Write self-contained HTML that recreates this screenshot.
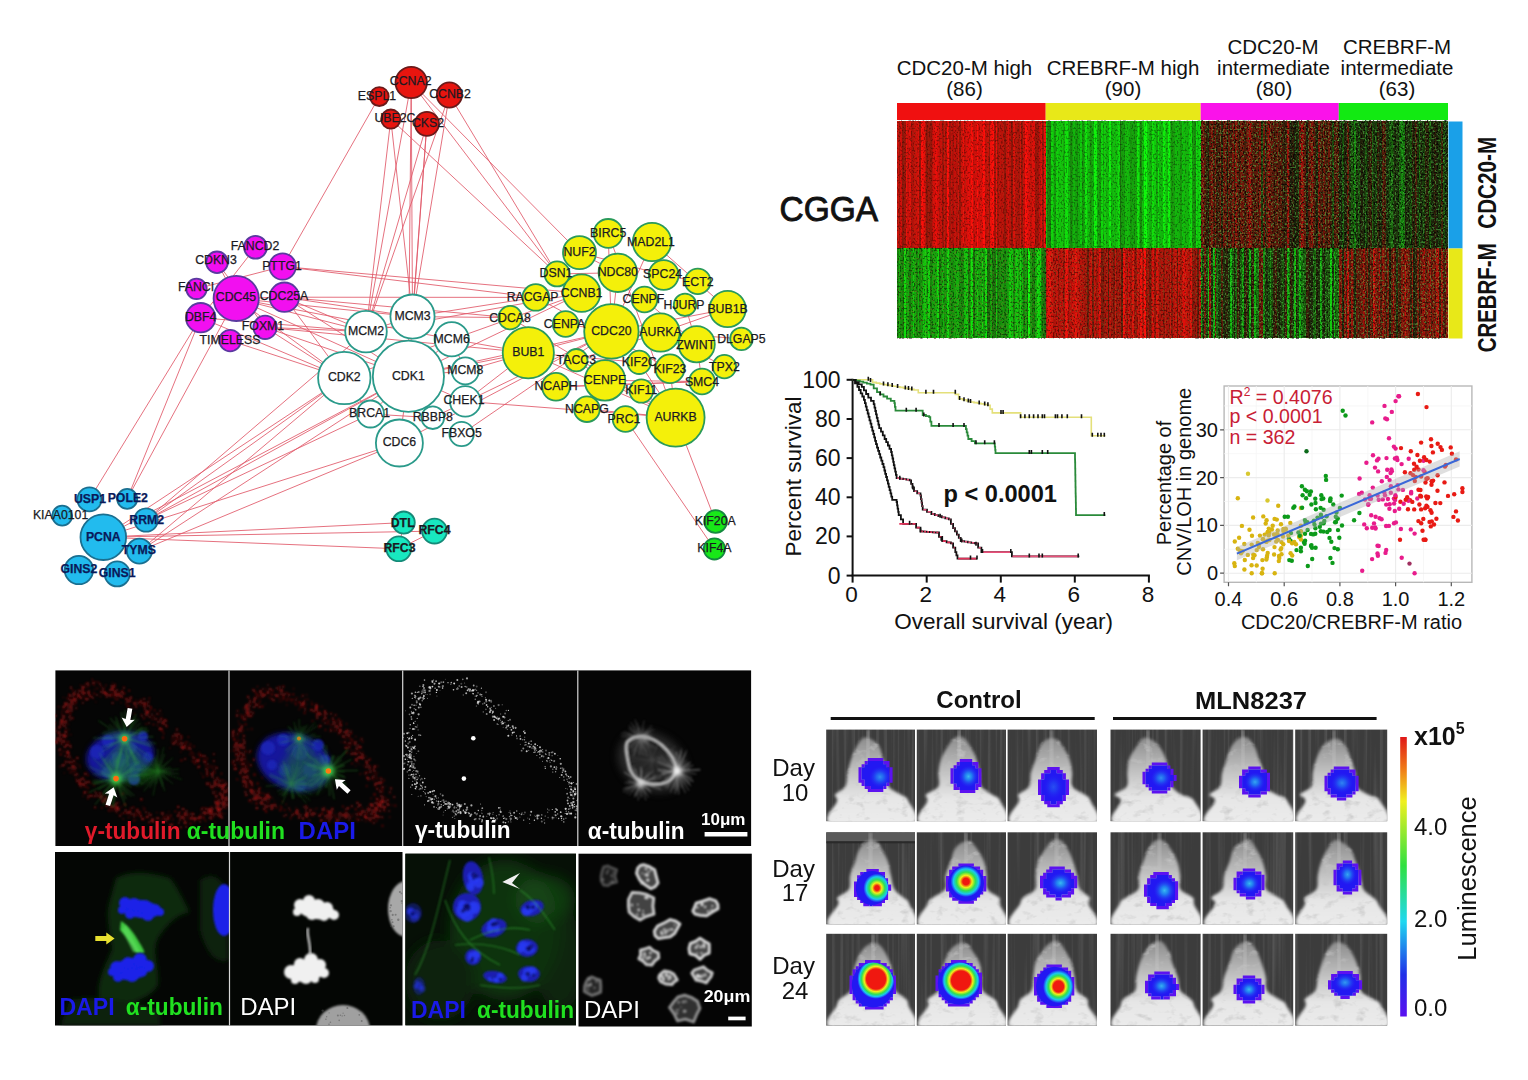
<!DOCTYPE html>
<html><head><meta charset="utf-8"><style>
html,body{margin:0;padding:0;background:#fff;width:1528px;height:1080px;overflow:hidden}
svg{display:block;font-family:"Liberation Sans",sans-serif}
</style></head><body>
<svg width="1528" height="1080" viewBox="0 0 1528 1080">
<g stroke="#e05868" stroke-width="1" stroke-opacity="0.85" fill="none">
<line x1="379.3" y1="96.6" x2="282.6" y2="266.5"/>
<line x1="390.8" y1="119.1" x2="557.1" y2="273.9"/>
<line x1="411.2" y1="82.5" x2="557.1" y2="273.9"/>
<line x1="449.4" y1="95" x2="557.1" y2="273.9"/>
<line x1="411.2" y1="82.5" x2="579.5" y2="252.6"/>
<line x1="390.8" y1="119.1" x2="366" y2="331.6"/>
<line x1="411.2" y1="82.5" x2="366" y2="331.6"/>
<line x1="426.9" y1="123.8" x2="366" y2="331.6"/>
<line x1="449.4" y1="95" x2="366" y2="331.6"/>
<line x1="411.2" y1="82.5" x2="412.5" y2="316.6"/>
<line x1="426.9" y1="123.8" x2="412.5" y2="316.6"/>
<line x1="449.4" y1="95" x2="412.5" y2="316.6"/>
<line x1="390.8" y1="119.1" x2="412.5" y2="316.6"/>
<line x1="411.2" y1="82.5" x2="408.4" y2="376.2"/>
<line x1="426.9" y1="123.8" x2="408.4" y2="376.2"/>
<line x1="282.6" y1="266.5" x2="535.8" y2="297.4"/>
<line x1="284.4" y1="297.2" x2="535.8" y2="297.4"/>
<line x1="282.6" y1="266.5" x2="581.6" y2="293.1"/>
<line x1="284.4" y1="297.2" x2="510.2" y2="317.6"/>
<line x1="284.4" y1="297.2" x2="366" y2="331.6"/>
<line x1="284.4" y1="297.2" x2="344.3" y2="378"/>
<line x1="284.4" y1="297.2" x2="408.4" y2="376.2"/>
<line x1="284.4" y1="297.2" x2="412.5" y2="316.6"/>
<line x1="265.1" y1="327.3" x2="366" y2="331.6"/>
<line x1="265.1" y1="327.3" x2="344.3" y2="378"/>
<line x1="265.1" y1="327.3" x2="408.4" y2="376.2"/>
<line x1="265.1" y1="327.3" x2="528.3" y2="352.7"/>
<line x1="236.2" y1="298.4" x2="366" y2="331.6"/>
<line x1="236.2" y1="298.4" x2="344.3" y2="378"/>
<line x1="236.2" y1="298.4" x2="412.5" y2="316.6"/>
<line x1="236.2" y1="298.4" x2="408.4" y2="376.2"/>
<line x1="236.2" y1="298.4" x2="451.7" y2="339.2"/>
<line x1="230.2" y1="340.6" x2="344.3" y2="378"/>
<line x1="200.7" y1="317.7" x2="344.3" y2="378"/>
<line x1="200.7" y1="317.7" x2="366" y2="331.6"/>
<line x1="89.4" y1="499.4" x2="200.7" y2="317.7"/>
<line x1="127.2" y1="498.9" x2="236.2" y2="298.4"/>
<line x1="127.2" y1="498.9" x2="200.7" y2="317.7"/>
<line x1="146.1" y1="520" x2="344.3" y2="378"/>
<line x1="146.1" y1="520" x2="408.4" y2="376.2"/>
<line x1="103.3" y1="537.2" x2="344.3" y2="378"/>
<line x1="103.3" y1="537.2" x2="408.4" y2="376.2"/>
<line x1="139.4" y1="551.1" x2="408.4" y2="376.2"/>
<line x1="139.4" y1="551.1" x2="399.4" y2="443"/>
<line x1="103.3" y1="537.2" x2="399.4" y2="443"/>
<line x1="146.1" y1="520" x2="366" y2="331.6"/>
<line x1="139.4" y1="551.1" x2="344.3" y2="378"/>
<line x1="146.1" y1="520" x2="370.5" y2="414"/>
<line x1="103.3" y1="537.2" x2="403.7" y2="522.6"/>
<line x1="103.3" y1="537.2" x2="434.5" y2="531.1"/>
<line x1="103.3" y1="537.2" x2="398.8" y2="548.8"/>
<line x1="398.8" y1="548.8" x2="434.5" y2="531.1"/>
<line x1="403.7" y1="522.6" x2="398.8" y2="548.8"/>
<line x1="625.5" y1="419" x2="714.4" y2="548.9"/>
<line x1="675.6" y1="417.6" x2="715.6" y2="521.5"/>
<line x1="366" y1="331.6" x2="412.5" y2="316.6"/>
<line x1="412.5" y1="316.6" x2="535.8" y2="297.4"/>
<line x1="366" y1="331.6" x2="581.6" y2="293.1"/>
<line x1="408.4" y1="376.2" x2="528.3" y2="352.7"/>
<line x1="408.4" y1="376.2" x2="611.4" y2="331.4"/>
<line x1="451.7" y1="339.2" x2="528.3" y2="352.7"/>
<line x1="465.3" y1="370.8" x2="528.3" y2="352.7"/>
<line x1="465.3" y1="401.4" x2="528.3" y2="352.7"/>
<line x1="408.4" y1="376.2" x2="581.6" y2="293.1"/>
<line x1="412.5" y1="316.6" x2="510.2" y2="317.6"/>
<line x1="344.3" y1="378" x2="581.6" y2="293.1"/>
<line x1="465.3" y1="401.4" x2="675.6" y2="417.6"/>
<line x1="432.8" y1="417.7" x2="611.4" y2="331.4"/>
<line x1="399.4" y1="443" x2="611.4" y2="331.4"/>
<line x1="461.6" y1="434" x2="611.4" y2="331.4"/>
<line x1="408.4" y1="376.2" x2="451.7" y2="339.2"/>
<line x1="408.4" y1="376.2" x2="465.3" y2="370.8"/>
<line x1="408.4" y1="376.2" x2="465.3" y2="401.4"/>
<line x1="408.4" y1="376.2" x2="370.5" y2="414"/>
<line x1="408.4" y1="376.2" x2="432.8" y2="417.7"/>
<line x1="408.4" y1="376.2" x2="399.4" y2="443"/>
<line x1="344.3" y1="378" x2="370.5" y2="414"/>
<line x1="370.5" y1="414" x2="432.8" y2="417.7"/>
<line x1="451.7" y1="339.2" x2="465.3" y2="370.8"/>
<line x1="236.2" y1="298.4" x2="284.4" y2="297.2"/>
<line x1="217" y1="262.3" x2="265.1" y2="327.3"/>
<line x1="196.5" y1="288.8" x2="282.6" y2="266.5"/>
<line x1="255.5" y1="247.3" x2="200.7" y2="317.7"/>
<line x1="217" y1="262.3" x2="236.2" y2="298.4"/>
<line x1="528.3" y1="352.7" x2="611.4" y2="331.4"/>
<line x1="528.3" y1="352.7" x2="675.6" y2="417.6"/>
<line x1="611.4" y1="331.4" x2="727.6" y2="309"/>
<line x1="660.5" y1="332.5" x2="727.6" y2="309"/>
<line x1="611.4" y1="331.4" x2="660.5" y2="332.5"/>
<line x1="581.6" y1="293.1" x2="611.4" y2="331.4"/>
<line x1="617.8" y1="272.8" x2="611.4" y2="331.4"/>
<line x1="579.5" y1="252.6" x2="617.8" y2="272.8"/>
<line x1="611.4" y1="331.4" x2="605" y2="380.4"/>
<line x1="605" y1="380.4" x2="675.6" y2="417.6"/>
<line x1="641.3" y1="391" x2="675.6" y2="417.6"/>
<line x1="670" y1="368.7" x2="675.6" y2="417.6"/>
<line x1="702" y1="381.5" x2="556" y2="386.8"/>
<line x1="586.9" y1="409.2" x2="675.6" y2="417.6"/>
<line x1="644.5" y1="299.5" x2="696.7" y2="344.2"/>
<line x1="652" y1="242" x2="727.6" y2="309"/>
<line x1="663.7" y1="275" x2="697.8" y2="281.4"/>
<line x1="685" y1="304.8" x2="696.7" y2="344.2"/>
<line x1="724.4" y1="366.6" x2="660.5" y2="332.5"/>
<line x1="741.4" y1="338.9" x2="660.5" y2="332.5"/>
<line x1="608.2" y1="233.4" x2="675.6" y2="417.6"/>
<line x1="579.5" y1="252.6" x2="663.7" y2="275"/>
<line x1="565.6" y1="324" x2="611.4" y2="331.4"/>
<line x1="535.8" y1="297.4" x2="670" y2="368.7"/>
<line x1="576.3" y1="360.2" x2="660.5" y2="332.5"/>
<line x1="528.3" y1="352.7" x2="639.2" y2="362.3"/>
<line x1="556" y1="386.8" x2="702" y2="381.5"/>
<line x1="557.1" y1="273.9" x2="617.8" y2="272.8"/>
<line x1="510.2" y1="317.6" x2="675.6" y2="417.6"/>
<line x1="605" y1="380.4" x2="702" y2="381.5"/>
<line x1="652" y1="242" x2="611.4" y2="331.4"/>
<line x1="608.2" y1="233.4" x2="611.4" y2="331.4"/>
<line x1="696.7" y1="344.2" x2="702" y2="381.5"/>
<line x1="639.2" y1="362.3" x2="675.6" y2="417.6"/>
<line x1="576.3" y1="360.2" x2="605" y2="380.4"/>
</g>
<g stroke-width="1.8">
<circle cx="411.2" cy="82.5" r="15.7" fill="#e8150f" stroke="#6a1a1a"/>
<circle cx="379.3" cy="96.6" r="9.4" fill="#e8150f" stroke="#6a1a1a"/>
<circle cx="449.4" cy="95" r="12.6" fill="#e8150f" stroke="#6a1a1a"/>
<circle cx="390.8" cy="119.1" r="9.6" fill="#e8150f" stroke="#6a1a1a"/>
<circle cx="426.9" cy="123.8" r="12" fill="#e8150f" stroke="#6a1a1a"/>
<circle cx="255.5" cy="247.3" r="11.4" fill="#f20ff0" stroke="#5a3aa0"/>
<circle cx="217" cy="262.3" r="10.8" fill="#f20ff0" stroke="#5a3aa0"/>
<circle cx="282.6" cy="266.5" r="13.2" fill="#f20ff0" stroke="#5a3aa0"/>
<circle cx="196.5" cy="288.8" r="10.2" fill="#f20ff0" stroke="#5a3aa0"/>
<circle cx="236.2" cy="298.4" r="22.6" fill="#f20ff0" stroke="#5a3aa0"/>
<circle cx="284.4" cy="297.2" r="14.7" fill="#f20ff0" stroke="#5a3aa0"/>
<circle cx="200.7" cy="317.7" r="14.7" fill="#f20ff0" stroke="#5a3aa0"/>
<circle cx="265.1" cy="327.3" r="11.7" fill="#f20ff0" stroke="#5a3aa0"/>
<circle cx="230.2" cy="340.6" r="10.8" fill="#f20ff0" stroke="#5a3aa0"/>
<circle cx="412.5" cy="316.6" r="22.1" fill="#ffffff" stroke="#2a9a8a"/>
<circle cx="366" cy="331.6" r="20.8" fill="#ffffff" stroke="#2a9a8a"/>
<circle cx="451.7" cy="339.2" r="17.1" fill="#ffffff" stroke="#2a9a8a"/>
<circle cx="344.3" cy="378" r="26.2" fill="#ffffff" stroke="#2a9a8a"/>
<circle cx="408.4" cy="376.2" r="35.6" fill="#ffffff" stroke="#2a9a8a"/>
<circle cx="465.3" cy="370.8" r="13.5" fill="#ffffff" stroke="#2a9a8a"/>
<circle cx="465.3" cy="401.4" r="15.3" fill="#ffffff" stroke="#2a9a8a"/>
<circle cx="370.5" cy="414" r="13.5" fill="#ffffff" stroke="#2a9a8a"/>
<circle cx="432.8" cy="417.7" r="11.3" fill="#ffffff" stroke="#2a9a8a"/>
<circle cx="461.6" cy="434" r="12.2" fill="#ffffff" stroke="#2a9a8a"/>
<circle cx="399.4" cy="443" r="23.5" fill="#ffffff" stroke="#2a9a8a"/>
<circle cx="608.2" cy="233.4" r="14.4" fill="#f4f00a" stroke="#2a9a5a"/>
<circle cx="579.5" cy="252.6" r="16.5" fill="#f4f00a" stroke="#2a9a5a"/>
<circle cx="557.1" cy="273.9" r="12.5" fill="#f4f00a" stroke="#2a9a5a"/>
<circle cx="617.8" cy="272.8" r="19.2" fill="#f4f00a" stroke="#2a9a5a"/>
<circle cx="581.6" cy="293.1" r="18.7" fill="#f4f00a" stroke="#2a9a5a"/>
<circle cx="535.8" cy="297.4" r="13.3" fill="#f4f00a" stroke="#2a9a5a"/>
<circle cx="510.2" cy="317.6" r="11.7" fill="#f4f00a" stroke="#2a9a5a"/>
<circle cx="565.6" cy="324" r="12.8" fill="#f4f00a" stroke="#2a9a5a"/>
<circle cx="611.4" cy="331.4" r="27.2" fill="#f4f00a" stroke="#2a9a5a"/>
<circle cx="528.3" cy="352.7" r="25.6" fill="#f4f00a" stroke="#2a9a5a"/>
<circle cx="576.3" cy="360.2" r="11.2" fill="#f4f00a" stroke="#2a9a5a"/>
<circle cx="605" cy="380.4" r="20.3" fill="#f4f00a" stroke="#2a9a5a"/>
<circle cx="556" cy="386.8" r="13.9" fill="#f4f00a" stroke="#2a9a5a"/>
<circle cx="586.9" cy="409.2" r="12.8" fill="#f4f00a" stroke="#2a9a5a"/>
<circle cx="625.5" cy="419" r="12.8" fill="#f4f00a" stroke="#2a9a5a"/>
<circle cx="652" cy="242" r="19.2" fill="#f4f00a" stroke="#2a9a5a"/>
<circle cx="663.7" cy="275" r="14.9" fill="#f4f00a" stroke="#2a9a5a"/>
<circle cx="697.8" cy="281.4" r="12.8" fill="#f4f00a" stroke="#2a9a5a"/>
<circle cx="644.5" cy="299.5" r="12.8" fill="#f4f00a" stroke="#2a9a5a"/>
<circle cx="685" cy="304.8" r="11.2" fill="#f4f00a" stroke="#2a9a5a"/>
<circle cx="727.6" cy="309" r="18.1" fill="#f4f00a" stroke="#2a9a5a"/>
<circle cx="660.5" cy="332.5" r="19.2" fill="#f4f00a" stroke="#2a9a5a"/>
<circle cx="696.7" cy="344.2" r="18.1" fill="#f4f00a" stroke="#2a9a5a"/>
<circle cx="741.4" cy="338.9" r="11.2" fill="#f4f00a" stroke="#2a9a5a"/>
<circle cx="639.2" cy="362.3" r="11.7" fill="#f4f00a" stroke="#2a9a5a"/>
<circle cx="670" cy="368.7" r="14.4" fill="#f4f00a" stroke="#2a9a5a"/>
<circle cx="724.4" cy="366.6" r="11.7" fill="#f4f00a" stroke="#2a9a5a"/>
<circle cx="702" cy="381.5" r="12.8" fill="#f4f00a" stroke="#2a9a5a"/>
<circle cx="641.3" cy="391" r="11.7" fill="#f4f00a" stroke="#2a9a5a"/>
<circle cx="675.6" cy="417.6" r="29" fill="#f4f00a" stroke="#2a9a5a"/>
<circle cx="89.4" cy="499.4" r="12" fill="#22bbee" stroke="#1a6f90"/>
<circle cx="127.2" cy="498.9" r="10" fill="#22bbee" stroke="#1a6f90"/>
<circle cx="62.2" cy="515.6" r="10" fill="#22bbee" stroke="#1a6f90"/>
<circle cx="146.1" cy="520" r="11.7" fill="#22bbee" stroke="#1a6f90"/>
<circle cx="103.3" cy="537.2" r="22.8" fill="#22bbee" stroke="#1a6f90"/>
<circle cx="139.4" cy="551.1" r="12.5" fill="#22bbee" stroke="#1a6f90"/>
<circle cx="78.9" cy="570" r="14.2" fill="#22bbee" stroke="#1a6f90"/>
<circle cx="117.2" cy="573.9" r="12.5" fill="#22bbee" stroke="#1a6f90"/>
<circle cx="403.7" cy="522.6" r="11.1" fill="#18e8c0" stroke="#158a78"/>
<circle cx="434.5" cy="531.1" r="12.4" fill="#18e8c0" stroke="#158a78"/>
<circle cx="398.8" cy="548.8" r="12.4" fill="#18e8c0" stroke="#158a78"/>
<circle cx="715.6" cy="521.5" r="11.3" fill="#18e818" stroke="#158a40"/>
<circle cx="714.4" cy="548.9" r="10.6" fill="#18e818" stroke="#158a40"/>
</g>
<g font-size="12.3" text-anchor="middle" fill="#1a1a22" stroke="#1a1a22" stroke-width="0.25" dominant-baseline="central">
<text x="410.7" y="81.4">CCNA2</text>
<text x="377" y="95.9">ESPL1</text>
<text x="450" y="94.4">CCNB2</text>
<text x="395" y="118.4">UBE2C</text>
<text x="428" y="123.4">CKS2</text>
<text x="255" y="246.4">FANCD2</text>
<text x="216" y="260.4">CDKN3</text>
<text x="282" y="265.9">PTTG1</text>
<text x="196" y="287.4">FANCI</text>
<text x="236" y="297.4">CDC45</text>
<text x="284" y="296.4">CDC25A</text>
<text x="200.7" y="317.1">DBF4</text>
<text x="263" y="326.4">FOXM1</text>
<text x="230" y="340">TIMELESS</text>
<text x="412.5" y="316">MCM3</text>
<text x="366" y="331">MCM2</text>
<text x="451.7" y="338.6">MCM6</text>
<text x="344.3" y="377.4">CDK2</text>
<text x="408.4" y="375.6">CDK1</text>
<text x="465.3" y="370.2">MCM8</text>
<text x="464" y="400.4">CHEK1</text>
<text x="369.6" y="413.4">BRCA1</text>
<text x="432.8" y="417.1">RBBP8</text>
<text x="461.6" y="433.4">FBXO5</text>
<text x="399.4" y="442.4">CDC6</text>
<text x="608.2" y="232.8">BIRC5</text>
<text x="579.5" y="252">NUF2</text>
<text x="556" y="273.4">DSN1</text>
<text x="617.8" y="272.2">NDC80</text>
<text x="581.6" y="292.5">CCNB1</text>
<text x="532.6" y="296.8">RACGAP</text>
<text x="510" y="318">CDCA8</text>
<text x="564.6" y="324.4">CENPA</text>
<text x="611.4" y="330.8">CDC20</text>
<text x="528.3" y="352.1">BUB1</text>
<text x="576.3" y="359.6">TACC3</text>
<text x="605" y="379.8">CENPE</text>
<text x="556" y="386.2">NCAPH</text>
<text x="586.9" y="408.6">NCAPG</text>
<text x="624" y="419.4">PRC1</text>
<text x="651" y="242.4">MAD2L1</text>
<text x="662.6" y="274.4">SPC24</text>
<text x="697.8" y="281.8">ECT2</text>
<text x="643.4" y="298.9">CENPF</text>
<text x="684" y="305.4">HJURP</text>
<text x="727.6" y="309.4">BUB1B</text>
<text x="660.5" y="331.9">AURKA</text>
<text x="695.6" y="344.7">ZWINT</text>
<text x="741.4" y="339.4">DLGAP5</text>
<text x="639.2" y="361.7">KIF2C</text>
<text x="670" y="369.2">KIF23</text>
<text x="724.4" y="367">TPX2</text>
<text x="702" y="382">SMC4</text>
<text x="641.3" y="390.4">KIF11</text>
<text x="675.6" y="417">AURKB</text>
<text x="90" y="498.8" fill="#0a1a5a" stroke="#0a1a5a" font-weight="bold">USP1</text>
<text x="127.8" y="498.4" fill="#0a1a5a" stroke="#0a1a5a" font-weight="bold">POLE2</text>
<text x="60.6" y="515.4">KIAA0101</text>
<text x="146.7" y="520" fill="#0a1a5a" stroke="#0a1a5a" font-weight="bold">RRM2</text>
<text x="103.3" y="536.6" fill="#0a1a5a" stroke="#0a1a5a" font-weight="bold">PCNA</text>
<text x="138.9" y="550.4" fill="#0a1a5a" stroke="#0a1a5a" font-weight="bold">TYMS</text>
<text x="78.9" y="569.4" fill="#0a1a5a" stroke="#0a1a5a" font-weight="bold">GINS2</text>
<text x="117.2" y="573.4" fill="#0a1a5a" stroke="#0a1a5a" font-weight="bold">GINS1</text>
<text x="402.7" y="523" font-weight="bold">DTL</text>
<text x="434.5" y="530.2" font-weight="bold">RFC4</text>
<text x="399.5" y="547.8" font-weight="bold">RFC3</text>
<text x="715.2" y="521.3">KIF20A</text>
<text x="714.4" y="547.9">KIF4A</text>
</g>
<g font-size="20.5" text-anchor="middle" fill="#111">
<text x="964.5" y="75">CDC20-M high</text><text x="964.5" y="95.5">(86)</text>
<text x="1123" y="75">CREBRF-M high</text><text x="1123" y="95.5">(90)</text>
<text x="1273" y="53.5">CDC20-M</text><text x="1273.5" y="74.5">intermediate</text><text x="1274" y="95.5">(80)</text>
<text x="1397" y="53.5">CREBRF-M</text><text x="1397" y="74.5">intermediate</text><text x="1397" y="95.5">(63)</text>
</g>
<text x="779.5" y="220.8" font-size="35.5" fill="#111" stroke="#111" stroke-width="0.9" textLength="98.5" lengthAdjust="spacingAndGlyphs">CGGA</text>
<rect x="897" y="103" width="148.70000000000005" height="17" fill="#f01010"/>
<rect x="1045.7" y="103" width="155.0" height="17" fill="#e8e818"/>
<rect x="1200.7" y="103" width="138.0999999999999" height="17" fill="#fa12ea"/>
<rect x="1338.8" y="103" width="109.20000000000005" height="17" fill="#12ea12"/>
<rect x="1448.5" y="121.5" width="14" height="127" fill="#1aa0e8"/>
<rect x="1448.5" y="248.5" width="14" height="90" fill="#e8e818"/>
<text transform="translate(1495.5,182.8) rotate(-90)" font-size="25" font-weight="bold" text-anchor="middle" fill="#111" textLength="92" lengthAdjust="spacingAndGlyphs">CDC20-M</text>
<text transform="translate(1495.5,297.8) rotate(-90)" font-size="25" font-weight="bold" text-anchor="middle" fill="#111" textLength="109" lengthAdjust="spacingAndGlyphs">CREBRF-M</text>
<g shape-rendering="crispEdges"><rect x="897.00" y="120.5" width="2.03" height="127.8" fill="#cb110a"/><rect x="897.00" y="248.3" width="2.03" height="89.9" fill="#15870c"/><rect x="898.73" y="120.5" width="2.03" height="127.8" fill="#9e130a"/><rect x="898.73" y="248.3" width="2.03" height="89.9" fill="#13b10c"/><rect x="900.46" y="120.5" width="2.03" height="127.8" fill="#d00e0a"/><rect x="900.46" y="248.3" width="2.03" height="89.9" fill="#14900c"/><rect x="902.19" y="120.5" width="2.03" height="127.8" fill="#8e150a"/><rect x="902.19" y="248.3" width="2.03" height="89.9" fill="#17820c"/><rect x="903.92" y="120.5" width="2.03" height="127.8" fill="#9f150a"/><rect x="903.92" y="248.3" width="2.03" height="89.9" fill="#0edd0c"/><rect x="905.65" y="120.5" width="2.03" height="127.8" fill="#e7100a"/><rect x="905.65" y="248.3" width="2.03" height="89.9" fill="#13a20c"/><rect x="907.37" y="120.5" width="2.03" height="127.8" fill="#ca100a"/><rect x="907.37" y="248.3" width="2.03" height="89.9" fill="#15a80c"/><rect x="909.10" y="120.5" width="2.03" height="127.8" fill="#e20f0a"/><rect x="909.10" y="248.3" width="2.03" height="89.9" fill="#187c0c"/><rect x="910.83" y="120.5" width="2.03" height="127.8" fill="#ad120a"/><rect x="910.83" y="248.3" width="2.03" height="89.9" fill="#13a00c"/><rect x="912.56" y="120.5" width="2.03" height="127.8" fill="#b6120a"/><rect x="912.56" y="248.3" width="2.03" height="89.9" fill="#10ce0c"/><rect x="914.29" y="120.5" width="2.03" height="127.8" fill="#c2130a"/><rect x="914.29" y="248.3" width="2.03" height="89.9" fill="#14a90c"/><rect x="916.02" y="120.5" width="2.03" height="127.8" fill="#ce110a"/><rect x="916.02" y="248.3" width="2.03" height="89.9" fill="#18880c"/><rect x="917.75" y="120.5" width="2.03" height="127.8" fill="#e0110a"/><rect x="917.75" y="248.3" width="2.03" height="89.9" fill="#11b30c"/><rect x="919.48" y="120.5" width="2.03" height="127.8" fill="#94150a"/><rect x="919.48" y="248.3" width="2.03" height="89.9" fill="#168c0c"/><rect x="921.21" y="120.5" width="2.03" height="127.8" fill="#fb0e0a"/><rect x="921.21" y="248.3" width="2.03" height="89.9" fill="#159f0c"/><rect x="922.94" y="120.5" width="2.03" height="127.8" fill="#e70f0a"/><rect x="922.94" y="248.3" width="2.03" height="89.9" fill="#11c30c"/><rect x="924.67" y="120.5" width="2.03" height="127.8" fill="#bf130a"/><rect x="924.67" y="248.3" width="2.03" height="89.9" fill="#12d00c"/><rect x="926.39" y="120.5" width="2.03" height="127.8" fill="#91150a"/><rect x="926.39" y="248.3" width="2.03" height="89.9" fill="#14a90c"/><rect x="928.12" y="120.5" width="2.03" height="127.8" fill="#a2160a"/><rect x="928.12" y="248.3" width="2.03" height="89.9" fill="#0ed60c"/><rect x="929.85" y="120.5" width="2.03" height="127.8" fill="#98140a"/><rect x="929.85" y="248.3" width="2.03" height="89.9" fill="#17860c"/><rect x="931.58" y="120.5" width="2.03" height="127.8" fill="#bb100a"/><rect x="931.58" y="248.3" width="2.03" height="89.9" fill="#15a40c"/><rect x="933.31" y="120.5" width="2.03" height="127.8" fill="#d40f0a"/><rect x="933.31" y="248.3" width="2.03" height="89.9" fill="#15a40c"/><rect x="935.04" y="120.5" width="2.03" height="127.8" fill="#e90e0a"/><rect x="935.04" y="248.3" width="2.03" height="89.9" fill="#15a50c"/><rect x="936.77" y="120.5" width="2.03" height="127.8" fill="#d60e0a"/><rect x="936.77" y="248.3" width="2.03" height="89.9" fill="#0ede0c"/><rect x="938.50" y="120.5" width="2.03" height="127.8" fill="#b9140a"/><rect x="938.50" y="248.3" width="2.03" height="89.9" fill="#19680c"/><rect x="940.23" y="120.5" width="2.03" height="127.8" fill="#c6100a"/><rect x="940.23" y="248.3" width="2.03" height="89.9" fill="#16920c"/><rect x="941.96" y="120.5" width="2.03" height="127.8" fill="#a2130a"/><rect x="941.96" y="248.3" width="2.03" height="89.9" fill="#12b40c"/><rect x="943.68" y="120.5" width="2.03" height="127.8" fill="#c7130a"/><rect x="943.68" y="248.3" width="2.03" height="89.9" fill="#178f0c"/><rect x="945.41" y="120.5" width="2.03" height="127.8" fill="#ac150a"/><rect x="945.41" y="248.3" width="2.03" height="89.9" fill="#139a0c"/><rect x="947.14" y="120.5" width="2.03" height="127.8" fill="#ff0e0a"/><rect x="947.14" y="248.3" width="2.03" height="89.9" fill="#10dc0c"/><rect x="948.87" y="120.5" width="2.03" height="127.8" fill="#a3130a"/><rect x="948.87" y="248.3" width="2.03" height="89.9" fill="#16980c"/><rect x="950.60" y="120.5" width="2.03" height="127.8" fill="#c6100a"/><rect x="950.60" y="248.3" width="2.03" height="89.9" fill="#14960c"/><rect x="952.33" y="120.5" width="2.03" height="127.8" fill="#ae110a"/><rect x="952.33" y="248.3" width="2.03" height="89.9" fill="#14920c"/><rect x="954.06" y="120.5" width="2.03" height="127.8" fill="#c60f0a"/><rect x="954.06" y="248.3" width="2.03" height="89.9" fill="#16a30c"/><rect x="955.79" y="120.5" width="2.03" height="127.8" fill="#b4120a"/><rect x="955.79" y="248.3" width="2.03" height="89.9" fill="#12af0c"/><rect x="957.52" y="120.5" width="2.03" height="127.8" fill="#d3120a"/><rect x="957.52" y="248.3" width="2.03" height="89.9" fill="#15af0c"/><rect x="959.25" y="120.5" width="2.03" height="127.8" fill="#9a140a"/><rect x="959.25" y="248.3" width="2.03" height="89.9" fill="#14910c"/><rect x="960.98" y="120.5" width="2.03" height="127.8" fill="#cf120a"/><rect x="960.98" y="248.3" width="2.03" height="89.9" fill="#16860c"/><rect x="962.70" y="120.5" width="2.03" height="127.8" fill="#ed0e0a"/><rect x="962.70" y="248.3" width="2.03" height="89.9" fill="#158f0c"/><rect x="964.43" y="120.5" width="2.03" height="127.8" fill="#c6110a"/><rect x="964.43" y="248.3" width="2.03" height="89.9" fill="#13c00c"/><rect x="966.16" y="120.5" width="2.03" height="127.8" fill="#da0e0a"/><rect x="966.16" y="248.3" width="2.03" height="89.9" fill="#0fca0c"/><rect x="967.89" y="120.5" width="2.03" height="127.8" fill="#e50e0a"/><rect x="967.89" y="248.3" width="2.03" height="89.9" fill="#197e0c"/><rect x="969.62" y="120.5" width="2.03" height="127.8" fill="#d1120a"/><rect x="969.62" y="248.3" width="2.03" height="89.9" fill="#16a50c"/><rect x="971.35" y="120.5" width="2.03" height="127.8" fill="#fc0e0a"/><rect x="971.35" y="248.3" width="2.03" height="89.9" fill="#0ee80c"/><rect x="973.08" y="120.5" width="2.03" height="127.8" fill="#c9100a"/><rect x="973.08" y="248.3" width="2.03" height="89.9" fill="#18710c"/><rect x="974.81" y="120.5" width="2.03" height="127.8" fill="#d40e0a"/><rect x="974.81" y="248.3" width="2.03" height="89.9" fill="#14ac0c"/><rect x="976.54" y="120.5" width="2.03" height="127.8" fill="#ff0e0a"/><rect x="976.54" y="248.3" width="2.03" height="89.9" fill="#12c90c"/><rect x="978.27" y="120.5" width="2.03" height="127.8" fill="#d50e0a"/><rect x="978.27" y="248.3" width="2.03" height="89.9" fill="#13a60c"/><rect x="980.00" y="120.5" width="2.03" height="127.8" fill="#d8100a"/><rect x="980.00" y="248.3" width="2.03" height="89.9" fill="#16a20c"/><rect x="981.72" y="120.5" width="2.03" height="127.8" fill="#e50f0a"/><rect x="981.72" y="248.3" width="2.03" height="89.9" fill="#10d90c"/><rect x="983.45" y="120.5" width="2.03" height="127.8" fill="#ff0e0a"/><rect x="983.45" y="248.3" width="2.03" height="89.9" fill="#16990c"/><rect x="985.18" y="120.5" width="2.03" height="127.8" fill="#bb110a"/><rect x="985.18" y="248.3" width="2.03" height="89.9" fill="#0fdf0c"/><rect x="986.91" y="120.5" width="2.03" height="127.8" fill="#c7130a"/><rect x="986.91" y="248.3" width="2.03" height="89.9" fill="#19700c"/><rect x="988.64" y="120.5" width="2.03" height="127.8" fill="#9c160a"/><rect x="988.64" y="248.3" width="2.03" height="89.9" fill="#196f0c"/><rect x="990.37" y="120.5" width="2.03" height="127.8" fill="#ec100a"/><rect x="990.37" y="248.3" width="2.03" height="89.9" fill="#15a70c"/><rect x="992.10" y="120.5" width="2.03" height="127.8" fill="#ff0e0a"/><rect x="992.10" y="248.3" width="2.03" height="89.9" fill="#197a0c"/><rect x="993.83" y="120.5" width="2.03" height="127.8" fill="#a6130a"/><rect x="993.83" y="248.3" width="2.03" height="89.9" fill="#17760c"/><rect x="995.56" y="120.5" width="2.03" height="127.8" fill="#ed0e0a"/><rect x="995.56" y="248.3" width="2.03" height="89.9" fill="#13c50c"/><rect x="997.29" y="120.5" width="2.03" height="127.8" fill="#a4160a"/><rect x="997.29" y="248.3" width="2.03" height="89.9" fill="#16830c"/><rect x="999.02" y="120.5" width="2.03" height="127.8" fill="#be110a"/><rect x="999.02" y="248.3" width="2.03" height="89.9" fill="#168f0c"/><rect x="1000.74" y="120.5" width="2.03" height="127.8" fill="#b7110a"/><rect x="1000.74" y="248.3" width="2.03" height="89.9" fill="#17930c"/><rect x="1002.47" y="120.5" width="2.03" height="127.8" fill="#bc130a"/><rect x="1002.47" y="248.3" width="2.03" height="89.9" fill="#17990c"/><rect x="1004.20" y="120.5" width="2.03" height="127.8" fill="#94160a"/><rect x="1004.20" y="248.3" width="2.03" height="89.9" fill="#17850c"/><rect x="1005.93" y="120.5" width="2.03" height="127.8" fill="#c3110a"/><rect x="1005.93" y="248.3" width="2.03" height="89.9" fill="#139d0c"/><rect x="1007.66" y="120.5" width="2.03" height="127.8" fill="#d80e0a"/><rect x="1007.66" y="248.3" width="2.03" height="89.9" fill="#14a60c"/><rect x="1009.39" y="120.5" width="2.03" height="127.8" fill="#bd110a"/><rect x="1009.39" y="248.3" width="2.03" height="89.9" fill="#0fd50c"/><rect x="1011.12" y="120.5" width="2.03" height="127.8" fill="#8e150a"/><rect x="1011.12" y="248.3" width="2.03" height="89.9" fill="#11c00c"/><rect x="1012.85" y="120.5" width="2.03" height="127.8" fill="#d9110a"/><rect x="1012.85" y="248.3" width="2.03" height="89.9" fill="#168e0c"/><rect x="1014.58" y="120.5" width="2.03" height="127.8" fill="#b0150a"/><rect x="1014.58" y="248.3" width="2.03" height="89.9" fill="#11bc0c"/><rect x="1016.31" y="120.5" width="2.03" height="127.8" fill="#b3130a"/><rect x="1016.31" y="248.3" width="2.03" height="89.9" fill="#11cd0c"/><rect x="1018.03" y="120.5" width="2.03" height="127.8" fill="#a9140a"/><rect x="1018.03" y="248.3" width="2.03" height="89.9" fill="#15ae0c"/><rect x="1019.76" y="120.5" width="2.03" height="127.8" fill="#ce120a"/><rect x="1019.76" y="248.3" width="2.03" height="89.9" fill="#0ed50c"/><rect x="1021.49" y="120.5" width="2.03" height="127.8" fill="#99170a"/><rect x="1021.49" y="248.3" width="2.03" height="89.9" fill="#10b50c"/><rect x="1023.22" y="120.5" width="2.03" height="127.8" fill="#c90f0a"/><rect x="1023.22" y="248.3" width="2.03" height="89.9" fill="#16860c"/><rect x="1024.95" y="120.5" width="2.03" height="127.8" fill="#fc0e0a"/><rect x="1024.95" y="248.3" width="2.03" height="89.9" fill="#16a10c"/><rect x="1026.68" y="120.5" width="2.03" height="127.8" fill="#ee0e0a"/><rect x="1026.68" y="248.3" width="2.03" height="89.9" fill="#18710c"/><rect x="1028.41" y="120.5" width="2.03" height="127.8" fill="#db0e0a"/><rect x="1028.41" y="248.3" width="2.03" height="89.9" fill="#0efc0c"/><rect x="1030.14" y="120.5" width="2.03" height="127.8" fill="#c7130a"/><rect x="1030.14" y="248.3" width="2.03" height="89.9" fill="#169d0c"/><rect x="1031.87" y="120.5" width="2.03" height="127.8" fill="#dc0f0a"/><rect x="1031.87" y="248.3" width="2.03" height="89.9" fill="#17840c"/><rect x="1033.60" y="120.5" width="2.03" height="127.8" fill="#df100a"/><rect x="1033.60" y="248.3" width="2.03" height="89.9" fill="#167c0c"/><rect x="1035.33" y="120.5" width="2.03" height="127.8" fill="#9a140a"/><rect x="1035.33" y="248.3" width="2.03" height="89.9" fill="#12ae0c"/><rect x="1037.05" y="120.5" width="2.03" height="127.8" fill="#a0130a"/><rect x="1037.05" y="248.3" width="2.03" height="89.9" fill="#10de0c"/><rect x="1038.78" y="120.5" width="2.03" height="127.8" fill="#c80f0a"/><rect x="1038.78" y="248.3" width="2.03" height="89.9" fill="#0ed50c"/><rect x="1040.51" y="120.5" width="2.03" height="127.8" fill="#de0e0a"/><rect x="1040.51" y="248.3" width="2.03" height="89.9" fill="#158c0c"/><rect x="1042.24" y="120.5" width="2.03" height="127.8" fill="#a1160a"/><rect x="1042.24" y="248.3" width="2.03" height="89.9" fill="#177d0c"/><rect x="1043.97" y="120.5" width="2.03" height="127.8" fill="#ef0e0a"/><rect x="1043.97" y="248.3" width="2.03" height="89.9" fill="#1a700c"/><rect x="1045.70" y="120.5" width="2.02" height="127.8" fill="#12bd0c"/><rect x="1045.70" y="248.3" width="2.02" height="89.9" fill="#b6130a"/><rect x="1047.42" y="120.5" width="2.02" height="127.8" fill="#17880c"/><rect x="1047.42" y="248.3" width="2.02" height="89.9" fill="#e4100a"/><rect x="1049.14" y="120.5" width="2.02" height="127.8" fill="#167f0c"/><rect x="1049.14" y="248.3" width="2.02" height="89.9" fill="#e6100a"/><rect x="1050.87" y="120.5" width="2.02" height="127.8" fill="#0fd60c"/><rect x="1050.87" y="248.3" width="2.02" height="89.9" fill="#cf120a"/><rect x="1052.59" y="120.5" width="2.02" height="127.8" fill="#11bf0c"/><rect x="1052.59" y="248.3" width="2.02" height="89.9" fill="#b7110a"/><rect x="1054.31" y="120.5" width="2.02" height="127.8" fill="#139c0c"/><rect x="1054.31" y="248.3" width="2.02" height="89.9" fill="#b1120a"/><rect x="1056.03" y="120.5" width="2.02" height="127.8" fill="#11d20c"/><rect x="1056.03" y="248.3" width="2.02" height="89.9" fill="#c2110a"/><rect x="1057.76" y="120.5" width="2.02" height="127.8" fill="#10c50c"/><rect x="1057.76" y="248.3" width="2.02" height="89.9" fill="#9e130a"/><rect x="1059.48" y="120.5" width="2.02" height="127.8" fill="#11c70c"/><rect x="1059.48" y="248.3" width="2.02" height="89.9" fill="#bb130a"/><rect x="1061.20" y="120.5" width="2.02" height="127.8" fill="#13c40c"/><rect x="1061.20" y="248.3" width="2.02" height="89.9" fill="#c0100a"/><rect x="1062.92" y="120.5" width="2.02" height="127.8" fill="#13b00c"/><rect x="1062.92" y="248.3" width="2.02" height="89.9" fill="#a1160a"/><rect x="1064.64" y="120.5" width="2.02" height="127.8" fill="#0fdf0c"/><rect x="1064.64" y="248.3" width="2.02" height="89.9" fill="#e3110a"/><rect x="1066.37" y="120.5" width="2.02" height="127.8" fill="#0fe30c"/><rect x="1066.37" y="248.3" width="2.02" height="89.9" fill="#ee0e0a"/><rect x="1068.09" y="120.5" width="2.02" height="127.8" fill="#0fba0c"/><rect x="1068.09" y="248.3" width="2.02" height="89.9" fill="#b2110a"/><rect x="1069.81" y="120.5" width="2.02" height="127.8" fill="#168b0c"/><rect x="1069.81" y="248.3" width="2.02" height="89.9" fill="#b9110a"/><rect x="1071.53" y="120.5" width="2.02" height="127.8" fill="#169d0c"/><rect x="1071.53" y="248.3" width="2.02" height="89.9" fill="#db100a"/><rect x="1073.26" y="120.5" width="2.02" height="127.8" fill="#11b60c"/><rect x="1073.26" y="248.3" width="2.02" height="89.9" fill="#c9110a"/><rect x="1074.98" y="120.5" width="2.02" height="127.8" fill="#13a20c"/><rect x="1074.98" y="248.3" width="2.02" height="89.9" fill="#e8100a"/><rect x="1076.70" y="120.5" width="2.02" height="127.8" fill="#15910c"/><rect x="1076.70" y="248.3" width="2.02" height="89.9" fill="#c0140a"/><rect x="1078.42" y="120.5" width="2.02" height="127.8" fill="#11ad0c"/><rect x="1078.42" y="248.3" width="2.02" height="89.9" fill="#c9100a"/><rect x="1080.14" y="120.5" width="2.02" height="127.8" fill="#0ecb0c"/><rect x="1080.14" y="248.3" width="2.02" height="89.9" fill="#ba120a"/><rect x="1081.87" y="120.5" width="2.02" height="127.8" fill="#14960c"/><rect x="1081.87" y="248.3" width="2.02" height="89.9" fill="#b0130a"/><rect x="1083.59" y="120.5" width="2.02" height="127.8" fill="#12ae0c"/><rect x="1083.59" y="248.3" width="2.02" height="89.9" fill="#a9130a"/><rect x="1085.31" y="120.5" width="2.02" height="127.8" fill="#0fe60c"/><rect x="1085.31" y="248.3" width="2.02" height="89.9" fill="#a5150a"/><rect x="1087.03" y="120.5" width="2.02" height="127.8" fill="#10c20c"/><rect x="1087.03" y="248.3" width="2.02" height="89.9" fill="#6e1a0a"/><rect x="1088.76" y="120.5" width="2.02" height="127.8" fill="#13b70c"/><rect x="1088.76" y="248.3" width="2.02" height="89.9" fill="#b8130a"/><rect x="1090.48" y="120.5" width="2.02" height="127.8" fill="#17990c"/><rect x="1090.48" y="248.3" width="2.02" height="89.9" fill="#ca110a"/><rect x="1092.20" y="120.5" width="2.02" height="127.8" fill="#11b00c"/><rect x="1092.20" y="248.3" width="2.02" height="89.9" fill="#7a190a"/><rect x="1093.92" y="120.5" width="2.02" height="127.8" fill="#0ef40c"/><rect x="1093.92" y="248.3" width="2.02" height="89.9" fill="#c0130a"/><rect x="1095.64" y="120.5" width="2.02" height="127.8" fill="#0eed0c"/><rect x="1095.64" y="248.3" width="2.02" height="89.9" fill="#98170a"/><rect x="1097.37" y="120.5" width="2.02" height="127.8" fill="#12aa0c"/><rect x="1097.37" y="248.3" width="2.02" height="89.9" fill="#b5120a"/><rect x="1099.09" y="120.5" width="2.02" height="127.8" fill="#16960c"/><rect x="1099.09" y="248.3" width="2.02" height="89.9" fill="#df0f0a"/><rect x="1100.81" y="120.5" width="2.02" height="127.8" fill="#0fd80c"/><rect x="1100.81" y="248.3" width="2.02" height="89.9" fill="#7f170a"/><rect x="1102.53" y="120.5" width="2.02" height="127.8" fill="#13af0c"/><rect x="1102.53" y="248.3" width="2.02" height="89.9" fill="#82180a"/><rect x="1104.26" y="120.5" width="2.02" height="127.8" fill="#11cd0c"/><rect x="1104.26" y="248.3" width="2.02" height="89.9" fill="#9f140a"/><rect x="1105.98" y="120.5" width="2.02" height="127.8" fill="#13b30c"/><rect x="1105.98" y="248.3" width="2.02" height="89.9" fill="#b1120a"/><rect x="1107.70" y="120.5" width="2.02" height="127.8" fill="#11c10c"/><rect x="1107.70" y="248.3" width="2.02" height="89.9" fill="#591c0a"/><rect x="1109.42" y="120.5" width="2.02" height="127.8" fill="#0ef10c"/><rect x="1109.42" y="248.3" width="2.02" height="89.9" fill="#bf120a"/><rect x="1111.14" y="120.5" width="2.02" height="127.8" fill="#11b20c"/><rect x="1111.14" y="248.3" width="2.02" height="89.9" fill="#9f140a"/><rect x="1112.87" y="120.5" width="2.02" height="127.8" fill="#11c00c"/><rect x="1112.87" y="248.3" width="2.02" height="89.9" fill="#86160a"/><rect x="1114.59" y="120.5" width="2.02" height="127.8" fill="#14b00c"/><rect x="1114.59" y="248.3" width="2.02" height="89.9" fill="#c6120a"/><rect x="1116.31" y="120.5" width="2.02" height="127.8" fill="#10c70c"/><rect x="1116.31" y="248.3" width="2.02" height="89.9" fill="#9a150a"/><rect x="1118.03" y="120.5" width="2.02" height="127.8" fill="#10dd0c"/><rect x="1118.03" y="248.3" width="2.02" height="89.9" fill="#a9130a"/><rect x="1119.76" y="120.5" width="2.02" height="127.8" fill="#186f0c"/><rect x="1119.76" y="248.3" width="2.02" height="89.9" fill="#a7140a"/><rect x="1121.48" y="120.5" width="2.02" height="127.8" fill="#159c0c"/><rect x="1121.48" y="248.3" width="2.02" height="89.9" fill="#611b0a"/><rect x="1123.20" y="120.5" width="2.02" height="127.8" fill="#13a00c"/><rect x="1123.20" y="248.3" width="2.02" height="89.9" fill="#f00e0a"/><rect x="1124.92" y="120.5" width="2.02" height="127.8" fill="#14ba0c"/><rect x="1124.92" y="248.3" width="2.02" height="89.9" fill="#bf100a"/><rect x="1126.64" y="120.5" width="2.02" height="127.8" fill="#13bf0c"/><rect x="1126.64" y="248.3" width="2.02" height="89.9" fill="#98170a"/><rect x="1128.37" y="120.5" width="2.02" height="127.8" fill="#12b50c"/><rect x="1128.37" y="248.3" width="2.02" height="89.9" fill="#d00e0a"/><rect x="1130.09" y="120.5" width="2.02" height="127.8" fill="#159b0c"/><rect x="1130.09" y="248.3" width="2.02" height="89.9" fill="#ab130a"/><rect x="1131.81" y="120.5" width="2.02" height="127.8" fill="#13a50c"/><rect x="1131.81" y="248.3" width="2.02" height="89.9" fill="#db110a"/><rect x="1133.53" y="120.5" width="2.02" height="127.8" fill="#169c0c"/><rect x="1133.53" y="248.3" width="2.02" height="89.9" fill="#a3130a"/><rect x="1135.26" y="120.5" width="2.02" height="127.8" fill="#15a50c"/><rect x="1135.26" y="248.3" width="2.02" height="89.9" fill="#95150a"/><rect x="1136.98" y="120.5" width="2.02" height="127.8" fill="#10e80c"/><rect x="1136.98" y="248.3" width="2.02" height="89.9" fill="#cf110a"/><rect x="1138.70" y="120.5" width="2.02" height="127.8" fill="#10c30c"/><rect x="1138.70" y="248.3" width="2.02" height="89.9" fill="#b6110a"/><rect x="1140.42" y="120.5" width="2.02" height="127.8" fill="#168c0c"/><rect x="1140.42" y="248.3" width="2.02" height="89.9" fill="#ef0f0a"/><rect x="1142.14" y="120.5" width="2.02" height="127.8" fill="#12bd0c"/><rect x="1142.14" y="248.3" width="2.02" height="89.9" fill="#bd110a"/><rect x="1143.87" y="120.5" width="2.02" height="127.8" fill="#0ef80c"/><rect x="1143.87" y="248.3" width="2.02" height="89.9" fill="#fe0e0a"/><rect x="1145.59" y="120.5" width="2.02" height="127.8" fill="#0efb0c"/><rect x="1145.59" y="248.3" width="2.02" height="89.9" fill="#81180a"/><rect x="1147.31" y="120.5" width="2.02" height="127.8" fill="#11c90c"/><rect x="1147.31" y="248.3" width="2.02" height="89.9" fill="#a7140a"/><rect x="1149.03" y="120.5" width="2.02" height="127.8" fill="#12b20c"/><rect x="1149.03" y="248.3" width="2.02" height="89.9" fill="#76180a"/><rect x="1150.76" y="120.5" width="2.02" height="127.8" fill="#13ae0c"/><rect x="1150.76" y="248.3" width="2.02" height="89.9" fill="#a5140a"/><rect x="1152.48" y="120.5" width="2.02" height="127.8" fill="#10e10c"/><rect x="1152.48" y="248.3" width="2.02" height="89.9" fill="#d80e0a"/><rect x="1154.20" y="120.5" width="2.02" height="127.8" fill="#10cc0c"/><rect x="1154.20" y="248.3" width="2.02" height="89.9" fill="#99150a"/><rect x="1155.92" y="120.5" width="2.02" height="127.8" fill="#12a70c"/><rect x="1155.92" y="248.3" width="2.02" height="89.9" fill="#d7110a"/><rect x="1157.64" y="120.5" width="2.02" height="127.8" fill="#10e40c"/><rect x="1157.64" y="248.3" width="2.02" height="89.9" fill="#ca130a"/><rect x="1159.37" y="120.5" width="2.02" height="127.8" fill="#10bb0c"/><rect x="1159.37" y="248.3" width="2.02" height="89.9" fill="#a6130a"/><rect x="1161.09" y="120.5" width="2.02" height="127.8" fill="#11b60c"/><rect x="1161.09" y="248.3" width="2.02" height="89.9" fill="#b4120a"/><rect x="1162.81" y="120.5" width="2.02" height="127.8" fill="#0ef00c"/><rect x="1162.81" y="248.3" width="2.02" height="89.9" fill="#94160a"/><rect x="1164.53" y="120.5" width="2.02" height="127.8" fill="#0fd20c"/><rect x="1164.53" y="248.3" width="2.02" height="89.9" fill="#bf110a"/><rect x="1166.26" y="120.5" width="2.02" height="127.8" fill="#14bc0c"/><rect x="1166.26" y="248.3" width="2.02" height="89.9" fill="#ac120a"/><rect x="1167.98" y="120.5" width="2.02" height="127.8" fill="#0ef60c"/><rect x="1167.98" y="248.3" width="2.02" height="89.9" fill="#a6130a"/><rect x="1169.70" y="120.5" width="2.02" height="127.8" fill="#11ba0c"/><rect x="1169.70" y="248.3" width="2.02" height="89.9" fill="#c9110a"/><rect x="1171.42" y="120.5" width="2.02" height="127.8" fill="#17970c"/><rect x="1171.42" y="248.3" width="2.02" height="89.9" fill="#8e150a"/><rect x="1173.14" y="120.5" width="2.02" height="127.8" fill="#16a10c"/><rect x="1173.14" y="248.3" width="2.02" height="89.9" fill="#bc120a"/><rect x="1174.87" y="120.5" width="2.02" height="127.8" fill="#11b80c"/><rect x="1174.87" y="248.3" width="2.02" height="89.9" fill="#c6130a"/><rect x="1176.59" y="120.5" width="2.02" height="127.8" fill="#14b70c"/><rect x="1176.59" y="248.3" width="2.02" height="89.9" fill="#74190a"/><rect x="1178.31" y="120.5" width="2.02" height="127.8" fill="#13b10c"/><rect x="1178.31" y="248.3" width="2.02" height="89.9" fill="#c8120a"/><rect x="1180.03" y="120.5" width="2.02" height="127.8" fill="#169a0c"/><rect x="1180.03" y="248.3" width="2.02" height="89.9" fill="#ab150a"/><rect x="1181.76" y="120.5" width="2.02" height="127.8" fill="#0ec40c"/><rect x="1181.76" y="248.3" width="2.02" height="89.9" fill="#cb120a"/><rect x="1183.48" y="120.5" width="2.02" height="127.8" fill="#12bc0c"/><rect x="1183.48" y="248.3" width="2.02" height="89.9" fill="#e00e0a"/><rect x="1185.20" y="120.5" width="2.02" height="127.8" fill="#13b40c"/><rect x="1185.20" y="248.3" width="2.02" height="89.9" fill="#cf110a"/><rect x="1186.92" y="120.5" width="2.02" height="127.8" fill="#12b50c"/><rect x="1186.92" y="248.3" width="2.02" height="89.9" fill="#bf120a"/><rect x="1188.64" y="120.5" width="2.02" height="127.8" fill="#10d00c"/><rect x="1188.64" y="248.3" width="2.02" height="89.9" fill="#aa120a"/><rect x="1190.37" y="120.5" width="2.02" height="127.8" fill="#11dc0c"/><rect x="1190.37" y="248.3" width="2.02" height="89.9" fill="#dd100a"/><rect x="1192.09" y="120.5" width="2.02" height="127.8" fill="#149b0c"/><rect x="1192.09" y="248.3" width="2.02" height="89.9" fill="#91160a"/><rect x="1193.81" y="120.5" width="2.02" height="127.8" fill="#168d0c"/><rect x="1193.81" y="248.3" width="2.02" height="89.9" fill="#93140a"/><rect x="1195.53" y="120.5" width="2.02" height="127.8" fill="#0ede0c"/><rect x="1195.53" y="248.3" width="2.02" height="89.9" fill="#a9130a"/><rect x="1197.26" y="120.5" width="2.02" height="127.8" fill="#0ecc0c"/><rect x="1197.26" y="248.3" width="2.02" height="89.9" fill="#67190a"/><rect x="1198.98" y="120.5" width="2.02" height="127.8" fill="#10d40c"/><rect x="1198.98" y="248.3" width="2.02" height="89.9" fill="#c0100a"/><rect x="1200.70" y="120.5" width="2.03" height="127.8" fill="#65170a"/><rect x="1200.70" y="248.3" width="2.03" height="89.9" fill="#119b0c"/><rect x="1202.43" y="120.5" width="2.03" height="127.8" fill="#7c150a"/><rect x="1202.43" y="248.3" width="2.03" height="89.9" fill="#1c470c"/><rect x="1204.15" y="120.5" width="2.03" height="127.8" fill="#59180a"/><rect x="1204.15" y="248.3" width="2.03" height="89.9" fill="#75190a"/><rect x="1205.88" y="120.5" width="2.03" height="127.8" fill="#371d0a"/><rect x="1205.88" y="248.3" width="2.03" height="89.9" fill="#1d3f0c"/><rect x="1207.61" y="120.5" width="2.03" height="127.8" fill="#21200a"/><rect x="1207.61" y="248.3" width="2.03" height="89.9" fill="#0ebb0c"/><rect x="1209.33" y="120.5" width="2.03" height="127.8" fill="#61160a"/><rect x="1209.33" y="248.3" width="2.03" height="89.9" fill="#98110a"/><rect x="1211.06" y="120.5" width="2.03" height="127.8" fill="#81150a"/><rect x="1211.06" y="248.3" width="2.03" height="89.9" fill="#202e0c"/><rect x="1212.78" y="120.5" width="2.03" height="127.8" fill="#4c1b0a"/><rect x="1212.78" y="248.3" width="2.03" height="89.9" fill="#0eb80c"/><rect x="1214.51" y="120.5" width="2.03" height="127.8" fill="#7d150a"/><rect x="1214.51" y="248.3" width="2.03" height="89.9" fill="#7b150a"/><rect x="1216.24" y="120.5" width="2.03" height="127.8" fill="#3e1c0a"/><rect x="1216.24" y="248.3" width="2.03" height="89.9" fill="#16730c"/><rect x="1217.96" y="120.5" width="2.03" height="127.8" fill="#50190a"/><rect x="1217.96" y="248.3" width="2.03" height="89.9" fill="#1e3b0c"/><rect x="1219.69" y="120.5" width="2.03" height="127.8" fill="#71170a"/><rect x="1219.69" y="248.3" width="2.03" height="89.9" fill="#1c450c"/><rect x="1221.41" y="120.5" width="2.03" height="127.8" fill="#2b1f0a"/><rect x="1221.41" y="248.3" width="2.03" height="89.9" fill="#5a1a0a"/><rect x="1223.14" y="120.5" width="2.03" height="127.8" fill="#77140a"/><rect x="1223.14" y="248.3" width="2.03" height="89.9" fill="#20300c"/><rect x="1224.87" y="120.5" width="2.03" height="127.8" fill="#69180a"/><rect x="1224.87" y="248.3" width="2.03" height="89.9" fill="#2f1f0a"/><rect x="1226.59" y="120.5" width="2.03" height="127.8" fill="#211b0c"/><rect x="1226.59" y="248.3" width="2.03" height="89.9" fill="#341e0a"/><rect x="1228.32" y="120.5" width="2.03" height="127.8" fill="#6a180a"/><rect x="1228.32" y="248.3" width="2.03" height="89.9" fill="#1e390c"/><rect x="1230.05" y="120.5" width="2.03" height="127.8" fill="#4e1a0a"/><rect x="1230.05" y="248.3" width="2.03" height="89.9" fill="#0eb60c"/><rect x="1231.77" y="120.5" width="2.03" height="127.8" fill="#7d130a"/><rect x="1231.77" y="248.3" width="2.03" height="89.9" fill="#1a5e0c"/><rect x="1233.50" y="120.5" width="2.03" height="127.8" fill="#3e1b0a"/><rect x="1233.50" y="248.3" width="2.03" height="89.9" fill="#2d200a"/><rect x="1235.22" y="120.5" width="2.03" height="127.8" fill="#8f130a"/><rect x="1235.22" y="248.3" width="2.03" height="89.9" fill="#17630c"/><rect x="1236.95" y="120.5" width="2.03" height="127.8" fill="#61190a"/><rect x="1236.95" y="248.3" width="2.03" height="89.9" fill="#4d1d0a"/><rect x="1238.68" y="120.5" width="2.03" height="127.8" fill="#3c1c0a"/><rect x="1238.68" y="248.3" width="2.03" height="89.9" fill="#21210c"/><rect x="1240.40" y="120.5" width="2.03" height="127.8" fill="#70170a"/><rect x="1240.40" y="248.3" width="2.03" height="89.9" fill="#1b590c"/><rect x="1242.13" y="120.5" width="2.03" height="127.8" fill="#72160a"/><rect x="1242.13" y="248.3" width="2.03" height="89.9" fill="#119f0c"/><rect x="1243.86" y="120.5" width="2.03" height="127.8" fill="#491c0a"/><rect x="1243.86" y="248.3" width="2.03" height="89.9" fill="#2d1f0a"/><rect x="1245.58" y="120.5" width="2.03" height="127.8" fill="#61170a"/><rect x="1245.58" y="248.3" width="2.03" height="89.9" fill="#59190a"/><rect x="1247.31" y="120.5" width="2.03" height="127.8" fill="#7c130a"/><rect x="1247.31" y="248.3" width="2.03" height="89.9" fill="#1f360c"/><rect x="1249.04" y="120.5" width="2.03" height="127.8" fill="#9c0e0a"/><rect x="1249.04" y="248.3" width="2.03" height="89.9" fill="#0ead0c"/><rect x="1250.76" y="120.5" width="2.03" height="127.8" fill="#7d140a"/><rect x="1250.76" y="248.3" width="2.03" height="89.9" fill="#25210a"/><rect x="1252.49" y="120.5" width="2.03" height="127.8" fill="#59190a"/><rect x="1252.49" y="248.3" width="2.03" height="89.9" fill="#411e0a"/><rect x="1254.21" y="120.5" width="2.03" height="127.8" fill="#551a0a"/><rect x="1254.21" y="248.3" width="2.03" height="89.9" fill="#0eae0c"/><rect x="1255.94" y="120.5" width="2.03" height="127.8" fill="#65170a"/><rect x="1255.94" y="248.3" width="2.03" height="89.9" fill="#176c0c"/><rect x="1257.67" y="120.5" width="2.03" height="127.8" fill="#4c1a0a"/><rect x="1257.67" y="248.3" width="2.03" height="89.9" fill="#18660c"/><rect x="1259.39" y="120.5" width="2.03" height="127.8" fill="#82130a"/><rect x="1259.39" y="248.3" width="2.03" height="89.9" fill="#68180a"/><rect x="1261.12" y="120.5" width="2.03" height="127.8" fill="#1d3b0c"/><rect x="1261.12" y="248.3" width="2.03" height="89.9" fill="#72170a"/><rect x="1262.85" y="120.5" width="2.03" height="127.8" fill="#73170a"/><rect x="1262.85" y="248.3" width="2.03" height="89.9" fill="#128b0c"/><rect x="1264.57" y="120.5" width="2.03" height="127.8" fill="#20260c"/><rect x="1264.57" y="248.3" width="2.03" height="89.9" fill="#1f330c"/><rect x="1266.30" y="120.5" width="2.03" height="127.8" fill="#66150a"/><rect x="1266.30" y="248.3" width="2.03" height="89.9" fill="#1f300c"/><rect x="1268.02" y="120.5" width="2.03" height="127.8" fill="#92130a"/><rect x="1268.02" y="248.3" width="2.03" height="89.9" fill="#1b4e0c"/><rect x="1269.75" y="120.5" width="2.03" height="127.8" fill="#68160a"/><rect x="1269.75" y="248.3" width="2.03" height="89.9" fill="#177f0c"/><rect x="1271.48" y="120.5" width="2.03" height="127.8" fill="#66170a"/><rect x="1271.48" y="248.3" width="2.03" height="89.9" fill="#1c4e0c"/><rect x="1273.20" y="120.5" width="2.03" height="127.8" fill="#52180a"/><rect x="1273.20" y="248.3" width="2.03" height="89.9" fill="#341e0a"/><rect x="1274.93" y="120.5" width="2.03" height="127.8" fill="#541a0a"/><rect x="1274.93" y="248.3" width="2.03" height="89.9" fill="#4e1b0a"/><rect x="1276.65" y="120.5" width="2.03" height="127.8" fill="#79150a"/><rect x="1276.65" y="248.3" width="2.03" height="89.9" fill="#1e390c"/><rect x="1278.38" y="120.5" width="2.03" height="127.8" fill="#4f1b0a"/><rect x="1278.38" y="248.3" width="2.03" height="89.9" fill="#23210a"/><rect x="1280.11" y="120.5" width="2.03" height="127.8" fill="#60170a"/><rect x="1280.11" y="248.3" width="2.03" height="89.9" fill="#1f370c"/><rect x="1281.83" y="120.5" width="2.03" height="127.8" fill="#421b0a"/><rect x="1281.83" y="248.3" width="2.03" height="89.9" fill="#1a5c0c"/><rect x="1283.56" y="120.5" width="2.03" height="127.8" fill="#361d0a"/><rect x="1283.56" y="248.3" width="2.03" height="89.9" fill="#21290c"/><rect x="1285.29" y="120.5" width="2.03" height="127.8" fill="#3e1c0a"/><rect x="1285.29" y="248.3" width="2.03" height="89.9" fill="#481c0a"/><rect x="1287.01" y="120.5" width="2.03" height="127.8" fill="#a00e0a"/><rect x="1287.01" y="248.3" width="2.03" height="89.9" fill="#0eb20c"/><rect x="1288.74" y="120.5" width="2.03" height="127.8" fill="#461a0a"/><rect x="1288.74" y="248.3" width="2.03" height="89.9" fill="#18780c"/><rect x="1290.46" y="120.5" width="2.03" height="127.8" fill="#211c0c"/><rect x="1290.46" y="248.3" width="2.03" height="89.9" fill="#371f0a"/><rect x="1292.19" y="120.5" width="2.03" height="127.8" fill="#361d0a"/><rect x="1292.19" y="248.3" width="2.03" height="89.9" fill="#1e390c"/><rect x="1293.92" y="120.5" width="2.03" height="127.8" fill="#1b210a"/><rect x="1293.92" y="248.3" width="2.03" height="89.9" fill="#10b50c"/><rect x="1295.64" y="120.5" width="2.03" height="127.8" fill="#301e0a"/><rect x="1295.64" y="248.3" width="2.03" height="89.9" fill="#301f0a"/><rect x="1297.37" y="120.5" width="2.03" height="127.8" fill="#1e2e0c"/><rect x="1297.37" y="248.3" width="2.03" height="89.9" fill="#1b550c"/><rect x="1299.10" y="120.5" width="2.03" height="127.8" fill="#6b150a"/><rect x="1299.10" y="248.3" width="2.03" height="89.9" fill="#0eaf0c"/><rect x="1300.82" y="120.5" width="2.03" height="127.8" fill="#a90e0a"/><rect x="1300.82" y="248.3" width="2.03" height="89.9" fill="#15710c"/><rect x="1302.55" y="120.5" width="2.03" height="127.8" fill="#80150a"/><rect x="1302.55" y="248.3" width="2.03" height="89.9" fill="#1a610c"/><rect x="1304.28" y="120.5" width="2.03" height="127.8" fill="#63180a"/><rect x="1304.28" y="248.3" width="2.03" height="89.9" fill="#195d0c"/><rect x="1306.00" y="120.5" width="2.03" height="127.8" fill="#211d0c"/><rect x="1306.00" y="248.3" width="2.03" height="89.9" fill="#3d1d0a"/><rect x="1307.73" y="120.5" width="2.03" height="127.8" fill="#5b180a"/><rect x="1307.73" y="248.3" width="2.03" height="89.9" fill="#3a1e0a"/><rect x="1309.45" y="120.5" width="2.03" height="127.8" fill="#6d170a"/><rect x="1309.45" y="248.3" width="2.03" height="89.9" fill="#21220c"/><rect x="1311.18" y="120.5" width="2.03" height="127.8" fill="#8a130a"/><rect x="1311.18" y="248.3" width="2.03" height="89.9" fill="#20270c"/><rect x="1312.91" y="120.5" width="2.03" height="127.8" fill="#5f180a"/><rect x="1312.91" y="248.3" width="2.03" height="89.9" fill="#1a5e0c"/><rect x="1314.63" y="120.5" width="2.03" height="127.8" fill="#3b1d0a"/><rect x="1314.63" y="248.3" width="2.03" height="89.9" fill="#186c0c"/><rect x="1316.36" y="120.5" width="2.03" height="127.8" fill="#21200a"/><rect x="1316.36" y="248.3" width="2.03" height="89.9" fill="#25210a"/><rect x="1318.09" y="120.5" width="2.03" height="127.8" fill="#86120a"/><rect x="1318.09" y="248.3" width="2.03" height="89.9" fill="#1f310c"/><rect x="1319.81" y="120.5" width="2.03" height="127.8" fill="#57190a"/><rect x="1319.81" y="248.3" width="2.03" height="89.9" fill="#0fa40c"/><rect x="1321.54" y="120.5" width="2.03" height="127.8" fill="#3b1c0a"/><rect x="1321.54" y="248.3" width="2.03" height="89.9" fill="#1e3b0c"/><rect x="1323.26" y="120.5" width="2.03" height="127.8" fill="#75150a"/><rect x="1323.26" y="248.3" width="2.03" height="89.9" fill="#1d210a"/><rect x="1324.99" y="120.5" width="2.03" height="127.8" fill="#4d1b0a"/><rect x="1324.99" y="248.3" width="2.03" height="89.9" fill="#1b5c0c"/><rect x="1326.72" y="120.5" width="2.03" height="127.8" fill="#461b0a"/><rect x="1326.72" y="248.3" width="2.03" height="89.9" fill="#1d410c"/><rect x="1328.44" y="120.5" width="2.03" height="127.8" fill="#6f170a"/><rect x="1328.44" y="248.3" width="2.03" height="89.9" fill="#1c560c"/><rect x="1330.17" y="120.5" width="2.03" height="127.8" fill="#451b0a"/><rect x="1330.17" y="248.3" width="2.03" height="89.9" fill="#0ece0c"/><rect x="1331.89" y="120.5" width="2.03" height="127.8" fill="#1c420c"/><rect x="1331.89" y="248.3" width="2.03" height="89.9" fill="#1e340c"/><rect x="1333.62" y="120.5" width="2.03" height="127.8" fill="#5c170a"/><rect x="1333.62" y="248.3" width="2.03" height="89.9" fill="#0eb90c"/><rect x="1335.35" y="120.5" width="2.03" height="127.8" fill="#5c190a"/><rect x="1335.35" y="248.3" width="2.03" height="89.9" fill="#18620c"/><rect x="1337.07" y="120.5" width="2.03" height="127.8" fill="#5b180a"/><rect x="1337.07" y="248.3" width="2.03" height="89.9" fill="#196d0c"/><rect x="1338.80" y="120.5" width="2.03" height="127.8" fill="#1f2c0c"/><rect x="1338.80" y="248.3" width="2.03" height="89.9" fill="#8e140a"/><rect x="1340.53" y="120.5" width="2.03" height="127.8" fill="#21190c"/><rect x="1340.53" y="248.3" width="2.03" height="89.9" fill="#86170a"/><rect x="1342.27" y="120.5" width="2.03" height="127.8" fill="#19510c"/><rect x="1342.27" y="248.3" width="2.03" height="89.9" fill="#20210a"/><rect x="1344.00" y="120.5" width="2.03" height="127.8" fill="#27200a"/><rect x="1344.00" y="248.3" width="2.03" height="89.9" fill="#92130a"/><rect x="1345.73" y="120.5" width="2.03" height="127.8" fill="#25200a"/><rect x="1345.73" y="248.3" width="2.03" height="89.9" fill="#521c0a"/><rect x="1347.47" y="120.5" width="2.03" height="127.8" fill="#6b170a"/><rect x="1347.47" y="248.3" width="2.03" height="89.9" fill="#c30e0a"/><rect x="1349.20" y="120.5" width="2.03" height="127.8" fill="#1f300c"/><rect x="1349.20" y="248.3" width="2.03" height="89.9" fill="#531b0a"/><rect x="1350.93" y="120.5" width="2.03" height="127.8" fill="#185e0c"/><rect x="1350.93" y="248.3" width="2.03" height="89.9" fill="#9f110a"/><rect x="1352.67" y="120.5" width="2.03" height="127.8" fill="#1e390c"/><rect x="1352.67" y="248.3" width="2.03" height="89.9" fill="#5f190a"/><rect x="1354.40" y="120.5" width="2.03" height="127.8" fill="#14810c"/><rect x="1354.40" y="248.3" width="2.03" height="89.9" fill="#202c0c"/><rect x="1356.13" y="120.5" width="2.03" height="127.8" fill="#1e2f0c"/><rect x="1356.13" y="248.3" width="2.03" height="89.9" fill="#6b170a"/><rect x="1357.87" y="120.5" width="2.03" height="127.8" fill="#19540c"/><rect x="1357.87" y="248.3" width="2.03" height="89.9" fill="#5c1b0a"/><rect x="1359.60" y="120.5" width="2.03" height="127.8" fill="#21220c"/><rect x="1359.60" y="248.3" width="2.03" height="89.9" fill="#7a150a"/><rect x="1361.33" y="120.5" width="2.03" height="127.8" fill="#23200a"/><rect x="1361.33" y="248.3" width="2.03" height="89.9" fill="#6f170a"/><rect x="1363.07" y="120.5" width="2.03" height="127.8" fill="#1f2c0c"/><rect x="1363.07" y="248.3" width="2.03" height="89.9" fill="#a0110a"/><rect x="1364.80" y="120.5" width="2.03" height="127.8" fill="#194d0c"/><rect x="1364.80" y="248.3" width="2.03" height="89.9" fill="#581c0a"/><rect x="1366.53" y="120.5" width="2.03" height="127.8" fill="#1e2e0c"/><rect x="1366.53" y="248.3" width="2.03" height="89.9" fill="#91150a"/><rect x="1368.27" y="120.5" width="2.03" height="127.8" fill="#311e0a"/><rect x="1368.27" y="248.3" width="2.03" height="89.9" fill="#381e0a"/><rect x="1370.00" y="120.5" width="2.03" height="127.8" fill="#3c1d0a"/><rect x="1370.00" y="248.3" width="2.03" height="89.9" fill="#73170a"/><rect x="1371.73" y="120.5" width="2.03" height="127.8" fill="#1a570c"/><rect x="1371.73" y="248.3" width="2.03" height="89.9" fill="#511c0a"/><rect x="1373.47" y="120.5" width="2.03" height="127.8" fill="#1e2d0c"/><rect x="1373.47" y="248.3" width="2.03" height="89.9" fill="#ca0e0a"/><rect x="1375.20" y="120.5" width="2.03" height="127.8" fill="#1a440c"/><rect x="1375.20" y="248.3" width="2.03" height="89.9" fill="#8e150a"/><rect x="1376.93" y="120.5" width="2.03" height="127.8" fill="#3a1e0a"/><rect x="1376.93" y="248.3" width="2.03" height="89.9" fill="#6d170a"/><rect x="1378.67" y="120.5" width="2.03" height="127.8" fill="#20230c"/><rect x="1378.67" y="248.3" width="2.03" height="89.9" fill="#b2110a"/><rect x="1380.40" y="120.5" width="2.03" height="127.8" fill="#1f280c"/><rect x="1380.40" y="248.3" width="2.03" height="89.9" fill="#551a0a"/><rect x="1382.13" y="120.5" width="2.03" height="127.8" fill="#591a0a"/><rect x="1382.13" y="248.3" width="2.03" height="89.9" fill="#96140a"/><rect x="1383.87" y="120.5" width="2.03" height="127.8" fill="#551a0a"/><rect x="1383.87" y="248.3" width="2.03" height="89.9" fill="#75170a"/><rect x="1385.60" y="120.5" width="2.03" height="127.8" fill="#1e330c"/><rect x="1385.60" y="248.3" width="2.03" height="89.9" fill="#3c1d0a"/><rect x="1387.33" y="120.5" width="2.03" height="127.8" fill="#1e310c"/><rect x="1387.33" y="248.3" width="2.03" height="89.9" fill="#87160a"/><rect x="1389.07" y="120.5" width="2.03" height="127.8" fill="#1a520c"/><rect x="1389.07" y="248.3" width="2.03" height="89.9" fill="#20210a"/><rect x="1390.80" y="120.5" width="2.03" height="127.8" fill="#18630c"/><rect x="1390.80" y="248.3" width="2.03" height="89.9" fill="#64190a"/><rect x="1392.53" y="120.5" width="2.03" height="127.8" fill="#1d400c"/><rect x="1392.53" y="248.3" width="2.03" height="89.9" fill="#a6100a"/><rect x="1394.27" y="120.5" width="2.03" height="127.8" fill="#1f2c0c"/><rect x="1394.27" y="248.3" width="2.03" height="89.9" fill="#66180a"/><rect x="1396.00" y="120.5" width="2.03" height="127.8" fill="#1d3b0c"/><rect x="1396.00" y="248.3" width="2.03" height="89.9" fill="#1f300c"/><rect x="1397.73" y="120.5" width="2.03" height="127.8" fill="#19210a"/><rect x="1397.73" y="248.3" width="2.03" height="89.9" fill="#611b0a"/><rect x="1399.47" y="120.5" width="2.03" height="127.8" fill="#18620c"/><rect x="1399.47" y="248.3" width="2.03" height="89.9" fill="#491d0a"/><rect x="1401.20" y="120.5" width="2.03" height="127.8" fill="#13860c"/><rect x="1401.20" y="248.3" width="2.03" height="89.9" fill="#8f160a"/><rect x="1402.93" y="120.5" width="2.03" height="127.8" fill="#16720c"/><rect x="1402.93" y="248.3" width="2.03" height="89.9" fill="#87140a"/><rect x="1404.67" y="120.5" width="2.03" height="127.8" fill="#20230c"/><rect x="1404.67" y="248.3" width="2.03" height="89.9" fill="#c1100a"/><rect x="1406.40" y="120.5" width="2.03" height="127.8" fill="#1f2a0c"/><rect x="1406.40" y="248.3" width="2.03" height="89.9" fill="#88170a"/><rect x="1408.13" y="120.5" width="2.03" height="127.8" fill="#1c390c"/><rect x="1408.13" y="248.3" width="2.03" height="89.9" fill="#78150a"/><rect x="1409.87" y="120.5" width="2.03" height="127.8" fill="#1b4c0c"/><rect x="1409.87" y="248.3" width="2.03" height="89.9" fill="#3b1e0a"/><rect x="1411.60" y="120.5" width="2.03" height="127.8" fill="#311e0a"/><rect x="1411.60" y="248.3" width="2.03" height="89.9" fill="#96150a"/><rect x="1413.33" y="120.5" width="2.03" height="127.8" fill="#21200a"/><rect x="1413.33" y="248.3" width="2.03" height="89.9" fill="#21210a"/><rect x="1415.07" y="120.5" width="2.03" height="127.8" fill="#4e1a0a"/><rect x="1415.07" y="248.3" width="2.03" height="89.9" fill="#381e0a"/><rect x="1416.80" y="120.5" width="2.03" height="127.8" fill="#1f300c"/><rect x="1416.80" y="248.3" width="2.03" height="89.9" fill="#84170a"/><rect x="1418.53" y="120.5" width="2.03" height="127.8" fill="#17690c"/><rect x="1418.53" y="248.3" width="2.03" height="89.9" fill="#321f0a"/><rect x="1420.27" y="120.5" width="2.03" height="127.8" fill="#20280c"/><rect x="1420.27" y="248.3" width="2.03" height="89.9" fill="#75160a"/><rect x="1422.00" y="120.5" width="2.03" height="127.8" fill="#1b3d0c"/><rect x="1422.00" y="248.3" width="2.03" height="89.9" fill="#94130a"/><rect x="1423.73" y="120.5" width="2.03" height="127.8" fill="#1c3f0c"/><rect x="1423.73" y="248.3" width="2.03" height="89.9" fill="#af0f0a"/><rect x="1425.47" y="120.5" width="2.03" height="127.8" fill="#341f0a"/><rect x="1425.47" y="248.3" width="2.03" height="89.9" fill="#6a190a"/><rect x="1427.20" y="120.5" width="2.03" height="127.8" fill="#291f0a"/><rect x="1427.20" y="248.3" width="2.03" height="89.9" fill="#84160a"/><rect x="1428.93" y="120.5" width="2.03" height="127.8" fill="#19590c"/><rect x="1428.93" y="248.3" width="2.03" height="89.9" fill="#a0110a"/><rect x="1430.67" y="120.5" width="2.03" height="127.8" fill="#1f2c0c"/><rect x="1430.67" y="248.3" width="2.03" height="89.9" fill="#5c190a"/><rect x="1432.40" y="120.5" width="2.03" height="127.8" fill="#1d210a"/><rect x="1432.40" y="248.3" width="2.03" height="89.9" fill="#81170a"/><rect x="1434.13" y="120.5" width="2.03" height="127.8" fill="#301f0a"/><rect x="1434.13" y="248.3" width="2.03" height="89.9" fill="#7d170a"/><rect x="1435.87" y="120.5" width="2.03" height="127.8" fill="#21200c"/><rect x="1435.87" y="248.3" width="2.03" height="89.9" fill="#b0120a"/><rect x="1437.60" y="120.5" width="2.03" height="127.8" fill="#1d370c"/><rect x="1437.60" y="248.3" width="2.03" height="89.9" fill="#ba0e0a"/><rect x="1439.33" y="120.5" width="2.03" height="127.8" fill="#1c3c0c"/><rect x="1439.33" y="248.3" width="2.03" height="89.9" fill="#441d0a"/><rect x="1441.07" y="120.5" width="2.03" height="127.8" fill="#431c0a"/><rect x="1441.07" y="248.3" width="2.03" height="89.9" fill="#a4130a"/><rect x="1442.80" y="120.5" width="2.03" height="127.8" fill="#1a4c0c"/><rect x="1442.80" y="248.3" width="2.03" height="89.9" fill="#531b0a"/><rect x="1444.53" y="120.5" width="2.03" height="127.8" fill="#202b0c"/><rect x="1444.53" y="248.3" width="2.03" height="89.9" fill="#5b190a"/><rect x="1446.27" y="120.5" width="2.03" height="127.8" fill="#1f300c"/><rect x="1446.27" y="248.3" width="2.03" height="89.9" fill="#94140a"/></g>
<filter id="spK" x="0" y="0" width="100%" height="100%"><feTurbulence type="fractalNoise" baseFrequency="0.62 0.5" numOctaves="1" seed="3"/><feColorMatrix type="matrix" values="0 0 0 0 0  0 0 0 0 0  0 0 0 0 0  7 0 0 0 -3.6"/></filter>
<filter id="spG" x="0" y="0" width="100%" height="100%"><feTurbulence type="fractalNoise" baseFrequency="0.6 0.55" numOctaves="1" seed="8"/><feColorMatrix type="matrix" values="0 0 0 0 0.12  0 0 0 0 0.8  0 0 0 0 0.1  0 7 0 0 -3.7"/></filter>
<filter id="spR" x="0" y="0" width="100%" height="100%"><feTurbulence type="fractalNoise" baseFrequency="0.6 0.55" numOctaves="1" seed="15"/><feColorMatrix type="matrix" values="0 0 0 0 0.85  0 0 0 0 0.08  0 0 0 0 0.06  0 0 7 0 -3.7"/></filter>
<rect x="897.0" y="120.5" width="148.7" height="127.8" filter="url(#spK)" opacity="0.30"/>
<rect x="897.0" y="120.5" width="148.7" height="127.8" filter="url(#spG)" opacity="0.06"/>
<rect x="1045.7" y="120.5" width="155.0" height="127.8" filter="url(#spK)" opacity="0.30"/>
<rect x="1045.7" y="120.5" width="155.0" height="127.8" filter="url(#spR)" opacity="0.05"/>
<rect x="1200.7" y="120.5" width="138.1" height="127.8" filter="url(#spK)" opacity="0.70"/>
<rect x="1200.7" y="120.5" width="138.1" height="127.8" filter="url(#spG)" opacity="0.42"/>
<rect x="1338.8" y="120.5" width="109.2" height="127.8" filter="url(#spK)" opacity="0.75"/>
<rect x="1338.8" y="120.5" width="109.2" height="127.8" filter="url(#spG)" opacity="0.42"/>
<rect x="897.0" y="248.3" width="148.7" height="89.9" filter="url(#spK)" opacity="0.45"/>
<rect x="897.0" y="248.3" width="148.7" height="89.9" filter="url(#spR)" opacity="0.20"/>
<rect x="1045.7" y="248.3" width="155.0" height="89.9" filter="url(#spK)" opacity="0.40"/>
<rect x="1045.7" y="248.3" width="155.0" height="89.9" filter="url(#spG)" opacity="0.16"/>
<rect x="1200.7" y="248.3" width="138.1" height="89.9" filter="url(#spK)" opacity="0.60"/>
<rect x="1200.7" y="248.3" width="138.1" height="89.9" filter="url(#spG)" opacity="0.45"/>
<rect x="1338.8" y="248.3" width="109.2" height="89.9" filter="url(#spK)" opacity="0.55"/>
<rect x="1338.8" y="248.3" width="109.2" height="89.9" filter="url(#spG)" opacity="0.40"/>
<g stroke="#111" stroke-width="2" fill="none">
<path d="M852.6 575.6 V378.8"/>
<path d="M851.6 575.6 H1149.9"/>
<path d="M846.6 575.6 H852.6"/>
<path d="M846.6 536.4 H852.6"/>
<path d="M846.6 497.3 H852.6"/>
<path d="M846.6 458.1 H852.6"/>
<path d="M846.6 419.0 H852.6"/>
<path d="M846.6 379.8 H852.6"/>
<path d="M852.6 575.6 V582.6"/>
<path d="M926.7 575.6 V582.6"/>
<path d="M1000.8 575.6 V582.6"/>
<path d="M1074.8 575.6 V582.6"/>
<path d="M1148.9 575.6 V582.6"/>
</g>
<g font-size="23" fill="#111" text-anchor="end">
<text x="840.6" y="583.6">0</text>
<text x="840.6" y="544.4">20</text>
<text x="840.6" y="505.3">40</text>
<text x="840.6" y="466.1">60</text>
<text x="840.6" y="427.0">80</text>
<text x="840.6" y="387.8">100</text>
</g>
<g font-size="22.5" fill="#111" text-anchor="middle">
<text x="851.6" y="601.5">0</text>
<text x="925.7" y="601.5">2</text>
<text x="999.8" y="601.5">4</text>
<text x="1073.8" y="601.5">6</text>
<text x="1147.9" y="601.5">8</text>
</g>
<text x="1003.7" y="628.5" font-size="22.5" text-anchor="middle" fill="#111">Overall survival (year)</text>
<text transform="translate(800.5,476.5) rotate(-90)" font-size="22.5" text-anchor="middle" fill="#111">Percent survival</text>
<text x="943.5" y="502" font-size="23" font-weight="bold" fill="#111" textLength="113.5" lengthAdjust="spacingAndGlyphs">p &lt; 0.0001</text>
<path d="M852.6 379.8 L868.3 379.8 L872.6 379.8 L872.6 382.4 L876.3 382.4 L876.3 383.1 L879.9 383.1 L879.9 383.9 L883.5 383.9 L883.5 384.6 L886.8 384.6 L886.8 385.1 L890.0 385.1 L890.0 385.7 L893.3 385.7 L893.3 386.2 L896.6 386.2 L896.6 386.8 L900.0 386.8 L900.0 387.4 L903.5 387.4 L903.5 388.1 L907.0 388.1 L907.0 388.7 L910.5 388.7 L910.5 389.4 L914.0 389.4 L914.0 390.0 L918.3 390.0 L918.3 392.8 L955.3 392.8 L955.3 394.4 L958.6 394.4 L958.6 398.7 L962.5 398.7 L962.5 399.8 L966.5 399.8 L966.5 400.9 L970.5 400.9 L970.5 402.0 L974.0 402.0 L974.0 402.6 L977.5 402.6 L977.5 403.3 L981.0 403.3 L981.0 403.9 L984.4 403.9 L984.4 404.6 L987.9 404.6 L987.9 405.2 L990.1 405.2 L990.1 409.1 L992.3 409.1 L992.3 412.9 L1018.4 412.9 L1020.6 412.9 L1020.6 417.2 L1091.3 417.2 L1091.3 435.7 L1105.4 435.7" stroke="#e4e07a" stroke-width="1.6" fill="none"/>
<path d="M852.6 379.8 L856.2 379.8 L856.2 380.7 L859.8 380.7 L859.8 381.7 L863.3 381.7 L863.3 382.7 L866.9 382.7 L866.9 383.6 L870.5 383.6 L870.5 384.6 L873.7 384.6 L873.7 388.4 L877.0 388.4 L877.0 392.2 L880.2 392.2 L880.2 394.4 L883.5 394.4 L883.5 396.5 L887.1 396.5 L887.1 398.7 L890.8 398.7 L890.8 400.9 L894.4 400.9 L894.4 403.1 L894.9 403.1 L894.9 406.9 L895.5 406.9 L895.5 410.7 L918.3 410.7 L922.7 410.7 L922.7 415.0 L925.9 415.0 L925.9 416.1 L929.2 416.1 L929.2 417.2 L930.3 417.2 L930.3 421.6 L931.4 421.6 L931.4 425.9 L965.1 425.9 L965.9 425.9 L965.9 429.2 L966.7 429.2 L966.7 432.4 L967.5 432.4 L967.5 435.7 L968.3 435.7 L968.3 439.0 L971.6 439.0 L971.6 441.1 L974.9 441.1 L974.9 443.3 L994.4 443.3 L994.8 443.3 L994.8 446.6 L995.2 446.6 L995.2 449.8 L995.5 449.8 L995.5 453.1 L1074.9 453.1 L1075.0 453.1 L1075.0 456.2 L1075.0 456.2 L1075.0 459.3 L1075.1 459.3 L1075.1 462.4 L1075.2 462.4 L1075.2 465.5 L1075.2 465.5 L1075.2 468.6 L1075.3 468.6 L1075.3 471.7 L1075.3 471.7 L1075.3 474.8 L1075.4 474.8 L1075.4 477.9 L1075.4 477.9 L1075.4 481.0 L1075.5 481.0 L1075.5 484.1 L1075.5 484.1 L1075.5 487.2 L1075.6 487.2 L1075.6 490.3 L1075.6 490.3 L1075.6 493.4 L1075.7 493.4 L1075.7 496.5 L1075.8 496.5 L1075.8 499.6 L1075.8 499.6 L1075.8 502.7 L1075.9 502.7 L1075.9 505.8 L1075.9 505.8 L1075.9 508.9 L1076.0 508.9 L1076.0 512.0 L1076.0 512.0 L1076.0 515.1 L1105.4 515.1" stroke="#2a8a3a" stroke-width="1.8" fill="none"/>
<path d="M852.6 379.8 L855.7 379.8 L855.7 382.1 L858.7 382.1 L858.7 384.4 L861.8 384.4 L861.8 386.8 L863.9 386.8 L863.9 390.4 L866.1 390.4 L866.1 394.0 L868.3 394.0 L868.3 397.6 L871.0 397.6 L871.0 400.9 L873.7 400.9 L873.7 404.2 L874.5 404.2 L874.5 407.6 L875.3 407.6 L875.3 411.0 L876.0 411.0 L876.0 414.4 L876.8 414.4 L876.8 417.8 L877.6 417.8 L877.6 421.2 L878.4 421.2 L878.4 424.7 L879.2 424.7 L879.2 428.1 L881.0 428.1 L881.0 431.7 L882.8 431.7 L882.8 435.3 L884.6 435.3 L884.6 439.0 L886.2 439.0 L886.2 442.2 L887.9 442.2 L887.9 445.5 L889.5 445.5 L889.5 448.8 L891.1 448.8 L891.1 452.0 L891.8 452.0 L891.8 455.3 L892.5 455.3 L892.5 458.5 L893.2 458.5 L893.2 461.8 L893.8 461.8 L893.8 465.1 L894.5 465.1 L894.5 468.3 L895.2 468.3 L895.2 471.6 L895.9 471.6 L895.9 474.9 L896.6 474.9 L896.6 478.1 L899.8 478.1 L899.8 478.7 L903.1 478.7 L903.1 479.2 L906.3 479.2 L906.3 479.7 L909.6 479.7 L909.6 480.3 L911.1 480.3 L911.1 483.9 L912.5 483.9 L912.5 487.5 L914.0 487.5 L914.0 491.2 L917.2 491.2 L917.2 493.3 L920.5 493.3 L920.5 495.5 L921.0 495.5 L921.0 499.1 L921.6 499.1 L921.6 502.6 L922.1 502.6 L922.1 506.1 L922.7 506.1 L922.7 509.7 L927.0 509.7 L927.0 511.8 L931.4 511.8 L931.4 514.0 L934.8 514.0 L934.8 515.1 L938.3 515.1 L938.3 516.2 L941.8 516.2 L941.8 517.3 L945.3 517.3 L945.3 518.4 L948.8 518.4 L948.8 519.4 L950.9 519.4 L950.9 523.8 L953.1 523.8 L953.1 528.1 L955.0 528.1 L955.0 531.4 L956.9 531.4 L956.9 534.7 L958.8 534.7 L958.8 537.9 L960.7 537.9 L960.7 541.2 L964.3 541.2 L964.3 541.7 L967.8 541.7 L967.8 542.3 L971.3 542.3 L971.3 542.8 L974.9 542.8 L974.9 543.4 L978.1 543.4 L978.1 547.7 L981.4 547.7 L981.4 552.1 L1010.8 552.1 L1011.9 552.1 L1011.9 556.4 L1079.3 556.4" stroke="#111" stroke-width="1.8" fill="none"/>
<path d="M852.6 379.8 L855.0 379.8 L855.0 383.3 L857.4 383.3 L857.4 386.8 L859.0 386.8 L859.0 390.0 L860.7 390.0 L860.7 393.3 L862.3 393.3 L862.3 396.5 L863.9 396.5 L863.9 399.8 L864.9 399.8 L864.9 403.2 L865.8 403.2 L865.8 406.6 L866.7 406.6 L866.7 410.1 L867.7 410.1 L867.7 413.5 L868.6 413.5 L868.6 416.9 L869.5 416.9 L869.5 420.3 L870.5 420.3 L870.5 423.7 L871.4 423.7 L871.4 427.2 L872.3 427.2 L872.3 430.6 L873.3 430.6 L873.3 434.0 L874.2 434.0 L874.2 437.4 L875.1 437.4 L875.1 440.8 L876.0 440.8 L876.0 444.2 L877.0 444.2 L877.0 447.7 L878.1 447.7 L878.1 450.9 L879.2 450.9 L879.2 454.2 L880.2 454.2 L880.2 457.5 L881.3 457.5 L881.3 460.7 L882.4 460.7 L882.4 464.0 L883.5 464.0 L883.5 467.2 L884.4 467.2 L884.4 470.5 L885.2 470.5 L885.2 473.8 L886.1 473.8 L886.1 477.0 L887.0 477.0 L887.0 480.3 L887.9 480.3 L887.9 483.6 L888.7 483.6 L888.7 486.8 L889.6 486.8 L889.6 490.1 L890.5 490.1 L890.5 493.3 L891.3 493.3 L891.3 496.6 L892.2 496.6 L892.2 499.9 L896.6 499.9 L896.6 502.0 L897.1 502.0 L897.1 505.3 L897.6 505.3 L897.6 508.6 L898.2 508.6 L898.2 511.8 L898.7 511.8 L898.7 515.1 L900.9 515.1 L900.9 519.4 L903.1 519.4 L903.1 523.8 L911.8 523.8 L916.1 523.8 L916.1 527.6 L920.5 527.6 L920.5 531.4 L923.5 531.4 L923.5 531.6 L926.6 531.6 L926.6 531.8 L929.6 531.8 L929.6 532.1 L932.7 532.1 L932.7 532.3 L935.7 532.3 L935.7 532.5 L939.0 532.5 L939.0 536.9 L942.2 536.9 L942.2 541.2 L946.6 541.2 L946.6 542.3 L950.9 542.3 L950.9 543.4 L953.1 543.4 L953.1 547.7 L955.3 547.7 L955.3 552.1 L956.4 552.1 L956.4 555.3 L957.5 555.3 L957.5 558.6 L977.0 558.6" stroke="#111" stroke-width="1.8" fill="none"/>
<path d="M897.2 478.1H899.2M900.4 478.7H902.5M903.7 479.2H905.7M906.9 479.7H909.0M910.2 480.3H910.5M911.7 483.9H911.9M913.1 487.5H913.4M914.6 491.2H916.6M917.8 493.3H919.9M921.1 495.5H920.4M921.6 499.1H921.0M922.2 502.6H921.5M922.7 506.1H922.1M923.3 509.7H926.4M927.6 511.8H930.8M932.0 514.0H934.2M935.4 515.1H937.7M938.9 516.2H941.2M942.4 517.3H944.7M945.9 518.4H948.2M949.4 519.4H950.3M951.5 523.8H952.5M953.7 528.1H954.4M955.6 531.4H956.3M957.5 534.7H958.2M959.4 537.9H960.1M961.3 541.2H963.7M964.9 541.7H967.2M968.4 542.3H970.7M971.9 542.8H974.3M975.5 543.4H977.5M978.7 547.7H980.8M982.0 552.1H1010.2M1011.4 552.1H1011.3M1012.5 556.4H1078.7" stroke="#e8507a" stroke-width="1.6" fill="none"/>
<path d="M899.3 523.8H911.2M912.4 523.8H915.5M916.7 527.6H919.9M921.1 531.4H922.9M924.1 531.6H926.0M927.2 531.8H929.0M930.2 532.1H932.1M933.3 532.3H935.1M936.3 532.5H938.4M939.6 536.9H941.6M942.8 541.2H946.0M947.2 542.3H950.3M951.5 543.4H952.5M953.7 547.7H954.7M955.9 552.1H955.8M957.0 555.3H956.9M958.1 558.6H976.4" stroke="#e03058" stroke-width="1.7" fill="none"/>
<path d="M868.3 380.8 v-4 M870.5 382.1 v-4 M883.5 385.6 v-4 M887.9 386.3 v-4 M892.2 387.0 v-4 M897.6 388.0 v-4 M905.3 389.4 v-4 M908.5 390.0 v-4 M911.8 390.6 v-4 M925.9 393.8 v-4 M933.5 393.8 v-4 M955.3 393.8 v-4 M959.6 400.0 v-4 M964.0 401.2 v-4 M968.3 402.4 v-4 M970.5 403.0 v-4 M979.2 404.6 v-4 M984.7 405.6 v-4 M987.9 406.2 v-4 M1001.0 413.9 v-4 M1003.1 413.9 v-4 M1020.6 418.2 v-4 M1024.9 418.2 v-4 M1029.3 418.2 v-4 M1033.6 418.2 v-4 M1038.0 418.2 v-4 M1042.3 418.2 v-4 M1044.5 418.2 v-4 M1055.4 418.2 v-4 M1057.5 418.2 v-4 M1061.9 418.2 v-4 M1067.3 418.2 v-4 M1081.5 418.2 v-4 M1092.3 436.7 v-4 M1097.8 436.7 v-4 M1101.0 436.7 v-4 M1104.3 436.7 v-4 M880.2 395.4 v-4 M906.3 411.7 v-4 M916.1 411.7 v-4 M923.8 416.4 v-4 M939.0 426.9 v-4 M953.1 426.9 v-4 M964.0 426.9 v-4 M976.0 444.3 v-4 M984.7 444.3 v-4 M994.4 444.3 v-4 M1029.3 454.1 v-4 M1031.4 454.1 v-4 M1042.3 454.1 v-4 M1047.7 454.1 v-4 M1104.3 516.1 v-4 M899.8 479.7 v-4 M912.9 489.5 v-4 M940.1 517.7 v-4 M961.8 542.4 v-4 M976.0 545.8 v-4 M982.5 553.1 v-4 M1010.8 553.1 v-4 M1029.3 557.4 v-4 M1039.0 557.4 v-4 M1042.3 557.4 v-4 M1078.2 557.4 v-4 M909.6 524.8 v-4 M920.5 532.4 v-4 M941.2 540.8 v-4 M970.5 559.6 v-4 M977.0 559.6 v-4" stroke="#111" stroke-width="1.6" fill="none"/>
<rect x="1224.1" y="386.0" width="247.8" height="196.3" fill="#fff" stroke="#b8b8b8" stroke-width="1.4"/>
<path d="M1256.3 386.0 V582.3 M1312.0 386.0 V582.3 M1367.8 386.0 V582.3 M1423.5 386.0 V582.3 M1224.1 549.3 H1471.9 M1224.1 501.5 H1471.9 M1224.1 453.7 H1471.9 M1224.1 405.9 H1471.9" stroke="#f5f5f5" stroke-width="0.8"/>
<path d="M1228.5 386.0 V582.3 M1284.2 386.0 V582.3 M1339.9 386.0 V582.3 M1395.6 386.0 V582.3 M1451.3 386.0 V582.3 M1224.1 573.2 H1471.9 M1224.1 525.4 H1471.9 M1224.1 477.6 H1471.9 M1224.1 429.8 H1471.9" stroke="#ececec" stroke-width="1.1"/>
<path d="M1228.5 582.3 v4 M1284.2 582.3 v4 M1339.9 582.3 v4 M1395.6 582.3 v4 M1451.3 582.3 v4 M1224.1 573.2 h-4 M1224.1 525.4 h-4 M1224.1 477.6 h-4 M1224.1 429.8 h-4" stroke="#555" stroke-width="1.2"/>
<g font-size="20" fill="#111" text-anchor="middle">
<text x="1228.5" y="605.5">0.4</text>
<text x="1284.2" y="605.5">0.6</text>
<text x="1339.9" y="605.5">0.8</text>
<text x="1395.6" y="605.5">1.0</text>
<text x="1451.3" y="605.5">1.2</text>
</g><g font-size="20" fill="#111" text-anchor="end">
<text x="1218" y="580.2">0</text>
<text x="1218" y="532.4">10</text>
<text x="1218" y="484.6">20</text>
<text x="1218" y="436.8">30</text>
</g>
<text x="1351.5" y="628.9" font-size="20" text-anchor="middle" fill="#111">CDC20/CREBRF-M ratio</text>
<text transform="translate(1171,483) rotate(-90)" font-size="20" text-anchor="middle" fill="#111">Percentage of</text>
<text transform="translate(1190.5,481.7) rotate(-90)" font-size="20" text-anchor="middle" fill="#111">CNV/LOH in genome</text>
<g><circle cx="1448.0" cy="495.9" r="2.2" fill="#e81a14"/><circle cx="1377.5" cy="545.7" r="2.2" fill="#e81c8c"/><circle cx="1253.1" cy="517.5" r="2.2" fill="#d8b410"/><circle cx="1329.5" cy="537.9" r="2.2" fill="#0c9a1a"/><circle cx="1312.2" cy="559.0" r="2.2" fill="#0c9a1a"/><circle cx="1398.4" cy="396.3" r="2.2" fill="#e81c8c"/><circle cx="1423.3" cy="518.9" r="2.2" fill="#e81a14"/><circle cx="1395.1" cy="499.9" r="2.2" fill="#e81c8c"/><circle cx="1283.4" cy="530.9" r="2.2" fill="#d8b410"/><circle cx="1444.5" cy="482.4" r="2.2" fill="#e81a14"/><circle cx="1320.9" cy="514.7" r="2.2" fill="#0c9a1a"/><circle cx="1400.4" cy="501.8" r="2.2" fill="#e81a14"/><circle cx="1395.6" cy="448.6" r="2.2" fill="#e81c8c"/><circle cx="1329.6" cy="530.0" r="2.2" fill="#0c9a1a"/><circle cx="1410.0" cy="500.1" r="2.2" fill="#e81a14"/><circle cx="1234.8" cy="541.5" r="2.2" fill="#d8b410"/><circle cx="1324.3" cy="521.0" r="2.2" fill="#0c9a1a"/><circle cx="1290.3" cy="522.9" r="2.2" fill="#d8b410"/><circle cx="1375.2" cy="527.4" r="2.2" fill="#e81c8c"/><circle cx="1300.9" cy="508.0" r="2.2" fill="#d8b410"/><circle cx="1306.1" cy="498.2" r="2.2" fill="#0c9a1a"/><circle cx="1437.5" cy="490.8" r="2.2" fill="#e81a14"/><circle cx="1436.4" cy="518.8" r="2.2" fill="#e81a14"/><circle cx="1394.9" cy="458.5" r="2.2" fill="#e81c8c"/><circle cx="1389.7" cy="504.3" r="2.2" fill="#e81c8c"/><circle cx="1323.3" cy="498.5" r="2.2" fill="#0c9a1a"/><circle cx="1377.6" cy="495.6" r="2.2" fill="#e81c8c"/><circle cx="1339.3" cy="537.8" r="2.2" fill="#0c9a1a"/><circle cx="1304.9" cy="520.1" r="2.2" fill="#0c9a1a"/><circle cx="1414.0" cy="463.8" r="2.2" fill="#e81a14"/><circle cx="1372.2" cy="422.4" r="2.2" fill="#e81c8c"/><circle cx="1290.5" cy="540.6" r="2.2" fill="#0c9a1a"/><circle cx="1385.0" cy="495.2" r="2.2" fill="#e81c8c"/><circle cx="1385.5" cy="552.9" r="2.2" fill="#e81c8c"/><circle cx="1425.1" cy="508.2" r="2.2" fill="#e81a14"/><circle cx="1311.0" cy="533.9" r="2.2" fill="#0c9a1a"/><circle cx="1430.5" cy="510.3" r="2.2" fill="#e81a14"/><circle cx="1418.5" cy="469.5" r="2.2" fill="#e81a14"/><circle cx="1252.0" cy="535.7" r="2.2" fill="#d8b410"/><circle cx="1391.8" cy="411.9" r="2.2" fill="#e81c8c"/><circle cx="1337.8" cy="549.3" r="2.2" fill="#0c9a1a"/><circle cx="1315.4" cy="528.3" r="2.2" fill="#0c9a1a"/><circle cx="1414.6" cy="533.6" r="2.2" fill="#e81c8c"/><circle cx="1378.7" cy="499.8" r="2.2" fill="#e81c8c"/><circle cx="1366.8" cy="528.3" r="2.2" fill="#e81c8c"/><circle cx="1263.0" cy="549.2" r="2.2" fill="#d8b410"/><circle cx="1335.1" cy="522.3" r="2.2" fill="#0c9a1a"/><circle cx="1379.6" cy="518.2" r="2.2" fill="#e81c8c"/><circle cx="1378.1" cy="471.4" r="2.2" fill="#e81c8c"/><circle cx="1454.2" cy="494.2" r="2.2" fill="#e81a14"/><circle cx="1372.8" cy="487.6" r="2.2" fill="#e81c8c"/><circle cx="1240.1" cy="550.8" r="2.2" fill="#d8b410"/><circle cx="1290.6" cy="553.2" r="2.2" fill="#d8b410"/><circle cx="1415.7" cy="477.0" r="2.2" fill="#e81a14"/><circle cx="1408.4" cy="500.8" r="2.2" fill="#e81c8c"/><circle cx="1311.0" cy="545.9" r="2.2" fill="#0c9a1a"/><circle cx="1396.8" cy="457.7" r="2.2" fill="#e81c8c"/><circle cx="1301.9" cy="486.2" r="2.2" fill="#0c9a1a"/><circle cx="1253.3" cy="554.7" r="2.2" fill="#d8b410"/><circle cx="1421.1" cy="476.5" r="2.2" fill="#e81a14"/><circle cx="1342.0" cy="525.5" r="2.2" fill="#0c9a1a"/><circle cx="1423.5" cy="460.7" r="2.2" fill="#e81c8c"/><circle cx="1263.3" cy="516.4" r="2.2" fill="#d8b410"/><circle cx="1278.2" cy="505.7" r="2.2" fill="#d8b410"/><circle cx="1241.0" cy="553.2" r="2.2" fill="#d8b410"/><circle cx="1257.8" cy="542.9" r="2.2" fill="#d8b410"/><circle cx="1267.7" cy="552.9" r="2.2" fill="#d8b410"/><circle cx="1427.2" cy="498.4" r="2.2" fill="#e81a14"/><circle cx="1258.9" cy="547.0" r="2.2" fill="#d8b410"/><circle cx="1386.8" cy="476.9" r="2.2" fill="#e81c8c"/><circle cx="1377.9" cy="555.7" r="2.2" fill="#e81c8c"/><circle cx="1393.9" cy="498.6" r="2.2" fill="#e81c8c"/><circle cx="1266.6" cy="520.2" r="2.2" fill="#d8b410"/><circle cx="1315.9" cy="509.2" r="2.2" fill="#0c9a1a"/><circle cx="1427.7" cy="478.2" r="2.2" fill="#e81a14"/><circle cx="1266.3" cy="541.9" r="2.2" fill="#d8b410"/><circle cx="1306.9" cy="491.2" r="2.2" fill="#0c9a1a"/><circle cx="1421.2" cy="523.2" r="2.2" fill="#e81a14"/><circle cx="1256.7" cy="550.1" r="2.2" fill="#d8b410"/><circle cx="1237.8" cy="498.2" r="2.2" fill="#d8b410"/><circle cx="1234.3" cy="563.3" r="2.2" fill="#d8b410"/><circle cx="1441.9" cy="449.9" r="2.2" fill="#e81a14"/><circle cx="1241.9" cy="525.9" r="2.2" fill="#d8b410"/><circle cx="1387.0" cy="419.2" r="2.2" fill="#e81c8c"/><circle cx="1305.6" cy="523.0" r="2.2" fill="#0c9a1a"/><circle cx="1276.8" cy="519.6" r="2.2" fill="#d8b410"/><circle cx="1315.6" cy="547.7" r="2.2" fill="#0c9a1a"/><circle cx="1417.3" cy="498.5" r="2.2" fill="#e81c8c"/><circle cx="1330.1" cy="501.0" r="2.2" fill="#0c9a1a"/><circle cx="1323.6" cy="509.8" r="2.2" fill="#0c9a1a"/><circle cx="1395.6" cy="401.1" r="2.2" fill="#e81c8c"/><circle cx="1412.3" cy="501.9" r="2.2" fill="#e81a14"/><circle cx="1371.0" cy="498.8" r="2.2" fill="#e81c8c"/><circle cx="1259.9" cy="535.6" r="2.2" fill="#d8b410"/><circle cx="1386.5" cy="458.1" r="2.2" fill="#e81c8c"/><circle cx="1462.4" cy="488.2" r="2.2" fill="#e81a14"/><circle cx="1398.4" cy="489.4" r="2.2" fill="#e81c8c"/><circle cx="1404.9" cy="472.2" r="2.2" fill="#e81a14"/><circle cx="1368.2" cy="504.8" r="2.2" fill="#e81c8c"/><circle cx="1304.6" cy="543.8" r="2.2" fill="#0c9a1a"/><circle cx="1327.2" cy="532.0" r="2.2" fill="#0c9a1a"/><circle cx="1401.6" cy="464.1" r="2.2" fill="#e81c8c"/><circle cx="1271.9" cy="529.5" r="2.2" fill="#d8b410"/><circle cx="1283.0" cy="536.6" r="2.2" fill="#d8b410"/><circle cx="1416.6" cy="466.8" r="2.2" fill="#e81a14"/><circle cx="1440.3" cy="503.1" r="2.2" fill="#e81a14"/><circle cx="1267.8" cy="531.9" r="2.2" fill="#d8b410"/><circle cx="1279.3" cy="558.1" r="2.2" fill="#d8b410"/><circle cx="1288.9" cy="538.7" r="2.2" fill="#0c9a1a"/><circle cx="1268.8" cy="528.6" r="2.2" fill="#d8b410"/><circle cx="1359.4" cy="513.0" r="2.2" fill="#0c9a1a"/><circle cx="1365.0" cy="499.5" r="2.2" fill="#e81c8c"/><circle cx="1368.3" cy="504.3" r="2.2" fill="#e81c8c"/><circle cx="1417.9" cy="394.0" r="2.2" fill="#e81a14"/><circle cx="1323.5" cy="531.6" r="2.2" fill="#0c9a1a"/><circle cx="1391.8" cy="471.2" r="2.2" fill="#e81c8c"/><circle cx="1405.7" cy="499.8" r="2.2" fill="#e81a14"/><circle cx="1384.5" cy="405.9" r="2.2" fill="#e81c8c"/><circle cx="1435.4" cy="503.0" r="2.2" fill="#e81a14"/><circle cx="1279.0" cy="555.9" r="2.2" fill="#d8b410"/><circle cx="1411.2" cy="492.0" r="2.2" fill="#e81c8c"/><circle cx="1321.3" cy="495.2" r="2.2" fill="#0c9a1a"/><circle cx="1299.1" cy="537.0" r="2.2" fill="#d8b410"/><circle cx="1428.1" cy="497.0" r="2.2" fill="#e81a14"/><circle cx="1291.0" cy="533.1" r="2.2" fill="#0c9a1a"/><circle cx="1332.5" cy="562.9" r="2.2" fill="#0c9a1a"/><circle cx="1394.1" cy="503.6" r="2.2" fill="#e81c8c"/><circle cx="1319.8" cy="526.7" r="2.2" fill="#0c9a1a"/><circle cx="1312.0" cy="547.8" r="2.2" fill="#0c9a1a"/><circle cx="1339.9" cy="507.9" r="2.2" fill="#0c9a1a"/><circle cx="1419.4" cy="504.5" r="2.2" fill="#e81a14"/><circle cx="1387.9" cy="499.0" r="2.2" fill="#e81c8c"/><circle cx="1390.6" cy="473.0" r="2.2" fill="#e81c8c"/><circle cx="1300.9" cy="547.7" r="2.2" fill="#0c9a1a"/><circle cx="1330.4" cy="558.0" r="2.2" fill="#0c9a1a"/><circle cx="1292.2" cy="555.5" r="2.2" fill="#d8b410"/><circle cx="1425.3" cy="539.7" r="2.2" fill="#e81a14"/><circle cx="1390.8" cy="492.8" r="2.2" fill="#e81c8c"/><circle cx="1456.0" cy="459.4" r="2.2" fill="#e81a14"/><circle cx="1387.2" cy="469.7" r="2.2" fill="#e81c8c"/><circle cx="1389.6" cy="480.1" r="2.2" fill="#e81c8c"/><circle cx="1427.5" cy="506.9" r="2.2" fill="#e81a14"/><circle cx="1413.0" cy="475.1" r="2.2" fill="#e81a14"/><circle cx="1410.5" cy="473.2" r="2.2" fill="#e81a14"/><circle cx="1425.4" cy="539.7" r="2.2" fill="#e81a14"/><circle cx="1420.2" cy="495.8" r="2.2" fill="#e81a14"/><circle cx="1414.6" cy="573.2" r="2.2" fill="#e81c8c"/><circle cx="1317.5" cy="517.6" r="2.2" fill="#0c9a1a"/><circle cx="1403.7" cy="503.7" r="2.2" fill="#e81c8c"/><circle cx="1266.8" cy="557.5" r="2.2" fill="#d8b410"/><circle cx="1407.2" cy="497.3" r="2.2" fill="#e81a14"/><circle cx="1269.4" cy="540.1" r="2.2" fill="#d8b410"/><circle cx="1433.1" cy="480.6" r="2.2" fill="#e81a14"/><circle cx="1274.6" cy="518.9" r="2.2" fill="#d8b410"/><circle cx="1280.6" cy="549.6" r="2.2" fill="#d8b410"/><circle cx="1369.6" cy="495.3" r="2.2" fill="#e81c8c"/><circle cx="1341.7" cy="495.6" r="2.2" fill="#0c9a1a"/><circle cx="1408.0" cy="509.3" r="2.2" fill="#e81a14"/><circle cx="1331.3" cy="541.8" r="2.2" fill="#0c9a1a"/><circle cx="1431.5" cy="484.7" r="2.2" fill="#e81a14"/><circle cx="1342.7" cy="410.7" r="2.2" fill="#0c9a1a"/><circle cx="1259.1" cy="544.1" r="2.2" fill="#d8b410"/><circle cx="1372.1" cy="559.1" r="2.2" fill="#e81c8c"/><circle cx="1262.6" cy="568.8" r="2.2" fill="#d8b410"/><circle cx="1285.8" cy="529.5" r="2.2" fill="#d8b410"/><circle cx="1314.5" cy="524.6" r="2.2" fill="#0c9a1a"/><circle cx="1283.3" cy="544.2" r="2.2" fill="#d8b410"/><circle cx="1386.1" cy="526.0" r="2.2" fill="#e81c8c"/><circle cx="1275.6" cy="537.1" r="2.2" fill="#d8b410"/><circle cx="1266.4" cy="559.5" r="2.2" fill="#d8b410"/><circle cx="1414.8" cy="481.0" r="2.2" fill="#e81a14"/><circle cx="1424.1" cy="457.2" r="2.2" fill="#e81a14"/><circle cx="1422.5" cy="530.8" r="2.2" fill="#e81a14"/><circle cx="1249.5" cy="529.8" r="2.2" fill="#d8b410"/><circle cx="1378.7" cy="546.0" r="2.2" fill="#e81c8c"/><circle cx="1296.5" cy="550.1" r="2.2" fill="#0c9a1a"/><circle cx="1369.7" cy="498.7" r="2.2" fill="#e81c8c"/><circle cx="1429.7" cy="461.6" r="2.2" fill="#e81a14"/><circle cx="1440.5" cy="447.1" r="2.2" fill="#e81a14"/><circle cx="1277.7" cy="530.5" r="2.2" fill="#d8b410"/><circle cx="1248.0" cy="473.8" r="2.2" fill="#d8c830"/><circle cx="1234.8" cy="566.1" r="2.2" fill="#d8b410"/><circle cx="1242.5" cy="551.2" r="2.2" fill="#d8b410"/><circle cx="1321.5" cy="499.1" r="2.2" fill="#0c9a1a"/><circle cx="1425.5" cy="482.5" r="2.2" fill="#e81a14"/><circle cx="1302.1" cy="507.7" r="2.2" fill="#0c9a1a"/><circle cx="1256.7" cy="565.5" r="2.2" fill="#d8b410"/><circle cx="1300.9" cy="525.8" r="2.2" fill="#d8b410"/><circle cx="1431.0" cy="439.2" r="2.2" fill="#e81a14"/><circle cx="1300.9" cy="531.4" r="2.2" fill="#0c9a1a"/><circle cx="1354.1" cy="520.3" r="2.2" fill="#0c9a1a"/><circle cx="1287.9" cy="516.8" r="2.2" fill="#0c9a1a"/><circle cx="1272.7" cy="525.7" r="2.2" fill="#d8b410"/><circle cx="1395.6" cy="497.0" r="2.2" fill="#e81a14"/><circle cx="1310.9" cy="491.5" r="2.2" fill="#0c9a1a"/><circle cx="1431.6" cy="512.8" r="2.2" fill="#e81a14"/><circle cx="1385.3" cy="418.4" r="2.2" fill="#e81c8c"/><circle cx="1303.9" cy="542.0" r="2.2" fill="#0c9a1a"/><circle cx="1409.5" cy="563.6" r="2.2" fill="#a03060"/><circle cx="1311.4" cy="545.1" r="2.2" fill="#0c9a1a"/><circle cx="1389.0" cy="438.2" r="2.2" fill="#e81c8c"/><circle cx="1426.4" cy="505.8" r="2.2" fill="#e81a14"/><circle cx="1247.8" cy="554.9" r="2.2" fill="#d8b410"/><circle cx="1414.2" cy="509.4" r="2.2" fill="#e81a14"/><circle cx="1437.6" cy="475.2" r="2.2" fill="#e81a14"/><circle cx="1285.6" cy="528.6" r="2.2" fill="#d8b410"/><circle cx="1251.7" cy="544.6" r="2.2" fill="#d8b410"/><circle cx="1418.5" cy="489.8" r="2.2" fill="#e81a14"/><circle cx="1345.5" cy="415.5" r="2.2" fill="#0c9a1a"/><circle cx="1394.0" cy="523.3" r="2.2" fill="#e81c8c"/><circle cx="1251.7" cy="573.2" r="2.2" fill="#d8b410"/><circle cx="1330.2" cy="500.2" r="2.2" fill="#0c9a1a"/><circle cx="1278.8" cy="561.1" r="2.2" fill="#d8b410"/><circle cx="1309.7" cy="494.7" r="2.2" fill="#0c9a1a"/><circle cx="1359.1" cy="494.0" r="2.2" fill="#e81c8c"/><circle cx="1364.2" cy="524.4" r="2.2" fill="#e81c8c"/><circle cx="1417.4" cy="455.0" r="2.2" fill="#e81a14"/><circle cx="1362.2" cy="570.8" r="2.2" fill="#e81c8c"/><circle cx="1294.3" cy="541.9" r="2.2" fill="#d8b410"/><circle cx="1401.0" cy="448.1" r="2.2" fill="#e81a14"/><circle cx="1336.5" cy="512.6" r="2.2" fill="#0c9a1a"/><circle cx="1338.0" cy="530.1" r="2.2" fill="#0c9a1a"/><circle cx="1371.2" cy="515.2" r="2.2" fill="#e81c8c"/><circle cx="1251.6" cy="565.3" r="2.2" fill="#d8b410"/><circle cx="1268.7" cy="535.4" r="2.2" fill="#d8b410"/><circle cx="1330.5" cy="498.5" r="2.2" fill="#0c9a1a"/><circle cx="1389.4" cy="508.8" r="2.2" fill="#e81c8c"/><circle cx="1374.0" cy="523.4" r="2.2" fill="#e81c8c"/><circle cx="1445.0" cy="466.5" r="2.2" fill="#e81a14"/><circle cx="1307.6" cy="530.0" r="2.2" fill="#0c9a1a"/><circle cx="1265.7" cy="523.5" r="2.2" fill="#d8b410"/><circle cx="1284.7" cy="516.8" r="2.2" fill="#0c9a1a"/><circle cx="1283.4" cy="528.9" r="2.2" fill="#d8b410"/><circle cx="1394.8" cy="511.0" r="2.2" fill="#e81c8c"/><circle cx="1244.4" cy="569.5" r="2.2" fill="#d8b410"/><circle cx="1397.7" cy="485.1" r="2.2" fill="#e81c8c"/><circle cx="1305.1" cy="540.8" r="2.2" fill="#0c9a1a"/><circle cx="1390.9" cy="486.2" r="2.2" fill="#e81c8c"/><circle cx="1294.4" cy="506.5" r="2.2" fill="#0c9a1a"/><circle cx="1325.8" cy="475.9" r="2.2" fill="#0c9a1a"/><circle cx="1381.6" cy="519.2" r="2.2" fill="#e81c8c"/><circle cx="1267.5" cy="500.5" r="2.2" fill="#d8c830"/><circle cx="1304.9" cy="489.8" r="2.2" fill="#0c9a1a"/><circle cx="1337.4" cy="518.5" r="2.2" fill="#0c9a1a"/><circle cx="1321.0" cy="523.6" r="2.2" fill="#0c9a1a"/><circle cx="1378.5" cy="458.7" r="2.2" fill="#e81c8c"/><circle cx="1296.0" cy="544.2" r="2.2" fill="#d8b410"/><circle cx="1315.3" cy="533.7" r="2.2" fill="#0c9a1a"/><circle cx="1420.5" cy="490.0" r="2.2" fill="#e81a14"/><circle cx="1451.9" cy="453.7" r="2.2" fill="#e81a14"/><circle cx="1306.5" cy="451.3" r="2.2" fill="#0c6a1a"/><circle cx="1253.1" cy="558.1" r="2.2" fill="#d8b410"/><circle cx="1263.2" cy="539.3" r="2.2" fill="#d8b410"/><circle cx="1274.0" cy="534.4" r="2.2" fill="#d8b410"/><circle cx="1423.6" cy="539.7" r="2.2" fill="#e81a14"/><circle cx="1267.5" cy="540.6" r="2.2" fill="#d8b410"/><circle cx="1424.5" cy="471.6" r="2.2" fill="#e81a14"/><circle cx="1244.3" cy="544.0" r="2.2" fill="#d8b410"/><circle cx="1400.0" cy="539.7" r="2.2" fill="#e81a14"/><circle cx="1300.9" cy="531.4" r="2.2" fill="#d8b410"/><circle cx="1281.4" cy="542.1" r="2.2" fill="#d8b410"/><circle cx="1315.5" cy="503.0" r="2.2" fill="#0c9a1a"/><circle cx="1254.5" cy="555.3" r="2.2" fill="#d8b410"/><circle cx="1313.2" cy="534.4" r="2.2" fill="#0c9a1a"/><circle cx="1419.9" cy="460.8" r="2.2" fill="#e81a14"/><circle cx="1410.8" cy="451.2" r="2.2" fill="#e81a14"/><circle cx="1431.8" cy="521.4" r="2.2" fill="#e81a14"/><circle cx="1366.4" cy="462.8" r="2.2" fill="#e81c8c"/><circle cx="1237.8" cy="548.7" r="2.2" fill="#d8b410"/><circle cx="1456.0" cy="511.4" r="2.2" fill="#e81a14"/><circle cx="1314.0" cy="520.6" r="2.2" fill="#0c9a1a"/><circle cx="1377.5" cy="553.4" r="2.2" fill="#e81c8c"/><circle cx="1391.4" cy="469.4" r="2.2" fill="#e81c8c"/><circle cx="1453.4" cy="516.9" r="2.2" fill="#e81a14"/><circle cx="1414.2" cy="469.8" r="2.2" fill="#e81a14"/><circle cx="1321.4" cy="517.0" r="2.2" fill="#0c9a1a"/><circle cx="1267.1" cy="555.8" r="2.2" fill="#d8b410"/><circle cx="1437.7" cy="443.8" r="2.2" fill="#e81a14"/><circle cx="1411.1" cy="493.4" r="2.2" fill="#e81c8c"/><circle cx="1431.4" cy="446.0" r="2.2" fill="#e81a14"/><circle cx="1375.0" cy="467.6" r="2.2" fill="#e81c8c"/><circle cx="1274.5" cy="547.1" r="2.2" fill="#d8b410"/><circle cx="1421.1" cy="496.5" r="2.2" fill="#e81a14"/><circle cx="1276.2" cy="541.5" r="2.2" fill="#d8b410"/><circle cx="1399.2" cy="508.7" r="2.2" fill="#e81c8c"/><circle cx="1334.5" cy="548.1" r="2.2" fill="#0c9a1a"/><circle cx="1377.0" cy="460.4" r="2.2" fill="#e81c8c"/><circle cx="1262.8" cy="539.3" r="2.2" fill="#d8b410"/><circle cx="1429.5" cy="521.9" r="2.2" fill="#e81a14"/><circle cx="1298.4" cy="532.5" r="2.2" fill="#0c9a1a"/><circle cx="1450.7" cy="447.4" r="2.2" fill="#e81a14"/><circle cx="1402.9" cy="489.9" r="2.2" fill="#e81c8c"/><circle cx="1307.3" cy="522.2" r="2.2" fill="#0c9a1a"/><circle cx="1388.9" cy="525.9" r="2.2" fill="#e81c8c"/><circle cx="1462.4" cy="492.0" r="2.2" fill="#e81a14"/><circle cx="1426.2" cy="496.4" r="2.2" fill="#e81a14"/><circle cx="1320.8" cy="531.3" r="2.2" fill="#0c9a1a"/><circle cx="1239.1" cy="537.7" r="2.2" fill="#d8b410"/><circle cx="1399.1" cy="396.3" r="2.2" fill="#e81c8c"/><circle cx="1291.8" cy="560.7" r="2.2" fill="#0c9a1a"/><circle cx="1445.9" cy="464.9" r="2.2" fill="#e81a14"/><circle cx="1359.6" cy="478.5" r="2.2" fill="#e81c8c"/><circle cx="1307.8" cy="566.0" r="2.2" fill="#0c9a1a"/><circle cx="1381.8" cy="481.2" r="2.2" fill="#e81c8c"/><circle cx="1426.5" cy="407.1" r="2.2" fill="#e81a14"/><circle cx="1457.9" cy="520.5" r="2.2" fill="#e81a14"/><circle cx="1335.8" cy="516.8" r="2.2" fill="#0c9a1a"/><circle cx="1418.4" cy="521.1" r="2.2" fill="#e81a14"/><circle cx="1305.0" cy="533.7" r="2.2" fill="#0c9a1a"/><circle cx="1315.3" cy="498.8" r="2.2" fill="#0c9a1a"/><circle cx="1262.4" cy="560.1" r="2.2" fill="#d8b410"/><circle cx="1289.3" cy="560.1" r="2.2" fill="#0c9a1a"/><circle cx="1264.7" cy="534.6" r="2.2" fill="#d8b410"/><circle cx="1302.6" cy="495.3" r="2.2" fill="#0c9a1a"/><circle cx="1300.9" cy="535.9" r="2.2" fill="#d8b410"/><circle cx="1386.2" cy="504.6" r="2.2" fill="#e81c8c"/><circle cx="1430.8" cy="526.4" r="2.2" fill="#e81a14"/><circle cx="1300.9" cy="539.6" r="2.2" fill="#d8b410"/><circle cx="1384.3" cy="492.4" r="2.2" fill="#e81c8c"/><circle cx="1292.1" cy="543.2" r="2.2" fill="#d8b410"/><circle cx="1244.8" cy="560.0" r="2.2" fill="#d8b410"/><circle cx="1288.3" cy="535.6" r="2.2" fill="#d8b410"/><circle cx="1333.3" cy="504.5" r="2.2" fill="#0c9a1a"/><circle cx="1281.5" cy="554.2" r="2.2" fill="#d8b410"/><circle cx="1313.6" cy="521.6" r="2.2" fill="#0c9a1a"/><circle cx="1386.2" cy="550.0" r="2.2" fill="#e81c8c"/><circle cx="1277.5" cy="534.1" r="2.2" fill="#d8b410"/><circle cx="1323.6" cy="523.3" r="2.2" fill="#0c9a1a"/><circle cx="1300.9" cy="551.2" r="2.2" fill="#0c9a1a"/><circle cx="1382.8" cy="499.4" r="2.2" fill="#e81c8c"/><circle cx="1361.8" cy="492.8" r="2.2" fill="#e81c8c"/><circle cx="1393.9" cy="446.6" r="2.2" fill="#e81c8c"/><circle cx="1320.6" cy="507.9" r="2.2" fill="#0c9a1a"/><circle cx="1336.0" cy="522.1" r="2.2" fill="#0c9a1a"/><circle cx="1274.7" cy="573.2" r="2.2" fill="#d8b410"/><circle cx="1373.0" cy="455.2" r="2.2" fill="#e81c8c"/><circle cx="1431.9" cy="481.5" r="2.2" fill="#e81a14"/><circle cx="1261.8" cy="573.2" r="2.2" fill="#d8b410"/><circle cx="1326.6" cy="516.2" r="2.2" fill="#0c9a1a"/><circle cx="1289.0" cy="541.0" r="2.2" fill="#d8b410"/><circle cx="1431.7" cy="481.2" r="2.2" fill="#e81a14"/><circle cx="1395.4" cy="495.2" r="2.2" fill="#e81c8c"/><circle cx="1262.1" cy="573.2" r="2.2" fill="#d8b410"/><circle cx="1276.5" cy="534.2" r="2.2" fill="#d8b410"/><circle cx="1401.7" cy="557.8" r="2.2" fill="#e81c8c"/><circle cx="1397.4" cy="460.0" r="2.2" fill="#e81c8c"/><circle cx="1269.3" cy="532.8" r="2.2" fill="#d8b410"/><circle cx="1421.1" cy="509.4" r="2.2" fill="#e81a14"/><circle cx="1426.4" cy="478.7" r="2.2" fill="#e81a14"/><circle cx="1375.6" cy="516.7" r="2.2" fill="#e81c8c"/><circle cx="1267.7" cy="532.2" r="2.2" fill="#d8b410"/><circle cx="1408.7" cy="458.7" r="2.2" fill="#e81c8c"/><circle cx="1281.3" cy="548.1" r="2.2" fill="#d8b410"/><circle cx="1293.3" cy="507.9" r="2.2" fill="#0c9a1a"/><circle cx="1426.4" cy="460.0" r="2.2" fill="#e81a14"/><circle cx="1395.9" cy="522.4" r="2.2" fill="#e81c8c"/><circle cx="1274.1" cy="554.5" r="2.2" fill="#d8b410"/><circle cx="1434.0" cy="524.5" r="2.2" fill="#e81a14"/><circle cx="1281.0" cy="524.2" r="2.2" fill="#d8b410"/><circle cx="1421.1" cy="442.6" r="2.2" fill="#e81a14"/><circle cx="1372.2" cy="527.8" r="2.2" fill="#e81c8c"/><circle cx="1375.6" cy="528.6" r="2.2" fill="#e81c8c"/><circle cx="1277.9" cy="539.9" r="2.2" fill="#d8b410"/><circle cx="1432.9" cy="452.4" r="2.2" fill="#e81a14"/><circle cx="1311.4" cy="504.5" r="2.2" fill="#0c9a1a"/><circle cx="1326.1" cy="479.9" r="2.2" fill="#0c9a1a"/><circle cx="1299.7" cy="535.8" r="2.2" fill="#0c9a1a"/><circle cx="1400.9" cy="529.0" r="2.2" fill="#e81c8c"/><circle cx="1410.8" cy="529.4" r="2.2" fill="#e81c8c"/><circle cx="1337.6" cy="518.6" r="2.2" fill="#0c9a1a"/><circle cx="1423.5" cy="470.3" r="2.2" fill="#e81c8c"/></g>
<path d="M1236.9 546.9 L1459.7 451.3 L1459.7 466.6 L1236.9 560.3 Z" fill="#b0b0b0" opacity="0.4"/>
<line x1="1236.9" y1="553.6" x2="1459.7" y2="459.0" stroke="#3a68d8" stroke-width="2"/>
<g font-size="19.6" fill="#c82035">
<text x="1229.5" y="404.4">R<tspan font-size="12" dy="-8">2</tspan><tspan dy="8"> = 0.4076</tspan></text>
<text x="1229.5" y="423">p &lt; 0.0001</text>
<text x="1229.5" y="443.7">n = 362</text>
</g>
<defs>
<filter id="bl1" x="-50%" y="-50%" width="200%" height="200%"><feGaussianBlur stdDeviation="1"/></filter>
<filter id="bl2" x="-50%" y="-50%" width="200%" height="200%"><feGaussianBlur stdDeviation="2.5"/></filter>
<filter id="bl4" x="-50%" y="-50%" width="200%" height="200%"><feGaussianBlur stdDeviation="4"/></filter>
<filter id="bl6" x="-50%" y="-50%" width="200%" height="200%"><feGaussianBlur stdDeviation="7"/></filter>
<clipPath id="cp1"><rect x="55.4" y="670.4" width="173.6" height="175.6"/></clipPath>
<clipPath id="cp2"><rect x="229" y="670.4" width="173.5" height="175.6"/></clipPath>
<clipPath id="cp3"><rect x="402.5" y="670.4" width="175.3" height="175.6"/></clipPath>
<clipPath id="cp4"><rect x="577.8" y="670.4" width="173.3" height="175.6"/></clipPath>
<clipPath id="cq1"><rect x="55" y="852" width="174.5" height="173.5"/></clipPath>
<clipPath id="cq2"><rect x="229.5" y="852" width="173" height="173.5"/></clipPath>
<clipPath id="cq3"><rect x="405.4" y="853.7" width="170.6" height="171.6"/></clipPath>
<clipPath id="cq4"><rect x="578.5" y="853.7" width="173.3" height="172.8"/></clipPath>
</defs>
<rect x="55.4" y="670.4" width="695.7" height="175.6" fill="#050505"/>
<rect x="55" y="852" width="347.5" height="173.5" fill="#040604"/>
<rect x="405.4" y="853.7" width="170.6" height="171.6" fill="#050a05"/>
<rect x="578.5" y="853.7" width="173.3" height="172.8" fill="#050505"/>
<g clip-path="url(#cp1)"><g filter="url(#bl1)"><circle cx="194.5" cy="818.2" r="1.1" fill="#b01a1a" opacity="0.86"/><circle cx="114.9" cy="684.5" r="1.1" fill="#b01a1a" opacity="0.49"/><circle cx="131.3" cy="701.6" r="0.7" fill="#b01a1a" opacity="0.65"/><circle cx="201.8" cy="818.5" r="0.7" fill="#b01a1a" opacity="0.50"/><circle cx="74.4" cy="766.2" r="1.0" fill="#b01a1a" opacity="0.42"/><circle cx="90.0" cy="696.3" r="0.6" fill="#b01a1a" opacity="0.78"/><circle cx="214.4" cy="782.9" r="0.9" fill="#b01a1a" opacity="0.72"/><circle cx="226.0" cy="804.8" r="1.2" fill="#b01a1a" opacity="0.46"/><circle cx="72.8" cy="773.8" r="0.7" fill="#b01a1a" opacity="0.39"/><circle cx="145.8" cy="812.2" r="1.0" fill="#b01a1a" opacity="0.68"/><circle cx="110.4" cy="800.8" r="1.0" fill="#b01a1a" opacity="0.45"/><circle cx="70.5" cy="704.0" r="0.6" fill="#b01a1a" opacity="0.89"/><circle cx="106.0" cy="694.6" r="0.9" fill="#b01a1a" opacity="0.58"/><circle cx="77.2" cy="779.7" r="0.6" fill="#b01a1a" opacity="0.38"/><circle cx="228.9" cy="787.9" r="0.7" fill="#b01a1a" opacity="0.80"/><circle cx="58.7" cy="706.8" r="0.8" fill="#b01a1a" opacity="0.64"/><circle cx="71.4" cy="711.0" r="1.2" fill="#b01a1a" opacity="0.37"/><circle cx="159.7" cy="728.3" r="0.9" fill="#b01a1a" opacity="0.55"/><circle cx="211.1" cy="765.6" r="0.8" fill="#b01a1a" opacity="0.52"/><circle cx="213.3" cy="793.0" r="1.0" fill="#b01a1a" opacity="0.75"/><circle cx="139.0" cy="812.4" r="1.2" fill="#b01a1a" opacity="0.64"/><circle cx="65.2" cy="755.8" r="1.1" fill="#b01a1a" opacity="0.54"/><circle cx="200.2" cy="821.8" r="1.2" fill="#b01a1a" opacity="0.37"/><circle cx="79.1" cy="694.7" r="0.7" fill="#b01a1a" opacity="0.89"/><circle cx="199.5" cy="754.4" r="0.9" fill="#b01a1a" opacity="0.43"/><circle cx="56.9" cy="743.0" r="0.9" fill="#b01a1a" opacity="0.90"/><circle cx="213.7" cy="786.1" r="1.1" fill="#b01a1a" opacity="0.61"/><circle cx="156.9" cy="818.1" r="1.2" fill="#b01a1a" opacity="0.41"/><circle cx="224.5" cy="788.5" r="0.6" fill="#b01a1a" opacity="0.50"/><circle cx="83.1" cy="687.3" r="1.1" fill="#b01a1a" opacity="0.78"/><circle cx="118.0" cy="693.9" r="0.7" fill="#b01a1a" opacity="0.62"/><circle cx="153.4" cy="821.2" r="0.8" fill="#b01a1a" opacity="0.45"/><circle cx="96.1" cy="682.0" r="0.7" fill="#b01a1a" opacity="0.51"/><circle cx="83.7" cy="692.3" r="1.1" fill="#b01a1a" opacity="0.54"/><circle cx="102.8" cy="801.6" r="1.1" fill="#b01a1a" opacity="0.83"/><circle cx="55.5" cy="715.8" r="1.2" fill="#b01a1a" opacity="0.63"/><circle cx="216.2" cy="783.5" r="0.7" fill="#b01a1a" opacity="0.39"/><circle cx="66.9" cy="745.3" r="1.1" fill="#b01a1a" opacity="0.67"/><circle cx="60.6" cy="741.7" r="0.7" fill="#b01a1a" opacity="0.90"/><circle cx="218.7" cy="800.0" r="0.9" fill="#b01a1a" opacity="0.71"/><circle cx="219.0" cy="810.7" r="1.2" fill="#b01a1a" opacity="0.89"/><circle cx="218.1" cy="778.8" r="0.6" fill="#b01a1a" opacity="0.52"/><circle cx="226.9" cy="789.2" r="0.8" fill="#b01a1a" opacity="0.71"/><circle cx="147.1" cy="711.7" r="0.7" fill="#b01a1a" opacity="0.85"/><circle cx="87.8" cy="683.5" r="1.2" fill="#b01a1a" opacity="0.73"/><circle cx="85.7" cy="774.2" r="0.9" fill="#b01a1a" opacity="0.52"/><circle cx="152.0" cy="820.8" r="1.2" fill="#b01a1a" opacity="0.80"/><circle cx="61.6" cy="744.0" r="0.9" fill="#b01a1a" opacity="0.65"/><circle cx="71.0" cy="707.3" r="1.2" fill="#b01a1a" opacity="0.88"/><circle cx="160.0" cy="728.5" r="1.2" fill="#b01a1a" opacity="0.35"/><circle cx="181.8" cy="738.0" r="0.8" fill="#b01a1a" opacity="0.83"/><circle cx="85.1" cy="773.6" r="1.2" fill="#b01a1a" opacity="0.62"/><circle cx="75.6" cy="701.6" r="1.2" fill="#b01a1a" opacity="0.68"/><circle cx="189.1" cy="818.7" r="0.8" fill="#b01a1a" opacity="0.49"/><circle cx="105.9" cy="685.2" r="0.8" fill="#b01a1a" opacity="0.61"/><circle cx="181.4" cy="760.4" r="1.2" fill="#b01a1a" opacity="0.49"/><circle cx="121.4" cy="696.5" r="0.9" fill="#b01a1a" opacity="0.50"/><circle cx="63.2" cy="697.4" r="0.7" fill="#b01a1a" opacity="0.50"/><circle cx="212.0" cy="774.0" r="1.2" fill="#b01a1a" opacity="0.64"/><circle cx="187.9" cy="745.7" r="0.6" fill="#b01a1a" opacity="0.51"/><circle cx="108.5" cy="810.2" r="0.8" fill="#b01a1a" opacity="0.72"/><circle cx="199.0" cy="754.7" r="0.7" fill="#b01a1a" opacity="0.60"/><circle cx="174.6" cy="743.1" r="1.1" fill="#b01a1a" opacity="0.59"/><circle cx="70.5" cy="695.5" r="1.1" fill="#b01a1a" opacity="0.61"/><circle cx="220.0" cy="800.6" r="0.8" fill="#b01a1a" opacity="0.35"/><circle cx="59.0" cy="732.5" r="1.0" fill="#b01a1a" opacity="0.61"/><circle cx="136.2" cy="811.2" r="0.9" fill="#b01a1a" opacity="0.53"/><circle cx="207.4" cy="775.4" r="0.9" fill="#b01a1a" opacity="0.38"/><circle cx="215.3" cy="813.7" r="1.2" fill="#b01a1a" opacity="0.53"/><circle cx="63.8" cy="735.0" r="1.2" fill="#b01a1a" opacity="0.74"/><circle cx="130.1" cy="700.7" r="1.1" fill="#b01a1a" opacity="0.41"/><circle cx="197.5" cy="761.9" r="1.0" fill="#b01a1a" opacity="0.59"/><circle cx="225.5" cy="791.0" r="1.0" fill="#b01a1a" opacity="0.37"/><circle cx="180.8" cy="739.3" r="1.1" fill="#b01a1a" opacity="0.50"/><circle cx="185.9" cy="748.1" r="0.9" fill="#b01a1a" opacity="0.52"/><circle cx="71.0" cy="687.8" r="1.2" fill="#b01a1a" opacity="0.56"/><circle cx="134.0" cy="704.1" r="1.0" fill="#b01a1a" opacity="0.51"/><circle cx="217.5" cy="808.5" r="0.9" fill="#b01a1a" opacity="0.49"/><circle cx="166.0" cy="820.1" r="0.8" fill="#b01a1a" opacity="0.76"/><circle cx="221.4" cy="789.6" r="0.6" fill="#b01a1a" opacity="0.54"/><circle cx="119.0" cy="695.9" r="0.7" fill="#b01a1a" opacity="0.83"/><circle cx="73.3" cy="699.6" r="0.6" fill="#b01a1a" opacity="0.64"/><circle cx="74.9" cy="770.5" r="1.0" fill="#b01a1a" opacity="0.47"/><circle cx="183.4" cy="747.4" r="1.2" fill="#b01a1a" opacity="0.62"/><circle cx="218.5" cy="805.5" r="0.7" fill="#b01a1a" opacity="0.53"/><circle cx="101.6" cy="794.5" r="0.8" fill="#b01a1a" opacity="0.75"/><circle cx="88.4" cy="796.2" r="1.1" fill="#b01a1a" opacity="0.63"/><circle cx="225.3" cy="813.5" r="0.8" fill="#b01a1a" opacity="0.40"/><circle cx="115.7" cy="694.0" r="1.2" fill="#b01a1a" opacity="0.71"/><circle cx="101.8" cy="797.1" r="0.9" fill="#b01a1a" opacity="0.84"/><circle cx="59.9" cy="736.3" r="1.0" fill="#b01a1a" opacity="0.39"/><circle cx="75.7" cy="768.0" r="0.9" fill="#b01a1a" opacity="0.65"/><circle cx="180.0" cy="742.0" r="0.7" fill="#b01a1a" opacity="0.62"/><circle cx="115.0" cy="695.3" r="1.1" fill="#b01a1a" opacity="0.52"/><circle cx="139.7" cy="702.0" r="1.2" fill="#b01a1a" opacity="0.41"/><circle cx="119.9" cy="815.8" r="1.0" fill="#b01a1a" opacity="0.75"/><circle cx="209.7" cy="783.5" r="1.0" fill="#b01a1a" opacity="0.69"/><circle cx="87.5" cy="787.0" r="0.7" fill="#b01a1a" opacity="0.55"/><circle cx="144.3" cy="707.6" r="0.7" fill="#b01a1a" opacity="0.72"/><circle cx="129.2" cy="690.6" r="0.9" fill="#b01a1a" opacity="0.89"/><circle cx="92.9" cy="684.8" r="0.7" fill="#b01a1a" opacity="0.37"/><circle cx="97.8" cy="796.1" r="1.1" fill="#b01a1a" opacity="0.48"/><circle cx="80.1" cy="697.5" r="1.0" fill="#b01a1a" opacity="0.62"/><circle cx="136.0" cy="705.8" r="1.1" fill="#b01a1a" opacity="0.60"/><circle cx="127.8" cy="706.4" r="1.0" fill="#b01a1a" opacity="0.70"/><circle cx="230.9" cy="794.5" r="0.6" fill="#b01a1a" opacity="0.52"/><circle cx="170.0" cy="748.0" r="0.6" fill="#b01a1a" opacity="0.75"/><circle cx="100.5" cy="696.5" r="0.8" fill="#b01a1a" opacity="0.58"/><circle cx="77.1" cy="781.2" r="1.1" fill="#b01a1a" opacity="0.73"/><circle cx="217.8" cy="812.3" r="0.6" fill="#b01a1a" opacity="0.62"/><circle cx="188.3" cy="816.4" r="0.6" fill="#b01a1a" opacity="0.48"/><circle cx="161.3" cy="718.6" r="1.2" fill="#b01a1a" opacity="0.72"/><circle cx="174.8" cy="811.6" r="0.7" fill="#b01a1a" opacity="0.51"/><circle cx="81.0" cy="778.3" r="0.6" fill="#b01a1a" opacity="0.77"/><circle cx="75.4" cy="775.1" r="1.0" fill="#b01a1a" opacity="0.77"/><circle cx="113.7" cy="686.5" r="1.1" fill="#b01a1a" opacity="0.71"/><circle cx="102.9" cy="689.2" r="1.1" fill="#b01a1a" opacity="0.56"/><circle cx="199.4" cy="752.2" r="0.8" fill="#b01a1a" opacity="0.43"/><circle cx="79.6" cy="691.1" r="1.1" fill="#b01a1a" opacity="0.66"/><circle cx="112.5" cy="688.7" r="1.2" fill="#b01a1a" opacity="0.80"/><circle cx="68.9" cy="729.6" r="0.7" fill="#b01a1a" opacity="0.59"/><circle cx="83.1" cy="796.2" r="0.8" fill="#b01a1a" opacity="0.44"/><circle cx="215.5" cy="779.5" r="0.7" fill="#b01a1a" opacity="0.74"/><circle cx="61.0" cy="720.6" r="0.9" fill="#b01a1a" opacity="0.59"/><circle cx="112.3" cy="810.4" r="0.9" fill="#b01a1a" opacity="0.59"/><circle cx="207.1" cy="783.4" r="1.2" fill="#b01a1a" opacity="0.68"/><circle cx="171.1" cy="742.1" r="0.7" fill="#b01a1a" opacity="0.35"/><circle cx="209.4" cy="809.4" r="1.2" fill="#b01a1a" opacity="0.57"/><circle cx="218.9" cy="807.5" r="0.9" fill="#b01a1a" opacity="0.77"/><circle cx="205.9" cy="808.7" r="1.1" fill="#b01a1a" opacity="0.80"/><circle cx="141.2" cy="702.2" r="1.1" fill="#b01a1a" opacity="0.62"/><circle cx="121.6" cy="691.6" r="0.8" fill="#b01a1a" opacity="0.76"/><circle cx="167.1" cy="815.4" r="0.8" fill="#b01a1a" opacity="0.73"/><circle cx="165.2" cy="724.8" r="0.8" fill="#b01a1a" opacity="0.36"/><circle cx="222.6" cy="794.2" r="1.0" fill="#b01a1a" opacity="0.63"/><circle cx="82.8" cy="690.5" r="1.0" fill="#b01a1a" opacity="0.57"/><circle cx="144.1" cy="698.9" r="1.0" fill="#b01a1a" opacity="0.72"/><circle cx="224.8" cy="805.6" r="0.6" fill="#b01a1a" opacity="0.40"/><circle cx="88.0" cy="798.5" r="0.8" fill="#b01a1a" opacity="0.88"/><circle cx="99.7" cy="684.1" r="1.1" fill="#b01a1a" opacity="0.39"/><circle cx="166.2" cy="720.7" r="1.0" fill="#b01a1a" opacity="0.81"/><circle cx="231.5" cy="810.1" r="0.6" fill="#b01a1a" opacity="0.42"/><circle cx="107.6" cy="797.4" r="0.6" fill="#b01a1a" opacity="0.56"/><circle cx="222.3" cy="790.1" r="0.9" fill="#b01a1a" opacity="0.46"/><circle cx="124.6" cy="812.7" r="0.9" fill="#b01a1a" opacity="0.74"/><circle cx="81.0" cy="780.1" r="0.6" fill="#b01a1a" opacity="0.51"/><circle cx="180.8" cy="817.5" r="0.6" fill="#b01a1a" opacity="0.58"/><circle cx="224.3" cy="793.0" r="0.6" fill="#b01a1a" opacity="0.66"/><circle cx="60.7" cy="754.4" r="1.2" fill="#b01a1a" opacity="0.52"/><circle cx="170.7" cy="815.6" r="1.2" fill="#b01a1a" opacity="0.53"/><circle cx="64.6" cy="741.8" r="1.0" fill="#b01a1a" opacity="0.45"/><circle cx="223.3" cy="797.2" r="0.6" fill="#b01a1a" opacity="0.78"/><circle cx="115.7" cy="807.7" r="1.1" fill="#b01a1a" opacity="0.88"/><circle cx="127.7" cy="813.6" r="0.9" fill="#b01a1a" opacity="0.56"/><circle cx="212.3" cy="809.7" r="1.1" fill="#b01a1a" opacity="0.35"/><circle cx="215.1" cy="772.9" r="0.8" fill="#b01a1a" opacity="0.55"/><circle cx="178.0" cy="734.4" r="1.1" fill="#b01a1a" opacity="0.45"/><circle cx="174.9" cy="734.2" r="1.1" fill="#b01a1a" opacity="0.46"/><circle cx="122.0" cy="813.7" r="1.1" fill="#b01a1a" opacity="0.40"/><circle cx="68.6" cy="754.9" r="0.9" fill="#b01a1a" opacity="0.35"/><circle cx="79.9" cy="780.6" r="0.8" fill="#b01a1a" opacity="0.76"/><circle cx="77.9" cy="694.2" r="1.1" fill="#b01a1a" opacity="0.51"/><circle cx="180.8" cy="752.0" r="0.7" fill="#b01a1a" opacity="0.54"/><circle cx="213.8" cy="754.2" r="0.9" fill="#b01a1a" opacity="0.73"/><circle cx="163.8" cy="721.3" r="1.1" fill="#b01a1a" opacity="0.64"/><circle cx="131.1" cy="697.5" r="1.2" fill="#b01a1a" opacity="0.50"/><circle cx="144.5" cy="717.8" r="0.9" fill="#b01a1a" opacity="0.45"/><circle cx="79.7" cy="765.4" r="0.7" fill="#b01a1a" opacity="0.60"/><circle cx="195.3" cy="757.9" r="0.8" fill="#b01a1a" opacity="0.36"/><circle cx="199.0" cy="817.9" r="1.2" fill="#b01a1a" opacity="0.83"/><circle cx="152.5" cy="719.1" r="0.9" fill="#b01a1a" opacity="0.61"/><circle cx="158.5" cy="722.1" r="1.0" fill="#b01a1a" opacity="0.81"/><circle cx="67.0" cy="703.8" r="1.1" fill="#b01a1a" opacity="0.59"/><circle cx="119.0" cy="693.8" r="0.8" fill="#b01a1a" opacity="0.75"/><circle cx="65.7" cy="731.9" r="1.1" fill="#b01a1a" opacity="0.84"/><circle cx="208.5" cy="767.5" r="0.7" fill="#b01a1a" opacity="0.81"/><circle cx="149.9" cy="717.2" r="0.7" fill="#b01a1a" opacity="0.61"/><circle cx="164.5" cy="817.8" r="1.0" fill="#b01a1a" opacity="0.77"/><circle cx="70.4" cy="714.6" r="0.8" fill="#b01a1a" opacity="0.43"/><circle cx="103.2" cy="693.3" r="0.9" fill="#b01a1a" opacity="0.52"/><circle cx="67.2" cy="712.2" r="1.2" fill="#b01a1a" opacity="0.37"/><circle cx="220.6" cy="795.0" r="0.6" fill="#b01a1a" opacity="0.42"/><circle cx="80.1" cy="783.5" r="1.2" fill="#b01a1a" opacity="0.84"/><circle cx="161.2" cy="727.0" r="0.6" fill="#b01a1a" opacity="0.57"/><circle cx="143.1" cy="819.2" r="1.2" fill="#b01a1a" opacity="0.48"/><circle cx="199.1" cy="766.4" r="0.9" fill="#b01a1a" opacity="0.75"/><circle cx="196.9" cy="759.9" r="0.6" fill="#b01a1a" opacity="0.47"/><circle cx="210.1" cy="808.8" r="1.0" fill="#b01a1a" opacity="0.79"/><circle cx="134.9" cy="703.1" r="1.2" fill="#b01a1a" opacity="0.78"/><circle cx="150.1" cy="819.8" r="0.6" fill="#b01a1a" opacity="0.42"/><circle cx="79.9" cy="785.7" r="1.0" fill="#b01a1a" opacity="0.56"/><circle cx="76.1" cy="778.6" r="0.7" fill="#b01a1a" opacity="0.86"/><circle cx="152.1" cy="713.9" r="1.0" fill="#b01a1a" opacity="0.40"/><circle cx="147.3" cy="817.6" r="0.8" fill="#b01a1a" opacity="0.57"/><circle cx="61.6" cy="712.6" r="0.7" fill="#b01a1a" opacity="0.60"/><circle cx="136.2" cy="707.7" r="0.6" fill="#b01a1a" opacity="0.84"/><circle cx="82.5" cy="778.7" r="1.1" fill="#b01a1a" opacity="0.76"/><circle cx="188.1" cy="818.7" r="0.6" fill="#b01a1a" opacity="0.49"/><circle cx="218.7" cy="780.7" r="1.2" fill="#b01a1a" opacity="0.59"/><circle cx="222.9" cy="788.0" r="0.9" fill="#b01a1a" opacity="0.85"/><circle cx="95.0" cy="796.2" r="1.1" fill="#b01a1a" opacity="0.62"/><circle cx="122.1" cy="694.8" r="0.8" fill="#b01a1a" opacity="0.58"/><circle cx="60.2" cy="723.6" r="0.6" fill="#b01a1a" opacity="0.39"/><circle cx="165.8" cy="725.0" r="1.1" fill="#b01a1a" opacity="0.52"/><circle cx="141.5" cy="714.6" r="0.8" fill="#b01a1a" opacity="0.52"/><circle cx="62.3" cy="714.9" r="0.6" fill="#b01a1a" opacity="0.77"/><circle cx="79.3" cy="690.2" r="0.7" fill="#b01a1a" opacity="0.87"/><circle cx="222.6" cy="804.9" r="0.7" fill="#b01a1a" opacity="0.90"/><circle cx="57.3" cy="739.4" r="0.7" fill="#b01a1a" opacity="0.85"/><circle cx="216.2" cy="784.9" r="0.9" fill="#b01a1a" opacity="0.67"/><circle cx="101.1" cy="692.0" r="0.9" fill="#b01a1a" opacity="0.85"/><circle cx="207.9" cy="813.4" r="0.8" fill="#b01a1a" opacity="0.78"/><circle cx="133.8" cy="814.4" r="0.8" fill="#b01a1a" opacity="0.84"/><circle cx="185.7" cy="816.0" r="1.0" fill="#b01a1a" opacity="0.40"/><circle cx="184.6" cy="746.3" r="1.2" fill="#b01a1a" opacity="0.51"/><circle cx="222.9" cy="788.8" r="1.2" fill="#b01a1a" opacity="0.56"/><circle cx="111.9" cy="806.4" r="0.8" fill="#b01a1a" opacity="0.40"/><circle cx="143.0" cy="703.4" r="0.8" fill="#b01a1a" opacity="0.90"/><circle cx="67.6" cy="751.5" r="1.2" fill="#b01a1a" opacity="0.78"/><circle cx="87.1" cy="691.6" r="0.9" fill="#b01a1a" opacity="0.39"/><circle cx="68.1" cy="741.9" r="0.6" fill="#b01a1a" opacity="0.63"/><circle cx="88.3" cy="788.4" r="0.9" fill="#b01a1a" opacity="0.41"/><circle cx="204.3" cy="812.7" r="1.2" fill="#b01a1a" opacity="0.65"/><circle cx="65.6" cy="730.2" r="0.8" fill="#b01a1a" opacity="0.60"/><circle cx="70.8" cy="734.7" r="0.6" fill="#b01a1a" opacity="0.71"/><circle cx="220.1" cy="792.8" r="0.8" fill="#b01a1a" opacity="0.80"/><circle cx="147.4" cy="712.4" r="0.9" fill="#b01a1a" opacity="0.59"/><circle cx="83.2" cy="692.4" r="0.7" fill="#b01a1a" opacity="0.70"/><circle cx="57.6" cy="711.4" r="0.6" fill="#b01a1a" opacity="0.46"/><circle cx="172.5" cy="736.7" r="0.7" fill="#b01a1a" opacity="0.49"/><circle cx="162.2" cy="723.3" r="1.0" fill="#b01a1a" opacity="0.79"/><circle cx="70.1" cy="696.4" r="1.0" fill="#b01a1a" opacity="0.49"/><circle cx="91.8" cy="795.2" r="0.7" fill="#b01a1a" opacity="0.36"/><circle cx="69.1" cy="694.6" r="0.9" fill="#b01a1a" opacity="0.83"/><circle cx="168.1" cy="819.0" r="0.9" fill="#b01a1a" opacity="0.51"/><circle cx="81.0" cy="783.6" r="0.6" fill="#b01a1a" opacity="0.71"/><circle cx="112.6" cy="703.0" r="1.1" fill="#b01a1a" opacity="0.71"/><circle cx="62.5" cy="741.6" r="1.0" fill="#b01a1a" opacity="0.60"/><circle cx="85.2" cy="687.3" r="0.6" fill="#b01a1a" opacity="0.67"/><circle cx="89.3" cy="695.7" r="0.9" fill="#b01a1a" opacity="0.61"/><circle cx="83.6" cy="777.2" r="0.6" fill="#b01a1a" opacity="0.46"/><circle cx="217.6" cy="786.1" r="0.7" fill="#b01a1a" opacity="0.81"/><circle cx="176.5" cy="732.1" r="0.7" fill="#b01a1a" opacity="0.36"/><circle cx="209.9" cy="811.3" r="1.1" fill="#b01a1a" opacity="0.63"/><circle cx="59.3" cy="731.6" r="0.9" fill="#b01a1a" opacity="0.65"/><circle cx="61.2" cy="722.3" r="1.1" fill="#b01a1a" opacity="0.84"/><circle cx="89.1" cy="690.7" r="1.1" fill="#b01a1a" opacity="0.41"/><circle cx="66.3" cy="711.9" r="1.2" fill="#b01a1a" opacity="0.61"/><circle cx="158.4" cy="818.4" r="1.1" fill="#b01a1a" opacity="0.69"/><circle cx="223.6" cy="803.9" r="1.2" fill="#b01a1a" opacity="0.89"/><circle cx="217.2" cy="801.6" r="0.9" fill="#b01a1a" opacity="0.84"/><circle cx="220.3" cy="785.3" r="0.6" fill="#b01a1a" opacity="0.59"/><circle cx="148.8" cy="813.2" r="1.1" fill="#b01a1a" opacity="0.41"/><circle cx="80.1" cy="767.6" r="0.7" fill="#b01a1a" opacity="0.57"/><circle cx="70.0" cy="719.9" r="0.9" fill="#b01a1a" opacity="0.46"/><circle cx="183.1" cy="809.1" r="1.2" fill="#b01a1a" opacity="0.85"/><circle cx="67.1" cy="744.6" r="1.1" fill="#b01a1a" opacity="0.75"/><circle cx="232.0" cy="795.5" r="1.0" fill="#b01a1a" opacity="0.74"/><circle cx="127.2" cy="699.5" r="0.8" fill="#b01a1a" opacity="0.40"/><circle cx="67.0" cy="732.9" r="0.7" fill="#b01a1a" opacity="0.51"/><circle cx="93.3" cy="682.9" r="1.1" fill="#b01a1a" opacity="0.74"/><circle cx="65.7" cy="705.4" r="1.1" fill="#b01a1a" opacity="0.53"/><circle cx="157.1" cy="713.8" r="1.1" fill="#b01a1a" opacity="0.55"/><circle cx="71.3" cy="700.7" r="1.0" fill="#b01a1a" opacity="0.84"/><circle cx="116.7" cy="812.6" r="0.8" fill="#b01a1a" opacity="0.59"/><circle cx="101.3" cy="686.5" r="0.8" fill="#b01a1a" opacity="0.80"/><circle cx="146.2" cy="711.2" r="1.0" fill="#b01a1a" opacity="0.52"/><circle cx="158.9" cy="714.3" r="0.8" fill="#b01a1a" opacity="0.53"/><circle cx="124.8" cy="693.5" r="0.9" fill="#b01a1a" opacity="0.40"/><circle cx="153.5" cy="724.5" r="0.9" fill="#b01a1a" opacity="0.61"/><circle cx="60.9" cy="724.2" r="1.0" fill="#b01a1a" opacity="0.88"/><circle cx="204.4" cy="812.4" r="1.1" fill="#b01a1a" opacity="0.67"/><circle cx="146.2" cy="714.4" r="0.8" fill="#b01a1a" opacity="0.87"/><circle cx="163.7" cy="723.6" r="1.2" fill="#b01a1a" opacity="0.55"/><circle cx="177.2" cy="736.9" r="0.8" fill="#b01a1a" opacity="0.73"/><circle cx="64.3" cy="716.4" r="1.2" fill="#b01a1a" opacity="0.68"/><circle cx="162.5" cy="819.4" r="0.9" fill="#b01a1a" opacity="0.63"/><circle cx="162.5" cy="731.0" r="0.9" fill="#b01a1a" opacity="0.60"/><circle cx="227.3" cy="800.5" r="0.6" fill="#b01a1a" opacity="0.59"/><circle cx="121.9" cy="691.8" r="0.8" fill="#b01a1a" opacity="0.68"/><circle cx="177.2" cy="742.9" r="0.6" fill="#b01a1a" opacity="0.41"/><circle cx="126.4" cy="701.7" r="0.6" fill="#b01a1a" opacity="0.69"/><circle cx="165.6" cy="820.7" r="0.8" fill="#b01a1a" opacity="0.73"/><circle cx="69.0" cy="762.0" r="1.0" fill="#b01a1a" opacity="0.82"/><circle cx="229.8" cy="785.0" r="0.6" fill="#b01a1a" opacity="0.59"/><circle cx="178.2" cy="806.9" r="1.1" fill="#b01a1a" opacity="0.87"/><circle cx="190.2" cy="743.5" r="0.6" fill="#b01a1a" opacity="0.76"/><circle cx="70.2" cy="714.0" r="0.7" fill="#b01a1a" opacity="0.89"/><circle cx="94.0" cy="693.5" r="1.0" fill="#b01a1a" opacity="0.59"/><circle cx="62.2" cy="715.2" r="0.8" fill="#b01a1a" opacity="0.46"/><circle cx="225.8" cy="799.4" r="1.0" fill="#b01a1a" opacity="0.63"/><circle cx="185.5" cy="744.4" r="0.8" fill="#b01a1a" opacity="0.54"/><circle cx="104.8" cy="795.8" r="0.9" fill="#b01a1a" opacity="0.50"/><circle cx="215.1" cy="801.3" r="0.7" fill="#b01a1a" opacity="0.89"/><circle cx="134.7" cy="813.1" r="0.6" fill="#b01a1a" opacity="0.46"/><circle cx="137.4" cy="809.8" r="1.2" fill="#b01a1a" opacity="0.70"/><circle cx="98.8" cy="797.4" r="0.7" fill="#b01a1a" opacity="0.39"/><circle cx="222.8" cy="785.7" r="1.2" fill="#b01a1a" opacity="0.81"/><circle cx="142.1" cy="818.8" r="1.1" fill="#b01a1a" opacity="0.77"/><circle cx="219.6" cy="809.5" r="1.0" fill="#b01a1a" opacity="0.51"/><circle cx="118.9" cy="693.7" r="1.1" fill="#b01a1a" opacity="0.86"/><circle cx="127.7" cy="812.4" r="1.2" fill="#b01a1a" opacity="0.62"/><circle cx="87.6" cy="686.7" r="0.8" fill="#b01a1a" opacity="0.70"/><circle cx="152.4" cy="819.1" r="1.0" fill="#b01a1a" opacity="0.68"/><circle cx="223.9" cy="801.3" r="0.7" fill="#b01a1a" opacity="0.46"/><circle cx="219.8" cy="809.5" r="1.1" fill="#b01a1a" opacity="0.46"/><circle cx="214.3" cy="786.1" r="1.1" fill="#b01a1a" opacity="0.62"/><circle cx="66.1" cy="727.9" r="1.0" fill="#b01a1a" opacity="0.39"/><circle cx="229.7" cy="793.4" r="1.0" fill="#b01a1a" opacity="0.70"/><circle cx="67.4" cy="698.3" r="1.2" fill="#b01a1a" opacity="0.36"/><circle cx="100.4" cy="684.2" r="0.8" fill="#b01a1a" opacity="0.50"/><circle cx="66.7" cy="702.9" r="1.0" fill="#b01a1a" opacity="0.54"/><circle cx="229.3" cy="799.0" r="0.6" fill="#b01a1a" opacity="0.86"/><circle cx="105.5" cy="692.4" r="0.7" fill="#b01a1a" opacity="0.65"/><circle cx="224.3" cy="801.4" r="1.2" fill="#b01a1a" opacity="0.39"/><circle cx="98.1" cy="794.6" r="0.6" fill="#b01a1a" opacity="0.48"/><circle cx="211.5" cy="807.1" r="1.1" fill="#b01a1a" opacity="0.39"/><circle cx="65.5" cy="764.3" r="0.7" fill="#b01a1a" opacity="0.72"/><circle cx="72.7" cy="700.6" r="0.8" fill="#b01a1a" opacity="0.68"/><circle cx="224.2" cy="803.5" r="1.0" fill="#b01a1a" opacity="0.53"/><circle cx="223.8" cy="785.8" r="1.0" fill="#b01a1a" opacity="0.86"/><circle cx="211.8" cy="810.2" r="1.1" fill="#b01a1a" opacity="0.71"/><circle cx="167.7" cy="817.7" r="0.9" fill="#b01a1a" opacity="0.75"/><circle cx="64.9" cy="704.1" r="0.9" fill="#b01a1a" opacity="0.70"/><circle cx="207.5" cy="812.3" r="1.2" fill="#b01a1a" opacity="0.40"/><circle cx="62.7" cy="721.1" r="0.9" fill="#b01a1a" opacity="0.78"/><circle cx="202.4" cy="774.1" r="0.6" fill="#b01a1a" opacity="0.41"/><circle cx="127.8" cy="698.3" r="0.6" fill="#b01a1a" opacity="0.58"/><circle cx="216.2" cy="795.9" r="1.1" fill="#b01a1a" opacity="0.64"/><circle cx="106.7" cy="805.9" r="1.2" fill="#b01a1a" opacity="0.62"/><circle cx="81.2" cy="698.2" r="1.1" fill="#b01a1a" opacity="0.67"/><circle cx="94.5" cy="681.9" r="0.6" fill="#b01a1a" opacity="0.45"/><circle cx="196.7" cy="818.3" r="0.7" fill="#b01a1a" opacity="0.72"/><circle cx="82.8" cy="695.3" r="0.9" fill="#b01a1a" opacity="0.53"/><circle cx="191.9" cy="816.9" r="1.1" fill="#b01a1a" opacity="0.48"/><circle cx="163.0" cy="813.1" r="1.2" fill="#b01a1a" opacity="0.54"/><circle cx="200.5" cy="815.3" r="0.7" fill="#b01a1a" opacity="0.64"/><circle cx="182.6" cy="818.1" r="1.0" fill="#b01a1a" opacity="0.83"/><circle cx="177.0" cy="729.4" r="1.2" fill="#b01a1a" opacity="0.52"/><circle cx="220.0" cy="794.2" r="1.2" fill="#b01a1a" opacity="0.58"/><circle cx="90.4" cy="695.9" r="0.8" fill="#b01a1a" opacity="0.40"/><circle cx="163.7" cy="733.6" r="0.8" fill="#b01a1a" opacity="0.61"/><circle cx="214.2" cy="766.0" r="0.7" fill="#b01a1a" opacity="0.59"/><circle cx="93.0" cy="698.1" r="0.8" fill="#b01a1a" opacity="0.87"/><circle cx="73.6" cy="704.2" r="1.2" fill="#b01a1a" opacity="0.41"/><circle cx="209.0" cy="812.7" r="0.9" fill="#b01a1a" opacity="0.56"/><circle cx="226.9" cy="798.1" r="0.8" fill="#b01a1a" opacity="0.43"/><circle cx="114.9" cy="686.6" r="1.0" fill="#b01a1a" opacity="0.58"/><circle cx="66.1" cy="705.0" r="0.9" fill="#b01a1a" opacity="0.47"/><circle cx="77.3" cy="697.8" r="0.6" fill="#b01a1a" opacity="0.40"/><circle cx="156.8" cy="812.6" r="0.9" fill="#b01a1a" opacity="0.38"/><circle cx="219.4" cy="785.5" r="0.8" fill="#b01a1a" opacity="0.81"/><circle cx="207.2" cy="770.5" r="0.9" fill="#b01a1a" opacity="0.45"/><circle cx="66.0" cy="721.1" r="1.2" fill="#b01a1a" opacity="0.71"/><circle cx="199.4" cy="758.1" r="0.6" fill="#b01a1a" opacity="0.61"/><circle cx="147.5" cy="712.4" r="0.8" fill="#b01a1a" opacity="0.86"/><circle cx="205.0" cy="813.5" r="1.2" fill="#b01a1a" opacity="0.72"/><circle cx="121.0" cy="696.3" r="0.8" fill="#b01a1a" opacity="0.78"/><circle cx="218.4" cy="815.5" r="0.8" fill="#b01a1a" opacity="0.81"/><circle cx="217.1" cy="808.5" r="1.1" fill="#b01a1a" opacity="0.86"/><circle cx="114.9" cy="691.9" r="1.2" fill="#b01a1a" opacity="0.59"/><circle cx="71.5" cy="701.7" r="0.6" fill="#b01a1a" opacity="0.90"/><circle cx="83.3" cy="784.2" r="1.2" fill="#b01a1a" opacity="0.87"/><circle cx="101.2" cy="797.4" r="0.8" fill="#b01a1a" opacity="0.81"/><circle cx="134.1" cy="816.7" r="1.2" fill="#b01a1a" opacity="0.38"/><circle cx="65.5" cy="711.0" r="0.6" fill="#b01a1a" opacity="0.62"/><circle cx="150.9" cy="814.7" r="1.0" fill="#b01a1a" opacity="0.77"/><circle cx="215.0" cy="781.6" r="1.2" fill="#b01a1a" opacity="0.59"/><circle cx="179.6" cy="812.5" r="1.1" fill="#b01a1a" opacity="0.74"/><circle cx="226.6" cy="799.0" r="1.1" fill="#b01a1a" opacity="0.63"/><circle cx="116.1" cy="810.3" r="1.2" fill="#b01a1a" opacity="0.66"/><circle cx="54.9" cy="728.8" r="1.2" fill="#b01a1a" opacity="0.41"/><circle cx="221.6" cy="813.6" r="1.2" fill="#b01a1a" opacity="0.53"/><circle cx="229.4" cy="806.2" r="1.0" fill="#b01a1a" opacity="0.43"/><circle cx="72.9" cy="696.2" r="0.8" fill="#b01a1a" opacity="0.50"/><circle cx="119.0" cy="802.5" r="0.7" fill="#b01a1a" opacity="0.57"/><circle cx="210.7" cy="815.6" r="1.0" fill="#b01a1a" opacity="0.68"/><circle cx="176.1" cy="741.1" r="1.2" fill="#b01a1a" opacity="0.62"/><circle cx="68.3" cy="741.8" r="1.0" fill="#b01a1a" opacity="0.49"/><circle cx="222.6" cy="799.6" r="1.0" fill="#b01a1a" opacity="0.41"/><circle cx="193.8" cy="758.1" r="1.0" fill="#b01a1a" opacity="0.68"/><circle cx="212.6" cy="815.7" r="0.8" fill="#b01a1a" opacity="0.42"/><circle cx="151.4" cy="716.3" r="0.7" fill="#b01a1a" opacity="0.35"/><circle cx="216.6" cy="803.9" r="1.2" fill="#b01a1a" opacity="0.48"/><circle cx="56.8" cy="731.5" r="0.6" fill="#b01a1a" opacity="0.62"/><circle cx="83.1" cy="784.7" r="1.0" fill="#b01a1a" opacity="0.62"/><circle cx="203.9" cy="761.5" r="1.0" fill="#b01a1a" opacity="0.56"/><circle cx="122.2" cy="691.6" r="1.2" fill="#b01a1a" opacity="0.67"/><circle cx="62.4" cy="710.8" r="0.8" fill="#b01a1a" opacity="0.54"/><circle cx="57.9" cy="738.2" r="1.1" fill="#b01a1a" opacity="0.87"/><circle cx="106.4" cy="693.5" r="1.2" fill="#b01a1a" opacity="0.53"/><circle cx="70.9" cy="747.8" r="0.8" fill="#b01a1a" opacity="0.56"/><circle cx="189.8" cy="754.6" r="0.9" fill="#b01a1a" opacity="0.39"/><circle cx="82.2" cy="692.5" r="1.1" fill="#b01a1a" opacity="0.56"/><circle cx="88.9" cy="781.7" r="1.0" fill="#b01a1a" opacity="0.89"/><circle cx="141.4" cy="799.4" r="1.1" fill="#b01a1a" opacity="0.85"/><circle cx="71.9" cy="768.0" r="1.0" fill="#b01a1a" opacity="0.43"/><circle cx="217.9" cy="802.0" r="0.7" fill="#b01a1a" opacity="0.81"/><circle cx="80.5" cy="779.9" r="0.9" fill="#b01a1a" opacity="0.39"/><circle cx="128.7" cy="817.6" r="1.1" fill="#b01a1a" opacity="0.37"/><circle cx="144.0" cy="703.8" r="0.6" fill="#b01a1a" opacity="0.41"/><circle cx="94.5" cy="685.2" r="0.7" fill="#b01a1a" opacity="0.60"/><circle cx="110.1" cy="690.1" r="1.1" fill="#b01a1a" opacity="0.74"/><circle cx="64.7" cy="702.6" r="0.7" fill="#b01a1a" opacity="0.88"/><circle cx="63.8" cy="707.3" r="1.2" fill="#b01a1a" opacity="0.84"/><circle cx="192.1" cy="752.3" r="0.8" fill="#b01a1a" opacity="0.61"/><circle cx="178.8" cy="813.4" r="0.6" fill="#b01a1a" opacity="0.76"/><circle cx="212.8" cy="772.6" r="1.2" fill="#b01a1a" opacity="0.49"/><circle cx="101.8" cy="807.9" r="0.7" fill="#b01a1a" opacity="0.71"/><circle cx="80.2" cy="783.7" r="0.9" fill="#b01a1a" opacity="0.44"/><circle cx="199.9" cy="816.9" r="1.2" fill="#b01a1a" opacity="0.65"/><circle cx="194.9" cy="819.2" r="1.2" fill="#b01a1a" opacity="0.85"/><circle cx="149.8" cy="715.2" r="0.8" fill="#b01a1a" opacity="0.38"/><circle cx="63.9" cy="725.6" r="1.2" fill="#b01a1a" opacity="0.48"/><circle cx="69.3" cy="704.0" r="0.7" fill="#b01a1a" opacity="0.81"/><circle cx="81.3" cy="787.2" r="0.7" fill="#b01a1a" opacity="0.71"/><circle cx="112.7" cy="696.0" r="0.6" fill="#b01a1a" opacity="0.84"/><circle cx="68.8" cy="705.8" r="1.0" fill="#b01a1a" opacity="0.53"/><circle cx="185.2" cy="758.8" r="0.9" fill="#b01a1a" opacity="0.87"/><circle cx="153.8" cy="716.4" r="0.8" fill="#b01a1a" opacity="0.72"/><circle cx="77.3" cy="696.1" r="0.7" fill="#b01a1a" opacity="0.81"/><circle cx="150.4" cy="710.1" r="0.8" fill="#b01a1a" opacity="0.55"/><circle cx="192.8" cy="814.1" r="0.7" fill="#b01a1a" opacity="0.88"/><circle cx="146.1" cy="724.0" r="0.7" fill="#b01a1a" opacity="0.69"/><circle cx="191.8" cy="761.1" r="0.7" fill="#b01a1a" opacity="0.67"/><circle cx="183.4" cy="820.8" r="0.6" fill="#b01a1a" opacity="0.51"/><circle cx="55.2" cy="723.6" r="0.6" fill="#b01a1a" opacity="0.47"/><circle cx="85.6" cy="782.7" r="0.7" fill="#b01a1a" opacity="0.49"/><circle cx="78.3" cy="775.5" r="0.8" fill="#b01a1a" opacity="0.42"/><circle cx="105.4" cy="798.4" r="0.8" fill="#b01a1a" opacity="0.72"/><circle cx="144.4" cy="705.7" r="1.2" fill="#b01a1a" opacity="0.68"/><circle cx="187.3" cy="742.0" r="0.9" fill="#b01a1a" opacity="0.45"/><circle cx="80.4" cy="691.5" r="0.6" fill="#b01a1a" opacity="0.53"/><circle cx="212.3" cy="775.3" r="1.0" fill="#b01a1a" opacity="0.65"/><circle cx="149.8" cy="815.6" r="0.8" fill="#b01a1a" opacity="0.69"/><circle cx="207.1" cy="771.7" r="1.0" fill="#b01a1a" opacity="0.48"/><circle cx="201.7" cy="813.2" r="0.7" fill="#b01a1a" opacity="0.58"/><circle cx="72.4" cy="718.2" r="1.2" fill="#b01a1a" opacity="0.58"/><circle cx="121.0" cy="696.6" r="1.0" fill="#b01a1a" opacity="0.35"/><circle cx="153.5" cy="819.1" r="0.7" fill="#b01a1a" opacity="0.74"/><circle cx="60.0" cy="766.5" r="1.1" fill="#b01a1a" opacity="0.36"/><circle cx="53.9" cy="724.0" r="1.1" fill="#b01a1a" opacity="0.85"/><circle cx="69.5" cy="717.1" r="1.0" fill="#b01a1a" opacity="0.89"/><circle cx="59.3" cy="726.4" r="1.0" fill="#b01a1a" opacity="0.55"/><circle cx="67.8" cy="710.8" r="1.0" fill="#b01a1a" opacity="0.86"/><circle cx="205.8" cy="769.4" r="0.6" fill="#b01a1a" opacity="0.49"/><circle cx="68.1" cy="708.2" r="1.0" fill="#b01a1a" opacity="0.61"/><circle cx="82.8" cy="702.8" r="1.1" fill="#b01a1a" opacity="0.52"/><circle cx="205.3" cy="827.9" r="0.6" fill="#b01a1a" opacity="0.72"/><circle cx="178.1" cy="815.8" r="1.2" fill="#b01a1a" opacity="0.87"/><circle cx="150.3" cy="706.6" r="0.6" fill="#b01a1a" opacity="0.66"/><circle cx="78.3" cy="695.8" r="1.1" fill="#b01a1a" opacity="0.57"/><circle cx="224.7" cy="792.3" r="1.2" fill="#b01a1a" opacity="0.46"/><circle cx="149.2" cy="716.7" r="0.8" fill="#b01a1a" opacity="0.65"/><circle cx="163.0" cy="815.5" r="0.8" fill="#b01a1a" opacity="0.55"/><circle cx="86.2" cy="783.9" r="0.6" fill="#b01a1a" opacity="0.42"/><circle cx="64.3" cy="772.9" r="0.6" fill="#b01a1a" opacity="0.52"/><circle cx="205.5" cy="761.5" r="1.2" fill="#b01a1a" opacity="0.58"/><circle cx="209.7" cy="818.1" r="0.9" fill="#b01a1a" opacity="0.87"/><circle cx="193.9" cy="761.5" r="1.0" fill="#b01a1a" opacity="0.72"/><circle cx="205.5" cy="765.7" r="1.0" fill="#b01a1a" opacity="0.37"/><circle cx="165.0" cy="719.9" r="1.1" fill="#b01a1a" opacity="0.54"/><circle cx="64.5" cy="741.1" r="0.9" fill="#b01a1a" opacity="0.87"/><circle cx="203.3" cy="777.0" r="0.8" fill="#b01a1a" opacity="0.83"/><circle cx="219.2" cy="784.5" r="1.2" fill="#b01a1a" opacity="0.44"/><circle cx="171.8" cy="739.4" r="0.6" fill="#b01a1a" opacity="0.68"/><circle cx="55.9" cy="730.9" r="0.8" fill="#b01a1a" opacity="0.57"/><circle cx="122.6" cy="697.3" r="0.7" fill="#b01a1a" opacity="0.83"/><circle cx="215.1" cy="783.5" r="1.1" fill="#b01a1a" opacity="0.76"/><circle cx="200.7" cy="773.1" r="0.6" fill="#b01a1a" opacity="0.49"/><circle cx="143.8" cy="809.7" r="0.6" fill="#b01a1a" opacity="0.82"/><circle cx="229.4" cy="787.7" r="1.2" fill="#b01a1a" opacity="0.84"/><circle cx="101.3" cy="799.8" r="0.7" fill="#b01a1a" opacity="0.86"/><circle cx="79.5" cy="696.4" r="0.9" fill="#b01a1a" opacity="0.73"/><circle cx="218.3" cy="809.8" r="1.1" fill="#b01a1a" opacity="0.90"/><circle cx="143.1" cy="807.1" r="0.7" fill="#b01a1a" opacity="0.53"/><circle cx="61.1" cy="738.8" r="1.2" fill="#b01a1a" opacity="0.69"/><circle cx="77.7" cy="693.8" r="0.6" fill="#b01a1a" opacity="0.50"/><circle cx="180.9" cy="827.5" r="1.1" fill="#b01a1a" opacity="0.75"/><circle cx="212.7" cy="814.0" r="0.9" fill="#b01a1a" opacity="0.50"/><circle cx="219.6" cy="802.8" r="0.8" fill="#b01a1a" opacity="0.45"/><circle cx="71.9" cy="711.1" r="0.7" fill="#b01a1a" opacity="0.70"/><circle cx="93.9" cy="796.4" r="0.7" fill="#b01a1a" opacity="0.70"/><circle cx="89.2" cy="685.5" r="0.7" fill="#b01a1a" opacity="0.74"/><circle cx="146.8" cy="715.5" r="0.7" fill="#b01a1a" opacity="0.85"/><circle cx="194.9" cy="763.7" r="0.8" fill="#b01a1a" opacity="0.57"/><circle cx="70.9" cy="709.7" r="0.8" fill="#b01a1a" opacity="0.73"/><circle cx="175.5" cy="811.4" r="0.8" fill="#b01a1a" opacity="0.59"/><circle cx="162.9" cy="737.6" r="1.1" fill="#b01a1a" opacity="0.51"/><circle cx="162.2" cy="728.9" r="0.9" fill="#b01a1a" opacity="0.54"/><circle cx="71.0" cy="705.3" r="0.7" fill="#b01a1a" opacity="0.63"/><circle cx="114.7" cy="808.7" r="0.6" fill="#b01a1a" opacity="0.39"/><circle cx="136.1" cy="700.1" r="0.6" fill="#b01a1a" opacity="0.69"/><circle cx="106.8" cy="800.1" r="0.9" fill="#b01a1a" opacity="0.35"/><circle cx="149.2" cy="822.4" r="1.2" fill="#b01a1a" opacity="0.54"/><circle cx="133.4" cy="807.5" r="0.9" fill="#b01a1a" opacity="0.80"/><circle cx="104.8" cy="799.0" r="1.2" fill="#b01a1a" opacity="0.63"/><circle cx="193.6" cy="814.0" r="0.9" fill="#b01a1a" opacity="0.69"/><circle cx="198.6" cy="819.5" r="0.9" fill="#b01a1a" opacity="0.46"/><circle cx="178.8" cy="822.9" r="1.1" fill="#b01a1a" opacity="0.46"/><circle cx="117.0" cy="690.1" r="0.9" fill="#b01a1a" opacity="0.70"/><circle cx="87.7" cy="699.2" r="1.1" fill="#b01a1a" opacity="0.73"/><circle cx="85.5" cy="684.2" r="1.0" fill="#b01a1a" opacity="0.46"/><circle cx="76.9" cy="698.7" r="0.8" fill="#b01a1a" opacity="0.37"/><circle cx="171.0" cy="825.2" r="1.1" fill="#b01a1a" opacity="0.79"/><circle cx="136.6" cy="812.6" r="0.7" fill="#b01a1a" opacity="0.43"/><circle cx="226.8" cy="796.8" r="0.8" fill="#b01a1a" opacity="0.73"/><circle cx="91.1" cy="783.6" r="1.0" fill="#b01a1a" opacity="0.37"/><circle cx="111.8" cy="686.2" r="1.1" fill="#b01a1a" opacity="0.80"/><circle cx="61.7" cy="744.1" r="0.6" fill="#b01a1a" opacity="0.61"/><circle cx="109.0" cy="694.7" r="1.0" fill="#b01a1a" opacity="0.74"/><circle cx="88.0" cy="775.4" r="0.8" fill="#b01a1a" opacity="0.75"/><circle cx="216.4" cy="807.1" r="1.2" fill="#b01a1a" opacity="0.64"/><circle cx="72.4" cy="703.9" r="0.6" fill="#b01a1a" opacity="0.87"/><circle cx="62.9" cy="706.0" r="0.6" fill="#b01a1a" opacity="0.46"/><circle cx="216.3" cy="780.8" r="0.6" fill="#b01a1a" opacity="0.59"/><circle cx="102.2" cy="807.4" r="0.7" fill="#b01a1a" opacity="0.45"/><circle cx="211.1" cy="818.5" r="1.0" fill="#b01a1a" opacity="0.78"/><circle cx="66.8" cy="735.2" r="0.7" fill="#b01a1a" opacity="0.87"/><circle cx="145.4" cy="708.3" r="0.9" fill="#b01a1a" opacity="0.63"/><circle cx="138.2" cy="703.2" r="1.1" fill="#b01a1a" opacity="0.51"/><circle cx="185.7" cy="822.4" r="0.8" fill="#b01a1a" opacity="0.76"/><circle cx="73.5" cy="697.9" r="0.9" fill="#b01a1a" opacity="0.68"/><circle cx="185.3" cy="745.8" r="0.6" fill="#b01a1a" opacity="0.37"/><circle cx="162.1" cy="714.5" r="0.6" fill="#b01a1a" opacity="0.52"/><circle cx="185.5" cy="813.8" r="1.2" fill="#b01a1a" opacity="0.83"/><circle cx="107.6" cy="804.3" r="0.9" fill="#b01a1a" opacity="0.89"/><circle cx="165.9" cy="821.1" r="0.9" fill="#b01a1a" opacity="0.52"/><circle cx="110.4" cy="696.8" r="0.8" fill="#b01a1a" opacity="0.74"/><circle cx="194.0" cy="820.1" r="0.8" fill="#b01a1a" opacity="0.38"/><circle cx="67.9" cy="756.7" r="1.0" fill="#b01a1a" opacity="0.89"/><circle cx="123.3" cy="693.8" r="0.8" fill="#b01a1a" opacity="0.78"/><circle cx="153.1" cy="821.4" r="1.2" fill="#b01a1a" opacity="0.54"/><circle cx="94.1" cy="785.3" r="0.9" fill="#b01a1a" opacity="0.57"/><circle cx="193.6" cy="758.1" r="0.6" fill="#b01a1a" opacity="0.67"/><circle cx="68.5" cy="752.9" r="1.1" fill="#b01a1a" opacity="0.87"/><circle cx="119.6" cy="695.9" r="1.2" fill="#b01a1a" opacity="0.42"/><circle cx="155.8" cy="719.1" r="1.1" fill="#b01a1a" opacity="0.75"/><circle cx="63.2" cy="722.2" r="0.9" fill="#b01a1a" opacity="0.78"/><circle cx="145.8" cy="713.7" r="0.9" fill="#b01a1a" opacity="0.67"/><circle cx="124.1" cy="693.3" r="0.6" fill="#b01a1a" opacity="0.78"/><circle cx="147.2" cy="816.9" r="1.1" fill="#b01a1a" opacity="0.83"/><circle cx="225.6" cy="807.4" r="0.9" fill="#b01a1a" opacity="0.44"/><circle cx="72.4" cy="770.8" r="1.0" fill="#b01a1a" opacity="0.54"/><circle cx="223.3" cy="801.8" r="1.0" fill="#b01a1a" opacity="0.65"/><circle cx="144.4" cy="710.1" r="0.7" fill="#b01a1a" opacity="0.68"/><circle cx="187.7" cy="749.2" r="0.6" fill="#b01a1a" opacity="0.88"/><circle cx="147.5" cy="712.2" r="0.9" fill="#b01a1a" opacity="0.53"/><circle cx="86.0" cy="699.3" r="1.1" fill="#b01a1a" opacity="0.76"/><circle cx="129.3" cy="706.0" r="0.8" fill="#b01a1a" opacity="0.66"/><circle cx="218.1" cy="778.1" r="0.7" fill="#b01a1a" opacity="0.82"/><circle cx="172.3" cy="824.5" r="1.1" fill="#b01a1a" opacity="0.69"/><circle cx="95.1" cy="792.0" r="0.9" fill="#b01a1a" opacity="0.46"/><circle cx="204.6" cy="819.5" r="0.7" fill="#b01a1a" opacity="0.42"/><circle cx="214.0" cy="779.6" r="0.6" fill="#b01a1a" opacity="0.73"/><circle cx="85.6" cy="791.7" r="0.8" fill="#b01a1a" opacity="0.55"/><circle cx="191.1" cy="819.1" r="0.8" fill="#b01a1a" opacity="0.84"/><circle cx="183.0" cy="748.9" r="1.2" fill="#b01a1a" opacity="0.37"/><circle cx="60.1" cy="749.3" r="1.0" fill="#b01a1a" opacity="0.80"/><circle cx="222.2" cy="817.7" r="1.2" fill="#b01a1a" opacity="0.48"/><circle cx="213.0" cy="808.4" r="1.1" fill="#b01a1a" opacity="0.38"/><circle cx="179.4" cy="734.5" r="0.8" fill="#b01a1a" opacity="0.43"/><circle cx="206.4" cy="769.0" r="1.0" fill="#b01a1a" opacity="0.66"/><circle cx="162.0" cy="813.8" r="1.1" fill="#b01a1a" opacity="0.47"/><circle cx="97.3" cy="688.4" r="0.9" fill="#b01a1a" opacity="0.55"/><circle cx="122.7" cy="793.8" r="1.0" fill="#b01a1a" opacity="0.52"/><circle cx="214.9" cy="794.6" r="0.6" fill="#b01a1a" opacity="0.62"/><circle cx="225.0" cy="781.3" r="0.6" fill="#b01a1a" opacity="0.86"/><circle cx="223.4" cy="784.5" r="1.0" fill="#b01a1a" opacity="0.74"/><circle cx="63.1" cy="724.8" r="0.8" fill="#b01a1a" opacity="0.81"/><circle cx="104.5" cy="801.1" r="0.9" fill="#b01a1a" opacity="0.36"/><circle cx="126.9" cy="702.7" r="0.6" fill="#b01a1a" opacity="0.73"/><circle cx="173.4" cy="743.8" r="1.2" fill="#b01a1a" opacity="0.61"/><circle cx="154.7" cy="710.3" r="0.8" fill="#b01a1a" opacity="0.85"/><circle cx="161.2" cy="812.9" r="0.6" fill="#b01a1a" opacity="0.81"/><circle cx="218.2" cy="810.5" r="1.1" fill="#b01a1a" opacity="0.86"/><circle cx="95.1" cy="807.4" r="1.1" fill="#b01a1a" opacity="0.63"/><circle cx="145.0" cy="808.4" r="0.6" fill="#b01a1a" opacity="0.69"/><circle cx="198.5" cy="760.2" r="1.1" fill="#b01a1a" opacity="0.90"/><circle cx="136.5" cy="815.0" r="1.0" fill="#b01a1a" opacity="0.66"/><circle cx="117.8" cy="807.9" r="1.1" fill="#b01a1a" opacity="0.80"/><circle cx="127.7" cy="824.6" r="0.9" fill="#b01a1a" opacity="0.74"/><circle cx="73.7" cy="760.3" r="0.8" fill="#b01a1a" opacity="0.79"/><circle cx="68.8" cy="724.5" r="0.6" fill="#b01a1a" opacity="0.57"/><circle cx="221.6" cy="789.2" r="0.6" fill="#b01a1a" opacity="0.50"/><circle cx="180.7" cy="743.4" r="1.0" fill="#b01a1a" opacity="0.56"/><circle cx="69.1" cy="762.5" r="0.7" fill="#b01a1a" opacity="0.78"/><circle cx="181.3" cy="736.1" r="1.2" fill="#b01a1a" opacity="0.60"/><circle cx="72.2" cy="766.8" r="0.7" fill="#b01a1a" opacity="0.62"/><circle cx="112.3" cy="689.8" r="0.9" fill="#b01a1a" opacity="0.89"/><circle cx="212.1" cy="767.8" r="0.9" fill="#b01a1a" opacity="0.51"/><circle cx="148.0" cy="705.7" r="1.1" fill="#b01a1a" opacity="0.67"/><circle cx="215.7" cy="802.8" r="1.2" fill="#b01a1a" opacity="0.59"/><circle cx="208.8" cy="809.6" r="1.2" fill="#b01a1a" opacity="0.63"/><circle cx="85.3" cy="697.8" r="0.8" fill="#b01a1a" opacity="0.67"/><circle cx="117.5" cy="806.8" r="1.0" fill="#b01a1a" opacity="0.75"/><circle cx="84.6" cy="692.4" r="0.6" fill="#b01a1a" opacity="0.79"/><circle cx="69.0" cy="768.2" r="1.0" fill="#b01a1a" opacity="0.47"/><circle cx="98.9" cy="796.2" r="0.6" fill="#b01a1a" opacity="0.79"/><circle cx="73.8" cy="693.4" r="1.2" fill="#b01a1a" opacity="0.61"/><circle cx="67.0" cy="723.5" r="0.6" fill="#b01a1a" opacity="0.87"/><circle cx="163.1" cy="722.1" r="0.9" fill="#b01a1a" opacity="0.52"/><circle cx="100.1" cy="792.9" r="0.9" fill="#b01a1a" opacity="0.78"/><circle cx="194.6" cy="822.7" r="0.7" fill="#b01a1a" opacity="0.64"/><circle cx="199.4" cy="766.3" r="0.9" fill="#b01a1a" opacity="0.76"/><circle cx="141.9" cy="716.1" r="1.1" fill="#b01a1a" opacity="0.44"/><circle cx="82.1" cy="686.8" r="0.6" fill="#b01a1a" opacity="0.39"/><circle cx="186.5" cy="811.0" r="1.1" fill="#b01a1a" opacity="0.71"/><circle cx="71.8" cy="702.9" r="1.0" fill="#b01a1a" opacity="0.79"/><circle cx="110.1" cy="808.5" r="0.7" fill="#b01a1a" opacity="0.69"/><circle cx="87.9" cy="772.5" r="0.6" fill="#b01a1a" opacity="0.58"/><circle cx="214.3" cy="770.4" r="0.8" fill="#b01a1a" opacity="0.80"/><circle cx="184.8" cy="822.7" r="1.2" fill="#b01a1a" opacity="0.75"/><circle cx="114.2" cy="688.1" r="0.6" fill="#b01a1a" opacity="0.39"/><circle cx="216.7" cy="767.8" r="1.1" fill="#b01a1a" opacity="0.79"/><circle cx="210.0" cy="813.0" r="0.9" fill="#b01a1a" opacity="0.78"/><circle cx="116.6" cy="695.7" r="1.1" fill="#b01a1a" opacity="0.78"/><circle cx="74.6" cy="771.6" r="0.7" fill="#b01a1a" opacity="0.37"/><circle cx="183.5" cy="816.5" r="1.1" fill="#b01a1a" opacity="0.49"/><circle cx="56.3" cy="722.2" r="0.7" fill="#b01a1a" opacity="0.38"/><circle cx="72.7" cy="761.4" r="0.6" fill="#b01a1a" opacity="0.51"/><circle cx="216.4" cy="797.5" r="1.1" fill="#b01a1a" opacity="0.50"/><circle cx="60.3" cy="734.9" r="1.1" fill="#b01a1a" opacity="0.79"/><circle cx="150.9" cy="707.6" r="1.0" fill="#b01a1a" opacity="0.75"/><circle cx="204.7" cy="762.9" r="0.7" fill="#b01a1a" opacity="0.69"/><circle cx="117.3" cy="690.6" r="0.7" fill="#b01a1a" opacity="0.69"/><circle cx="142.9" cy="819.0" r="0.6" fill="#b01a1a" opacity="0.61"/><circle cx="88.2" cy="792.2" r="1.0" fill="#b01a1a" opacity="0.38"/><circle cx="220.9" cy="809.1" r="1.2" fill="#b01a1a" opacity="0.78"/><circle cx="77.3" cy="758.0" r="1.2" fill="#b01a1a" opacity="0.71"/><circle cx="64.7" cy="722.4" r="0.8" fill="#b01a1a" opacity="0.50"/><circle cx="227.7" cy="790.7" r="1.2" fill="#b01a1a" opacity="0.35"/><circle cx="60.3" cy="727.1" r="1.2" fill="#b01a1a" opacity="0.50"/><circle cx="125.5" cy="804.6" r="0.8" fill="#b01a1a" opacity="0.48"/><circle cx="177.6" cy="738.9" r="1.1" fill="#b01a1a" opacity="0.51"/><circle cx="114.8" cy="806.4" r="0.7" fill="#b01a1a" opacity="0.49"/><circle cx="63.1" cy="765.3" r="1.2" fill="#b01a1a" opacity="0.80"/><circle cx="115.5" cy="804.4" r="0.9" fill="#b01a1a" opacity="0.57"/><circle cx="181.5" cy="816.4" r="1.1" fill="#b01a1a" opacity="0.69"/><circle cx="213.5" cy="816.1" r="0.6" fill="#b01a1a" opacity="0.83"/><circle cx="229.0" cy="809.2" r="0.6" fill="#b01a1a" opacity="0.59"/><circle cx="74.3" cy="761.8" r="1.0" fill="#b01a1a" opacity="0.63"/><circle cx="90.9" cy="796.1" r="0.9" fill="#b01a1a" opacity="0.76"/><circle cx="219.4" cy="784.7" r="1.2" fill="#b01a1a" opacity="0.49"/><circle cx="104.5" cy="688.1" r="0.6" fill="#b01a1a" opacity="0.84"/><circle cx="65.8" cy="761.6" r="1.2" fill="#b01a1a" opacity="0.69"/><circle cx="145.1" cy="703.6" r="1.2" fill="#b01a1a" opacity="0.44"/><circle cx="70.8" cy="758.2" r="0.7" fill="#b01a1a" opacity="0.89"/><circle cx="223.8" cy="801.7" r="0.6" fill="#b01a1a" opacity="0.46"/><circle cx="182.1" cy="744.3" r="1.0" fill="#b01a1a" opacity="0.44"/><circle cx="118.6" cy="809.4" r="1.2" fill="#b01a1a" opacity="0.87"/><circle cx="112.4" cy="682.7" r="0.8" fill="#b01a1a" opacity="0.36"/><circle cx="182.3" cy="743.2" r="1.0" fill="#b01a1a" opacity="0.76"/><circle cx="64.9" cy="746.8" r="1.2" fill="#b01a1a" opacity="0.75"/><circle cx="235.4" cy="797.0" r="0.9" fill="#b01a1a" opacity="0.37"/><circle cx="196.7" cy="760.6" r="1.0" fill="#b01a1a" opacity="0.80"/><circle cx="201.4" cy="809.5" r="0.9" fill="#b01a1a" opacity="0.66"/><circle cx="168.9" cy="811.6" r="0.6" fill="#b01a1a" opacity="0.71"/><circle cx="147.0" cy="816.3" r="1.1" fill="#b01a1a" opacity="0.37"/><circle cx="63.3" cy="718.7" r="1.0" fill="#b01a1a" opacity="0.60"/><circle cx="70.1" cy="745.7" r="1.2" fill="#b01a1a" opacity="0.74"/><circle cx="214.5" cy="816.2" r="0.7" fill="#b01a1a" opacity="0.43"/><circle cx="68.4" cy="768.9" r="1.1" fill="#b01a1a" opacity="0.41"/><circle cx="84.6" cy="792.5" r="1.2" fill="#b01a1a" opacity="0.80"/><circle cx="188.6" cy="814.4" r="1.1" fill="#b01a1a" opacity="0.61"/><circle cx="148.2" cy="713.3" r="0.7" fill="#b01a1a" opacity="0.79"/><circle cx="212.8" cy="818.2" r="0.6" fill="#b01a1a" opacity="0.66"/><circle cx="104.6" cy="801.5" r="0.7" fill="#b01a1a" opacity="0.63"/><circle cx="116.7" cy="803.2" r="1.0" fill="#b01a1a" opacity="0.81"/><circle cx="204.4" cy="756.1" r="1.2" fill="#b01a1a" opacity="0.75"/><circle cx="82.6" cy="688.7" r="1.0" fill="#b01a1a" opacity="0.45"/><circle cx="217.8" cy="783.7" r="0.8" fill="#b01a1a" opacity="0.45"/><circle cx="223.1" cy="806.6" r="1.2" fill="#b01a1a" opacity="0.61"/><circle cx="189.3" cy="747.6" r="1.0" fill="#b01a1a" opacity="0.85"/><circle cx="104.3" cy="692.2" r="1.2" fill="#b01a1a" opacity="0.88"/><circle cx="76.8" cy="763.9" r="0.7" fill="#b01a1a" opacity="0.56"/><circle cx="226.4" cy="801.5" r="0.8" fill="#b01a1a" opacity="0.72"/><circle cx="134.5" cy="713.6" r="0.6" fill="#b01a1a" opacity="0.72"/><circle cx="211.6" cy="811.7" r="1.0" fill="#b01a1a" opacity="0.88"/><circle cx="75.3" cy="699.1" r="1.2" fill="#b01a1a" opacity="0.86"/><circle cx="65.2" cy="725.9" r="0.8" fill="#b01a1a" opacity="0.73"/><circle cx="114.5" cy="691.3" r="1.0" fill="#b01a1a" opacity="0.85"/><circle cx="58.9" cy="740.4" r="0.9" fill="#b01a1a" opacity="0.88"/><circle cx="160.2" cy="710.8" r="1.2" fill="#b01a1a" opacity="0.36"/><circle cx="63.0" cy="739.2" r="0.7" fill="#b01a1a" opacity="0.42"/><circle cx="185.4" cy="742.5" r="1.1" fill="#b01a1a" opacity="0.48"/><circle cx="143.6" cy="718.6" r="0.7" fill="#b01a1a" opacity="0.84"/><circle cx="188.4" cy="736.9" r="0.7" fill="#b01a1a" opacity="0.86"/><circle cx="182.1" cy="817.4" r="0.7" fill="#b01a1a" opacity="0.36"/><circle cx="215.2" cy="822.3" r="0.6" fill="#b01a1a" opacity="0.82"/><circle cx="109.4" cy="811.3" r="0.6" fill="#b01a1a" opacity="0.73"/><circle cx="117.7" cy="699.2" r="0.7" fill="#b01a1a" opacity="0.90"/><circle cx="190.5" cy="744.9" r="0.8" fill="#b01a1a" opacity="0.48"/><circle cx="71.3" cy="762.4" r="1.0" fill="#b01a1a" opacity="0.75"/><circle cx="211.7" cy="813.2" r="1.1" fill="#b01a1a" opacity="0.70"/><circle cx="223.5" cy="797.6" r="0.8" fill="#b01a1a" opacity="0.88"/><circle cx="208.8" cy="810.6" r="0.8" fill="#b01a1a" opacity="0.66"/><circle cx="84.3" cy="780.1" r="1.0" fill="#b01a1a" opacity="0.61"/><circle cx="72.6" cy="767.4" r="1.0" fill="#b01a1a" opacity="0.72"/><circle cx="230.4" cy="800.3" r="0.9" fill="#b01a1a" opacity="0.70"/><circle cx="158.0" cy="718.6" r="0.6" fill="#b01a1a" opacity="0.48"/><circle cx="65.5" cy="736.5" r="1.2" fill="#b01a1a" opacity="0.63"/><circle cx="111.6" cy="694.2" r="1.0" fill="#b01a1a" opacity="0.62"/><circle cx="63.7" cy="735.3" r="1.1" fill="#b01a1a" opacity="0.84"/><circle cx="130.7" cy="808.4" r="0.8" fill="#b01a1a" opacity="0.74"/><circle cx="112.3" cy="807.4" r="0.9" fill="#b01a1a" opacity="0.88"/><circle cx="108.5" cy="695.0" r="0.7" fill="#b01a1a" opacity="0.75"/><circle cx="215.9" cy="804.0" r="1.0" fill="#b01a1a" opacity="0.43"/><circle cx="106.3" cy="693.5" r="0.8" fill="#b01a1a" opacity="0.46"/><circle cx="207.4" cy="773.0" r="1.2" fill="#b01a1a" opacity="0.47"/><circle cx="52.8" cy="732.6" r="1.0" fill="#b01a1a" opacity="0.87"/><circle cx="59.1" cy="727.8" r="1.1" fill="#b01a1a" opacity="0.62"/><circle cx="116.4" cy="699.4" r="0.7" fill="#b01a1a" opacity="0.48"/><circle cx="132.5" cy="707.7" r="0.8" fill="#b01a1a" opacity="0.52"/><circle cx="115.2" cy="699.1" r="0.6" fill="#b01a1a" opacity="0.82"/><circle cx="198.1" cy="767.5" r="0.9" fill="#b01a1a" opacity="0.65"/><circle cx="56.1" cy="741.8" r="1.2" fill="#b01a1a" opacity="0.83"/><circle cx="126.2" cy="699.0" r="1.1" fill="#b01a1a" opacity="0.85"/><circle cx="190.5" cy="752.3" r="0.6" fill="#b01a1a" opacity="0.61"/><circle cx="160.5" cy="729.2" r="1.1" fill="#b01a1a" opacity="0.85"/><circle cx="215.5" cy="813.3" r="0.6" fill="#b01a1a" opacity="0.36"/><circle cx="213.0" cy="790.4" r="0.9" fill="#b01a1a" opacity="0.40"/><circle cx="69.6" cy="699.6" r="1.1" fill="#b01a1a" opacity="0.69"/><circle cx="191.4" cy="818.2" r="1.2" fill="#b01a1a" opacity="0.68"/><circle cx="140.4" cy="705.4" r="0.8" fill="#b01a1a" opacity="0.44"/><circle cx="114.7" cy="805.5" r="0.9" fill="#b01a1a" opacity="0.60"/><circle cx="184.6" cy="813.6" r="1.1" fill="#b01a1a" opacity="0.74"/><circle cx="70.2" cy="772.5" r="0.8" fill="#b01a1a" opacity="0.70"/><circle cx="121.6" cy="806.9" r="0.6" fill="#b01a1a" opacity="0.73"/><circle cx="86.4" cy="782.4" r="1.2" fill="#b01a1a" opacity="0.72"/><circle cx="149.3" cy="698.2" r="1.0" fill="#b01a1a" opacity="0.46"/><circle cx="91.2" cy="795.5" r="1.0" fill="#b01a1a" opacity="0.77"/><circle cx="218.4" cy="814.8" r="1.2" fill="#b01a1a" opacity="0.69"/><circle cx="80.6" cy="685.4" r="0.8" fill="#b01a1a" opacity="0.44"/><circle cx="96.4" cy="793.3" r="1.0" fill="#b01a1a" opacity="0.62"/><circle cx="166.7" cy="726.6" r="1.0" fill="#b01a1a" opacity="0.71"/><circle cx="176.0" cy="735.4" r="1.2" fill="#b01a1a" opacity="0.59"/><circle cx="67.7" cy="706.0" r="0.6" fill="#b01a1a" opacity="0.52"/><circle cx="207.4" cy="784.7" r="0.9" fill="#b01a1a" opacity="0.47"/><circle cx="203.5" cy="759.3" r="0.9" fill="#b01a1a" opacity="0.44"/><circle cx="75.9" cy="690.9" r="0.6" fill="#b01a1a" opacity="0.77"/><circle cx="130.3" cy="811.3" r="1.0" fill="#b01a1a" opacity="0.74"/><circle cx="113.1" cy="807.6" r="0.6" fill="#b01a1a" opacity="0.67"/><circle cx="140.2" cy="812.5" r="0.9" fill="#b01a1a" opacity="0.59"/><circle cx="184.5" cy="819.1" r="1.2" fill="#b01a1a" opacity="0.53"/><circle cx="207.6" cy="764.2" r="1.2" fill="#b01a1a" opacity="0.37"/><circle cx="72.8" cy="765.7" r="1.2" fill="#b01a1a" opacity="0.58"/><circle cx="150.9" cy="709.7" r="0.8" fill="#b01a1a" opacity="0.36"/><circle cx="88.8" cy="693.3" r="1.2" fill="#b01a1a" opacity="0.88"/><circle cx="225.0" cy="791.3" r="1.1" fill="#b01a1a" opacity="0.75"/><circle cx="222.1" cy="798.2" r="0.8" fill="#b01a1a" opacity="0.68"/><circle cx="64.7" cy="737.2" r="0.8" fill="#b01a1a" opacity="0.75"/><circle cx="124.7" cy="812.5" r="0.7" fill="#b01a1a" opacity="0.77"/><circle cx="83.3" cy="687.1" r="1.1" fill="#b01a1a" opacity="0.73"/><circle cx="217.4" cy="802.9" r="1.0" fill="#b01a1a" opacity="0.40"/><circle cx="228.0" cy="803.2" r="0.6" fill="#b01a1a" opacity="0.64"/><circle cx="72.5" cy="709.0" r="0.7" fill="#b01a1a" opacity="0.54"/><circle cx="211.9" cy="787.4" r="1.0" fill="#b01a1a" opacity="0.82"/><circle cx="129.5" cy="812.3" r="1.0" fill="#b01a1a" opacity="0.83"/><circle cx="84.5" cy="693.8" r="1.0" fill="#b01a1a" opacity="0.84"/><circle cx="157.0" cy="818.1" r="0.7" fill="#b01a1a" opacity="0.59"/><circle cx="79.4" cy="780.5" r="1.2" fill="#b01a1a" opacity="0.47"/><circle cx="110.8" cy="806.1" r="1.0" fill="#b01a1a" opacity="0.89"/><circle cx="81.8" cy="693.3" r="0.8" fill="#b01a1a" opacity="0.58"/><circle cx="148.5" cy="711.6" r="0.7" fill="#b01a1a" opacity="0.47"/><circle cx="144.5" cy="703.0" r="1.0" fill="#b01a1a" opacity="0.62"/><circle cx="74.4" cy="766.9" r="0.6" fill="#b01a1a" opacity="0.71"/><circle cx="224.5" cy="808.2" r="0.9" fill="#b01a1a" opacity="0.52"/><circle cx="63.0" cy="717.3" r="0.8" fill="#b01a1a" opacity="0.69"/><circle cx="91.5" cy="696.8" r="1.0" fill="#b01a1a" opacity="0.76"/><circle cx="73.8" cy="700.0" r="0.9" fill="#b01a1a" opacity="0.81"/><circle cx="201.2" cy="755.5" r="1.0" fill="#b01a1a" opacity="0.50"/><circle cx="74.2" cy="694.4" r="1.2" fill="#b01a1a" opacity="0.81"/><circle cx="203.7" cy="817.6" r="0.9" fill="#b01a1a" opacity="0.84"/><circle cx="162.7" cy="822.4" r="0.6" fill="#b01a1a" opacity="0.73"/><circle cx="222.4" cy="796.7" r="0.6" fill="#b01a1a" opacity="0.75"/><circle cx="160.1" cy="720.8" r="0.7" fill="#b01a1a" opacity="0.77"/><circle cx="125.7" cy="810.0" r="0.9" fill="#b01a1a" opacity="0.83"/><circle cx="63.0" cy="751.4" r="0.9" fill="#b01a1a" opacity="0.36"/><circle cx="173.2" cy="742.3" r="0.7" fill="#b01a1a" opacity="0.51"/><circle cx="159.6" cy="729.7" r="0.6" fill="#b01a1a" opacity="0.74"/><circle cx="114.2" cy="697.5" r="0.7" fill="#b01a1a" opacity="0.51"/><circle cx="222.5" cy="795.2" r="1.1" fill="#b01a1a" opacity="0.60"/><circle cx="76.9" cy="773.9" r="1.0" fill="#b01a1a" opacity="0.67"/><circle cx="201.4" cy="755.7" r="1.0" fill="#b01a1a" opacity="0.79"/><circle cx="224.8" cy="785.1" r="1.2" fill="#b01a1a" opacity="0.71"/><circle cx="61.4" cy="719.9" r="1.2" fill="#b01a1a" opacity="0.67"/><circle cx="58.0" cy="733.6" r="1.0" fill="#b01a1a" opacity="0.61"/><circle cx="88.7" cy="691.6" r="0.8" fill="#b01a1a" opacity="0.37"/><circle cx="107.0" cy="803.0" r="1.0" fill="#b01a1a" opacity="0.44"/><circle cx="198.3" cy="760.7" r="1.0" fill="#b01a1a" opacity="0.77"/><circle cx="96.9" cy="694.8" r="0.9" fill="#b01a1a" opacity="0.79"/><circle cx="226.6" cy="783.7" r="0.9" fill="#b01a1a" opacity="0.79"/><circle cx="69.9" cy="756.0" r="0.7" fill="#b01a1a" opacity="0.82"/><circle cx="123.9" cy="687.7" r="1.2" fill="#b01a1a" opacity="0.50"/><circle cx="208.7" cy="810.1" r="0.6" fill="#b01a1a" opacity="0.71"/><circle cx="124.7" cy="804.4" r="1.0" fill="#b01a1a" opacity="0.64"/><circle cx="136.8" cy="819.9" r="0.6" fill="#b01a1a" opacity="0.44"/><circle cx="106.7" cy="696.8" r="1.1" fill="#b01a1a" opacity="0.62"/><circle cx="219.2" cy="802.8" r="0.9" fill="#b01a1a" opacity="0.80"/><circle cx="73.4" cy="700.6" r="0.6" fill="#b01a1a" opacity="0.54"/><circle cx="178.7" cy="734.1" r="1.0" fill="#b01a1a" opacity="0.56"/><circle cx="67.6" cy="753.0" r="1.2" fill="#b01a1a" opacity="0.76"/><circle cx="194.8" cy="763.4" r="0.6" fill="#b01a1a" opacity="0.70"/><circle cx="74.4" cy="768.1" r="0.8" fill="#b01a1a" opacity="0.64"/><circle cx="100.7" cy="796.1" r="0.8" fill="#b01a1a" opacity="0.64"/><circle cx="130.3" cy="698.3" r="1.2" fill="#b01a1a" opacity="0.53"/><circle cx="143.8" cy="818.0" r="0.6" fill="#b01a1a" opacity="0.87"/><circle cx="134.1" cy="820.4" r="1.0" fill="#b01a1a" opacity="0.59"/><circle cx="213.9" cy="761.1" r="1.1" fill="#b01a1a" opacity="0.60"/><circle cx="121.4" cy="696.5" r="0.6" fill="#b01a1a" opacity="0.44"/><circle cx="209.9" cy="785.3" r="0.6" fill="#b01a1a" opacity="0.36"/><circle cx="125.8" cy="704.2" r="0.8" fill="#b01a1a" opacity="0.52"/><circle cx="221.2" cy="799.5" r="0.7" fill="#b01a1a" opacity="0.37"/><circle cx="128.6" cy="701.3" r="1.2" fill="#b01a1a" opacity="0.68"/><circle cx="59.3" cy="750.5" r="0.9" fill="#b01a1a" opacity="0.63"/><circle cx="178.1" cy="744.4" r="0.9" fill="#b01a1a" opacity="0.62"/><circle cx="110.9" cy="799.8" r="0.7" fill="#b01a1a" opacity="0.90"/><circle cx="169.2" cy="824.5" r="0.8" fill="#b01a1a" opacity="0.59"/><circle cx="101.8" cy="691.0" r="0.6" fill="#b01a1a" opacity="0.64"/><circle cx="148.6" cy="701.8" r="0.9" fill="#b01a1a" opacity="0.88"/><circle cx="186.2" cy="826.8" r="1.2" fill="#b01a1a" opacity="0.46"/><circle cx="211.0" cy="786.2" r="1.2" fill="#b01a1a" opacity="0.52"/><circle cx="110.6" cy="695.8" r="0.6" fill="#b01a1a" opacity="0.73"/><circle cx="63.5" cy="741.8" r="1.1" fill="#b01a1a" opacity="0.40"/><circle cx="222.1" cy="797.2" r="1.2" fill="#b01a1a" opacity="0.52"/><circle cx="193.2" cy="814.7" r="0.6" fill="#b01a1a" opacity="0.54"/><circle cx="121.0" cy="702.7" r="0.6" fill="#b01a1a" opacity="0.57"/><circle cx="106.1" cy="694.1" r="1.2" fill="#b01a1a" opacity="0.74"/><circle cx="79.6" cy="783.7" r="1.1" fill="#b01a1a" opacity="0.80"/><circle cx="220.5" cy="816.5" r="1.2" fill="#b01a1a" opacity="0.90"/><circle cx="193.3" cy="754.1" r="1.0" fill="#b01a1a" opacity="0.37"/><circle cx="149.1" cy="723.1" r="0.9" fill="#b01a1a" opacity="0.68"/><circle cx="94.3" cy="689.6" r="0.6" fill="#b01a1a" opacity="0.67"/><circle cx="185.7" cy="815.5" r="0.9" fill="#b01a1a" opacity="0.38"/><circle cx="207.2" cy="758.5" r="0.9" fill="#b01a1a" opacity="0.55"/><circle cx="207.3" cy="775.4" r="1.0" fill="#b01a1a" opacity="0.59"/><circle cx="215.8" cy="791.8" r="0.7" fill="#b01a1a" opacity="0.87"/><circle cx="221.3" cy="780.8" r="1.0" fill="#b01a1a" opacity="0.47"/><circle cx="168.7" cy="818.6" r="1.1" fill="#b01a1a" opacity="0.77"/><circle cx="230.7" cy="802.5" r="1.2" fill="#b01a1a" opacity="0.56"/><circle cx="180.0" cy="819.7" r="1.1" fill="#b01a1a" opacity="0.61"/><circle cx="76.2" cy="708.2" r="1.1" fill="#b01a1a" opacity="0.49"/><circle cx="157.5" cy="725.4" r="0.7" fill="#b01a1a" opacity="0.81"/><circle cx="228.2" cy="804.7" r="0.7" fill="#b01a1a" opacity="0.83"/><circle cx="146.5" cy="703.5" r="1.1" fill="#b01a1a" opacity="0.48"/><circle cx="220.4" cy="786.4" r="1.2" fill="#b01a1a" opacity="0.73"/><circle cx="206.1" cy="773.5" r="0.6" fill="#b01a1a" opacity="0.43"/><circle cx="190.3" cy="748.9" r="1.0" fill="#b01a1a" opacity="0.84"/><circle cx="218.5" cy="803.5" r="1.0" fill="#b01a1a" opacity="0.56"/><circle cx="64.1" cy="751.5" r="0.6" fill="#b01a1a" opacity="0.70"/><circle cx="172.9" cy="736.2" r="1.0" fill="#b01a1a" opacity="0.64"/><circle cx="65.3" cy="722.6" r="0.9" fill="#b01a1a" opacity="0.76"/><circle cx="202.7" cy="808.1" r="0.9" fill="#b01a1a" opacity="0.77"/><circle cx="78.2" cy="695.6" r="0.7" fill="#b01a1a" opacity="0.54"/><circle cx="64.0" cy="735.9" r="1.1" fill="#b01a1a" opacity="0.71"/><circle cx="92.3" cy="679.5" r="0.9" fill="#b01a1a" opacity="0.46"/><circle cx="229.5" cy="805.7" r="1.0" fill="#b01a1a" opacity="0.64"/><circle cx="157.0" cy="821.3" r="0.9" fill="#b01a1a" opacity="0.60"/><circle cx="192.6" cy="756.6" r="0.9" fill="#b01a1a" opacity="0.61"/><circle cx="226.8" cy="792.2" r="0.6" fill="#b01a1a" opacity="0.88"/><circle cx="72.6" cy="690.2" r="0.7" fill="#b01a1a" opacity="0.70"/><circle cx="194.0" cy="746.5" r="1.1" fill="#b01a1a" opacity="0.41"/><circle cx="181.3" cy="747.0" r="1.1" fill="#b01a1a" opacity="0.89"/><circle cx="222.9" cy="780.2" r="0.8" fill="#b01a1a" opacity="0.58"/><circle cx="141.2" cy="704.5" r="0.6" fill="#b01a1a" opacity="0.36"/><circle cx="65.1" cy="704.4" r="1.0" fill="#b01a1a" opacity="0.42"/><circle cx="221.1" cy="803.0" r="0.9" fill="#b01a1a" opacity="0.69"/><circle cx="191.8" cy="813.6" r="1.0" fill="#b01a1a" opacity="0.60"/><circle cx="76.2" cy="703.9" r="0.7" fill="#b01a1a" opacity="0.51"/><circle cx="205.6" cy="820.9" r="0.8" fill="#b01a1a" opacity="0.56"/><circle cx="182.8" cy="747.7" r="1.2" fill="#b01a1a" opacity="0.90"/><circle cx="202.3" cy="816.7" r="1.0" fill="#b01a1a" opacity="0.37"/><circle cx="152.7" cy="821.2" r="0.7" fill="#b01a1a" opacity="0.53"/><circle cx="82.7" cy="689.0" r="1.0" fill="#b01a1a" opacity="0.58"/><circle cx="217.1" cy="777.8" r="1.0" fill="#b01a1a" opacity="0.46"/><circle cx="220.1" cy="813.5" r="0.8" fill="#b01a1a" opacity="0.79"/><circle cx="221.4" cy="773.7" r="1.1" fill="#b01a1a" opacity="0.40"/><circle cx="196.9" cy="754.1" r="0.6" fill="#b01a1a" opacity="0.43"/><circle cx="69.3" cy="711.7" r="0.8" fill="#b01a1a" opacity="0.85"/><circle cx="123.2" cy="819.1" r="0.8" fill="#b01a1a" opacity="0.68"/><circle cx="222.9" cy="797.7" r="1.0" fill="#b01a1a" opacity="0.51"/><circle cx="140.9" cy="699.9" r="0.8" fill="#b01a1a" opacity="0.67"/><circle cx="212.6" cy="777.0" r="1.0" fill="#b01a1a" opacity="0.70"/><circle cx="186.1" cy="822.6" r="1.1" fill="#b01a1a" opacity="0.48"/><circle cx="85.3" cy="786.7" r="1.1" fill="#b01a1a" opacity="0.55"/><circle cx="111.8" cy="694.3" r="0.9" fill="#b01a1a" opacity="0.60"/><circle cx="225.9" cy="797.8" r="1.0" fill="#b01a1a" opacity="0.74"/><circle cx="131.2" cy="814.3" r="1.2" fill="#b01a1a" opacity="0.45"/><circle cx="145.5" cy="710.6" r="0.9" fill="#b01a1a" opacity="0.37"/><circle cx="174.3" cy="739.0" r="0.8" fill="#b01a1a" opacity="0.56"/><circle cx="190.6" cy="823.4" r="1.0" fill="#b01a1a" opacity="0.81"/><circle cx="74.8" cy="691.7" r="0.6" fill="#b01a1a" opacity="0.66"/><circle cx="140.6" cy="815.6" r="1.2" fill="#b01a1a" opacity="0.88"/><circle cx="148.4" cy="711.3" r="0.9" fill="#b01a1a" opacity="0.83"/><circle cx="111.7" cy="688.8" r="0.7" fill="#b01a1a" opacity="0.56"/><circle cx="95.8" cy="701.9" r="0.6" fill="#b01a1a" opacity="0.52"/><circle cx="98.5" cy="682.1" r="0.9" fill="#b01a1a" opacity="0.48"/><circle cx="173.0" cy="819.5" r="1.0" fill="#b01a1a" opacity="0.42"/><circle cx="218.1" cy="805.0" r="1.2" fill="#b01a1a" opacity="0.74"/></g><g filter="url(#bl2)"><ellipse cx="120" cy="756" rx="34" ry="24" fill="#16189a" transform="rotate(-10 120 756)"/></g><g filter="url(#bl1)" fill="#1e26b8" opacity="0.85"><circle cx="97" cy="752" r="7"/><circle cx="108" cy="741" r="6"/><circle cx="118" cy="760" r="8"/><circle cx="135" cy="768" r="6"/><circle cx="132" cy="748" r="5"/><circle cx="143" cy="736" r="5"/><circle cx="148" cy="757" r="5"/><circle cx="107" cy="772" r="5"/><circle cx="134" cy="779" r="6"/></g><g filter="url(#bl4)" opacity="0.45"><path d="M125 739 L150 765 L168 771 L145 782 L116 779 L100 770 Z" fill="#1c8a1c"/></g><g filter="url(#bl1)"><path d="M124.6 738.5 L153.6 736.7 M124.6 738.5 L150.3 745.9 M124.6 738.5 L156.2 743.5 M124.6 738.5 L151.9 745.9 M124.6 738.5 L147.0 754.9 M124.6 738.5 L140.5 756.5 M124.6 738.5 L139.4 764.1 M124.6 738.5 L137.2 764.0 M124.6 738.5 L135.7 760.8 M124.6 738.5 L135.7 764.6 M124.6 738.5 L128.0 765.7 M124.6 738.5 L127.1 757.5 M124.6 738.5 L115.9 763.3 M124.6 738.5 L118.7 763.6 M124.6 738.5 L117.2 768.3 M124.6 738.5 L104.3 760.8 M124.6 738.5 L115.0 754.9 M124.6 738.5 L101.6 751.9 M124.6 738.5 L101.8 747.6 M124.6 738.5 L106.6 748.5 M124.6 738.5 L109.3 744.8 M124.6 738.5 L92.9 738.0 M124.6 738.5 L102.9 737.4 M124.6 738.5 L99.7 738.6 M124.6 738.5 L101.7 733.7 M124.6 738.5 L103.4 731.5 M124.6 738.5 L106.9 729.8 M124.6 738.5 L98.3 720.5 M124.6 738.5 L109.2 724.2 M124.6 738.5 L110.1 717.6 M124.6 738.5 L115.5 716.6 M124.6 738.5 L115.2 720.7 M124.6 738.5 L121.2 712.0 M124.6 738.5 L125.2 709.9 M124.6 738.5 L126.7 719.0 M124.6 738.5 L136.1 714.1 M124.6 738.5 L138.4 718.8 M124.6 738.5 L135.2 718.5 M124.6 738.5 L140.7 722.9 M124.6 738.5 L142.3 728.4 M124.6 738.5 L147.7 729.2 M124.6 738.5 L142.7 726.8 M124.6 738.5 L146.6 727.2 M124.6 738.5 L149.0 731.1" stroke="#38c038" stroke-width="0.6" opacity="0.6"/><path d="M116.0 779.0 L147.0 773.2 M116.0 779.0 L140.4 779.8 M116.0 779.0 L142.6 783.1 M116.0 779.0 L138.7 785.7 M116.0 779.0 L131.3 787.2 M116.0 779.0 L131.2 796.7 M116.0 779.0 L134.5 795.9 M116.0 779.0 L127.4 795.2 M116.0 779.0 L126.2 799.2 M116.0 779.0 L125.8 806.9 M116.0 779.0 L121.5 797.0 M116.0 779.0 L111.9 806.5 M116.0 779.0 L113.7 807.1 M116.0 779.0 L103.1 805.4 M116.0 779.0 L111.8 796.4 M116.0 779.0 L103.9 794.4 M116.0 779.0 L94.9 804.9 M116.0 779.0 L102.9 792.8 M116.0 779.0 L88.8 792.7 M116.0 779.0 L98.0 789.8 M116.0 779.0 L94.0 784.0 M116.0 779.0 L92.4 781.1 M116.0 779.0 L92.4 783.6 M116.0 779.0 L93.9 773.3 M116.0 779.0 L88.8 766.5 M116.0 779.0 L100.0 772.8 M116.0 779.0 L92.7 758.0 M116.0 779.0 L101.2 770.1 M116.0 779.0 L101.0 757.2 M116.0 779.0 L104.4 758.3 M116.0 779.0 L99.2 752.9 M116.0 779.0 L108.3 758.4 M116.0 779.0 L116.9 755.5 M116.0 779.0 L113.2 752.9 M116.0 779.0 L117.8 759.0 M116.0 779.0 L121.1 748.4 M116.0 779.0 L124.3 758.6 M116.0 779.0 L129.2 763.4 M116.0 779.0 L132.4 750.5 M116.0 779.0 L132.9 768.3 M116.0 779.0 L139.8 761.5 M116.0 779.0 L135.1 768.6 M116.0 779.0 L132.9 771.9 M116.0 779.0 L139.1 775.0" stroke="#38c038" stroke-width="0.6" opacity="0.6"/><path d="M158.0 771.0 L179.1 774.0 M158.0 771.0 L171.7 773.3 M158.0 771.0 L182.1 779.7 M158.0 771.0 L167.7 780.2 M158.0 771.0 L173.2 784.1 M158.0 771.0 L163.1 784.8 M158.0 771.0 L164.9 791.3 M158.0 771.0 L162.8 787.4 M158.0 771.0 L153.0 795.8 M158.0 771.0 L156.0 783.9 M158.0 771.0 L150.0 787.8 M158.0 771.0 L143.7 791.6 M158.0 771.0 L140.5 785.3 M158.0 771.0 L141.2 778.2 M158.0 771.0 L133.3 777.7 M158.0 771.0 L134.0 769.6 M158.0 771.0 L138.5 769.6 M158.0 771.0 L141.1 765.5 M158.0 771.0 L143.5 756.8 M158.0 771.0 L147.1 753.3 M158.0 771.0 L153.4 758.1 M158.0 771.0 L156.0 755.3 M158.0 771.0 L154.5 757.4 M158.0 771.0 L157.8 749.0 M158.0 771.0 L163.8 747.1 M158.0 771.0 L164.9 754.0 M158.0 771.0 L173.1 757.7 M158.0 771.0 L168.7 761.4 M158.0 771.0 L170.9 767.3 M158.0 771.0 L179.2 769.1" stroke="#30a830" stroke-width="0.6" opacity="0.5"/></g><g filter="url(#bl2)"><circle cx="124.6" cy="738.5" r="5" fill="#50ff50" opacity="0.6"/><circle cx="116" cy="779" r="6" fill="#50ff50" opacity="0.6"/></g><circle cx="124.6" cy="738.8" r="2.8" fill="#ff6a10"/><circle cx="116" cy="778.6" r="2.8" fill="#ff6a10"/><path transform="translate(126.7 727.0) rotate(100.0) scale(0.95)" d="M0 0 L-9 -7 L-8 -2.5 L-20 -2.5 L-20 2.5 L-8 2.5 L-9 7 Z" fill="#fff"/><path transform="translate(113.7 787.3) rotate(-72.0) scale(0.95)" d="M0 0 L-9 -7 L-8 -2.5 L-20 -2.5 L-20 2.5 L-8 2.5 L-9 7 Z" fill="#fff"/></g>
<g clip-path="url(#cp2)"><g filter="url(#bl1)"><circle cx="333.5" cy="720.8" r="1.0" fill="#b01a1a" opacity="0.72"/><circle cx="346.8" cy="752.4" r="1.0" fill="#b01a1a" opacity="0.56"/><circle cx="334.1" cy="815.3" r="0.7" fill="#b01a1a" opacity="0.58"/><circle cx="250.2" cy="705.3" r="0.9" fill="#b01a1a" opacity="0.41"/><circle cx="330.5" cy="728.6" r="0.7" fill="#b01a1a" opacity="0.86"/><circle cx="331.0" cy="713.6" r="0.9" fill="#b01a1a" opacity="0.89"/><circle cx="369.5" cy="818.0" r="0.8" fill="#b01a1a" opacity="0.37"/><circle cx="341.0" cy="819.9" r="0.8" fill="#b01a1a" opacity="0.38"/><circle cx="295.2" cy="702.6" r="0.8" fill="#b01a1a" opacity="0.41"/><circle cx="253.5" cy="798.9" r="1.1" fill="#b01a1a" opacity="0.81"/><circle cx="375.5" cy="813.7" r="0.7" fill="#b01a1a" opacity="0.64"/><circle cx="261.4" cy="802.4" r="1.2" fill="#b01a1a" opacity="0.58"/><circle cx="245.7" cy="777.8" r="1.0" fill="#b01a1a" opacity="0.50"/><circle cx="350.2" cy="742.9" r="0.9" fill="#b01a1a" opacity="0.51"/><circle cx="284.1" cy="816.1" r="1.0" fill="#b01a1a" opacity="0.53"/><circle cx="355.3" cy="749.6" r="0.7" fill="#b01a1a" opacity="0.68"/><circle cx="237.6" cy="734.1" r="0.9" fill="#b01a1a" opacity="0.71"/><circle cx="280.5" cy="693.9" r="0.7" fill="#b01a1a" opacity="0.46"/><circle cx="249.0" cy="713.5" r="1.1" fill="#b01a1a" opacity="0.57"/><circle cx="341.2" cy="742.1" r="0.8" fill="#b01a1a" opacity="0.38"/><circle cx="268.0" cy="685.1" r="1.1" fill="#b01a1a" opacity="0.35"/><circle cx="380.8" cy="803.9" r="1.2" fill="#b01a1a" opacity="0.40"/><circle cx="368.0" cy="778.0" r="0.9" fill="#b01a1a" opacity="0.75"/><circle cx="243.7" cy="708.1" r="0.6" fill="#b01a1a" opacity="0.81"/><circle cx="321.9" cy="808.6" r="0.6" fill="#b01a1a" opacity="0.61"/><circle cx="243.7" cy="770.1" r="0.9" fill="#b01a1a" opacity="0.54"/><circle cx="293.6" cy="688.8" r="0.7" fill="#b01a1a" opacity="0.53"/><circle cx="260.7" cy="797.7" r="0.9" fill="#b01a1a" opacity="0.82"/><circle cx="246.0" cy="776.7" r="1.0" fill="#b01a1a" opacity="0.50"/><circle cx="267.9" cy="795.5" r="1.2" fill="#b01a1a" opacity="0.82"/><circle cx="261.5" cy="696.8" r="1.0" fill="#b01a1a" opacity="0.77"/><circle cx="307.3" cy="807.4" r="0.6" fill="#b01a1a" opacity="0.80"/><circle cx="361.6" cy="739.0" r="1.2" fill="#b01a1a" opacity="0.45"/><circle cx="280.4" cy="810.1" r="0.6" fill="#b01a1a" opacity="0.66"/><circle cx="335.4" cy="730.4" r="0.9" fill="#b01a1a" opacity="0.61"/><circle cx="386.0" cy="786.1" r="0.6" fill="#b01a1a" opacity="0.36"/><circle cx="363.7" cy="772.8" r="0.6" fill="#b01a1a" opacity="0.37"/><circle cx="351.6" cy="753.7" r="1.0" fill="#b01a1a" opacity="0.62"/><circle cx="336.4" cy="725.8" r="0.7" fill="#b01a1a" opacity="0.61"/><circle cx="340.3" cy="729.8" r="1.0" fill="#b01a1a" opacity="0.72"/><circle cx="339.3" cy="732.2" r="1.0" fill="#b01a1a" opacity="0.71"/><circle cx="247.0" cy="777.7" r="0.6" fill="#b01a1a" opacity="0.76"/><circle cx="306.9" cy="704.0" r="0.6" fill="#b01a1a" opacity="0.79"/><circle cx="319.5" cy="712.7" r="1.2" fill="#b01a1a" opacity="0.49"/><circle cx="241.5" cy="742.7" r="0.6" fill="#b01a1a" opacity="0.51"/><circle cx="367.0" cy="763.0" r="1.0" fill="#b01a1a" opacity="0.49"/><circle cx="246.7" cy="784.2" r="0.7" fill="#b01a1a" opacity="0.60"/><circle cx="271.1" cy="806.3" r="0.8" fill="#b01a1a" opacity="0.88"/><circle cx="320.3" cy="714.4" r="1.1" fill="#b01a1a" opacity="0.90"/><circle cx="324.9" cy="711.5" r="1.2" fill="#b01a1a" opacity="0.86"/><circle cx="344.8" cy="742.3" r="1.1" fill="#b01a1a" opacity="0.82"/><circle cx="347.5" cy="744.2" r="0.9" fill="#b01a1a" opacity="0.50"/><circle cx="241.9" cy="717.4" r="0.9" fill="#b01a1a" opacity="0.83"/><circle cx="373.7" cy="822.9" r="1.1" fill="#b01a1a" opacity="0.57"/><circle cx="391.8" cy="805.1" r="0.7" fill="#b01a1a" opacity="0.65"/><circle cx="371.9" cy="804.3" r="1.0" fill="#b01a1a" opacity="0.81"/><circle cx="243.5" cy="785.7" r="0.8" fill="#b01a1a" opacity="0.77"/><circle cx="323.9" cy="715.0" r="0.9" fill="#b01a1a" opacity="0.41"/><circle cx="297.2" cy="697.7" r="0.8" fill="#b01a1a" opacity="0.38"/><circle cx="380.8" cy="795.4" r="0.6" fill="#b01a1a" opacity="0.78"/><circle cx="371.7" cy="778.8" r="0.8" fill="#b01a1a" opacity="0.87"/><circle cx="240.8" cy="753.2" r="1.0" fill="#b01a1a" opacity="0.79"/><circle cx="324.9" cy="823.1" r="0.9" fill="#b01a1a" opacity="0.69"/><circle cx="260.7" cy="793.5" r="0.8" fill="#b01a1a" opacity="0.53"/><circle cx="315.2" cy="813.6" r="1.1" fill="#b01a1a" opacity="0.55"/><circle cx="234.1" cy="730.2" r="0.8" fill="#b01a1a" opacity="0.58"/><circle cx="382.4" cy="788.9" r="0.9" fill="#b01a1a" opacity="0.70"/><circle cx="351.5" cy="821.7" r="0.6" fill="#b01a1a" opacity="0.47"/><circle cx="331.6" cy="810.7" r="1.0" fill="#b01a1a" opacity="0.70"/><circle cx="338.3" cy="729.4" r="1.1" fill="#b01a1a" opacity="0.46"/><circle cx="247.3" cy="713.3" r="0.9" fill="#b01a1a" opacity="0.89"/><circle cx="391.0" cy="788.4" r="1.2" fill="#b01a1a" opacity="0.58"/><circle cx="316.9" cy="715.4" r="1.1" fill="#b01a1a" opacity="0.74"/><circle cx="395.2" cy="805.6" r="1.2" fill="#b01a1a" opacity="0.46"/><circle cx="369.8" cy="769.0" r="1.0" fill="#b01a1a" opacity="0.74"/><circle cx="249.6" cy="780.8" r="0.6" fill="#b01a1a" opacity="0.59"/><circle cx="259.4" cy="707.2" r="0.9" fill="#b01a1a" opacity="0.88"/><circle cx="236.2" cy="768.8" r="1.1" fill="#b01a1a" opacity="0.67"/><circle cx="345.6" cy="809.4" r="1.2" fill="#b01a1a" opacity="0.41"/><circle cx="344.3" cy="813.2" r="0.6" fill="#b01a1a" opacity="0.68"/><circle cx="228.4" cy="745.7" r="0.6" fill="#b01a1a" opacity="0.36"/><circle cx="372.4" cy="776.3" r="0.9" fill="#b01a1a" opacity="0.45"/><circle cx="253.4" cy="701.3" r="0.6" fill="#b01a1a" opacity="0.74"/><circle cx="283.9" cy="810.2" r="0.6" fill="#b01a1a" opacity="0.62"/><circle cx="285.1" cy="810.1" r="0.9" fill="#b01a1a" opacity="0.45"/><circle cx="258.9" cy="704.9" r="0.8" fill="#b01a1a" opacity="0.47"/><circle cx="317.6" cy="712.7" r="0.9" fill="#b01a1a" opacity="0.51"/><circle cx="282.1" cy="690.4" r="1.2" fill="#b01a1a" opacity="0.56"/><circle cx="303.2" cy="704.2" r="1.2" fill="#b01a1a" opacity="0.50"/><circle cx="243.2" cy="759.1" r="0.8" fill="#b01a1a" opacity="0.60"/><circle cx="252.4" cy="792.2" r="0.8" fill="#b01a1a" opacity="0.70"/><circle cx="346.3" cy="747.9" r="1.2" fill="#b01a1a" opacity="0.88"/><circle cx="373.2" cy="777.3" r="1.0" fill="#b01a1a" opacity="0.77"/><circle cx="336.8" cy="822.5" r="1.1" fill="#b01a1a" opacity="0.79"/><circle cx="363.2" cy="765.1" r="0.6" fill="#b01a1a" opacity="0.51"/><circle cx="318.9" cy="727.0" r="0.9" fill="#b01a1a" opacity="0.43"/><circle cx="266.4" cy="807.5" r="1.0" fill="#b01a1a" opacity="0.47"/><circle cx="254.1" cy="790.6" r="0.9" fill="#b01a1a" opacity="0.83"/><circle cx="325.0" cy="821.3" r="0.7" fill="#b01a1a" opacity="0.83"/><circle cx="238.3" cy="755.3" r="1.0" fill="#b01a1a" opacity="0.40"/><circle cx="361.8" cy="812.4" r="0.8" fill="#b01a1a" opacity="0.43"/><circle cx="232.9" cy="763.2" r="1.0" fill="#b01a1a" opacity="0.55"/><circle cx="296.0" cy="807.8" r="0.6" fill="#b01a1a" opacity="0.63"/><circle cx="373.4" cy="817.8" r="0.9" fill="#b01a1a" opacity="0.69"/><circle cx="387.1" cy="803.7" r="0.6" fill="#b01a1a" opacity="0.78"/><circle cx="238.4" cy="721.1" r="0.6" fill="#b01a1a" opacity="0.67"/><circle cx="243.2" cy="748.6" r="0.8" fill="#b01a1a" opacity="0.58"/><circle cx="242.6" cy="745.1" r="1.0" fill="#b01a1a" opacity="0.54"/><circle cx="372.5" cy="811.5" r="0.6" fill="#b01a1a" opacity="0.59"/><circle cx="373.5" cy="769.8" r="0.9" fill="#b01a1a" opacity="0.36"/><circle cx="328.4" cy="720.8" r="0.8" fill="#b01a1a" opacity="0.88"/><circle cx="378.1" cy="799.5" r="0.9" fill="#b01a1a" opacity="0.58"/><circle cx="248.4" cy="697.1" r="0.9" fill="#b01a1a" opacity="0.52"/><circle cx="305.9" cy="809.3" r="0.9" fill="#b01a1a" opacity="0.77"/><circle cx="245.4" cy="719.3" r="0.6" fill="#b01a1a" opacity="0.49"/><circle cx="286.1" cy="804.3" r="0.6" fill="#b01a1a" opacity="0.76"/><circle cx="287.4" cy="697.2" r="0.6" fill="#b01a1a" opacity="0.45"/><circle cx="256.3" cy="797.9" r="0.6" fill="#b01a1a" opacity="0.80"/><circle cx="256.5" cy="803.4" r="1.0" fill="#b01a1a" opacity="0.90"/><circle cx="253.4" cy="690.0" r="1.2" fill="#b01a1a" opacity="0.63"/><circle cx="360.1" cy="740.3" r="0.6" fill="#b01a1a" opacity="0.52"/><circle cx="268.3" cy="692.7" r="1.2" fill="#b01a1a" opacity="0.67"/><circle cx="247.3" cy="769.6" r="0.7" fill="#b01a1a" opacity="0.59"/><circle cx="237.6" cy="710.9" r="0.9" fill="#b01a1a" opacity="0.71"/><circle cx="342.5" cy="735.6" r="0.8" fill="#b01a1a" opacity="0.54"/><circle cx="265.1" cy="694.7" r="1.0" fill="#b01a1a" opacity="0.83"/><circle cx="352.0" cy="739.6" r="1.0" fill="#b01a1a" opacity="0.55"/><circle cx="358.3" cy="806.8" r="1.2" fill="#b01a1a" opacity="0.46"/><circle cx="352.1" cy="763.5" r="0.7" fill="#b01a1a" opacity="0.89"/><circle cx="357.4" cy="802.8" r="1.1" fill="#b01a1a" opacity="0.86"/><circle cx="357.3" cy="761.4" r="0.8" fill="#b01a1a" opacity="0.66"/><circle cx="353.0" cy="821.5" r="0.6" fill="#b01a1a" opacity="0.60"/><circle cx="265.2" cy="806.0" r="1.2" fill="#b01a1a" opacity="0.42"/><circle cx="320.3" cy="726.0" r="1.2" fill="#b01a1a" opacity="0.73"/><circle cx="366.8" cy="786.0" r="0.8" fill="#b01a1a" opacity="0.84"/><circle cx="262.2" cy="777.8" r="0.7" fill="#b01a1a" opacity="0.81"/><circle cx="250.6" cy="791.0" r="1.1" fill="#b01a1a" opacity="0.87"/><circle cx="232.8" cy="736.4" r="1.2" fill="#b01a1a" opacity="0.48"/><circle cx="278.1" cy="689.5" r="1.1" fill="#b01a1a" opacity="0.42"/><circle cx="357.9" cy="757.4" r="0.7" fill="#b01a1a" opacity="0.67"/><circle cx="293.2" cy="699.5" r="0.7" fill="#b01a1a" opacity="0.79"/><circle cx="329.2" cy="820.7" r="1.0" fill="#b01a1a" opacity="0.73"/><circle cx="303.2" cy="818.8" r="1.0" fill="#b01a1a" opacity="0.86"/><circle cx="296.8" cy="810.9" r="1.2" fill="#b01a1a" opacity="0.81"/><circle cx="238.6" cy="751.1" r="0.6" fill="#b01a1a" opacity="0.81"/><circle cx="244.8" cy="781.2" r="0.8" fill="#b01a1a" opacity="0.61"/><circle cx="236.4" cy="742.7" r="1.0" fill="#b01a1a" opacity="0.54"/><circle cx="238.9" cy="755.8" r="1.0" fill="#b01a1a" opacity="0.64"/><circle cx="240.3" cy="731.0" r="0.8" fill="#b01a1a" opacity="0.85"/><circle cx="323.0" cy="810.4" r="0.6" fill="#b01a1a" opacity="0.76"/><circle cx="366.9" cy="810.5" r="1.0" fill="#b01a1a" opacity="0.56"/><circle cx="241.4" cy="731.6" r="1.2" fill="#b01a1a" opacity="0.37"/><circle cx="234.9" cy="768.8" r="1.2" fill="#b01a1a" opacity="0.72"/><circle cx="282.9" cy="692.2" r="0.7" fill="#b01a1a" opacity="0.47"/><circle cx="246.7" cy="772.2" r="1.0" fill="#b01a1a" opacity="0.35"/><circle cx="256.4" cy="693.2" r="0.8" fill="#b01a1a" opacity="0.80"/><circle cx="377.7" cy="799.0" r="0.8" fill="#b01a1a" opacity="0.46"/><circle cx="357.1" cy="758.9" r="0.9" fill="#b01a1a" opacity="0.75"/><circle cx="269.2" cy="697.4" r="0.8" fill="#b01a1a" opacity="0.50"/><circle cx="245.1" cy="758.6" r="1.1" fill="#b01a1a" opacity="0.52"/><circle cx="267.7" cy="802.8" r="0.8" fill="#b01a1a" opacity="0.74"/><circle cx="341.3" cy="725.3" r="1.0" fill="#b01a1a" opacity="0.74"/><circle cx="355.4" cy="745.2" r="0.9" fill="#b01a1a" opacity="0.46"/><circle cx="373.9" cy="774.4" r="0.7" fill="#b01a1a" opacity="0.47"/><circle cx="310.5" cy="815.1" r="1.0" fill="#b01a1a" opacity="0.58"/><circle cx="298.7" cy="811.2" r="0.9" fill="#b01a1a" opacity="0.40"/><circle cx="252.0" cy="802.7" r="0.6" fill="#b01a1a" opacity="0.65"/><circle cx="339.9" cy="723.7" r="1.1" fill="#b01a1a" opacity="0.63"/><circle cx="313.0" cy="815.6" r="0.9" fill="#b01a1a" opacity="0.66"/><circle cx="255.1" cy="799.1" r="1.1" fill="#b01a1a" opacity="0.83"/><circle cx="373.5" cy="769.4" r="1.0" fill="#b01a1a" opacity="0.69"/><circle cx="297.7" cy="810.1" r="0.7" fill="#b01a1a" opacity="0.82"/><circle cx="283.6" cy="698.4" r="1.1" fill="#b01a1a" opacity="0.62"/><circle cx="239.7" cy="724.2" r="0.6" fill="#b01a1a" opacity="0.71"/><circle cx="267.8" cy="806.4" r="1.1" fill="#b01a1a" opacity="0.54"/><circle cx="304.6" cy="707.2" r="1.1" fill="#b01a1a" opacity="0.42"/><circle cx="296.9" cy="813.5" r="0.8" fill="#b01a1a" opacity="0.74"/><circle cx="245.1" cy="769.4" r="1.2" fill="#b01a1a" opacity="0.42"/><circle cx="381.5" cy="786.4" r="0.8" fill="#b01a1a" opacity="0.53"/><circle cx="237.9" cy="779.6" r="0.9" fill="#b01a1a" opacity="0.36"/><circle cx="373.7" cy="817.9" r="1.0" fill="#b01a1a" opacity="0.85"/><circle cx="384.1" cy="810.2" r="0.9" fill="#b01a1a" opacity="0.69"/><circle cx="384.8" cy="811.2" r="0.6" fill="#b01a1a" opacity="0.73"/><circle cx="368.4" cy="760.7" r="1.0" fill="#b01a1a" opacity="0.47"/><circle cx="290.4" cy="818.8" r="0.8" fill="#b01a1a" opacity="0.43"/><circle cx="238.7" cy="740.2" r="0.8" fill="#b01a1a" opacity="0.36"/><circle cx="366.5" cy="813.3" r="0.9" fill="#b01a1a" opacity="0.72"/><circle cx="374.8" cy="813.5" r="0.9" fill="#b01a1a" opacity="0.62"/><circle cx="356.4" cy="814.1" r="1.0" fill="#b01a1a" opacity="0.63"/><circle cx="243.0" cy="755.3" r="1.2" fill="#b01a1a" opacity="0.50"/><circle cx="374.7" cy="771.4" r="1.2" fill="#b01a1a" opacity="0.51"/><circle cx="365.8" cy="821.2" r="0.7" fill="#b01a1a" opacity="0.57"/><circle cx="324.8" cy="714.0" r="1.0" fill="#b01a1a" opacity="0.42"/><circle cx="357.6" cy="820.6" r="1.0" fill="#b01a1a" opacity="0.41"/><circle cx="328.0" cy="817.7" r="0.7" fill="#b01a1a" opacity="0.37"/><circle cx="245.0" cy="772.3" r="1.2" fill="#b01a1a" opacity="0.80"/><circle cx="288.4" cy="698.0" r="1.0" fill="#b01a1a" opacity="0.37"/><circle cx="250.7" cy="765.3" r="1.1" fill="#b01a1a" opacity="0.79"/><circle cx="238.4" cy="758.1" r="1.0" fill="#b01a1a" opacity="0.46"/><circle cx="282.5" cy="801.5" r="0.6" fill="#b01a1a" opacity="0.84"/><circle cx="374.6" cy="794.4" r="1.2" fill="#b01a1a" opacity="0.64"/><circle cx="290.6" cy="699.7" r="1.0" fill="#b01a1a" opacity="0.59"/><circle cx="251.2" cy="781.6" r="0.6" fill="#b01a1a" opacity="0.71"/><circle cx="300.9" cy="814.8" r="1.1" fill="#b01a1a" opacity="0.50"/><circle cx="257.5" cy="695.4" r="1.0" fill="#b01a1a" opacity="0.43"/><circle cx="259.3" cy="792.3" r="1.0" fill="#b01a1a" opacity="0.79"/><circle cx="225.6" cy="724.9" r="1.0" fill="#b01a1a" opacity="0.40"/><circle cx="316.8" cy="709.2" r="0.7" fill="#b01a1a" opacity="0.78"/><circle cx="278.8" cy="695.6" r="0.8" fill="#b01a1a" opacity="0.44"/><circle cx="243.2" cy="781.5" r="1.2" fill="#b01a1a" opacity="0.81"/><circle cx="251.7" cy="728.9" r="1.0" fill="#b01a1a" opacity="0.43"/><circle cx="382.4" cy="798.2" r="1.1" fill="#b01a1a" opacity="0.41"/><circle cx="321.3" cy="820.2" r="1.2" fill="#b01a1a" opacity="0.74"/><circle cx="346.5" cy="723.9" r="0.7" fill="#b01a1a" opacity="0.83"/><circle cx="377.5" cy="807.4" r="0.7" fill="#b01a1a" opacity="0.71"/><circle cx="236.8" cy="754.3" r="0.7" fill="#b01a1a" opacity="0.45"/><circle cx="267.2" cy="692.3" r="0.9" fill="#b01a1a" opacity="0.80"/><circle cx="382.6" cy="800.0" r="0.7" fill="#b01a1a" opacity="0.46"/><circle cx="256.6" cy="694.8" r="0.8" fill="#b01a1a" opacity="0.44"/><circle cx="340.3" cy="813.2" r="1.0" fill="#b01a1a" opacity="0.89"/><circle cx="349.7" cy="817.9" r="0.8" fill="#b01a1a" opacity="0.51"/><circle cx="322.3" cy="721.0" r="0.6" fill="#b01a1a" opacity="0.89"/><circle cx="384.7" cy="802.1" r="1.2" fill="#b01a1a" opacity="0.58"/><circle cx="307.0" cy="816.9" r="1.1" fill="#b01a1a" opacity="0.69"/><circle cx="233.2" cy="732.4" r="1.2" fill="#b01a1a" opacity="0.69"/><circle cx="299.5" cy="702.3" r="1.2" fill="#b01a1a" opacity="0.53"/><circle cx="377.7" cy="805.1" r="0.6" fill="#b01a1a" opacity="0.43"/><circle cx="272.4" cy="798.0" r="0.6" fill="#b01a1a" opacity="0.82"/><circle cx="317.0" cy="710.5" r="1.1" fill="#b01a1a" opacity="0.54"/><circle cx="250.4" cy="751.0" r="1.1" fill="#b01a1a" opacity="0.57"/><circle cx="302.8" cy="695.7" r="1.1" fill="#b01a1a" opacity="0.59"/><circle cx="242.9" cy="739.2" r="0.8" fill="#b01a1a" opacity="0.63"/><circle cx="378.9" cy="805.4" r="1.2" fill="#b01a1a" opacity="0.57"/><circle cx="342.9" cy="736.8" r="1.0" fill="#b01a1a" opacity="0.55"/><circle cx="346.9" cy="732.8" r="0.8" fill="#b01a1a" opacity="0.77"/><circle cx="360.3" cy="774.0" r="0.8" fill="#b01a1a" opacity="0.63"/><circle cx="296.0" cy="697.8" r="0.6" fill="#b01a1a" opacity="0.55"/><circle cx="366.9" cy="763.5" r="1.2" fill="#b01a1a" opacity="0.71"/><circle cx="316.1" cy="708.1" r="1.2" fill="#b01a1a" opacity="0.86"/><circle cx="352.7" cy="741.4" r="1.0" fill="#b01a1a" opacity="0.43"/><circle cx="377.1" cy="778.8" r="0.7" fill="#b01a1a" opacity="0.85"/><circle cx="248.2" cy="778.4" r="1.2" fill="#b01a1a" opacity="0.48"/><circle cx="243.5" cy="719.4" r="0.9" fill="#b01a1a" opacity="0.71"/><circle cx="279.2" cy="693.4" r="0.7" fill="#b01a1a" opacity="0.71"/><circle cx="305.9" cy="811.7" r="0.8" fill="#b01a1a" opacity="0.52"/><circle cx="327.9" cy="815.4" r="0.9" fill="#b01a1a" opacity="0.85"/><circle cx="378.5" cy="802.0" r="0.9" fill="#b01a1a" opacity="0.46"/><circle cx="232.4" cy="734.4" r="0.8" fill="#b01a1a" opacity="0.38"/><circle cx="376.1" cy="809.7" r="0.8" fill="#b01a1a" opacity="0.75"/><circle cx="236.5" cy="743.4" r="1.1" fill="#b01a1a" opacity="0.65"/><circle cx="331.6" cy="813.4" r="0.9" fill="#b01a1a" opacity="0.87"/><circle cx="311.7" cy="701.8" r="0.6" fill="#b01a1a" opacity="0.76"/><circle cx="347.3" cy="734.3" r="0.6" fill="#b01a1a" opacity="0.53"/><circle cx="246.3" cy="771.3" r="1.2" fill="#b01a1a" opacity="0.36"/><circle cx="341.8" cy="817.1" r="0.6" fill="#b01a1a" opacity="0.62"/><circle cx="394.2" cy="797.1" r="1.0" fill="#b01a1a" opacity="0.75"/><circle cx="337.4" cy="726.6" r="1.0" fill="#b01a1a" opacity="0.49"/><circle cx="244.3" cy="742.9" r="1.0" fill="#b01a1a" opacity="0.85"/><circle cx="268.4" cy="793.4" r="0.8" fill="#b01a1a" opacity="0.44"/><circle cx="258.5" cy="797.5" r="1.2" fill="#b01a1a" opacity="0.47"/><circle cx="272.2" cy="806.3" r="1.1" fill="#b01a1a" opacity="0.50"/><circle cx="331.1" cy="818.0" r="1.0" fill="#b01a1a" opacity="0.69"/><circle cx="362.8" cy="757.9" r="1.2" fill="#b01a1a" opacity="0.85"/><circle cx="354.8" cy="818.1" r="0.6" fill="#b01a1a" opacity="0.36"/><circle cx="302.7" cy="706.6" r="0.7" fill="#b01a1a" opacity="0.80"/><circle cx="362.7" cy="741.8" r="0.8" fill="#b01a1a" opacity="0.71"/><circle cx="360.1" cy="757.3" r="1.2" fill="#b01a1a" opacity="0.85"/><circle cx="248.2" cy="704.0" r="1.1" fill="#b01a1a" opacity="0.44"/><circle cx="365.8" cy="817.3" r="1.2" fill="#b01a1a" opacity="0.60"/><circle cx="375.5" cy="816.1" r="1.2" fill="#b01a1a" opacity="0.60"/><circle cx="241.4" cy="760.8" r="0.8" fill="#b01a1a" opacity="0.48"/><circle cx="238.4" cy="740.4" r="0.6" fill="#b01a1a" opacity="0.44"/><circle cx="275.9" cy="694.9" r="1.1" fill="#b01a1a" opacity="0.71"/><circle cx="359.9" cy="805.1" r="1.2" fill="#b01a1a" opacity="0.87"/><circle cx="258.4" cy="791.5" r="0.7" fill="#b01a1a" opacity="0.69"/><circle cx="283.3" cy="686.7" r="1.1" fill="#b01a1a" opacity="0.70"/><circle cx="246.6" cy="787.2" r="1.0" fill="#b01a1a" opacity="0.69"/><circle cx="242.3" cy="727.2" r="0.7" fill="#b01a1a" opacity="0.89"/><circle cx="248.2" cy="768.7" r="0.8" fill="#b01a1a" opacity="0.37"/><circle cx="335.7" cy="818.1" r="0.8" fill="#b01a1a" opacity="0.79"/><circle cx="263.1" cy="798.4" r="0.8" fill="#b01a1a" opacity="0.70"/><circle cx="317.0" cy="706.5" r="1.2" fill="#b01a1a" opacity="0.89"/><circle cx="244.1" cy="777.4" r="0.8" fill="#b01a1a" opacity="0.52"/><circle cx="364.9" cy="816.7" r="1.1" fill="#b01a1a" opacity="0.85"/><circle cx="263.8" cy="801.3" r="0.8" fill="#b01a1a" opacity="0.43"/><circle cx="258.2" cy="794.0" r="0.6" fill="#b01a1a" opacity="0.53"/><circle cx="388.2" cy="805.1" r="1.1" fill="#b01a1a" opacity="0.78"/><circle cx="348.6" cy="735.7" r="1.1" fill="#b01a1a" opacity="0.81"/><circle cx="346.6" cy="812.1" r="0.9" fill="#b01a1a" opacity="0.67"/><circle cx="279.5" cy="687.0" r="0.9" fill="#b01a1a" opacity="0.75"/><circle cx="258.5" cy="790.3" r="1.1" fill="#b01a1a" opacity="0.56"/><circle cx="245.3" cy="719.3" r="1.1" fill="#b01a1a" opacity="0.73"/><circle cx="370.6" cy="820.6" r="1.2" fill="#b01a1a" opacity="0.56"/><circle cx="250.8" cy="799.8" r="0.8" fill="#b01a1a" opacity="0.56"/><circle cx="383.4" cy="806.8" r="1.1" fill="#b01a1a" opacity="0.70"/><circle cx="330.7" cy="816.0" r="1.0" fill="#b01a1a" opacity="0.68"/><circle cx="371.1" cy="817.7" r="0.8" fill="#b01a1a" opacity="0.86"/><circle cx="241.5" cy="768.7" r="0.8" fill="#b01a1a" opacity="0.88"/><circle cx="243.5" cy="752.4" r="0.7" fill="#b01a1a" opacity="0.82"/><circle cx="276.8" cy="688.0" r="1.0" fill="#b01a1a" opacity="0.64"/><circle cx="246.8" cy="705.1" r="1.2" fill="#b01a1a" opacity="0.87"/><circle cx="269.0" cy="805.9" r="0.8" fill="#b01a1a" opacity="0.47"/><circle cx="375.2" cy="783.9" r="1.0" fill="#b01a1a" opacity="0.74"/><circle cx="358.7" cy="820.0" r="0.7" fill="#b01a1a" opacity="0.66"/><circle cx="256.4" cy="705.2" r="1.1" fill="#b01a1a" opacity="0.61"/><circle cx="376.0" cy="774.3" r="0.7" fill="#b01a1a" opacity="0.68"/><circle cx="359.4" cy="746.2" r="0.7" fill="#b01a1a" opacity="0.49"/><circle cx="264.0" cy="808.2" r="0.8" fill="#b01a1a" opacity="0.57"/><circle cx="324.7" cy="816.2" r="0.7" fill="#b01a1a" opacity="0.67"/><circle cx="251.8" cy="791.0" r="1.0" fill="#b01a1a" opacity="0.52"/><circle cx="242.0" cy="725.7" r="1.0" fill="#b01a1a" opacity="0.69"/><circle cx="281.3" cy="807.6" r="1.2" fill="#b01a1a" opacity="0.37"/><circle cx="336.6" cy="723.9" r="0.7" fill="#b01a1a" opacity="0.59"/><circle cx="249.4" cy="752.5" r="1.0" fill="#b01a1a" opacity="0.45"/><circle cx="362.1" cy="820.0" r="0.7" fill="#b01a1a" opacity="0.60"/><circle cx="241.1" cy="745.2" r="1.2" fill="#b01a1a" opacity="0.80"/><circle cx="363.0" cy="754.7" r="0.9" fill="#b01a1a" opacity="0.78"/><circle cx="254.0" cy="707.0" r="1.0" fill="#b01a1a" opacity="0.86"/><circle cx="246.6" cy="767.5" r="0.8" fill="#b01a1a" opacity="0.85"/><circle cx="351.2" cy="744.8" r="0.6" fill="#b01a1a" opacity="0.82"/><circle cx="335.9" cy="726.7" r="0.8" fill="#b01a1a" opacity="0.58"/><circle cx="249.6" cy="800.6" r="1.2" fill="#b01a1a" opacity="0.66"/><circle cx="290.9" cy="817.4" r="0.8" fill="#b01a1a" opacity="0.53"/><circle cx="383.3" cy="801.1" r="1.1" fill="#b01a1a" opacity="0.79"/><circle cx="257.5" cy="686.6" r="0.7" fill="#b01a1a" opacity="0.83"/><circle cx="237.0" cy="748.6" r="0.7" fill="#b01a1a" opacity="0.44"/><circle cx="371.5" cy="814.6" r="0.6" fill="#b01a1a" opacity="0.60"/><circle cx="251.1" cy="789.8" r="0.9" fill="#b01a1a" opacity="0.62"/><circle cx="381.7" cy="791.6" r="0.7" fill="#b01a1a" opacity="0.69"/><circle cx="259.4" cy="796.0" r="0.7" fill="#b01a1a" opacity="0.40"/><circle cx="248.0" cy="712.2" r="1.0" fill="#b01a1a" opacity="0.68"/><circle cx="283.3" cy="699.2" r="0.7" fill="#b01a1a" opacity="0.46"/><circle cx="303.8" cy="703.9" r="1.2" fill="#b01a1a" opacity="0.47"/><circle cx="296.0" cy="700.1" r="1.1" fill="#b01a1a" opacity="0.42"/><circle cx="276.5" cy="696.1" r="1.1" fill="#b01a1a" opacity="0.79"/><circle cx="259.8" cy="797.3" r="0.6" fill="#b01a1a" opacity="0.78"/><circle cx="322.1" cy="813.5" r="1.1" fill="#b01a1a" opacity="0.69"/><circle cx="342.9" cy="806.5" r="0.9" fill="#b01a1a" opacity="0.60"/><circle cx="382.2" cy="798.6" r="0.7" fill="#b01a1a" opacity="0.65"/><circle cx="244.6" cy="744.0" r="0.6" fill="#b01a1a" opacity="0.77"/><circle cx="292.9" cy="814.6" r="1.1" fill="#b01a1a" opacity="0.60"/><circle cx="377.9" cy="766.2" r="0.9" fill="#b01a1a" opacity="0.35"/><circle cx="345.9" cy="813.3" r="0.8" fill="#b01a1a" opacity="0.73"/><circle cx="255.9" cy="792.1" r="0.6" fill="#b01a1a" opacity="0.89"/><circle cx="274.9" cy="804.9" r="1.2" fill="#b01a1a" opacity="0.81"/><circle cx="236.9" cy="715.5" r="0.9" fill="#b01a1a" opacity="0.88"/><circle cx="273.6" cy="807.8" r="0.8" fill="#b01a1a" opacity="0.50"/><circle cx="246.5" cy="776.8" r="0.9" fill="#b01a1a" opacity="0.43"/><circle cx="235.9" cy="754.3" r="1.0" fill="#b01a1a" opacity="0.67"/><circle cx="315.5" cy="710.6" r="0.6" fill="#b01a1a" opacity="0.39"/><circle cx="346.3" cy="817.4" r="1.2" fill="#b01a1a" opacity="0.81"/><circle cx="235.3" cy="744.5" r="1.1" fill="#b01a1a" opacity="0.83"/><circle cx="358.5" cy="757.6" r="0.9" fill="#b01a1a" opacity="0.57"/><circle cx="283.5" cy="694.5" r="1.2" fill="#b01a1a" opacity="0.37"/><circle cx="362.8" cy="751.7" r="0.8" fill="#b01a1a" opacity="0.44"/><circle cx="242.8" cy="778.0" r="1.0" fill="#b01a1a" opacity="0.65"/><circle cx="349.1" cy="816.4" r="0.6" fill="#b01a1a" opacity="0.71"/><circle cx="256.0" cy="796.3" r="0.8" fill="#b01a1a" opacity="0.68"/><circle cx="334.0" cy="727.8" r="0.7" fill="#b01a1a" opacity="0.59"/><circle cx="247.9" cy="696.7" r="1.0" fill="#b01a1a" opacity="0.77"/><circle cx="251.5" cy="790.5" r="0.8" fill="#b01a1a" opacity="0.44"/><circle cx="281.5" cy="701.3" r="0.8" fill="#b01a1a" opacity="0.42"/><circle cx="384.2" cy="780.7" r="0.7" fill="#b01a1a" opacity="0.54"/><circle cx="234.3" cy="750.6" r="1.0" fill="#b01a1a" opacity="0.85"/><circle cx="343.7" cy="814.8" r="0.9" fill="#b01a1a" opacity="0.79"/><circle cx="254.1" cy="702.2" r="1.0" fill="#b01a1a" opacity="0.85"/><circle cx="238.4" cy="740.6" r="0.8" fill="#b01a1a" opacity="0.44"/><circle cx="369.0" cy="811.8" r="0.8" fill="#b01a1a" opacity="0.48"/><circle cx="237.4" cy="759.6" r="1.2" fill="#b01a1a" opacity="0.75"/><circle cx="247.8" cy="729.4" r="0.7" fill="#b01a1a" opacity="0.54"/><circle cx="254.0" cy="794.0" r="1.1" fill="#b01a1a" opacity="0.37"/><circle cx="360.3" cy="747.2" r="1.2" fill="#b01a1a" opacity="0.89"/><circle cx="245.9" cy="781.8" r="1.0" fill="#b01a1a" opacity="0.52"/><circle cx="234.4" cy="739.5" r="1.2" fill="#b01a1a" opacity="0.71"/><circle cx="239.5" cy="729.9" r="1.2" fill="#b01a1a" opacity="0.84"/><circle cx="251.6" cy="715.4" r="1.1" fill="#b01a1a" opacity="0.51"/><circle cx="355.6" cy="765.9" r="0.7" fill="#b01a1a" opacity="0.42"/><circle cx="358.6" cy="812.1" r="0.7" fill="#b01a1a" opacity="0.83"/><circle cx="364.7" cy="816.4" r="0.8" fill="#b01a1a" opacity="0.63"/><circle cx="379.2" cy="790.6" r="0.7" fill="#b01a1a" opacity="0.37"/><circle cx="349.4" cy="743.2" r="1.1" fill="#b01a1a" opacity="0.45"/><circle cx="237.2" cy="750.0" r="0.9" fill="#b01a1a" opacity="0.88"/><circle cx="389.9" cy="792.4" r="1.2" fill="#b01a1a" opacity="0.48"/><circle cx="306.8" cy="813.1" r="1.0" fill="#b01a1a" opacity="0.79"/><circle cx="286.8" cy="704.9" r="0.7" fill="#b01a1a" opacity="0.60"/><circle cx="374.4" cy="813.6" r="0.6" fill="#b01a1a" opacity="0.39"/><circle cx="247.5" cy="715.6" r="1.0" fill="#b01a1a" opacity="0.51"/><circle cx="376.0" cy="803.0" r="1.1" fill="#b01a1a" opacity="0.77"/><circle cx="240.7" cy="714.5" r="0.6" fill="#b01a1a" opacity="0.76"/><circle cx="371.2" cy="798.5" r="0.7" fill="#b01a1a" opacity="0.72"/><circle cx="312.6" cy="721.0" r="1.1" fill="#b01a1a" opacity="0.42"/><circle cx="383.7" cy="779.7" r="0.6" fill="#b01a1a" opacity="0.75"/><circle cx="240.3" cy="761.0" r="0.6" fill="#b01a1a" opacity="0.77"/><circle cx="262.8" cy="803.8" r="0.9" fill="#b01a1a" opacity="0.72"/><circle cx="376.4" cy="820.7" r="1.2" fill="#b01a1a" opacity="0.36"/><circle cx="351.9" cy="753.9" r="1.0" fill="#b01a1a" opacity="0.79"/><circle cx="233.3" cy="732.5" r="1.1" fill="#b01a1a" opacity="0.54"/><circle cx="346.1" cy="728.8" r="0.6" fill="#b01a1a" opacity="0.39"/><circle cx="258.3" cy="794.5" r="0.8" fill="#b01a1a" opacity="0.48"/><circle cx="257.6" cy="698.1" r="0.8" fill="#b01a1a" opacity="0.62"/><circle cx="370.2" cy="817.8" r="0.6" fill="#b01a1a" opacity="0.74"/><circle cx="376.2" cy="784.3" r="1.1" fill="#b01a1a" opacity="0.43"/><circle cx="304.8" cy="699.6" r="0.8" fill="#b01a1a" opacity="0.54"/><circle cx="299.8" cy="702.2" r="0.6" fill="#b01a1a" opacity="0.47"/><circle cx="337.6" cy="820.0" r="1.2" fill="#b01a1a" opacity="0.61"/><circle cx="245.4" cy="792.0" r="1.0" fill="#b01a1a" opacity="0.76"/><circle cx="273.7" cy="700.3" r="1.2" fill="#b01a1a" opacity="0.61"/><circle cx="246.4" cy="711.3" r="0.7" fill="#b01a1a" opacity="0.44"/><circle cx="375.4" cy="815.5" r="0.6" fill="#b01a1a" opacity="0.51"/><circle cx="365.8" cy="756.8" r="0.7" fill="#b01a1a" opacity="0.66"/><circle cx="348.0" cy="813.6" r="0.6" fill="#b01a1a" opacity="0.64"/><circle cx="250.0" cy="701.4" r="0.7" fill="#b01a1a" opacity="0.89"/><circle cx="242.5" cy="764.3" r="1.2" fill="#b01a1a" opacity="0.44"/><circle cx="280.5" cy="805.6" r="0.7" fill="#b01a1a" opacity="0.70"/><circle cx="329.0" cy="814.0" r="1.1" fill="#b01a1a" opacity="0.68"/><circle cx="286.6" cy="693.1" r="1.0" fill="#b01a1a" opacity="0.59"/><circle cx="245.2" cy="786.5" r="0.7" fill="#b01a1a" opacity="0.70"/><circle cx="246.0" cy="707.8" r="1.2" fill="#b01a1a" opacity="0.88"/><circle cx="348.5" cy="814.5" r="0.9" fill="#b01a1a" opacity="0.52"/><circle cx="325.6" cy="717.9" r="0.7" fill="#b01a1a" opacity="0.48"/><circle cx="256.5" cy="798.8" r="0.9" fill="#b01a1a" opacity="0.59"/><circle cx="268.8" cy="691.3" r="0.6" fill="#b01a1a" opacity="0.72"/><circle cx="369.5" cy="819.4" r="0.9" fill="#b01a1a" opacity="0.76"/><circle cx="376.9" cy="816.0" r="0.9" fill="#b01a1a" opacity="0.68"/><circle cx="331.0" cy="813.1" r="0.9" fill="#b01a1a" opacity="0.56"/><circle cx="289.0" cy="808.3" r="1.1" fill="#b01a1a" opacity="0.44"/><circle cx="311.5" cy="813.5" r="0.8" fill="#b01a1a" opacity="0.85"/><circle cx="359.9" cy="814.6" r="0.9" fill="#b01a1a" opacity="0.49"/><circle cx="387.8" cy="804.0" r="1.0" fill="#b01a1a" opacity="0.86"/><circle cx="242.0" cy="715.6" r="0.8" fill="#b01a1a" opacity="0.62"/><circle cx="378.8" cy="816.6" r="1.2" fill="#b01a1a" opacity="0.53"/><circle cx="362.2" cy="808.1" r="0.8" fill="#b01a1a" opacity="0.50"/><circle cx="360.3" cy="753.5" r="0.8" fill="#b01a1a" opacity="0.38"/><circle cx="359.1" cy="752.6" r="0.6" fill="#b01a1a" opacity="0.86"/><circle cx="381.1" cy="801.7" r="1.2" fill="#b01a1a" opacity="0.70"/><circle cx="365.3" cy="816.6" r="1.1" fill="#b01a1a" opacity="0.81"/><circle cx="277.1" cy="696.0" r="1.0" fill="#b01a1a" opacity="0.81"/><circle cx="332.8" cy="718.1" r="1.1" fill="#b01a1a" opacity="0.40"/><circle cx="361.3" cy="757.6" r="0.8" fill="#b01a1a" opacity="0.44"/><circle cx="349.9" cy="733.2" r="0.8" fill="#b01a1a" opacity="0.88"/><circle cx="340.1" cy="732.8" r="0.7" fill="#b01a1a" opacity="0.79"/><circle cx="241.4" cy="759.3" r="1.1" fill="#b01a1a" opacity="0.63"/><circle cx="377.8" cy="772.7" r="0.6" fill="#b01a1a" opacity="0.40"/><circle cx="350.4" cy="743.2" r="0.7" fill="#b01a1a" opacity="0.58"/><circle cx="381.8" cy="782.5" r="1.0" fill="#b01a1a" opacity="0.86"/><circle cx="349.4" cy="815.2" r="0.7" fill="#b01a1a" opacity="0.83"/><circle cx="337.3" cy="727.0" r="1.1" fill="#b01a1a" opacity="0.74"/><circle cx="365.7" cy="813.6" r="0.8" fill="#b01a1a" opacity="0.74"/><circle cx="238.5" cy="732.8" r="0.8" fill="#b01a1a" opacity="0.45"/><circle cx="238.6" cy="748.7" r="1.0" fill="#b01a1a" opacity="0.69"/><circle cx="366.2" cy="761.0" r="1.0" fill="#b01a1a" opacity="0.61"/><circle cx="305.9" cy="815.2" r="0.9" fill="#b01a1a" opacity="0.52"/><circle cx="307.7" cy="813.6" r="0.7" fill="#b01a1a" opacity="0.87"/><circle cx="362.5" cy="758.4" r="0.9" fill="#b01a1a" opacity="0.84"/><circle cx="334.0" cy="723.9" r="1.0" fill="#b01a1a" opacity="0.66"/><circle cx="356.3" cy="753.9" r="1.1" fill="#b01a1a" opacity="0.61"/><circle cx="316.2" cy="704.7" r="1.1" fill="#b01a1a" opacity="0.66"/><circle cx="281.6" cy="694.3" r="0.9" fill="#b01a1a" opacity="0.77"/><circle cx="238.7" cy="745.0" r="1.0" fill="#b01a1a" opacity="0.70"/><circle cx="266.2" cy="811.6" r="0.9" fill="#b01a1a" opacity="0.84"/><circle cx="372.2" cy="814.2" r="1.1" fill="#b01a1a" opacity="0.50"/><circle cx="303.0" cy="703.7" r="0.9" fill="#b01a1a" opacity="0.83"/><circle cx="300.8" cy="706.4" r="1.2" fill="#b01a1a" opacity="0.51"/><circle cx="240.7" cy="771.8" r="0.8" fill="#b01a1a" opacity="0.48"/><circle cx="260.1" cy="691.6" r="1.1" fill="#b01a1a" opacity="0.37"/><circle cx="266.1" cy="689.3" r="1.0" fill="#b01a1a" opacity="0.38"/><circle cx="331.2" cy="730.5" r="0.9" fill="#b01a1a" opacity="0.80"/><circle cx="252.2" cy="793.1" r="1.0" fill="#b01a1a" opacity="0.65"/><circle cx="344.8" cy="732.2" r="1.2" fill="#b01a1a" opacity="0.68"/><circle cx="338.7" cy="719.5" r="0.9" fill="#b01a1a" opacity="0.87"/><circle cx="241.5" cy="727.8" r="0.9" fill="#b01a1a" opacity="0.84"/><circle cx="374.9" cy="809.1" r="0.9" fill="#b01a1a" opacity="0.40"/><circle cx="352.3" cy="816.0" r="0.7" fill="#b01a1a" opacity="0.81"/><circle cx="361.2" cy="814.6" r="1.1" fill="#b01a1a" opacity="0.83"/><circle cx="355.8" cy="741.9" r="0.9" fill="#b01a1a" opacity="0.81"/><circle cx="374.8" cy="766.4" r="1.1" fill="#b01a1a" opacity="0.82"/><circle cx="272.0" cy="805.2" r="1.2" fill="#b01a1a" opacity="0.68"/><circle cx="371.4" cy="813.6" r="1.1" fill="#b01a1a" opacity="0.43"/><circle cx="384.1" cy="797.8" r="0.6" fill="#b01a1a" opacity="0.71"/><circle cx="333.8" cy="722.8" r="1.0" fill="#b01a1a" opacity="0.61"/><circle cx="248.2" cy="761.8" r="0.6" fill="#b01a1a" opacity="0.55"/><circle cx="281.4" cy="807.8" r="0.6" fill="#b01a1a" opacity="0.75"/><circle cx="256.9" cy="808.1" r="1.2" fill="#b01a1a" opacity="0.90"/><circle cx="303.9" cy="702.0" r="1.2" fill="#b01a1a" opacity="0.63"/><circle cx="358.1" cy="814.7" r="0.6" fill="#b01a1a" opacity="0.39"/><circle cx="366.1" cy="817.6" r="0.8" fill="#b01a1a" opacity="0.79"/><circle cx="266.7" cy="795.8" r="1.0" fill="#b01a1a" opacity="0.55"/><circle cx="349.1" cy="746.6" r="0.9" fill="#b01a1a" opacity="0.72"/><circle cx="243.9" cy="735.9" r="0.7" fill="#b01a1a" opacity="0.86"/><circle cx="280.4" cy="810.3" r="0.9" fill="#b01a1a" opacity="0.57"/><circle cx="362.1" cy="755.1" r="1.1" fill="#b01a1a" opacity="0.43"/><circle cx="248.6" cy="715.9" r="1.0" fill="#b01a1a" opacity="0.75"/><circle cx="369.9" cy="766.8" r="1.0" fill="#b01a1a" opacity="0.55"/><circle cx="246.6" cy="711.0" r="1.1" fill="#b01a1a" opacity="0.87"/><circle cx="256.0" cy="703.1" r="0.7" fill="#b01a1a" opacity="0.52"/><circle cx="306.8" cy="694.9" r="0.6" fill="#b01a1a" opacity="0.70"/><circle cx="253.3" cy="712.9" r="0.9" fill="#b01a1a" opacity="0.62"/><circle cx="300.1" cy="704.0" r="0.6" fill="#b01a1a" opacity="0.79"/><circle cx="380.4" cy="788.5" r="0.6" fill="#b01a1a" opacity="0.38"/><circle cx="355.7" cy="736.6" r="0.9" fill="#b01a1a" opacity="0.40"/><circle cx="307.6" cy="699.6" r="1.0" fill="#b01a1a" opacity="0.43"/><circle cx="355.7" cy="759.7" r="1.1" fill="#b01a1a" opacity="0.79"/><circle cx="369.5" cy="766.0" r="1.1" fill="#b01a1a" opacity="0.66"/><circle cx="319.6" cy="815.7" r="1.1" fill="#b01a1a" opacity="0.82"/><circle cx="244.2" cy="747.5" r="1.1" fill="#b01a1a" opacity="0.85"/><circle cx="283.4" cy="695.9" r="0.8" fill="#b01a1a" opacity="0.81"/><circle cx="286.4" cy="700.8" r="0.6" fill="#b01a1a" opacity="0.38"/><circle cx="247.4" cy="713.4" r="1.0" fill="#b01a1a" opacity="0.72"/><circle cx="363.3" cy="811.5" r="1.2" fill="#b01a1a" opacity="0.80"/><circle cx="309.4" cy="820.5" r="0.9" fill="#b01a1a" opacity="0.68"/><circle cx="336.9" cy="819.3" r="0.6" fill="#b01a1a" opacity="0.67"/><circle cx="367.7" cy="807.6" r="0.8" fill="#b01a1a" opacity="0.75"/><circle cx="375.2" cy="785.5" r="1.1" fill="#b01a1a" opacity="0.54"/><circle cx="263.6" cy="696.1" r="1.0" fill="#b01a1a" opacity="0.69"/><circle cx="245.8" cy="751.6" r="1.0" fill="#b01a1a" opacity="0.67"/><circle cx="247.5" cy="709.2" r="0.8" fill="#b01a1a" opacity="0.80"/><circle cx="310.5" cy="809.9" r="1.2" fill="#b01a1a" opacity="0.67"/><circle cx="254.9" cy="698.5" r="1.2" fill="#b01a1a" opacity="0.83"/><circle cx="333.8" cy="719.2" r="0.8" fill="#b01a1a" opacity="0.49"/><circle cx="370.3" cy="804.6" r="1.1" fill="#b01a1a" opacity="0.78"/><circle cx="248.3" cy="770.6" r="0.8" fill="#b01a1a" opacity="0.46"/><circle cx="260.1" cy="692.0" r="0.9" fill="#b01a1a" opacity="0.51"/><circle cx="368.2" cy="778.2" r="0.6" fill="#b01a1a" opacity="0.59"/><circle cx="317.6" cy="713.5" r="1.0" fill="#b01a1a" opacity="0.55"/><circle cx="331.6" cy="718.8" r="0.8" fill="#b01a1a" opacity="0.43"/><circle cx="325.5" cy="729.9" r="0.8" fill="#b01a1a" opacity="0.75"/><circle cx="246.9" cy="782.1" r="0.6" fill="#b01a1a" opacity="0.67"/><circle cx="251.4" cy="784.6" r="1.0" fill="#b01a1a" opacity="0.83"/><circle cx="367.1" cy="767.4" r="0.8" fill="#b01a1a" opacity="0.80"/><circle cx="366.9" cy="818.1" r="1.2" fill="#b01a1a" opacity="0.63"/><circle cx="348.0" cy="808.2" r="1.2" fill="#b01a1a" opacity="0.75"/><circle cx="370.0" cy="810.7" r="0.9" fill="#b01a1a" opacity="0.38"/><circle cx="265.5" cy="795.0" r="0.9" fill="#b01a1a" opacity="0.65"/><circle cx="380.9" cy="800.3" r="0.9" fill="#b01a1a" opacity="0.39"/><circle cx="262.3" cy="706.6" r="1.0" fill="#b01a1a" opacity="0.85"/><circle cx="357.0" cy="815.7" r="0.6" fill="#b01a1a" opacity="0.71"/><circle cx="254.5" cy="774.7" r="1.1" fill="#b01a1a" opacity="0.70"/><circle cx="360.4" cy="758.2" r="0.6" fill="#b01a1a" opacity="0.46"/><circle cx="361.3" cy="811.5" r="0.9" fill="#b01a1a" opacity="0.60"/><circle cx="338.7" cy="733.8" r="1.0" fill="#b01a1a" opacity="0.42"/><circle cx="355.7" cy="809.3" r="0.9" fill="#b01a1a" opacity="0.89"/><circle cx="243.0" cy="739.6" r="0.7" fill="#b01a1a" opacity="0.74"/><circle cx="292.2" cy="699.8" r="0.7" fill="#b01a1a" opacity="0.53"/><circle cx="380.1" cy="782.8" r="1.2" fill="#b01a1a" opacity="0.76"/><circle cx="359.4" cy="752.2" r="1.0" fill="#b01a1a" opacity="0.53"/><circle cx="347.6" cy="807.9" r="0.6" fill="#b01a1a" opacity="0.42"/><circle cx="238.1" cy="745.0" r="0.8" fill="#b01a1a" opacity="0.57"/><circle cx="265.8" cy="799.9" r="1.2" fill="#b01a1a" opacity="0.56"/><circle cx="325.3" cy="723.0" r="1.0" fill="#b01a1a" opacity="0.67"/><circle cx="236.6" cy="747.1" r="0.9" fill="#b01a1a" opacity="0.66"/><circle cx="243.0" cy="730.4" r="0.7" fill="#b01a1a" opacity="0.86"/><circle cx="377.1" cy="788.8" r="1.0" fill="#b01a1a" opacity="0.80"/><circle cx="250.3" cy="716.4" r="0.8" fill="#b01a1a" opacity="0.83"/><circle cx="376.0" cy="783.3" r="0.8" fill="#b01a1a" opacity="0.85"/><circle cx="328.2" cy="723.6" r="1.0" fill="#b01a1a" opacity="0.52"/><circle cx="264.1" cy="695.2" r="0.7" fill="#b01a1a" opacity="0.80"/><circle cx="310.0" cy="811.4" r="0.7" fill="#b01a1a" opacity="0.80"/><circle cx="247.5" cy="775.6" r="0.6" fill="#b01a1a" opacity="0.64"/><circle cx="354.1" cy="753.5" r="0.9" fill="#b01a1a" opacity="0.73"/><circle cx="247.6" cy="785.6" r="0.7" fill="#b01a1a" opacity="0.55"/><circle cx="349.6" cy="748.0" r="0.7" fill="#b01a1a" opacity="0.87"/><circle cx="258.6" cy="798.6" r="0.6" fill="#b01a1a" opacity="0.87"/><circle cx="245.2" cy="755.6" r="0.6" fill="#b01a1a" opacity="0.57"/><circle cx="253.9" cy="759.7" r="1.1" fill="#b01a1a" opacity="0.81"/><circle cx="316.2" cy="708.9" r="1.1" fill="#b01a1a" opacity="0.53"/><circle cx="237.8" cy="745.9" r="1.0" fill="#b01a1a" opacity="0.50"/><circle cx="315.4" cy="706.8" r="0.7" fill="#b01a1a" opacity="0.85"/><circle cx="289.1" cy="694.6" r="1.2" fill="#b01a1a" opacity="0.69"/><circle cx="301.0" cy="697.5" r="0.6" fill="#b01a1a" opacity="0.58"/><circle cx="351.2" cy="731.0" r="1.0" fill="#b01a1a" opacity="0.42"/><circle cx="379.4" cy="816.4" r="0.7" fill="#b01a1a" opacity="0.47"/><circle cx="389.2" cy="810.9" r="1.0" fill="#b01a1a" opacity="0.54"/><circle cx="346.3" cy="815.2" r="1.1" fill="#b01a1a" opacity="0.89"/><circle cx="252.5" cy="712.4" r="0.7" fill="#b01a1a" opacity="0.65"/><circle cx="356.6" cy="818.6" r="0.9" fill="#b01a1a" opacity="0.53"/><circle cx="253.6" cy="793.8" r="0.6" fill="#b01a1a" opacity="0.76"/><circle cx="253.7" cy="796.8" r="0.7" fill="#b01a1a" opacity="0.55"/><circle cx="250.9" cy="781.9" r="1.0" fill="#b01a1a" opacity="0.53"/><circle cx="260.5" cy="798.5" r="1.2" fill="#b01a1a" opacity="0.40"/><circle cx="243.4" cy="710.6" r="0.6" fill="#b01a1a" opacity="0.42"/><circle cx="382.1" cy="803.0" r="0.9" fill="#b01a1a" opacity="0.90"/><circle cx="340.6" cy="725.5" r="1.2" fill="#b01a1a" opacity="0.51"/><circle cx="373.3" cy="815.1" r="0.7" fill="#b01a1a" opacity="0.35"/><circle cx="365.1" cy="774.1" r="0.9" fill="#b01a1a" opacity="0.45"/><circle cx="381.7" cy="800.5" r="0.9" fill="#b01a1a" opacity="0.45"/><circle cx="327.5" cy="818.8" r="0.8" fill="#b01a1a" opacity="0.75"/><circle cx="269.6" cy="797.2" r="1.2" fill="#b01a1a" opacity="0.74"/><circle cx="350.6" cy="818.2" r="0.6" fill="#b01a1a" opacity="0.69"/><circle cx="386.7" cy="800.9" r="1.0" fill="#b01a1a" opacity="0.36"/><circle cx="379.7" cy="804.7" r="1.1" fill="#b01a1a" opacity="0.60"/><circle cx="247.9" cy="771.0" r="0.7" fill="#b01a1a" opacity="0.80"/><circle cx="365.4" cy="816.5" r="1.1" fill="#b01a1a" opacity="0.50"/><circle cx="375.6" cy="808.3" r="0.9" fill="#b01a1a" opacity="0.51"/><circle cx="335.1" cy="715.3" r="0.8" fill="#b01a1a" opacity="0.77"/><circle cx="292.0" cy="815.2" r="0.7" fill="#b01a1a" opacity="0.78"/><circle cx="258.5" cy="695.8" r="0.8" fill="#b01a1a" opacity="0.59"/><circle cx="293.3" cy="694.4" r="0.9" fill="#b01a1a" opacity="0.77"/><circle cx="354.9" cy="743.4" r="1.1" fill="#b01a1a" opacity="0.82"/><circle cx="303.1" cy="818.1" r="1.1" fill="#b01a1a" opacity="0.48"/><circle cx="313.4" cy="813.4" r="1.2" fill="#b01a1a" opacity="0.77"/><circle cx="305.5" cy="815.0" r="1.2" fill="#b01a1a" opacity="0.66"/><circle cx="358.0" cy="745.3" r="1.1" fill="#b01a1a" opacity="0.55"/><circle cx="351.8" cy="750.8" r="0.8" fill="#b01a1a" opacity="0.52"/><circle cx="303.9" cy="807.1" r="0.9" fill="#b01a1a" opacity="0.52"/><circle cx="255.8" cy="705.0" r="0.7" fill="#b01a1a" opacity="0.70"/><circle cx="344.9" cy="747.2" r="0.7" fill="#b01a1a" opacity="0.43"/><circle cx="364.5" cy="809.9" r="0.6" fill="#b01a1a" opacity="0.36"/><circle cx="334.2" cy="811.5" r="0.6" fill="#b01a1a" opacity="0.60"/><circle cx="336.1" cy="714.9" r="0.8" fill="#b01a1a" opacity="0.47"/><circle cx="372.4" cy="805.5" r="1.2" fill="#b01a1a" opacity="0.51"/><circle cx="244.8" cy="716.0" r="0.8" fill="#b01a1a" opacity="0.66"/><circle cx="343.6" cy="736.6" r="0.7" fill="#b01a1a" opacity="0.50"/><circle cx="376.6" cy="815.5" r="1.1" fill="#b01a1a" opacity="0.73"/><circle cx="280.0" cy="810.1" r="0.7" fill="#b01a1a" opacity="0.65"/><circle cx="241.9" cy="757.9" r="1.0" fill="#b01a1a" opacity="0.46"/><circle cx="257.1" cy="796.3" r="0.8" fill="#b01a1a" opacity="0.57"/><circle cx="270.1" cy="689.1" r="1.2" fill="#b01a1a" opacity="0.82"/><circle cx="342.8" cy="814.9" r="1.2" fill="#b01a1a" opacity="0.70"/><circle cx="343.8" cy="818.9" r="0.7" fill="#b01a1a" opacity="0.38"/><circle cx="243.7" cy="763.6" r="1.1" fill="#b01a1a" opacity="0.85"/><circle cx="356.8" cy="748.0" r="0.9" fill="#b01a1a" opacity="0.82"/><circle cx="324.1" cy="719.3" r="1.2" fill="#b01a1a" opacity="0.45"/><circle cx="340.5" cy="729.1" r="0.8" fill="#b01a1a" opacity="0.85"/><circle cx="241.0" cy="753.3" r="0.6" fill="#b01a1a" opacity="0.62"/><circle cx="234.3" cy="765.1" r="0.7" fill="#b01a1a" opacity="0.51"/><circle cx="355.5" cy="751.9" r="0.7" fill="#b01a1a" opacity="0.66"/><circle cx="244.0" cy="736.0" r="1.0" fill="#b01a1a" opacity="0.56"/><circle cx="299.2" cy="817.5" r="1.2" fill="#b01a1a" opacity="0.78"/><circle cx="383.3" cy="806.9" r="0.7" fill="#b01a1a" opacity="0.39"/><circle cx="380.2" cy="810.3" r="0.7" fill="#b01a1a" opacity="0.89"/><circle cx="237.8" cy="736.6" r="0.8" fill="#b01a1a" opacity="0.45"/><circle cx="305.1" cy="710.0" r="1.0" fill="#b01a1a" opacity="0.48"/><circle cx="286.8" cy="699.9" r="0.8" fill="#b01a1a" opacity="0.39"/><circle cx="250.5" cy="780.7" r="0.7" fill="#b01a1a" opacity="0.37"/><circle cx="368.8" cy="814.5" r="1.0" fill="#b01a1a" opacity="0.35"/><circle cx="380.9" cy="806.3" r="1.2" fill="#b01a1a" opacity="0.66"/><circle cx="373.5" cy="812.4" r="0.6" fill="#b01a1a" opacity="0.39"/><circle cx="380.2" cy="811.5" r="1.1" fill="#b01a1a" opacity="0.46"/><circle cx="260.4" cy="701.3" r="0.6" fill="#b01a1a" opacity="0.48"/><circle cx="251.4" cy="792.1" r="0.8" fill="#b01a1a" opacity="0.38"/><circle cx="234.3" cy="760.9" r="0.9" fill="#b01a1a" opacity="0.78"/><circle cx="257.4" cy="794.6" r="1.2" fill="#b01a1a" opacity="0.59"/><circle cx="246.4" cy="784.2" r="1.1" fill="#b01a1a" opacity="0.55"/><circle cx="280.3" cy="690.6" r="0.8" fill="#b01a1a" opacity="0.80"/><circle cx="251.0" cy="793.7" r="0.8" fill="#b01a1a" opacity="0.77"/><circle cx="389.7" cy="817.1" r="0.7" fill="#b01a1a" opacity="0.78"/><circle cx="335.1" cy="726.5" r="0.8" fill="#b01a1a" opacity="0.69"/><circle cx="383.0" cy="801.1" r="0.8" fill="#b01a1a" opacity="0.55"/><circle cx="357.5" cy="749.2" r="0.8" fill="#b01a1a" opacity="0.89"/><circle cx="372.1" cy="806.0" r="1.1" fill="#b01a1a" opacity="0.83"/><circle cx="239.0" cy="729.3" r="0.8" fill="#b01a1a" opacity="0.43"/><circle cx="335.5" cy="814.9" r="0.7" fill="#b01a1a" opacity="0.50"/><circle cx="358.8" cy="814.2" r="1.0" fill="#b01a1a" opacity="0.57"/><circle cx="369.8" cy="759.4" r="0.9" fill="#b01a1a" opacity="0.85"/><circle cx="297.1" cy="809.4" r="0.7" fill="#b01a1a" opacity="0.44"/><circle cx="339.2" cy="817.0" r="0.9" fill="#b01a1a" opacity="0.56"/><circle cx="239.0" cy="724.3" r="0.6" fill="#b01a1a" opacity="0.41"/><circle cx="266.1" cy="810.2" r="0.8" fill="#b01a1a" opacity="0.42"/><circle cx="271.3" cy="694.3" r="0.6" fill="#b01a1a" opacity="0.67"/><circle cx="323.0" cy="814.2" r="0.6" fill="#b01a1a" opacity="0.37"/><circle cx="240.1" cy="773.1" r="1.0" fill="#b01a1a" opacity="0.87"/><circle cx="383.6" cy="809.4" r="0.7" fill="#b01a1a" opacity="0.38"/><circle cx="330.1" cy="731.4" r="0.6" fill="#b01a1a" opacity="0.56"/><circle cx="330.4" cy="812.1" r="1.2" fill="#b01a1a" opacity="0.76"/><circle cx="351.4" cy="733.3" r="0.8" fill="#b01a1a" opacity="0.87"/><circle cx="384.8" cy="807.3" r="1.2" fill="#b01a1a" opacity="0.84"/><circle cx="326.0" cy="815.7" r="1.0" fill="#b01a1a" opacity="0.73"/><circle cx="378.3" cy="802.3" r="0.7" fill="#b01a1a" opacity="0.80"/><circle cx="240.3" cy="745.9" r="0.8" fill="#b01a1a" opacity="0.75"/><circle cx="355.7" cy="754.1" r="1.0" fill="#b01a1a" opacity="0.81"/><circle cx="239.5" cy="751.9" r="1.1" fill="#b01a1a" opacity="0.39"/><circle cx="378.2" cy="783.1" r="1.2" fill="#b01a1a" opacity="0.79"/><circle cx="261.2" cy="803.4" r="1.1" fill="#b01a1a" opacity="0.85"/><circle cx="232.9" cy="731.3" r="0.7" fill="#b01a1a" opacity="0.71"/><circle cx="234.8" cy="746.9" r="1.0" fill="#b01a1a" opacity="0.70"/><circle cx="305.5" cy="709.0" r="0.7" fill="#b01a1a" opacity="0.56"/><circle cx="377.5" cy="804.3" r="0.7" fill="#b01a1a" opacity="0.89"/><circle cx="346.6" cy="734.6" r="0.9" fill="#b01a1a" opacity="0.75"/><circle cx="369.0" cy="809.5" r="1.2" fill="#b01a1a" opacity="0.82"/><circle cx="368.6" cy="817.6" r="0.7" fill="#b01a1a" opacity="0.37"/><circle cx="336.5" cy="721.6" r="0.8" fill="#b01a1a" opacity="0.70"/><circle cx="373.9" cy="780.1" r="0.9" fill="#b01a1a" opacity="0.45"/><circle cx="330.1" cy="815.5" r="1.0" fill="#b01a1a" opacity="0.48"/><circle cx="291.8" cy="702.1" r="0.6" fill="#b01a1a" opacity="0.75"/><circle cx="387.9" cy="800.2" r="1.0" fill="#b01a1a" opacity="0.80"/><circle cx="314.7" cy="711.8" r="0.8" fill="#b01a1a" opacity="0.65"/><circle cx="382.9" cy="787.2" r="1.1" fill="#b01a1a" opacity="0.49"/><circle cx="378.8" cy="810.7" r="0.6" fill="#b01a1a" opacity="0.61"/><circle cx="250.5" cy="703.7" r="1.0" fill="#b01a1a" opacity="0.36"/><circle cx="236.9" cy="742.6" r="0.6" fill="#b01a1a" opacity="0.52"/><circle cx="271.7" cy="808.7" r="1.2" fill="#b01a1a" opacity="0.83"/><circle cx="344.9" cy="816.3" r="1.2" fill="#b01a1a" opacity="0.43"/><circle cx="335.1" cy="822.2" r="1.0" fill="#b01a1a" opacity="0.42"/><circle cx="244.7" cy="783.6" r="1.1" fill="#b01a1a" opacity="0.36"/><circle cx="256.4" cy="797.8" r="1.0" fill="#b01a1a" opacity="0.78"/><circle cx="245.5" cy="766.0" r="0.8" fill="#b01a1a" opacity="0.88"/><circle cx="340.7" cy="815.9" r="1.0" fill="#b01a1a" opacity="0.37"/><circle cx="353.4" cy="813.7" r="0.6" fill="#b01a1a" opacity="0.40"/><circle cx="259.9" cy="700.1" r="0.7" fill="#b01a1a" opacity="0.50"/><circle cx="379.7" cy="804.9" r="0.8" fill="#b01a1a" opacity="0.47"/><circle cx="377.7" cy="788.5" r="0.8" fill="#b01a1a" opacity="0.74"/><circle cx="365.3" cy="766.7" r="1.0" fill="#b01a1a" opacity="0.43"/><circle cx="271.7" cy="698.7" r="1.2" fill="#b01a1a" opacity="0.54"/><circle cx="350.6" cy="739.8" r="0.7" fill="#b01a1a" opacity="0.47"/><circle cx="252.6" cy="786.3" r="0.6" fill="#b01a1a" opacity="0.64"/><circle cx="374.7" cy="803.4" r="0.8" fill="#b01a1a" opacity="0.46"/><circle cx="296.0" cy="704.7" r="0.8" fill="#b01a1a" opacity="0.73"/><circle cx="377.8" cy="810.1" r="0.7" fill="#b01a1a" opacity="0.78"/><circle cx="255.1" cy="696.1" r="0.7" fill="#b01a1a" opacity="0.40"/><circle cx="306.7" cy="815.6" r="1.2" fill="#b01a1a" opacity="0.84"/><circle cx="254.2" cy="792.4" r="0.7" fill="#b01a1a" opacity="0.36"/><circle cx="382.1" cy="801.0" r="0.6" fill="#b01a1a" opacity="0.67"/><circle cx="250.0" cy="781.2" r="1.1" fill="#b01a1a" opacity="0.46"/><circle cx="235.0" cy="765.1" r="1.1" fill="#b01a1a" opacity="0.70"/><circle cx="356.2" cy="761.1" r="0.9" fill="#b01a1a" opacity="0.45"/><circle cx="250.9" cy="789.3" r="0.7" fill="#b01a1a" opacity="0.48"/><circle cx="377.3" cy="799.5" r="1.1" fill="#b01a1a" opacity="0.36"/><circle cx="319.8" cy="711.0" r="0.6" fill="#b01a1a" opacity="0.42"/><circle cx="265.4" cy="703.9" r="0.6" fill="#b01a1a" opacity="0.35"/><circle cx="321.9" cy="706.7" r="0.6" fill="#b01a1a" opacity="0.69"/><circle cx="334.1" cy="722.7" r="0.6" fill="#b01a1a" opacity="0.44"/><circle cx="359.2" cy="764.0" r="0.7" fill="#b01a1a" opacity="0.43"/><circle cx="281.0" cy="691.2" r="0.8" fill="#b01a1a" opacity="0.71"/><circle cx="351.9" cy="806.2" r="1.0" fill="#b01a1a" opacity="0.83"/><circle cx="234.2" cy="746.6" r="1.1" fill="#b01a1a" opacity="0.36"/><circle cx="249.8" cy="699.5" r="0.7" fill="#b01a1a" opacity="0.80"/><circle cx="316.7" cy="808.6" r="0.7" fill="#b01a1a" opacity="0.87"/><circle cx="325.4" cy="818.3" r="0.8" fill="#b01a1a" opacity="0.67"/><circle cx="307.0" cy="808.1" r="0.7" fill="#b01a1a" opacity="0.84"/><circle cx="341.8" cy="721.3" r="0.8" fill="#b01a1a" opacity="0.48"/><circle cx="241.6" cy="771.1" r="1.2" fill="#b01a1a" opacity="0.61"/><circle cx="250.3" cy="789.4" r="0.7" fill="#b01a1a" opacity="0.58"/><circle cx="295.0" cy="813.4" r="0.8" fill="#b01a1a" opacity="0.72"/><circle cx="307.3" cy="812.9" r="0.9" fill="#b01a1a" opacity="0.75"/><circle cx="319.7" cy="815.5" r="1.0" fill="#b01a1a" opacity="0.78"/><circle cx="376.9" cy="809.2" r="0.8" fill="#b01a1a" opacity="0.72"/><circle cx="243.7" cy="754.7" r="0.8" fill="#b01a1a" opacity="0.76"/><circle cx="349.9" cy="736.1" r="0.7" fill="#b01a1a" opacity="0.54"/><circle cx="326.5" cy="810.5" r="1.0" fill="#b01a1a" opacity="0.41"/><circle cx="257.6" cy="783.5" r="1.0" fill="#b01a1a" opacity="0.69"/><circle cx="254.5" cy="700.0" r="1.0" fill="#b01a1a" opacity="0.72"/><circle cx="247.7" cy="764.2" r="0.8" fill="#b01a1a" opacity="0.44"/><circle cx="242.5" cy="735.0" r="0.6" fill="#b01a1a" opacity="0.38"/><circle cx="276.7" cy="807.4" r="0.9" fill="#b01a1a" opacity="0.55"/><circle cx="310.8" cy="710.2" r="1.1" fill="#b01a1a" opacity="0.56"/><circle cx="243.9" cy="717.2" r="0.8" fill="#b01a1a" opacity="0.42"/><circle cx="332.7" cy="816.4" r="0.7" fill="#b01a1a" opacity="0.55"/><circle cx="276.3" cy="806.9" r="0.6" fill="#b01a1a" opacity="0.49"/><circle cx="248.8" cy="787.6" r="0.7" fill="#b01a1a" opacity="0.50"/><circle cx="376.4" cy="808.4" r="1.1" fill="#b01a1a" opacity="0.82"/><circle cx="331.5" cy="724.9" r="0.9" fill="#b01a1a" opacity="0.69"/><circle cx="249.8" cy="782.4" r="0.8" fill="#b01a1a" opacity="0.44"/><circle cx="238.4" cy="754.1" r="0.9" fill="#b01a1a" opacity="0.36"/><circle cx="349.2" cy="820.0" r="1.0" fill="#b01a1a" opacity="0.46"/><circle cx="260.3" cy="694.3" r="0.6" fill="#b01a1a" opacity="0.68"/><circle cx="252.8" cy="785.1" r="0.7" fill="#b01a1a" opacity="0.85"/><circle cx="366.2" cy="761.6" r="0.6" fill="#b01a1a" opacity="0.79"/><circle cx="367.4" cy="777.7" r="1.1" fill="#b01a1a" opacity="0.89"/><circle cx="317.2" cy="718.1" r="1.1" fill="#b01a1a" opacity="0.73"/><circle cx="256.7" cy="704.7" r="0.8" fill="#b01a1a" opacity="0.88"/><circle cx="328.8" cy="823.0" r="0.7" fill="#b01a1a" opacity="0.48"/><circle cx="250.5" cy="711.7" r="1.1" fill="#b01a1a" opacity="0.52"/><circle cx="346.9" cy="731.1" r="1.2" fill="#b01a1a" opacity="0.70"/><circle cx="380.9" cy="778.7" r="1.1" fill="#b01a1a" opacity="0.70"/><circle cx="296.4" cy="812.5" r="1.0" fill="#b01a1a" opacity="0.72"/><circle cx="366.7" cy="766.2" r="0.8" fill="#b01a1a" opacity="0.48"/><circle cx="382.5" cy="825.8" r="1.1" fill="#b01a1a" opacity="0.56"/><circle cx="298.2" cy="814.1" r="1.1" fill="#b01a1a" opacity="0.90"/><circle cx="344.2" cy="736.5" r="1.2" fill="#b01a1a" opacity="0.53"/><circle cx="267.9" cy="798.1" r="1.2" fill="#b01a1a" opacity="0.50"/><circle cx="378.6" cy="805.1" r="1.2" fill="#b01a1a" opacity="0.68"/><circle cx="332.3" cy="808.9" r="1.1" fill="#b01a1a" opacity="0.89"/><circle cx="370.3" cy="772.0" r="1.0" fill="#b01a1a" opacity="0.89"/><circle cx="312.1" cy="704.5" r="0.9" fill="#b01a1a" opacity="0.68"/><circle cx="249.2" cy="706.3" r="1.0" fill="#b01a1a" opacity="0.66"/><circle cx="266.3" cy="807.4" r="0.8" fill="#b01a1a" opacity="0.46"/><circle cx="338.8" cy="814.2" r="1.2" fill="#b01a1a" opacity="0.41"/><circle cx="382.2" cy="817.3" r="1.1" fill="#b01a1a" opacity="0.72"/><circle cx="375.5" cy="812.5" r="0.8" fill="#b01a1a" opacity="0.41"/><circle cx="383.0" cy="801.1" r="0.6" fill="#b01a1a" opacity="0.75"/><circle cx="378.8" cy="804.1" r="0.7" fill="#b01a1a" opacity="0.59"/><circle cx="343.0" cy="826.4" r="0.8" fill="#b01a1a" opacity="0.47"/><circle cx="274.3" cy="801.0" r="0.6" fill="#b01a1a" opacity="0.57"/><circle cx="321.1" cy="821.0" r="0.7" fill="#b01a1a" opacity="0.86"/><circle cx="374.8" cy="767.0" r="1.2" fill="#b01a1a" opacity="0.55"/><circle cx="325.7" cy="717.8" r="0.9" fill="#b01a1a" opacity="0.77"/><circle cx="380.9" cy="796.3" r="0.8" fill="#b01a1a" opacity="0.70"/><circle cx="372.9" cy="809.9" r="1.0" fill="#b01a1a" opacity="0.75"/><circle cx="237.6" cy="753.6" r="0.6" fill="#b01a1a" opacity="0.44"/><circle cx="269.1" cy="800.2" r="0.6" fill="#b01a1a" opacity="0.43"/><circle cx="375.3" cy="807.2" r="0.9" fill="#b01a1a" opacity="0.78"/><circle cx="245.2" cy="714.1" r="0.8" fill="#b01a1a" opacity="0.43"/><circle cx="250.1" cy="702.0" r="1.1" fill="#b01a1a" opacity="0.56"/><circle cx="264.8" cy="804.5" r="0.7" fill="#b01a1a" opacity="0.63"/><circle cx="261.6" cy="694.2" r="0.6" fill="#b01a1a" opacity="0.82"/><circle cx="363.6" cy="756.0" r="0.6" fill="#b01a1a" opacity="0.64"/><circle cx="279.2" cy="701.5" r="0.6" fill="#b01a1a" opacity="0.67"/><circle cx="256.7" cy="799.7" r="1.1" fill="#b01a1a" opacity="0.38"/><circle cx="286.2" cy="814.8" r="0.9" fill="#b01a1a" opacity="0.79"/><circle cx="281.3" cy="690.1" r="1.0" fill="#b01a1a" opacity="0.57"/><circle cx="323.2" cy="809.7" r="1.2" fill="#b01a1a" opacity="0.79"/><circle cx="245.9" cy="706.0" r="1.1" fill="#b01a1a" opacity="0.68"/><circle cx="236.2" cy="756.2" r="0.7" fill="#b01a1a" opacity="0.65"/><circle cx="284.2" cy="695.6" r="0.7" fill="#b01a1a" opacity="0.40"/><circle cx="240.4" cy="747.2" r="0.6" fill="#b01a1a" opacity="0.66"/><circle cx="243.5" cy="768.4" r="1.0" fill="#b01a1a" opacity="0.79"/><circle cx="285.0" cy="694.3" r="1.1" fill="#b01a1a" opacity="0.41"/><circle cx="381.0" cy="807.5" r="0.8" fill="#b01a1a" opacity="0.67"/><circle cx="230.1" cy="751.0" r="0.6" fill="#b01a1a" opacity="0.81"/><circle cx="330.7" cy="819.2" r="0.7" fill="#b01a1a" opacity="0.73"/><circle cx="349.5" cy="738.4" r="1.0" fill="#b01a1a" opacity="0.39"/><circle cx="338.3" cy="820.6" r="1.2" fill="#b01a1a" opacity="0.54"/><circle cx="334.4" cy="731.0" r="0.6" fill="#b01a1a" opacity="0.39"/><circle cx="382.6" cy="791.7" r="0.9" fill="#b01a1a" opacity="0.58"/><circle cx="314.5" cy="710.4" r="1.0" fill="#b01a1a" opacity="0.52"/><circle cx="299.1" cy="709.3" r="0.6" fill="#b01a1a" opacity="0.85"/><circle cx="263.0" cy="689.1" r="1.0" fill="#b01a1a" opacity="0.52"/><circle cx="264.0" cy="809.2" r="1.0" fill="#b01a1a" opacity="0.76"/><circle cx="287.0" cy="700.3" r="0.7" fill="#b01a1a" opacity="0.73"/><circle cx="236.6" cy="779.1" r="0.6" fill="#b01a1a" opacity="0.86"/><circle cx="380.1" cy="791.7" r="1.1" fill="#b01a1a" opacity="0.60"/><circle cx="248.0" cy="775.7" r="0.8" fill="#b01a1a" opacity="0.75"/><circle cx="247.7" cy="712.7" r="0.7" fill="#b01a1a" opacity="0.67"/><circle cx="251.5" cy="716.0" r="0.7" fill="#b01a1a" opacity="0.47"/><circle cx="244.6" cy="741.1" r="0.8" fill="#b01a1a" opacity="0.66"/><circle cx="254.9" cy="795.8" r="1.1" fill="#b01a1a" opacity="0.48"/><circle cx="305.8" cy="806.2" r="1.2" fill="#b01a1a" opacity="0.49"/><circle cx="375.6" cy="810.9" r="1.2" fill="#b01a1a" opacity="0.68"/><circle cx="295.6" cy="703.2" r="0.7" fill="#b01a1a" opacity="0.70"/><circle cx="366.3" cy="772.5" r="1.1" fill="#b01a1a" opacity="0.78"/><circle cx="340.8" cy="731.4" r="1.1" fill="#b01a1a" opacity="0.55"/><circle cx="232.3" cy="761.2" r="0.8" fill="#b01a1a" opacity="0.50"/><circle cx="362.0" cy="754.1" r="1.2" fill="#b01a1a" opacity="0.41"/><circle cx="259.3" cy="702.7" r="0.8" fill="#b01a1a" opacity="0.64"/><circle cx="265.4" cy="798.3" r="1.2" fill="#b01a1a" opacity="0.84"/><circle cx="311.8" cy="709.6" r="1.0" fill="#b01a1a" opacity="0.72"/><circle cx="241.7" cy="760.5" r="0.8" fill="#b01a1a" opacity="0.85"/><circle cx="237.5" cy="715.6" r="1.0" fill="#b01a1a" opacity="0.54"/><circle cx="367.6" cy="772.7" r="0.7" fill="#b01a1a" opacity="0.54"/><circle cx="240.4" cy="728.3" r="0.9" fill="#b01a1a" opacity="0.47"/><circle cx="245.8" cy="761.1" r="0.6" fill="#b01a1a" opacity="0.75"/><circle cx="260.4" cy="802.0" r="0.6" fill="#b01a1a" opacity="0.78"/><circle cx="290.1" cy="810.6" r="0.8" fill="#b01a1a" opacity="0.76"/><circle cx="241.5" cy="764.4" r="0.9" fill="#b01a1a" opacity="0.56"/><circle cx="313.1" cy="711.2" r="0.8" fill="#b01a1a" opacity="0.79"/><circle cx="382.8" cy="796.5" r="1.2" fill="#b01a1a" opacity="0.42"/><circle cx="246.3" cy="794.9" r="1.2" fill="#b01a1a" opacity="0.73"/><circle cx="361.6" cy="814.0" r="0.8" fill="#b01a1a" opacity="0.66"/><circle cx="380.6" cy="803.2" r="0.8" fill="#b01a1a" opacity="0.40"/><circle cx="348.2" cy="730.5" r="0.9" fill="#b01a1a" opacity="0.72"/><circle cx="297.2" cy="813.8" r="0.6" fill="#b01a1a" opacity="0.68"/><circle cx="314.3" cy="809.3" r="0.8" fill="#b01a1a" opacity="0.39"/><circle cx="251.9" cy="789.5" r="1.0" fill="#b01a1a" opacity="0.39"/><circle cx="248.5" cy="708.9" r="1.2" fill="#b01a1a" opacity="0.80"/><circle cx="243.4" cy="755.2" r="0.7" fill="#b01a1a" opacity="0.73"/><circle cx="378.3" cy="817.8" r="0.8" fill="#b01a1a" opacity="0.88"/><circle cx="328.5" cy="811.6" r="1.2" fill="#b01a1a" opacity="0.88"/><circle cx="359.0" cy="819.2" r="0.8" fill="#b01a1a" opacity="0.65"/><circle cx="318.5" cy="714.4" r="1.2" fill="#b01a1a" opacity="0.37"/><circle cx="272.2" cy="694.5" r="1.1" fill="#b01a1a" opacity="0.65"/><circle cx="262.8" cy="693.6" r="1.2" fill="#b01a1a" opacity="0.61"/><circle cx="245.6" cy="724.3" r="0.9" fill="#b01a1a" opacity="0.80"/><circle cx="272.6" cy="690.7" r="1.1" fill="#b01a1a" opacity="0.64"/><circle cx="263.1" cy="793.2" r="0.7" fill="#b01a1a" opacity="0.65"/><circle cx="372.9" cy="811.5" r="0.9" fill="#b01a1a" opacity="0.69"/><circle cx="238.7" cy="763.4" r="0.8" fill="#b01a1a" opacity="0.35"/><circle cx="385.8" cy="798.3" r="0.7" fill="#b01a1a" opacity="0.50"/><circle cx="244.1" cy="740.2" r="0.6" fill="#b01a1a" opacity="0.84"/><circle cx="304.6" cy="712.9" r="0.9" fill="#b01a1a" opacity="0.74"/><circle cx="242.1" cy="760.2" r="0.9" fill="#b01a1a" opacity="0.47"/><circle cx="241.7" cy="748.0" r="1.1" fill="#b01a1a" opacity="0.57"/><circle cx="340.6" cy="730.7" r="0.8" fill="#b01a1a" opacity="0.85"/><circle cx="376.4" cy="798.7" r="0.9" fill="#b01a1a" opacity="0.74"/><circle cx="262.7" cy="696.4" r="0.7" fill="#b01a1a" opacity="0.76"/><circle cx="260.6" cy="691.1" r="1.2" fill="#b01a1a" opacity="0.72"/><circle cx="324.2" cy="807.9" r="1.2" fill="#b01a1a" opacity="0.37"/><circle cx="244.7" cy="781.1" r="1.2" fill="#b01a1a" opacity="0.62"/><circle cx="368.6" cy="779.7" r="1.0" fill="#b01a1a" opacity="0.65"/><circle cx="328.6" cy="817.5" r="1.0" fill="#b01a1a" opacity="0.62"/><circle cx="254.8" cy="691.4" r="1.0" fill="#b01a1a" opacity="0.69"/><circle cx="261.0" cy="693.7" r="0.8" fill="#b01a1a" opacity="0.52"/><circle cx="269.2" cy="800.8" r="0.9" fill="#b01a1a" opacity="0.41"/><circle cx="325.1" cy="717.0" r="1.2" fill="#b01a1a" opacity="0.39"/><circle cx="234.0" cy="735.2" r="0.8" fill="#b01a1a" opacity="0.89"/><circle cx="326.1" cy="713.3" r="0.8" fill="#b01a1a" opacity="0.47"/><circle cx="252.1" cy="782.6" r="0.9" fill="#b01a1a" opacity="0.84"/><circle cx="259.6" cy="788.4" r="1.1" fill="#b01a1a" opacity="0.78"/><circle cx="370.4" cy="808.9" r="0.6" fill="#b01a1a" opacity="0.84"/><circle cx="307.6" cy="813.9" r="0.9" fill="#b01a1a" opacity="0.50"/><circle cx="345.9" cy="738.6" r="1.0" fill="#b01a1a" opacity="0.36"/><circle cx="376.1" cy="776.5" r="0.9" fill="#b01a1a" opacity="0.40"/><circle cx="241.1" cy="774.9" r="0.8" fill="#b01a1a" opacity="0.45"/><circle cx="375.1" cy="817.6" r="0.6" fill="#b01a1a" opacity="0.71"/><circle cx="340.3" cy="721.8" r="0.9" fill="#b01a1a" opacity="0.72"/><circle cx="302.4" cy="704.0" r="1.2" fill="#b01a1a" opacity="0.70"/><circle cx="243.8" cy="776.7" r="1.1" fill="#b01a1a" opacity="0.59"/><circle cx="262.6" cy="800.3" r="1.0" fill="#b01a1a" opacity="0.59"/><circle cx="326.5" cy="714.0" r="1.2" fill="#b01a1a" opacity="0.47"/><circle cx="279.7" cy="698.4" r="1.1" fill="#b01a1a" opacity="0.39"/><circle cx="241.0" cy="728.2" r="0.8" fill="#b01a1a" opacity="0.73"/></g><g filter="url(#bl2)"><ellipse cx="294" cy="762" rx="38" ry="28" fill="#16189a" transform="rotate(20 294 762)"/></g><g filter="url(#bl1)" fill="#1e26b8" opacity="0.85"><circle cx="268" cy="748" r="7"/><circle cx="283" cy="740" r="6"/><circle cx="300" cy="752" r="8"/><circle cx="318" cy="745" r="6"/><circle cx="310" cy="770" r="7"/><circle cx="285" cy="770" r="6"/><circle cx="272" cy="765" r="5"/><circle cx="300" cy="785" r="6"/><circle cx="325" cy="760" r="5"/></g><g filter="url(#bl4)" opacity="0.45"><path d="M299 738 L330 771 L318 790 L290 790 L280 770 Z" fill="#1a7a1a"/></g><g filter="url(#bl1)"><path d="M299.0 738.4 L319.1 741.4 M299.0 738.4 L311.1 740.0 M299.0 738.4 L314.9 745.5 M299.0 738.4 L313.3 745.3 M299.0 738.4 L314.2 752.9 M299.0 738.4 L304.0 749.6 M299.0 738.4 L310.2 759.1 M299.0 738.4 L301.4 755.4 M299.0 738.4 L297.8 759.8 M299.0 738.4 L290.8 757.1 M299.0 738.4 L287.1 753.3 M299.0 738.4 L285.3 750.9 M299.0 738.4 L285.1 750.9 M299.0 738.4 L283.5 742.5 M299.0 738.4 L280.1 742.6 M299.0 738.4 L285.7 737.1 M299.0 738.4 L279.0 736.0 M299.0 738.4 L287.1 731.9 M299.0 738.4 L287.7 726.3 M299.0 738.4 L288.8 726.6 M299.0 738.4 L294.8 727.1 M299.0 738.4 L293.8 721.7 M299.0 738.4 L299.2 718.9 M299.0 738.4 L301.9 726.2 M299.0 738.4 L304.7 725.7 M299.0 738.4 L307.6 724.6 M299.0 738.4 L315.5 722.3 M299.0 738.4 L317.8 725.4 M299.0 738.4 L315.8 733.9 M299.0 738.4 L320.9 736.3" stroke="#30b030" stroke-width="0.6" opacity="0.5"/><path d="M328.4 771.0 L344.4 771.7 M328.4 771.0 L358.2 770.5 M328.4 771.0 L345.7 777.9 M328.4 771.0 L344.3 776.7 M328.4 771.0 L346.4 785.2 M328.4 771.0 L346.5 785.1 M328.4 771.0 L340.9 781.7 M328.4 771.0 L338.9 782.3 M328.4 771.0 L336.9 786.6 M328.4 771.0 L334.3 799.5 M328.4 771.0 L329.6 796.1 M328.4 771.0 L326.2 788.0 M328.4 771.0 L325.3 787.1 M328.4 771.0 L317.1 795.1 M328.4 771.0 L318.6 785.7 M328.4 771.0 L318.5 787.0 M328.4 771.0 L314.9 784.7 M328.4 771.0 L310.1 786.0 M328.4 771.0 L315.9 781.7 M328.4 771.0 L308.5 781.9 M328.4 771.0 L311.7 776.7 M328.4 771.0 L313.4 775.3 M328.4 771.0 L312.0 769.4 M328.4 771.0 L302.3 761.9 M328.4 771.0 L313.2 764.7 M328.4 771.0 L307.0 765.1 M328.4 771.0 L306.1 753.6 M328.4 771.0 L313.6 761.9 M328.4 771.0 L314.1 757.9 M328.4 771.0 L317.7 756.7 M328.4 771.0 L321.7 755.2 M328.4 771.0 L319.1 752.9 M328.4 771.0 L323.1 744.3 M328.4 771.0 L326.1 745.0 M328.4 771.0 L333.0 755.8 M328.4 771.0 L334.7 755.5 M328.4 771.0 L332.5 755.2 M328.4 771.0 L339.2 755.7 M328.4 771.0 L347.4 750.2 M328.4 771.0 L348.0 748.6 M328.4 771.0 L342.0 759.6 M328.4 771.0 L351.7 759.3 M328.4 771.0 L343.6 764.6 M328.4 771.0 L345.2 765.6" stroke="#38c038" stroke-width="0.6" opacity="0.6"/><path d="M291.0 784.0 L308.1 783.2 M291.0 784.0 L313.6 785.1 M291.0 784.0 L305.7 791.1 M291.0 784.0 L311.8 794.6 M291.0 784.0 L310.3 800.7 M291.0 784.0 L306.4 803.4 M291.0 784.0 L300.3 797.1 M291.0 784.0 L293.7 798.7 M291.0 784.0 L293.5 798.8 M291.0 784.0 L292.4 799.2 M291.0 784.0 L281.8 804.2 M291.0 784.0 L281.9 796.5 M291.0 784.0 L283.4 796.1 M291.0 784.0 L282.2 795.8 M291.0 784.0 L278.7 794.9 M291.0 784.0 L277.0 791.6 M291.0 784.0 L265.5 786.3 M291.0 784.0 L275.9 782.0 M291.0 784.0 L269.3 775.5 M291.0 784.0 L269.3 775.7 M291.0 784.0 L269.7 773.3 M291.0 784.0 L277.9 770.9 M291.0 784.0 L279.9 763.7 M291.0 784.0 L283.2 760.8 M291.0 784.0 L283.3 761.5 M291.0 784.0 L286.3 767.6 M291.0 784.0 L292.9 764.4 M291.0 784.0 L298.4 761.1 M291.0 784.0 L298.4 766.9 M291.0 784.0 L302.6 764.4 M291.0 784.0 L303.9 769.3 M291.0 784.0 L304.2 778.2 M291.0 784.0 L307.7 774.4 M291.0 784.0 L307.2 777.4" stroke="#30a830" stroke-width="0.6" opacity="0.55"/></g><g filter="url(#bl2)"><circle cx="328.4" cy="771" r="6" fill="#50ff50" opacity="0.6"/><circle cx="299" cy="738.4" r="4" fill="#50ff50" opacity="0.4"/></g><circle cx="299" cy="738.4" r="2" fill="#c08020"/><circle cx="328.4" cy="771" r="2.8" fill="#ff7a10"/><path transform="translate(334.9 779.2) rotate(-138.0) scale(0.95)" d="M0 0 L-9 -7 L-8 -2.5 L-20 -2.5 L-20 2.5 L-8 2.5 L-9 7 Z" fill="#fff"/></g>
<g clip-path="url(#cp3)"><circle cx="561.1" cy="816.2" r="0.9" fill="#e0e0e0" opacity="0.79"/><circle cx="467.1" cy="807.7" r="1.1" fill="#e0e0e0" opacity="0.67"/><circle cx="569.3" cy="778.2" r="0.7" fill="#e0e0e0" opacity="0.49"/><circle cx="452.5" cy="804.6" r="0.9" fill="#e0e0e0" opacity="0.88"/><circle cx="407.2" cy="733.2" r="1.0" fill="#e0e0e0" opacity="0.88"/><circle cx="407.3" cy="771.9" r="0.8" fill="#e0e0e0" opacity="0.39"/><circle cx="510.2" cy="727.6" r="0.7" fill="#e0e0e0" opacity="0.60"/><circle cx="425.1" cy="692.8" r="0.6" fill="#e0e0e0" opacity="0.50"/><circle cx="523.5" cy="731.7" r="0.6" fill="#e0e0e0" opacity="0.83"/><circle cx="510.0" cy="810.9" r="0.6" fill="#e0e0e0" opacity="0.39"/><circle cx="445.3" cy="810.6" r="0.5" fill="#e0e0e0" opacity="0.84"/><circle cx="515.6" cy="818.1" r="1.0" fill="#e0e0e0" opacity="0.82"/><circle cx="519.9" cy="817.1" r="0.7" fill="#e0e0e0" opacity="0.35"/><circle cx="480.3" cy="694.5" r="1.0" fill="#e0e0e0" opacity="0.58"/><circle cx="411.4" cy="711.4" r="0.6" fill="#e0e0e0" opacity="0.53"/><circle cx="538.8" cy="815.4" r="0.9" fill="#e0e0e0" opacity="0.65"/><circle cx="570.5" cy="789.0" r="0.5" fill="#e0e0e0" opacity="0.86"/><circle cx="541.5" cy="750.9" r="0.6" fill="#e0e0e0" opacity="0.68"/><circle cx="406.6" cy="754.5" r="1.1" fill="#e0e0e0" opacity="0.40"/><circle cx="493.3" cy="817.9" r="0.6" fill="#e0e0e0" opacity="0.94"/><circle cx="460.6" cy="813.1" r="1.1" fill="#e0e0e0" opacity="0.80"/><circle cx="541.4" cy="818.3" r="0.7" fill="#e0e0e0" opacity="0.85"/><circle cx="545.1" cy="766.7" r="0.6" fill="#e0e0e0" opacity="0.75"/><circle cx="565.8" cy="788.5" r="0.5" fill="#e0e0e0" opacity="0.63"/><circle cx="465.4" cy="812.9" r="1.0" fill="#e0e0e0" opacity="0.86"/><circle cx="494.1" cy="720.0" r="0.9" fill="#e0e0e0" opacity="0.85"/><circle cx="493.9" cy="706.0" r="0.9" fill="#e0e0e0" opacity="0.54"/><circle cx="441.6" cy="801.1" r="0.5" fill="#e0e0e0" opacity="0.53"/><circle cx="504.6" cy="717.5" r="0.9" fill="#e0e0e0" opacity="0.55"/><circle cx="412.6" cy="735.4" r="0.6" fill="#e0e0e0" opacity="0.68"/><circle cx="516.5" cy="735.9" r="0.6" fill="#e0e0e0" opacity="0.88"/><circle cx="409.5" cy="714.3" r="0.9" fill="#e0e0e0" opacity="0.47"/><circle cx="539.9" cy="757.8" r="0.5" fill="#e0e0e0" opacity="0.89"/><circle cx="549.2" cy="752.9" r="0.8" fill="#e0e0e0" opacity="0.71"/><circle cx="561.5" cy="816.5" r="1.1" fill="#e0e0e0" opacity="0.56"/><circle cx="569.9" cy="785.9" r="0.6" fill="#e0e0e0" opacity="0.32"/><circle cx="486.3" cy="701.4" r="1.0" fill="#e0e0e0" opacity="0.51"/><circle cx="472.4" cy="693.2" r="0.5" fill="#e0e0e0" opacity="0.58"/><circle cx="502.3" cy="721.4" r="0.7" fill="#e0e0e0" opacity="0.78"/><circle cx="571.1" cy="813.5" r="1.1" fill="#e0e0e0" opacity="0.90"/><circle cx="572.1" cy="802.4" r="0.6" fill="#e0e0e0" opacity="0.39"/><circle cx="514.0" cy="732.2" r="0.8" fill="#e0e0e0" opacity="0.95"/><circle cx="556.2" cy="817.8" r="0.5" fill="#e0e0e0" opacity="0.33"/><circle cx="581.0" cy="792.7" r="1.1" fill="#e0e0e0" opacity="0.31"/><circle cx="424.0" cy="692.6" r="0.6" fill="#e0e0e0" opacity="0.72"/><circle cx="411.2" cy="758.4" r="1.0" fill="#e0e0e0" opacity="0.68"/><circle cx="499.1" cy="814.6" r="0.9" fill="#e0e0e0" opacity="0.37"/><circle cx="439.0" cy="809.2" r="0.9" fill="#e0e0e0" opacity="0.61"/><circle cx="417.3" cy="692.4" r="0.6" fill="#e0e0e0" opacity="0.75"/><circle cx="575.8" cy="814.0" r="0.6" fill="#e0e0e0" opacity="0.69"/><circle cx="541.7" cy="756.4" r="0.8" fill="#e0e0e0" opacity="0.70"/><circle cx="579.7" cy="803.2" r="1.0" fill="#e0e0e0" opacity="0.60"/><circle cx="511.3" cy="819.0" r="0.5" fill="#e0e0e0" opacity="0.53"/><circle cx="486.7" cy="714.0" r="1.0" fill="#e0e0e0" opacity="0.56"/><circle cx="556.0" cy="808.9" r="0.9" fill="#e0e0e0" opacity="0.65"/><circle cx="478.3" cy="704.1" r="0.5" fill="#e0e0e0" opacity="0.89"/><circle cx="438.4" cy="803.8" r="1.1" fill="#e0e0e0" opacity="0.46"/><circle cx="572.8" cy="806.5" r="1.1" fill="#e0e0e0" opacity="0.36"/><circle cx="515.6" cy="727.8" r="1.1" fill="#e0e0e0" opacity="0.59"/><circle cx="503.7" cy="818.4" r="0.7" fill="#e0e0e0" opacity="0.94"/><circle cx="500.8" cy="811.9" r="1.0" fill="#e0e0e0" opacity="0.72"/><circle cx="460.3" cy="812.0" r="1.1" fill="#e0e0e0" opacity="0.50"/><circle cx="466.2" cy="693.3" r="1.0" fill="#e0e0e0" opacity="0.74"/><circle cx="437.8" cy="808.8" r="0.9" fill="#e0e0e0" opacity="0.38"/><circle cx="556.3" cy="766.8" r="0.6" fill="#e0e0e0" opacity="0.80"/><circle cx="411.5" cy="738.5" r="0.8" fill="#e0e0e0" opacity="0.75"/><circle cx="459.8" cy="804.7" r="0.8" fill="#e0e0e0" opacity="0.50"/><circle cx="537.5" cy="818.5" r="1.0" fill="#e0e0e0" opacity="0.72"/><circle cx="485.9" cy="709.3" r="0.9" fill="#e0e0e0" opacity="0.35"/><circle cx="421.5" cy="778.7" r="0.9" fill="#e0e0e0" opacity="0.33"/><circle cx="430.1" cy="694.4" r="0.8" fill="#e0e0e0" opacity="0.35"/><circle cx="459.1" cy="811.8" r="0.7" fill="#e0e0e0" opacity="0.37"/><circle cx="470.3" cy="816.1" r="1.0" fill="#e0e0e0" opacity="0.77"/><circle cx="425.3" cy="692.3" r="0.7" fill="#e0e0e0" opacity="0.75"/><circle cx="535.3" cy="816.2" r="0.5" fill="#e0e0e0" opacity="0.67"/><circle cx="420.3" cy="697.5" r="0.9" fill="#e0e0e0" opacity="0.69"/><circle cx="413.4" cy="748.2" r="0.7" fill="#e0e0e0" opacity="0.68"/><circle cx="495.5" cy="820.0" r="0.8" fill="#e0e0e0" opacity="0.91"/><circle cx="411.6" cy="752.5" r="0.5" fill="#e0e0e0" opacity="0.50"/><circle cx="471.4" cy="805.4" r="1.1" fill="#e0e0e0" opacity="0.74"/><circle cx="406.9" cy="755.0" r="0.8" fill="#e0e0e0" opacity="0.88"/><circle cx="500.3" cy="807.7" r="0.8" fill="#e0e0e0" opacity="0.35"/><circle cx="413.6" cy="774.3" r="0.9" fill="#e0e0e0" opacity="0.58"/><circle cx="457.7" cy="805.4" r="1.1" fill="#e0e0e0" opacity="0.59"/><circle cx="449.8" cy="807.1" r="0.9" fill="#e0e0e0" opacity="0.73"/><circle cx="481.7" cy="810.5" r="0.7" fill="#e0e0e0" opacity="0.40"/><circle cx="445.4" cy="679.3" r="0.5" fill="#e0e0e0" opacity="0.32"/><circle cx="529.8" cy="746.8" r="1.1" fill="#e0e0e0" opacity="0.72"/><circle cx="434.3" cy="790.7" r="0.8" fill="#e0e0e0" opacity="0.83"/><circle cx="413.7" cy="723.4" r="0.7" fill="#e0e0e0" opacity="0.63"/><circle cx="510.7" cy="818.7" r="1.1" fill="#e0e0e0" opacity="0.52"/><circle cx="492.4" cy="713.3" r="0.7" fill="#e0e0e0" opacity="0.57"/><circle cx="435.4" cy="797.1" r="0.6" fill="#e0e0e0" opacity="0.41"/><circle cx="470.1" cy="689.3" r="0.9" fill="#e0e0e0" opacity="0.83"/><circle cx="456.0" cy="814.5" r="0.9" fill="#e0e0e0" opacity="0.68"/><circle cx="482.1" cy="821.6" r="1.0" fill="#e0e0e0" opacity="0.37"/><circle cx="425.5" cy="793.7" r="0.6" fill="#e0e0e0" opacity="0.63"/><circle cx="549.0" cy="810.0" r="0.6" fill="#e0e0e0" opacity="0.60"/><circle cx="554.1" cy="761.3" r="1.0" fill="#e0e0e0" opacity="0.46"/><circle cx="418.5" cy="698.2" r="0.7" fill="#e0e0e0" opacity="0.72"/><circle cx="562.4" cy="768.0" r="0.7" fill="#e0e0e0" opacity="0.41"/><circle cx="412.2" cy="713.1" r="1.1" fill="#e0e0e0" opacity="0.80"/><circle cx="439.6" cy="687.1" r="1.0" fill="#e0e0e0" opacity="0.36"/><circle cx="424.7" cy="778.5" r="0.7" fill="#e0e0e0" opacity="0.75"/><circle cx="414.1" cy="747.2" r="1.0" fill="#e0e0e0" opacity="0.72"/><circle cx="555.2" cy="811.9" r="0.8" fill="#e0e0e0" opacity="0.84"/><circle cx="413.8" cy="775.3" r="0.8" fill="#e0e0e0" opacity="0.31"/><circle cx="491.3" cy="818.5" r="0.8" fill="#e0e0e0" opacity="0.54"/><circle cx="482.1" cy="819.5" r="0.5" fill="#e0e0e0" opacity="0.76"/><circle cx="529.4" cy="819.1" r="0.6" fill="#e0e0e0" opacity="0.86"/><circle cx="418.1" cy="777.9" r="0.5" fill="#e0e0e0" opacity="0.67"/><circle cx="549.1" cy="754.9" r="0.9" fill="#e0e0e0" opacity="0.37"/><circle cx="481.6" cy="821.7" r="0.7" fill="#e0e0e0" opacity="0.46"/><circle cx="454.2" cy="815.9" r="0.5" fill="#e0e0e0" opacity="0.75"/><circle cx="565.2" cy="813.6" r="0.5" fill="#e0e0e0" opacity="0.85"/><circle cx="491.7" cy="818.2" r="0.9" fill="#e0e0e0" opacity="0.72"/><circle cx="473.2" cy="693.7" r="0.8" fill="#e0e0e0" opacity="0.91"/><circle cx="520.4" cy="744.4" r="0.6" fill="#e0e0e0" opacity="0.33"/><circle cx="547.7" cy="812.2" r="0.6" fill="#e0e0e0" opacity="0.51"/><circle cx="563.4" cy="768.9" r="1.1" fill="#e0e0e0" opacity="0.36"/><circle cx="414.8" cy="697.2" r="0.8" fill="#e0e0e0" opacity="0.78"/><circle cx="475.0" cy="812.9" r="0.9" fill="#e0e0e0" opacity="0.67"/><circle cx="468.1" cy="812.4" r="0.5" fill="#e0e0e0" opacity="0.89"/><circle cx="419.2" cy="789.6" r="0.7" fill="#e0e0e0" opacity="0.54"/><circle cx="532.0" cy="748.1" r="1.0" fill="#e0e0e0" opacity="0.33"/><circle cx="535.2" cy="744.3" r="1.0" fill="#e0e0e0" opacity="0.79"/><circle cx="491.2" cy="701.7" r="1.0" fill="#e0e0e0" opacity="0.41"/><circle cx="560.7" cy="812.2" r="0.9" fill="#e0e0e0" opacity="0.83"/><circle cx="409.7" cy="742.0" r="1.1" fill="#e0e0e0" opacity="0.44"/><circle cx="433.6" cy="680.1" r="0.6" fill="#e0e0e0" opacity="0.72"/><circle cx="476.6" cy="814.3" r="1.1" fill="#e0e0e0" opacity="0.38"/><circle cx="572.5" cy="795.7" r="0.9" fill="#e0e0e0" opacity="0.33"/><circle cx="420.7" cy="789.0" r="0.7" fill="#e0e0e0" opacity="0.47"/><circle cx="459.7" cy="806.9" r="0.9" fill="#e0e0e0" opacity="0.72"/><circle cx="541.6" cy="750.8" r="0.9" fill="#e0e0e0" opacity="0.36"/><circle cx="533.4" cy="746.3" r="0.9" fill="#e0e0e0" opacity="0.72"/><circle cx="447.5" cy="808.7" r="0.8" fill="#e0e0e0" opacity="0.37"/><circle cx="535.8" cy="748.9" r="0.8" fill="#e0e0e0" opacity="0.56"/><circle cx="408.5" cy="770.5" r="0.7" fill="#e0e0e0" opacity="0.56"/><circle cx="577.7" cy="799.2" r="0.6" fill="#e0e0e0" opacity="0.92"/><circle cx="411.4" cy="748.6" r="0.5" fill="#e0e0e0" opacity="0.79"/><circle cx="568.0" cy="803.4" r="0.9" fill="#e0e0e0" opacity="0.81"/><circle cx="534.0" cy="752.4" r="0.6" fill="#e0e0e0" opacity="0.86"/><circle cx="425.0" cy="690.4" r="1.1" fill="#e0e0e0" opacity="0.41"/><circle cx="494.7" cy="717.1" r="1.0" fill="#e0e0e0" opacity="0.58"/><circle cx="566.0" cy="774.3" r="1.0" fill="#e0e0e0" opacity="0.64"/><circle cx="524.3" cy="730.9" r="1.0" fill="#e0e0e0" opacity="0.32"/><circle cx="459.2" cy="809.9" r="0.9" fill="#e0e0e0" opacity="0.39"/><circle cx="439.6" cy="807.7" r="1.1" fill="#e0e0e0" opacity="0.86"/><circle cx="415.6" cy="696.2" r="0.7" fill="#e0e0e0" opacity="0.38"/><circle cx="415.8" cy="709.9" r="0.7" fill="#e0e0e0" opacity="0.67"/><circle cx="548.9" cy="758.4" r="0.5" fill="#e0e0e0" opacity="0.56"/><circle cx="508.4" cy="710.4" r="0.6" fill="#e0e0e0" opacity="0.92"/><circle cx="436.6" cy="801.0" r="0.8" fill="#e0e0e0" opacity="0.48"/><circle cx="417.7" cy="725.0" r="0.5" fill="#e0e0e0" opacity="0.50"/><circle cx="434.3" cy="683.8" r="0.9" fill="#e0e0e0" opacity="0.59"/><circle cx="511.4" cy="729.8" r="0.9" fill="#e0e0e0" opacity="0.83"/><circle cx="560.9" cy="768.1" r="0.7" fill="#e0e0e0" opacity="0.81"/><circle cx="448.5" cy="806.7" r="1.1" fill="#e0e0e0" opacity="0.85"/><circle cx="418.1" cy="729.9" r="0.6" fill="#e0e0e0" opacity="0.40"/><circle cx="476.4" cy="696.6" r="0.5" fill="#e0e0e0" opacity="0.82"/><circle cx="486.8" cy="816.2" r="0.5" fill="#e0e0e0" opacity="0.53"/><circle cx="577.1" cy="800.6" r="0.7" fill="#e0e0e0" opacity="0.79"/><circle cx="544.1" cy="819.9" r="0.7" fill="#e0e0e0" opacity="0.39"/><circle cx="558.6" cy="818.5" r="0.7" fill="#e0e0e0" opacity="0.74"/><circle cx="489.4" cy="700.5" r="1.1" fill="#e0e0e0" opacity="0.85"/><circle cx="539.8" cy="754.2" r="0.8" fill="#e0e0e0" opacity="0.77"/><circle cx="459.5" cy="806.0" r="1.1" fill="#e0e0e0" opacity="0.66"/><circle cx="435.1" cy="688.2" r="0.6" fill="#e0e0e0" opacity="0.91"/><circle cx="453.5" cy="689.7" r="0.8" fill="#e0e0e0" opacity="0.90"/><circle cx="542.6" cy="749.5" r="0.6" fill="#e0e0e0" opacity="0.59"/><circle cx="416.0" cy="774.3" r="0.7" fill="#e0e0e0" opacity="0.88"/><circle cx="449.2" cy="803.9" r="0.9" fill="#e0e0e0" opacity="0.81"/><circle cx="430.2" cy="792.0" r="1.1" fill="#e0e0e0" opacity="0.93"/><circle cx="413.4" cy="766.2" r="1.0" fill="#e0e0e0" opacity="0.61"/><circle cx="528.7" cy="750.4" r="0.6" fill="#e0e0e0" opacity="0.45"/><circle cx="551.0" cy="759.7" r="0.7" fill="#e0e0e0" opacity="0.42"/><circle cx="565.4" cy="771.4" r="0.9" fill="#e0e0e0" opacity="0.83"/><circle cx="413.8" cy="770.5" r="0.5" fill="#e0e0e0" opacity="0.87"/><circle cx="481.7" cy="694.7" r="0.7" fill="#e0e0e0" opacity="0.76"/><circle cx="573.4" cy="798.6" r="1.0" fill="#e0e0e0" opacity="0.70"/><circle cx="575.6" cy="792.0" r="0.9" fill="#e0e0e0" opacity="0.42"/><circle cx="567.1" cy="793.7" r="0.9" fill="#e0e0e0" opacity="0.64"/><circle cx="412.3" cy="784.9" r="0.9" fill="#e0e0e0" opacity="0.72"/><circle cx="563.3" cy="770.3" r="1.1" fill="#e0e0e0" opacity="0.59"/><circle cx="507.4" cy="729.4" r="0.7" fill="#e0e0e0" opacity="0.37"/><circle cx="419.5" cy="775.8" r="0.7" fill="#e0e0e0" opacity="0.60"/><circle cx="554.4" cy="767.2" r="0.9" fill="#e0e0e0" opacity="0.82"/><circle cx="433.7" cy="790.7" r="1.0" fill="#e0e0e0" opacity="0.50"/><circle cx="413.4" cy="712.3" r="0.7" fill="#e0e0e0" opacity="0.80"/><circle cx="566.2" cy="811.2" r="0.7" fill="#e0e0e0" opacity="0.60"/><circle cx="480.6" cy="803.9" r="0.5" fill="#e0e0e0" opacity="0.73"/><circle cx="412.3" cy="698.4" r="0.6" fill="#e0e0e0" opacity="0.75"/><circle cx="567.6" cy="789.0" r="0.5" fill="#e0e0e0" opacity="0.40"/><circle cx="410.7" cy="754.6" r="1.1" fill="#e0e0e0" opacity="0.51"/><circle cx="551.6" cy="760.5" r="0.5" fill="#e0e0e0" opacity="0.93"/><circle cx="510.7" cy="815.2" r="0.7" fill="#e0e0e0" opacity="0.63"/><circle cx="443.6" cy="812.1" r="0.7" fill="#e0e0e0" opacity="0.35"/><circle cx="517.0" cy="738.4" r="0.9" fill="#e0e0e0" opacity="0.37"/><circle cx="413.8" cy="747.9" r="1.0" fill="#e0e0e0" opacity="0.67"/><circle cx="476.9" cy="695.5" r="0.8" fill="#e0e0e0" opacity="0.82"/><circle cx="556.2" cy="768.9" r="1.0" fill="#e0e0e0" opacity="0.57"/><circle cx="512.7" cy="726.7" r="0.9" fill="#e0e0e0" opacity="0.59"/><circle cx="520.1" cy="735.7" r="0.5" fill="#e0e0e0" opacity="0.93"/><circle cx="473.0" cy="690.4" r="1.1" fill="#e0e0e0" opacity="0.93"/><circle cx="569.3" cy="813.5" r="0.9" fill="#e0e0e0" opacity="0.62"/><circle cx="411.8" cy="752.0" r="0.8" fill="#e0e0e0" opacity="0.40"/><circle cx="513.3" cy="728.1" r="0.8" fill="#e0e0e0" opacity="0.89"/><circle cx="450.7" cy="806.1" r="0.7" fill="#e0e0e0" opacity="0.40"/><circle cx="475.3" cy="699.2" r="0.8" fill="#e0e0e0" opacity="0.54"/><circle cx="535.1" cy="751.9" r="1.0" fill="#e0e0e0" opacity="0.36"/><circle cx="503.4" cy="822.3" r="1.0" fill="#e0e0e0" opacity="0.69"/><circle cx="408.7" cy="756.8" r="0.5" fill="#e0e0e0" opacity="0.37"/><circle cx="474.6" cy="819.4" r="0.9" fill="#e0e0e0" opacity="0.62"/><circle cx="405.4" cy="741.1" r="0.8" fill="#e0e0e0" opacity="0.73"/><circle cx="413.5" cy="713.4" r="0.9" fill="#e0e0e0" opacity="0.70"/><circle cx="404.9" cy="763.1" r="0.7" fill="#e0e0e0" opacity="0.51"/><circle cx="461.3" cy="683.7" r="1.0" fill="#e0e0e0" opacity="0.30"/><circle cx="575.3" cy="810.2" r="0.8" fill="#e0e0e0" opacity="0.46"/><circle cx="515.5" cy="727.9" r="0.5" fill="#e0e0e0" opacity="0.66"/><circle cx="457.3" cy="680.1" r="1.0" fill="#e0e0e0" opacity="0.76"/><circle cx="414.9" cy="768.1" r="0.8" fill="#e0e0e0" opacity="0.86"/><circle cx="405.8" cy="754.6" r="0.7" fill="#e0e0e0" opacity="0.77"/><circle cx="546.0" cy="754.3" r="0.6" fill="#e0e0e0" opacity="0.79"/><circle cx="408.9" cy="778.3" r="0.6" fill="#e0e0e0" opacity="0.78"/><circle cx="423.9" cy="696.1" r="1.0" fill="#e0e0e0" opacity="0.84"/><circle cx="422.5" cy="787.2" r="0.5" fill="#e0e0e0" opacity="0.81"/><circle cx="427.5" cy="698.4" r="0.6" fill="#e0e0e0" opacity="0.42"/><circle cx="573.4" cy="782.5" r="0.5" fill="#e0e0e0" opacity="0.81"/><circle cx="576.9" cy="806.6" r="0.6" fill="#e0e0e0" opacity="0.59"/><circle cx="573.3" cy="791.3" r="0.9" fill="#e0e0e0" opacity="0.75"/><circle cx="550.9" cy="766.4" r="1.1" fill="#e0e0e0" opacity="0.59"/><circle cx="440.0" cy="690.6" r="0.5" fill="#e0e0e0" opacity="0.34"/><circle cx="422.2" cy="779.0" r="0.6" fill="#e0e0e0" opacity="0.44"/><circle cx="418.6" cy="714.3" r="1.1" fill="#e0e0e0" opacity="0.70"/><circle cx="423.4" cy="791.5" r="0.6" fill="#e0e0e0" opacity="0.60"/><circle cx="567.5" cy="800.5" r="0.9" fill="#e0e0e0" opacity="0.76"/><circle cx="581.6" cy="809.6" r="0.5" fill="#e0e0e0" opacity="0.78"/><circle cx="486.0" cy="692.2" r="1.0" fill="#e0e0e0" opacity="0.30"/><circle cx="414.7" cy="778.4" r="0.9" fill="#e0e0e0" opacity="0.50"/><circle cx="546.0" cy="750.6" r="1.0" fill="#e0e0e0" opacity="0.39"/><circle cx="423.4" cy="685.1" r="1.0" fill="#e0e0e0" opacity="0.68"/><circle cx="569.7" cy="798.5" r="0.6" fill="#e0e0e0" opacity="0.37"/><circle cx="549.6" cy="760.7" r="0.5" fill="#e0e0e0" opacity="0.54"/><circle cx="422.2" cy="700.7" r="0.7" fill="#e0e0e0" opacity="0.64"/><circle cx="457.0" cy="689.0" r="0.8" fill="#e0e0e0" opacity="0.86"/><circle cx="495.6" cy="708.4" r="0.6" fill="#e0e0e0" opacity="0.40"/><circle cx="540.0" cy="747.3" r="1.0" fill="#e0e0e0" opacity="0.79"/><circle cx="465.7" cy="812.5" r="1.0" fill="#e0e0e0" opacity="0.93"/><circle cx="530.4" cy="815.1" r="0.8" fill="#e0e0e0" opacity="0.54"/><circle cx="423.1" cy="690.0" r="0.8" fill="#e0e0e0" opacity="0.68"/><circle cx="407.4" cy="759.5" r="0.7" fill="#e0e0e0" opacity="0.30"/><circle cx="503.3" cy="815.9" r="0.7" fill="#e0e0e0" opacity="0.65"/><circle cx="410.5" cy="775.0" r="0.5" fill="#e0e0e0" opacity="0.92"/><circle cx="534.4" cy="820.3" r="0.7" fill="#e0e0e0" opacity="0.88"/><circle cx="504.2" cy="716.6" r="0.6" fill="#e0e0e0" opacity="0.37"/><circle cx="520.1" cy="736.6" r="0.6" fill="#e0e0e0" opacity="0.51"/><circle cx="449.0" cy="808.1" r="0.8" fill="#e0e0e0" opacity="0.94"/><circle cx="468.2" cy="689.7" r="0.5" fill="#e0e0e0" opacity="0.69"/><circle cx="570.1" cy="808.4" r="0.8" fill="#e0e0e0" opacity="0.43"/><circle cx="415.3" cy="760.5" r="1.0" fill="#e0e0e0" opacity="0.31"/><circle cx="411.9" cy="693.5" r="1.1" fill="#e0e0e0" opacity="0.69"/><circle cx="410.2" cy="724.8" r="0.7" fill="#e0e0e0" opacity="0.88"/><circle cx="424.5" cy="690.1" r="0.6" fill="#e0e0e0" opacity="0.43"/><circle cx="537.9" cy="752.2" r="0.8" fill="#e0e0e0" opacity="0.61"/><circle cx="442.6" cy="686.2" r="1.0" fill="#e0e0e0" opacity="0.37"/><circle cx="490.1" cy="708.5" r="0.9" fill="#e0e0e0" opacity="0.68"/><circle cx="452.2" cy="811.7" r="0.6" fill="#e0e0e0" opacity="0.31"/><circle cx="439.2" cy="683.5" r="1.1" fill="#e0e0e0" opacity="0.90"/><circle cx="576.7" cy="810.7" r="0.6" fill="#e0e0e0" opacity="0.71"/><circle cx="424.5" cy="680.1" r="0.8" fill="#e0e0e0" opacity="0.69"/><circle cx="520.5" cy="738.9" r="0.9" fill="#e0e0e0" opacity="0.87"/><circle cx="571.5" cy="805.1" r="0.7" fill="#e0e0e0" opacity="0.59"/><circle cx="420.0" cy="784.0" r="0.6" fill="#e0e0e0" opacity="0.55"/><circle cx="525.9" cy="744.8" r="0.8" fill="#e0e0e0" opacity="0.63"/><circle cx="541.8" cy="814.9" r="0.7" fill="#e0e0e0" opacity="0.75"/><circle cx="500.6" cy="714.0" r="0.7" fill="#e0e0e0" opacity="0.38"/><circle cx="542.0" cy="755.3" r="0.6" fill="#e0e0e0" opacity="0.71"/><circle cx="524.8" cy="742.3" r="0.5" fill="#e0e0e0" opacity="0.49"/><circle cx="413.2" cy="729.0" r="1.0" fill="#e0e0e0" opacity="0.82"/><circle cx="498.9" cy="807.8" r="0.9" fill="#e0e0e0" opacity="0.87"/><circle cx="528.7" cy="743.4" r="0.9" fill="#e0e0e0" opacity="0.84"/><circle cx="403.9" cy="769.1" r="1.0" fill="#e0e0e0" opacity="0.83"/><circle cx="542.5" cy="761.3" r="0.5" fill="#e0e0e0" opacity="0.68"/><circle cx="424.0" cy="688.0" r="1.0" fill="#e0e0e0" opacity="0.64"/><circle cx="429.0" cy="797.6" r="0.9" fill="#e0e0e0" opacity="0.70"/><circle cx="467.0" cy="678.4" r="1.1" fill="#e0e0e0" opacity="0.69"/><circle cx="495.2" cy="821.6" r="0.7" fill="#e0e0e0" opacity="0.35"/><circle cx="490.6" cy="818.0" r="0.7" fill="#e0e0e0" opacity="0.90"/><circle cx="476.3" cy="706.1" r="0.5" fill="#e0e0e0" opacity="0.71"/><circle cx="573.6" cy="791.6" r="0.8" fill="#e0e0e0" opacity="0.53"/><circle cx="468.6" cy="689.1" r="1.0" fill="#e0e0e0" opacity="0.57"/><circle cx="573.6" cy="802.1" r="1.0" fill="#e0e0e0" opacity="0.75"/><circle cx="412.5" cy="747.2" r="0.8" fill="#e0e0e0" opacity="0.36"/><circle cx="409.8" cy="756.7" r="1.1" fill="#e0e0e0" opacity="0.66"/><circle cx="415.0" cy="748.8" r="0.6" fill="#e0e0e0" opacity="0.89"/><circle cx="482.2" cy="820.6" r="0.6" fill="#e0e0e0" opacity="0.80"/><circle cx="482.3" cy="808.2" r="0.9" fill="#e0e0e0" opacity="0.66"/><circle cx="418.2" cy="773.1" r="0.5" fill="#e0e0e0" opacity="0.52"/><circle cx="512.4" cy="733.5" r="0.5" fill="#e0e0e0" opacity="0.46"/><circle cx="548.1" cy="817.6" r="0.8" fill="#e0e0e0" opacity="0.33"/><circle cx="411.5" cy="736.6" r="0.6" fill="#e0e0e0" opacity="0.63"/><circle cx="483.3" cy="816.8" r="1.0" fill="#e0e0e0" opacity="0.50"/><circle cx="463.3" cy="695.0" r="0.7" fill="#e0e0e0" opacity="0.43"/><circle cx="415.4" cy="788.5" r="0.7" fill="#e0e0e0" opacity="0.57"/><circle cx="565.7" cy="808.8" r="1.1" fill="#e0e0e0" opacity="0.93"/><circle cx="409.7" cy="767.1" r="0.8" fill="#e0e0e0" opacity="0.52"/><circle cx="444.3" cy="801.8" r="0.6" fill="#e0e0e0" opacity="0.59"/><circle cx="557.7" cy="813.9" r="0.6" fill="#e0e0e0" opacity="0.82"/><circle cx="525.9" cy="742.3" r="0.7" fill="#e0e0e0" opacity="0.76"/><circle cx="466.3" cy="809.7" r="1.0" fill="#e0e0e0" opacity="0.49"/><circle cx="483.6" cy="815.9" r="0.5" fill="#e0e0e0" opacity="0.46"/><circle cx="409.3" cy="754.6" r="0.7" fill="#e0e0e0" opacity="0.86"/><circle cx="484.5" cy="703.1" r="0.9" fill="#e0e0e0" opacity="0.52"/><circle cx="492.9" cy="716.7" r="1.1" fill="#e0e0e0" opacity="0.60"/><circle cx="501.6" cy="724.0" r="0.7" fill="#e0e0e0" opacity="0.41"/><circle cx="436.9" cy="696.0" r="0.6" fill="#e0e0e0" opacity="0.44"/><circle cx="489.7" cy="813.6" r="1.0" fill="#e0e0e0" opacity="0.59"/><circle cx="434.0" cy="806.9" r="0.8" fill="#e0e0e0" opacity="0.78"/><circle cx="573.0" cy="792.5" r="0.8" fill="#e0e0e0" opacity="0.32"/><circle cx="474.7" cy="689.9" r="0.8" fill="#e0e0e0" opacity="0.44"/><circle cx="534.7" cy="815.2" r="0.5" fill="#e0e0e0" opacity="0.34"/><circle cx="534.8" cy="747.1" r="0.8" fill="#e0e0e0" opacity="0.79"/><circle cx="420.4" cy="779.8" r="0.6" fill="#e0e0e0" opacity="0.52"/><circle cx="412.2" cy="765.4" r="0.5" fill="#e0e0e0" opacity="0.45"/><circle cx="572.9" cy="803.1" r="0.5" fill="#e0e0e0" opacity="0.55"/><circle cx="411.6" cy="719.1" r="0.9" fill="#e0e0e0" opacity="0.62"/><circle cx="424.9" cy="792.7" r="0.7" fill="#e0e0e0" opacity="0.43"/><circle cx="414.3" cy="708.7" r="0.7" fill="#e0e0e0" opacity="0.45"/><circle cx="567.0" cy="779.3" r="0.9" fill="#e0e0e0" opacity="0.34"/><circle cx="543.5" cy="756.5" r="0.9" fill="#e0e0e0" opacity="0.46"/><circle cx="415.8" cy="696.8" r="0.8" fill="#e0e0e0" opacity="0.39"/><circle cx="551.3" cy="752.6" r="0.8" fill="#e0e0e0" opacity="0.45"/><circle cx="408.6" cy="739.2" r="0.5" fill="#e0e0e0" opacity="0.58"/><circle cx="514.6" cy="816.5" r="0.7" fill="#e0e0e0" opacity="0.64"/><circle cx="500.3" cy="811.6" r="0.9" fill="#e0e0e0" opacity="0.48"/><circle cx="477.8" cy="703.1" r="1.1" fill="#e0e0e0" opacity="0.71"/><circle cx="417.2" cy="718.4" r="0.6" fill="#e0e0e0" opacity="0.78"/><circle cx="487.7" cy="706.8" r="0.7" fill="#e0e0e0" opacity="0.90"/><circle cx="493.0" cy="711.7" r="1.1" fill="#e0e0e0" opacity="0.59"/><circle cx="448.4" cy="803.2" r="0.7" fill="#e0e0e0" opacity="0.55"/><circle cx="478.1" cy="701.9" r="1.1" fill="#e0e0e0" opacity="0.88"/><circle cx="482.0" cy="696.4" r="0.6" fill="#e0e0e0" opacity="0.55"/><circle cx="567.0" cy="813.9" r="1.1" fill="#e0e0e0" opacity="0.85"/><circle cx="511.9" cy="734.9" r="0.5" fill="#e0e0e0" opacity="0.82"/><circle cx="415.5" cy="776.7" r="0.6" fill="#e0e0e0" opacity="0.31"/><circle cx="483.3" cy="711.9" r="0.7" fill="#e0e0e0" opacity="0.52"/><circle cx="451.3" cy="682.6" r="0.8" fill="#e0e0e0" opacity="0.76"/><circle cx="413.6" cy="722.9" r="0.6" fill="#e0e0e0" opacity="0.87"/><circle cx="443.4" cy="805.4" r="0.7" fill="#e0e0e0" opacity="0.68"/><circle cx="517.2" cy="819.4" r="0.5" fill="#e0e0e0" opacity="0.88"/><circle cx="537.2" cy="817.1" r="0.8" fill="#e0e0e0" opacity="0.46"/><circle cx="504.8" cy="722.6" r="0.8" fill="#e0e0e0" opacity="0.35"/><circle cx="486.0" cy="699.7" r="0.9" fill="#e0e0e0" opacity="0.85"/><circle cx="454.1" cy="683.4" r="0.9" fill="#e0e0e0" opacity="0.86"/><circle cx="438.7" cy="686.6" r="0.9" fill="#e0e0e0" opacity="0.70"/><circle cx="458.2" cy="688.7" r="0.5" fill="#e0e0e0" opacity="0.86"/><circle cx="579.0" cy="802.3" r="0.8" fill="#e0e0e0" opacity="0.42"/><circle cx="423.8" cy="694.9" r="0.5" fill="#e0e0e0" opacity="0.42"/><circle cx="521.5" cy="814.3" r="0.9" fill="#e0e0e0" opacity="0.67"/><circle cx="436.9" cy="690.1" r="1.0" fill="#e0e0e0" opacity="0.91"/><circle cx="454.4" cy="807.7" r="1.1" fill="#e0e0e0" opacity="0.47"/><circle cx="457.7" cy="687.6" r="0.6" fill="#e0e0e0" opacity="0.55"/><circle cx="552.4" cy="817.3" r="0.9" fill="#e0e0e0" opacity="0.51"/><circle cx="572.7" cy="794.0" r="0.5" fill="#e0e0e0" opacity="0.42"/><circle cx="423.9" cy="691.8" r="0.6" fill="#e0e0e0" opacity="0.72"/><circle cx="469.1" cy="813.4" r="0.9" fill="#e0e0e0" opacity="0.80"/><circle cx="569.2" cy="782.6" r="1.1" fill="#e0e0e0" opacity="0.62"/><circle cx="416.3" cy="786.7" r="1.0" fill="#e0e0e0" opacity="0.78"/><circle cx="475.2" cy="695.9" r="0.5" fill="#e0e0e0" opacity="0.94"/><circle cx="547.6" cy="809.0" r="0.5" fill="#e0e0e0" opacity="0.80"/><circle cx="500.5" cy="720.3" r="0.7" fill="#e0e0e0" opacity="0.43"/><circle cx="424.8" cy="789.5" r="0.6" fill="#e0e0e0" opacity="0.72"/><circle cx="436.4" cy="692.4" r="0.7" fill="#e0e0e0" opacity="0.92"/><circle cx="531.2" cy="811.7" r="1.0" fill="#e0e0e0" opacity="0.77"/><circle cx="570.6" cy="776.9" r="1.0" fill="#e0e0e0" opacity="0.60"/><circle cx="409.9" cy="757.5" r="1.1" fill="#e0e0e0" opacity="0.92"/><circle cx="424.4" cy="698.3" r="0.6" fill="#e0e0e0" opacity="0.74"/><circle cx="415.0" cy="746.3" r="0.8" fill="#e0e0e0" opacity="0.77"/><circle cx="501.3" cy="722.4" r="0.9" fill="#e0e0e0" opacity="0.31"/><circle cx="576.4" cy="784.0" r="0.8" fill="#e0e0e0" opacity="0.79"/><circle cx="568.9" cy="784.5" r="0.5" fill="#e0e0e0" opacity="0.37"/><circle cx="568.5" cy="776.5" r="0.7" fill="#e0e0e0" opacity="0.93"/><circle cx="492.8" cy="814.3" r="0.8" fill="#e0e0e0" opacity="0.31"/><circle cx="542.5" cy="752.0" r="1.1" fill="#e0e0e0" opacity="0.34"/><circle cx="409.9" cy="770.2" r="0.7" fill="#e0e0e0" opacity="0.75"/><circle cx="464.6" cy="682.9" r="0.5" fill="#e0e0e0" opacity="0.49"/><circle cx="454.7" cy="806.3" r="0.5" fill="#e0e0e0" opacity="0.35"/><circle cx="441.2" cy="682.3" r="1.0" fill="#e0e0e0" opacity="0.40"/><circle cx="491.5" cy="707.3" r="0.5" fill="#e0e0e0" opacity="0.56"/><circle cx="442.6" cy="688.1" r="0.8" fill="#e0e0e0" opacity="0.86"/><circle cx="579.8" cy="798.3" r="0.8" fill="#e0e0e0" opacity="0.59"/><circle cx="456.1" cy="811.4" r="1.0" fill="#e0e0e0" opacity="0.42"/><circle cx="505.5" cy="822.8" r="0.8" fill="#e0e0e0" opacity="0.90"/><circle cx="416.8" cy="777.0" r="0.8" fill="#e0e0e0" opacity="0.34"/><circle cx="429.2" cy="691.1" r="1.0" fill="#e0e0e0" opacity="0.45"/><circle cx="478.0" cy="692.8" r="0.9" fill="#e0e0e0" opacity="0.42"/><circle cx="509.1" cy="812.5" r="0.6" fill="#e0e0e0" opacity="0.52"/><circle cx="527.8" cy="746.4" r="0.9" fill="#e0e0e0" opacity="0.31"/><circle cx="418.5" cy="698.8" r="1.1" fill="#e0e0e0" opacity="0.58"/><circle cx="552.8" cy="769.2" r="0.8" fill="#e0e0e0" opacity="0.48"/><circle cx="411.8" cy="749.8" r="0.8" fill="#e0e0e0" opacity="0.82"/><circle cx="514.1" cy="812.7" r="1.0" fill="#e0e0e0" opacity="0.70"/><circle cx="416.2" cy="783.9" r="0.9" fill="#e0e0e0" opacity="0.45"/><circle cx="413.9" cy="712.6" r="0.6" fill="#e0e0e0" opacity="0.83"/><circle cx="539.8" cy="752.0" r="0.9" fill="#e0e0e0" opacity="0.54"/><circle cx="403.8" cy="763.7" r="0.9" fill="#e0e0e0" opacity="0.35"/><circle cx="409.9" cy="751.3" r="1.0" fill="#e0e0e0" opacity="0.78"/><circle cx="523.9" cy="814.5" r="0.5" fill="#e0e0e0" opacity="0.49"/><circle cx="416.6" cy="701.0" r="1.0" fill="#e0e0e0" opacity="0.38"/><circle cx="405.3" cy="759.3" r="0.8" fill="#e0e0e0" opacity="0.95"/><circle cx="502.9" cy="816.5" r="0.8" fill="#e0e0e0" opacity="0.32"/><circle cx="524.8" cy="745.0" r="0.6" fill="#e0e0e0" opacity="0.77"/><circle cx="448.0" cy="682.7" r="0.6" fill="#e0e0e0" opacity="0.92"/><circle cx="411.1" cy="755.9" r="1.0" fill="#e0e0e0" opacity="0.45"/><circle cx="408.9" cy="775.1" r="0.7" fill="#e0e0e0" opacity="0.54"/><circle cx="501.4" cy="722.6" r="0.5" fill="#e0e0e0" opacity="0.45"/><circle cx="498.6" cy="705.1" r="1.1" fill="#e0e0e0" opacity="0.43"/><circle cx="574.3" cy="796.1" r="0.7" fill="#e0e0e0" opacity="0.33"/><circle cx="450.0" cy="805.0" r="0.6" fill="#e0e0e0" opacity="0.84"/><circle cx="519.5" cy="813.6" r="0.6" fill="#e0e0e0" opacity="0.59"/><circle cx="408.5" cy="750.4" r="0.5" fill="#e0e0e0" opacity="0.39"/><circle cx="414.1" cy="705.3" r="0.7" fill="#e0e0e0" opacity="0.90"/><circle cx="420.9" cy="795.9" r="0.8" fill="#e0e0e0" opacity="0.39"/><circle cx="429.8" cy="687.3" r="1.0" fill="#e0e0e0" opacity="0.59"/><circle cx="409.9" cy="761.8" r="0.7" fill="#e0e0e0" opacity="0.53"/><circle cx="440.6" cy="801.4" r="0.5" fill="#e0e0e0" opacity="0.95"/><circle cx="404.0" cy="733.8" r="1.0" fill="#e0e0e0" opacity="0.55"/><circle cx="411.8" cy="764.0" r="0.9" fill="#e0e0e0" opacity="0.60"/><circle cx="462.8" cy="679.4" r="0.8" fill="#e0e0e0" opacity="0.52"/><circle cx="416.0" cy="705.2" r="0.8" fill="#e0e0e0" opacity="0.42"/><circle cx="508.2" cy="720.6" r="0.6" fill="#e0e0e0" opacity="0.74"/><circle cx="407.7" cy="764.6" r="0.9" fill="#e0e0e0" opacity="0.45"/><circle cx="552.5" cy="818.7" r="0.9" fill="#e0e0e0" opacity="0.34"/><circle cx="411.3" cy="716.9" r="0.8" fill="#e0e0e0" opacity="0.61"/><circle cx="410.3" cy="707.6" r="1.0" fill="#e0e0e0" opacity="0.75"/><circle cx="524.9" cy="812.5" r="1.0" fill="#e0e0e0" opacity="0.33"/><circle cx="405.5" cy="745.2" r="0.6" fill="#e0e0e0" opacity="0.55"/><circle cx="524.9" cy="732.9" r="1.0" fill="#e0e0e0" opacity="0.87"/><circle cx="432.4" cy="686.6" r="0.9" fill="#e0e0e0" opacity="0.92"/><circle cx="425.2" cy="794.2" r="0.5" fill="#e0e0e0" opacity="0.32"/><circle cx="580.2" cy="806.9" r="0.7" fill="#e0e0e0" opacity="0.33"/><circle cx="443.4" cy="800.3" r="1.1" fill="#e0e0e0" opacity="0.49"/><circle cx="508.4" cy="725.4" r="0.8" fill="#e0e0e0" opacity="0.70"/><circle cx="450.8" cy="684.3" r="0.7" fill="#e0e0e0" opacity="0.48"/><circle cx="466.4" cy="687.0" r="1.1" fill="#e0e0e0" opacity="0.32"/><circle cx="429.3" cy="800.4" r="1.1" fill="#e0e0e0" opacity="0.37"/><circle cx="415.1" cy="721.2" r="0.5" fill="#e0e0e0" opacity="0.87"/><circle cx="524.7" cy="737.3" r="0.7" fill="#e0e0e0" opacity="0.36"/><circle cx="554.9" cy="753.8" r="1.0" fill="#e0e0e0" opacity="0.79"/><circle cx="411.8" cy="794.4" r="0.5" fill="#e0e0e0" opacity="0.67"/><circle cx="434.9" cy="796.2" r="1.0" fill="#e0e0e0" opacity="0.32"/><circle cx="414.6" cy="729.1" r="0.8" fill="#e0e0e0" opacity="0.59"/><circle cx="438.5" cy="797.8" r="0.6" fill="#e0e0e0" opacity="0.53"/><circle cx="506.3" cy="819.1" r="1.1" fill="#e0e0e0" opacity="0.46"/><circle cx="554.7" cy="760.7" r="0.6" fill="#e0e0e0" opacity="0.37"/><circle cx="459.2" cy="686.0" r="0.7" fill="#e0e0e0" opacity="0.73"/><circle cx="562.4" cy="772.3" r="0.7" fill="#e0e0e0" opacity="0.73"/><circle cx="568.7" cy="809.2" r="0.9" fill="#e0e0e0" opacity="0.56"/><circle cx="453.9" cy="812.1" r="1.0" fill="#e0e0e0" opacity="0.40"/><circle cx="523.3" cy="748.6" r="1.0" fill="#e0e0e0" opacity="0.58"/><circle cx="446.8" cy="804.0" r="1.0" fill="#e0e0e0" opacity="0.73"/><circle cx="416.8" cy="727.0" r="0.8" fill="#e0e0e0" opacity="0.61"/><circle cx="469.9" cy="690.8" r="0.6" fill="#e0e0e0" opacity="0.87"/><circle cx="412.7" cy="781.3" r="0.6" fill="#e0e0e0" opacity="0.62"/><circle cx="570.5" cy="792.5" r="1.1" fill="#e0e0e0" opacity="0.59"/><circle cx="416.3" cy="771.1" r="1.1" fill="#e0e0e0" opacity="0.55"/><circle cx="571.6" cy="783.3" r="1.1" fill="#e0e0e0" opacity="0.86"/><circle cx="559.7" cy="777.5" r="0.5" fill="#e0e0e0" opacity="0.68"/><circle cx="453.0" cy="810.6" r="1.1" fill="#e0e0e0" opacity="0.33"/><circle cx="482.1" cy="813.6" r="0.6" fill="#e0e0e0" opacity="0.36"/><circle cx="421.8" cy="693.6" r="0.8" fill="#e0e0e0" opacity="0.70"/><circle cx="489.5" cy="814.9" r="0.6" fill="#e0e0e0" opacity="0.82"/><circle cx="436.1" cy="681.2" r="0.9" fill="#e0e0e0" opacity="0.69"/><circle cx="510.9" cy="821.9" r="0.6" fill="#e0e0e0" opacity="0.48"/><circle cx="575.3" cy="817.4" r="1.1" fill="#e0e0e0" opacity="0.82"/><circle cx="410.7" cy="787.1" r="0.6" fill="#e0e0e0" opacity="0.79"/><circle cx="529.2" cy="741.6" r="0.5" fill="#e0e0e0" opacity="0.31"/><circle cx="481.4" cy="688.2" r="0.6" fill="#e0e0e0" opacity="0.85"/><circle cx="574.3" cy="806.8" r="0.8" fill="#e0e0e0" opacity="0.83"/><circle cx="473.3" cy="690.0" r="0.9" fill="#e0e0e0" opacity="0.38"/><circle cx="434.8" cy="683.4" r="1.0" fill="#e0e0e0" opacity="0.40"/><circle cx="506.9" cy="726.8" r="0.7" fill="#e0e0e0" opacity="0.74"/><circle cx="570.8" cy="794.9" r="0.9" fill="#e0e0e0" opacity="0.81"/><circle cx="496.5" cy="718.5" r="0.7" fill="#e0e0e0" opacity="0.75"/><circle cx="486.6" cy="705.0" r="0.9" fill="#e0e0e0" opacity="0.82"/><circle cx="497.2" cy="818.5" r="0.9" fill="#e0e0e0" opacity="0.32"/><circle cx="414.0" cy="759.0" r="0.9" fill="#e0e0e0" opacity="0.35"/><circle cx="458.1" cy="810.8" r="0.5" fill="#e0e0e0" opacity="0.57"/><circle cx="443.4" cy="682.1" r="0.9" fill="#e0e0e0" opacity="0.69"/><circle cx="506.3" cy="710.5" r="0.8" fill="#e0e0e0" opacity="0.43"/><circle cx="415.4" cy="726.8" r="0.7" fill="#e0e0e0" opacity="0.54"/><circle cx="467.5" cy="690.4" r="0.8" fill="#e0e0e0" opacity="0.81"/><circle cx="475.8" cy="818.8" r="0.9" fill="#e0e0e0" opacity="0.49"/><circle cx="420.9" cy="707.3" r="0.8" fill="#e0e0e0" opacity="0.54"/><circle cx="412.2" cy="746.9" r="0.9" fill="#e0e0e0" opacity="0.33"/><circle cx="460.7" cy="806.3" r="1.0" fill="#e0e0e0" opacity="0.91"/><circle cx="409.0" cy="757.4" r="0.6" fill="#e0e0e0" opacity="0.80"/><circle cx="471.2" cy="814.6" r="1.1" fill="#e0e0e0" opacity="0.69"/><circle cx="408.3" cy="761.8" r="0.8" fill="#e0e0e0" opacity="0.78"/><circle cx="491.1" cy="700.2" r="0.5" fill="#e0e0e0" opacity="0.78"/><circle cx="505.1" cy="713.6" r="1.0" fill="#e0e0e0" opacity="0.39"/><circle cx="567.6" cy="781.3" r="0.5" fill="#e0e0e0" opacity="0.71"/><circle cx="423.4" cy="696.5" r="0.5" fill="#e0e0e0" opacity="0.40"/><circle cx="457.9" cy="809.7" r="1.0" fill="#e0e0e0" opacity="0.47"/><circle cx="527.8" cy="818.1" r="0.6" fill="#e0e0e0" opacity="0.36"/><circle cx="545.5" cy="753.8" r="0.7" fill="#e0e0e0" opacity="0.48"/><circle cx="498.5" cy="720.8" r="0.6" fill="#e0e0e0" opacity="0.31"/><circle cx="489.9" cy="712.1" r="1.1" fill="#e0e0e0" opacity="0.75"/><circle cx="417.3" cy="772.6" r="0.5" fill="#e0e0e0" opacity="0.45"/><circle cx="413.2" cy="767.6" r="0.9" fill="#e0e0e0" opacity="0.62"/><circle cx="534.8" cy="750.0" r="0.7" fill="#e0e0e0" opacity="0.87"/><circle cx="411.7" cy="737.9" r="1.1" fill="#e0e0e0" opacity="0.45"/><circle cx="418.8" cy="707.5" r="1.0" fill="#e0e0e0" opacity="0.68"/><circle cx="410.6" cy="766.0" r="1.0" fill="#e0e0e0" opacity="0.94"/><circle cx="420.7" cy="785.5" r="0.7" fill="#e0e0e0" opacity="0.74"/><circle cx="568.1" cy="797.5" r="1.0" fill="#e0e0e0" opacity="0.50"/><circle cx="461.4" cy="804.9" r="1.0" fill="#e0e0e0" opacity="0.41"/><circle cx="510.0" cy="719.7" r="1.0" fill="#e0e0e0" opacity="0.47"/><circle cx="437.9" cy="805.1" r="0.6" fill="#e0e0e0" opacity="0.61"/><circle cx="431.3" cy="799.6" r="1.0" fill="#e0e0e0" opacity="0.86"/><circle cx="564.1" cy="780.1" r="0.7" fill="#e0e0e0" opacity="0.87"/><circle cx="512.7" cy="726.0" r="1.1" fill="#e0e0e0" opacity="0.47"/><circle cx="463.4" cy="810.2" r="0.8" fill="#e0e0e0" opacity="0.86"/><circle cx="416.5" cy="781.3" r="0.8" fill="#e0e0e0" opacity="0.44"/><circle cx="555.6" cy="771.8" r="0.7" fill="#e0e0e0" opacity="0.66"/><circle cx="568.6" cy="811.8" r="0.6" fill="#e0e0e0" opacity="0.71"/><circle cx="412.5" cy="771.4" r="0.5" fill="#e0e0e0" opacity="0.43"/><circle cx="579.1" cy="795.2" r="1.0" fill="#e0e0e0" opacity="0.35"/><circle cx="550.1" cy="762.4" r="0.7" fill="#e0e0e0" opacity="0.39"/><circle cx="403.3" cy="737.4" r="0.5" fill="#e0e0e0" opacity="0.66"/><circle cx="552.8" cy="772.0" r="0.5" fill="#e0e0e0" opacity="0.92"/><circle cx="414.7" cy="784.0" r="0.8" fill="#e0e0e0" opacity="0.91"/><circle cx="416.3" cy="753.4" r="0.5" fill="#e0e0e0" opacity="0.42"/><circle cx="416.7" cy="702.5" r="0.9" fill="#e0e0e0" opacity="0.52"/><circle cx="407.5" cy="737.5" r="0.6" fill="#e0e0e0" opacity="0.61"/><circle cx="581.0" cy="797.1" r="0.9" fill="#e0e0e0" opacity="0.88"/><circle cx="537.4" cy="815.7" r="1.1" fill="#e0e0e0" opacity="0.81"/><circle cx="417.0" cy="782.9" r="1.0" fill="#e0e0e0" opacity="0.90"/><circle cx="415.1" cy="740.0" r="0.8" fill="#e0e0e0" opacity="0.89"/><circle cx="413.1" cy="776.3" r="0.6" fill="#e0e0e0" opacity="0.91"/><circle cx="412.4" cy="728.9" r="0.5" fill="#e0e0e0" opacity="0.87"/><circle cx="443.1" cy="814.9" r="0.5" fill="#e0e0e0" opacity="0.42"/><circle cx="404.5" cy="768.3" r="0.6" fill="#e0e0e0" opacity="0.89"/><circle cx="555.7" cy="815.3" r="1.0" fill="#e0e0e0" opacity="0.69"/><circle cx="563.8" cy="821.9" r="0.7" fill="#e0e0e0" opacity="0.82"/><circle cx="420.1" cy="788.3" r="0.6" fill="#e0e0e0" opacity="0.85"/><circle cx="483.1" cy="816.7" r="0.5" fill="#e0e0e0" opacity="0.88"/><circle cx="499.3" cy="718.4" r="0.9" fill="#e0e0e0" opacity="0.74"/><circle cx="502.5" cy="723.7" r="0.9" fill="#e0e0e0" opacity="0.39"/><circle cx="430.3" cy="688.3" r="1.1" fill="#e0e0e0" opacity="0.74"/><circle cx="554.1" cy="814.8" r="0.5" fill="#e0e0e0" opacity="0.32"/><circle cx="429.7" cy="687.1" r="0.9" fill="#e0e0e0" opacity="0.41"/><circle cx="409.9" cy="753.8" r="0.7" fill="#e0e0e0" opacity="0.64"/><circle cx="529.1" cy="743.6" r="0.6" fill="#e0e0e0" opacity="0.49"/><circle cx="535.1" cy="748.0" r="1.1" fill="#e0e0e0" opacity="0.54"/><circle cx="510.5" cy="820.1" r="0.7" fill="#e0e0e0" opacity="0.56"/><circle cx="419.8" cy="686.2" r="0.8" fill="#e0e0e0" opacity="0.45"/><circle cx="419.0" cy="735.0" r="0.7" fill="#e0e0e0" opacity="0.94"/><circle cx="503.0" cy="723.3" r="1.0" fill="#e0e0e0" opacity="0.87"/><circle cx="508.3" cy="821.8" r="0.6" fill="#e0e0e0" opacity="0.58"/><circle cx="540.9" cy="749.9" r="0.6" fill="#e0e0e0" opacity="0.58"/><circle cx="411.7" cy="761.8" r="1.1" fill="#e0e0e0" opacity="0.42"/><circle cx="498.3" cy="718.9" r="1.1" fill="#e0e0e0" opacity="0.81"/><circle cx="446.0" cy="801.2" r="0.6" fill="#e0e0e0" opacity="0.83"/><circle cx="517.4" cy="818.2" r="1.0" fill="#e0e0e0" opacity="0.35"/><circle cx="529.7" cy="823.5" r="0.6" fill="#e0e0e0" opacity="0.46"/><circle cx="459.6" cy="808.7" r="0.7" fill="#e0e0e0" opacity="0.59"/><circle cx="406.4" cy="746.1" r="1.0" fill="#e0e0e0" opacity="0.81"/><circle cx="441.2" cy="804.7" r="0.6" fill="#e0e0e0" opacity="0.91"/><circle cx="509.6" cy="816.5" r="0.8" fill="#e0e0e0" opacity="0.55"/><circle cx="418.4" cy="751.2" r="0.9" fill="#e0e0e0" opacity="0.38"/><circle cx="443.1" cy="686.0" r="0.9" fill="#e0e0e0" opacity="0.40"/><circle cx="432.0" cy="802.5" r="1.1" fill="#e0e0e0" opacity="0.78"/><circle cx="473.7" cy="685.5" r="0.9" fill="#e0e0e0" opacity="0.70"/><circle cx="415.0" cy="695.5" r="0.6" fill="#e0e0e0" opacity="0.70"/><circle cx="512.6" cy="732.7" r="0.9" fill="#e0e0e0" opacity="0.91"/><circle cx="418.9" cy="699.7" r="0.6" fill="#e0e0e0" opacity="0.85"/><circle cx="421.9" cy="691.1" r="0.6" fill="#e0e0e0" opacity="0.44"/><circle cx="430.6" cy="798.3" r="1.0" fill="#e0e0e0" opacity="0.55"/><circle cx="422.0" cy="697.7" r="0.8" fill="#e0e0e0" opacity="0.37"/><circle cx="432.2" cy="681.0" r="0.8" fill="#e0e0e0" opacity="0.92"/><circle cx="552.3" cy="809.5" r="0.6" fill="#e0e0e0" opacity="0.87"/><circle cx="420.3" cy="704.8" r="0.9" fill="#e0e0e0" opacity="0.73"/><circle cx="432.4" cy="799.1" r="1.0" fill="#e0e0e0" opacity="0.81"/><circle cx="454.4" cy="683.6" r="0.8" fill="#e0e0e0" opacity="0.60"/><circle cx="560.3" cy="768.5" r="0.5" fill="#e0e0e0" opacity="0.54"/><circle cx="413.4" cy="777.8" r="1.0" fill="#e0e0e0" opacity="0.56"/><circle cx="568.8" cy="778.1" r="0.5" fill="#e0e0e0" opacity="0.45"/><circle cx="491.8" cy="821.9" r="0.7" fill="#e0e0e0" opacity="0.84"/><circle cx="478.4" cy="810.6" r="0.7" fill="#e0e0e0" opacity="0.75"/><circle cx="411.0" cy="757.9" r="0.9" fill="#e0e0e0" opacity="0.33"/><circle cx="482.1" cy="819.9" r="0.7" fill="#e0e0e0" opacity="0.63"/><circle cx="561.7" cy="774.9" r="1.0" fill="#e0e0e0" opacity="0.77"/><circle cx="574.7" cy="794.7" r="0.9" fill="#e0e0e0" opacity="0.59"/><circle cx="449.3" cy="802.5" r="0.5" fill="#e0e0e0" opacity="0.91"/><circle cx="506.1" cy="727.7" r="0.9" fill="#e0e0e0" opacity="0.61"/><circle cx="563.8" cy="776.9" r="0.6" fill="#e0e0e0" opacity="0.82"/><circle cx="557.0" cy="809.9" r="1.0" fill="#e0e0e0" opacity="0.72"/><circle cx="479.5" cy="701.5" r="1.1" fill="#e0e0e0" opacity="0.63"/><circle cx="524.4" cy="739.8" r="0.8" fill="#e0e0e0" opacity="0.63"/><circle cx="414.4" cy="759.6" r="0.9" fill="#e0e0e0" opacity="0.35"/><circle cx="419.7" cy="698.2" r="0.7" fill="#e0e0e0" opacity="0.75"/><circle cx="452.5" cy="817.4" r="0.7" fill="#e0e0e0" opacity="0.47"/><circle cx="533.9" cy="748.4" r="1.1" fill="#e0e0e0" opacity="0.33"/><circle cx="464.7" cy="811.7" r="0.7" fill="#e0e0e0" opacity="0.73"/><circle cx="506.5" cy="725.2" r="0.5" fill="#e0e0e0" opacity="0.45"/><circle cx="552.5" cy="752.2" r="1.0" fill="#e0e0e0" opacity="0.48"/><circle cx="432.3" cy="801.9" r="0.8" fill="#e0e0e0" opacity="0.73"/><circle cx="433.1" cy="794.3" r="0.8" fill="#e0e0e0" opacity="0.33"/><circle cx="417.1" cy="779.5" r="0.7" fill="#e0e0e0" opacity="0.91"/><circle cx="500.4" cy="810.0" r="0.6" fill="#e0e0e0" opacity="0.65"/><circle cx="496.4" cy="815.8" r="0.5" fill="#e0e0e0" opacity="0.90"/><circle cx="493.1" cy="812.4" r="0.5" fill="#e0e0e0" opacity="0.65"/><circle cx="552.8" cy="760.6" r="0.6" fill="#e0e0e0" opacity="0.35"/><circle cx="438.6" cy="801.5" r="0.9" fill="#e0e0e0" opacity="0.36"/><circle cx="415.4" cy="692.2" r="0.8" fill="#e0e0e0" opacity="0.82"/><circle cx="457.8" cy="812.9" r="0.6" fill="#e0e0e0" opacity="0.87"/><circle cx="490.7" cy="710.3" r="1.1" fill="#e0e0e0" opacity="0.80"/><circle cx="502.2" cy="704.8" r="0.5" fill="#e0e0e0" opacity="0.63"/><circle cx="571.3" cy="789.4" r="1.0" fill="#e0e0e0" opacity="0.92"/><circle cx="572.9" cy="801.9" r="0.6" fill="#e0e0e0" opacity="0.87"/><circle cx="547.6" cy="758.4" r="0.9" fill="#e0e0e0" opacity="0.36"/><circle cx="579.8" cy="803.8" r="1.0" fill="#e0e0e0" opacity="0.43"/><circle cx="516.7" cy="811.0" r="0.8" fill="#e0e0e0" opacity="0.62"/><circle cx="408.2" cy="743.6" r="1.1" fill="#e0e0e0" opacity="0.34"/><circle cx="423.3" cy="699.1" r="1.0" fill="#e0e0e0" opacity="0.53"/><circle cx="572.6" cy="807.9" r="0.8" fill="#e0e0e0" opacity="0.75"/><circle cx="441.1" cy="806.8" r="1.0" fill="#e0e0e0" opacity="0.56"/><circle cx="438.4" cy="801.6" r="0.8" fill="#e0e0e0" opacity="0.78"/><circle cx="465.1" cy="686.4" r="0.6" fill="#e0e0e0" opacity="0.82"/><circle cx="560.8" cy="763.8" r="1.1" fill="#e0e0e0" opacity="0.68"/><circle cx="405.5" cy="710.8" r="0.5" fill="#e0e0e0" opacity="0.40"/><circle cx="488.2" cy="813.8" r="1.1" fill="#e0e0e0" opacity="0.45"/><circle cx="516.3" cy="818.0" r="0.6" fill="#e0e0e0" opacity="0.94"/><circle cx="467.7" cy="809.5" r="0.6" fill="#e0e0e0" opacity="0.49"/><circle cx="578.2" cy="811.5" r="0.5" fill="#e0e0e0" opacity="0.76"/><circle cx="466.5" cy="810.4" r="0.8" fill="#e0e0e0" opacity="0.40"/><circle cx="526.7" cy="751.3" r="1.0" fill="#e0e0e0" opacity="0.86"/><circle cx="497.2" cy="717.0" r="0.6" fill="#e0e0e0" opacity="0.75"/><circle cx="407.3" cy="756.8" r="0.8" fill="#e0e0e0" opacity="0.42"/><circle cx="448.2" cy="802.5" r="1.0" fill="#e0e0e0" opacity="0.48"/><circle cx="576.5" cy="808.9" r="0.7" fill="#e0e0e0" opacity="0.86"/><circle cx="442.7" cy="795.5" r="1.0" fill="#e0e0e0" opacity="0.59"/><circle cx="459.1" cy="804.8" r="1.1" fill="#e0e0e0" opacity="0.62"/><circle cx="575.2" cy="795.2" r="0.5" fill="#e0e0e0" opacity="0.35"/><circle cx="494.4" cy="716.5" r="1.0" fill="#e0e0e0" opacity="0.85"/><circle cx="445.2" cy="803.9" r="0.9" fill="#e0e0e0" opacity="0.87"/><circle cx="547.2" cy="761.3" r="1.0" fill="#e0e0e0" opacity="0.40"/><circle cx="411.9" cy="767.2" r="0.6" fill="#e0e0e0" opacity="0.57"/><circle cx="552.6" cy="817.8" r="0.5" fill="#e0e0e0" opacity="0.49"/><circle cx="410.0" cy="728.2" r="0.5" fill="#e0e0e0" opacity="0.95"/><circle cx="572.5" cy="805.2" r="1.0" fill="#e0e0e0" opacity="0.92"/><circle cx="574.5" cy="804.4" r="0.6" fill="#e0e0e0" opacity="0.75"/><circle cx="418.7" cy="691.9" r="1.0" fill="#e0e0e0" opacity="0.56"/><circle cx="537.5" cy="745.5" r="0.6" fill="#e0e0e0" opacity="0.82"/><circle cx="510.5" cy="813.5" r="0.8" fill="#e0e0e0" opacity="0.35"/><circle cx="566.9" cy="775.8" r="0.8" fill="#e0e0e0" opacity="0.62"/><circle cx="573.2" cy="790.6" r="0.9" fill="#e0e0e0" opacity="0.55"/><circle cx="440.5" cy="794.0" r="0.8" fill="#e0e0e0" opacity="0.45"/><circle cx="434.1" cy="796.3" r="0.5" fill="#e0e0e0" opacity="0.31"/><circle cx="424.5" cy="804.8" r="0.6" fill="#e0e0e0" opacity="0.73"/><circle cx="428.3" cy="687.7" r="0.5" fill="#e0e0e0" opacity="0.71"/><circle cx="482.8" cy="703.9" r="0.7" fill="#e0e0e0" opacity="0.60"/><circle cx="479.5" cy="818.8" r="1.1" fill="#e0e0e0" opacity="0.47"/><circle cx="409.8" cy="769.7" r="0.9" fill="#e0e0e0" opacity="0.57"/><circle cx="510.5" cy="813.1" r="0.6" fill="#e0e0e0" opacity="0.69"/><circle cx="420.6" cy="735.2" r="0.7" fill="#e0e0e0" opacity="0.69"/><circle cx="475.5" cy="689.3" r="0.8" fill="#e0e0e0" opacity="0.33"/><circle cx="576.1" cy="793.5" r="0.5" fill="#e0e0e0" opacity="0.69"/><circle cx="404.0" cy="756.1" r="1.0" fill="#e0e0e0" opacity="0.60"/><circle cx="569.7" cy="805.9" r="0.9" fill="#e0e0e0" opacity="0.79"/><circle cx="434.4" cy="799.2" r="0.6" fill="#e0e0e0" opacity="0.62"/><circle cx="493.8" cy="818.5" r="1.0" fill="#e0e0e0" opacity="0.79"/><circle cx="429.0" cy="686.9" r="0.6" fill="#e0e0e0" opacity="0.77"/><circle cx="460.6" cy="811.7" r="0.8" fill="#e0e0e0" opacity="0.61"/><circle cx="492.8" cy="712.2" r="0.7" fill="#e0e0e0" opacity="0.86"/><circle cx="549.7" cy="755.0" r="0.5" fill="#e0e0e0" opacity="0.58"/><circle cx="415.6" cy="698.1" r="0.5" fill="#e0e0e0" opacity="0.71"/><circle cx="425.4" cy="694.6" r="0.5" fill="#e0e0e0" opacity="0.31"/><circle cx="454.8" cy="818.5" r="0.6" fill="#e0e0e0" opacity="0.40"/><circle cx="480.1" cy="815.9" r="0.9" fill="#e0e0e0" opacity="0.78"/><circle cx="416.0" cy="789.1" r="0.5" fill="#e0e0e0" opacity="0.59"/><circle cx="444.0" cy="802.3" r="0.8" fill="#e0e0e0" opacity="0.66"/><circle cx="576.6" cy="806.4" r="1.1" fill="#e0e0e0" opacity="0.54"/><circle cx="572.3" cy="804.1" r="0.8" fill="#e0e0e0" opacity="0.68"/><circle cx="413.9" cy="756.5" r="0.8" fill="#e0e0e0" opacity="0.38"/><circle cx="430.1" cy="687.3" r="0.9" fill="#e0e0e0" opacity="0.82"/><circle cx="503.2" cy="716.8" r="1.0" fill="#e0e0e0" opacity="0.92"/><circle cx="483.1" cy="815.9" r="0.5" fill="#e0e0e0" opacity="0.74"/><circle cx="485.4" cy="697.7" r="0.6" fill="#e0e0e0" opacity="0.44"/><circle cx="426.2" cy="796.6" r="0.6" fill="#e0e0e0" opacity="0.42"/><circle cx="410.2" cy="746.9" r="0.6" fill="#e0e0e0" opacity="0.39"/><circle cx="425.3" cy="786.9" r="1.0" fill="#e0e0e0" opacity="0.63"/><circle cx="508.3" cy="735.8" r="1.0" fill="#e0e0e0" opacity="0.89"/><circle cx="498.1" cy="724.6" r="0.5" fill="#e0e0e0" opacity="0.64"/><circle cx="495.8" cy="717.6" r="0.8" fill="#e0e0e0" opacity="0.83"/><circle cx="574.9" cy="794.1" r="1.1" fill="#e0e0e0" opacity="0.87"/><circle cx="412.3" cy="776.7" r="0.5" fill="#e0e0e0" opacity="0.58"/><circle cx="421.6" cy="786.1" r="0.9" fill="#e0e0e0" opacity="0.54"/><circle cx="458.6" cy="812.5" r="0.7" fill="#e0e0e0" opacity="0.67"/><circle cx="417.8" cy="771.3" r="0.7" fill="#e0e0e0" opacity="0.72"/><circle cx="410.5" cy="749.1" r="0.8" fill="#e0e0e0" opacity="0.36"/><circle cx="422.1" cy="788.5" r="1.0" fill="#e0e0e0" opacity="0.35"/><circle cx="481.8" cy="812.9" r="0.5" fill="#e0e0e0" opacity="0.49"/><circle cx="433.2" cy="802.9" r="1.1" fill="#e0e0e0" opacity="0.53"/><circle cx="511.8" cy="815.5" r="0.7" fill="#e0e0e0" opacity="0.78"/><circle cx="570.9" cy="813.7" r="0.8" fill="#e0e0e0" opacity="0.49"/><circle cx="531.2" cy="744.5" r="0.8" fill="#e0e0e0" opacity="0.55"/><circle cx="427.9" cy="801.2" r="0.9" fill="#e0e0e0" opacity="0.71"/><circle cx="571.7" cy="795.0" r="0.7" fill="#e0e0e0" opacity="0.94"/><circle cx="469.5" cy="690.9" r="0.9" fill="#e0e0e0" opacity="0.48"/><circle cx="423.0" cy="686.5" r="0.8" fill="#e0e0e0" opacity="0.83"/><circle cx="538.5" cy="751.4" r="0.5" fill="#e0e0e0" opacity="0.87"/><circle cx="523.7" cy="820.1" r="0.7" fill="#e0e0e0" opacity="0.80"/><circle cx="414.8" cy="695.5" r="1.0" fill="#e0e0e0" opacity="0.37"/><circle cx="428.2" cy="793.1" r="1.0" fill="#e0e0e0" opacity="0.63"/><circle cx="418.2" cy="796.2" r="0.5" fill="#e0e0e0" opacity="0.57"/><circle cx="503.2" cy="727.3" r="0.5" fill="#e0e0e0" opacity="0.49"/><circle cx="531.2" cy="741.2" r="0.9" fill="#e0e0e0" opacity="0.51"/><circle cx="415.1" cy="784.5" r="0.8" fill="#e0e0e0" opacity="0.76"/><circle cx="540.0" cy="750.8" r="0.9" fill="#e0e0e0" opacity="0.88"/><circle cx="423.2" cy="697.8" r="0.7" fill="#e0e0e0" opacity="0.88"/><circle cx="413.6" cy="723.3" r="0.8" fill="#e0e0e0" opacity="0.72"/><circle cx="578.7" cy="802.9" r="0.7" fill="#e0e0e0" opacity="0.42"/><circle cx="461.6" cy="687.0" r="1.0" fill="#e0e0e0" opacity="0.73"/><circle cx="476.7" cy="686.6" r="1.0" fill="#e0e0e0" opacity="0.32"/><circle cx="546.7" cy="760.6" r="0.5" fill="#e0e0e0" opacity="0.78"/><circle cx="545.2" cy="816.0" r="0.5" fill="#e0e0e0" opacity="0.85"/><circle cx="521.6" cy="750.7" r="0.9" fill="#e0e0e0" opacity="0.51"/><circle cx="436.7" cy="798.1" r="0.5" fill="#e0e0e0" opacity="0.95"/><circle cx="412.0" cy="704.7" r="0.9" fill="#e0e0e0" opacity="0.46"/><circle cx="456.7" cy="807.7" r="0.5" fill="#e0e0e0" opacity="0.89"/><circle cx="569.6" cy="786.6" r="0.6" fill="#e0e0e0" opacity="0.71"/><circle cx="402.2" cy="729.4" r="0.9" fill="#e0e0e0" opacity="0.33"/><circle cx="450.5" cy="803.9" r="0.8" fill="#e0e0e0" opacity="0.91"/><circle cx="486.4" cy="700.0" r="0.7" fill="#e0e0e0" opacity="0.55"/><circle cx="522.7" cy="739.8" r="0.5" fill="#e0e0e0" opacity="0.91"/><circle cx="419.6" cy="703.6" r="0.9" fill="#e0e0e0" opacity="0.51"/><circle cx="432.5" cy="682.0" r="1.0" fill="#e0e0e0" opacity="0.76"/><circle cx="504.7" cy="817.9" r="0.7" fill="#e0e0e0" opacity="0.51"/><circle cx="477.3" cy="813.5" r="0.7" fill="#e0e0e0" opacity="0.30"/><circle cx="536.5" cy="750.4" r="0.5" fill="#e0e0e0" opacity="0.62"/><circle cx="557.8" cy="755.4" r="0.5" fill="#e0e0e0" opacity="0.33"/><circle cx="419.9" cy="704.3" r="0.9" fill="#e0e0e0" opacity="0.81"/><circle cx="422.8" cy="782.5" r="0.9" fill="#e0e0e0" opacity="0.90"/><circle cx="455.2" cy="813.7" r="0.6" fill="#e0e0e0" opacity="0.71"/><circle cx="508.3" cy="725.7" r="0.9" fill="#e0e0e0" opacity="0.82"/><circle cx="435.7" cy="796.1" r="0.8" fill="#e0e0e0" opacity="0.88"/><circle cx="472.7" cy="690.5" r="1.0" fill="#e0e0e0" opacity="0.55"/><circle cx="427.1" cy="694.6" r="0.5" fill="#e0e0e0" opacity="0.57"/><circle cx="556.9" cy="767.5" r="0.6" fill="#e0e0e0" opacity="0.44"/><circle cx="408.4" cy="761.7" r="0.8" fill="#e0e0e0" opacity="0.72"/><circle cx="457.1" cy="803.5" r="1.1" fill="#e0e0e0" opacity="0.60"/><circle cx="563.7" cy="819.1" r="0.8" fill="#e0e0e0" opacity="0.63"/><circle cx="430.1" cy="690.9" r="1.1" fill="#e0e0e0" opacity="0.33"/><circle cx="409.0" cy="755.4" r="0.7" fill="#e0e0e0" opacity="0.94"/><circle cx="571.1" cy="803.1" r="1.0" fill="#e0e0e0" opacity="0.59"/><circle cx="415.7" cy="709.5" r="0.7" fill="#e0e0e0" opacity="0.51"/><circle cx="456.4" cy="811.0" r="0.8" fill="#e0e0e0" opacity="0.67"/><circle cx="413.9" cy="763.9" r="0.9" fill="#e0e0e0" opacity="0.44"/><circle cx="497.2" cy="724.0" r="0.7" fill="#e0e0e0" opacity="0.65"/><circle cx="574.7" cy="787.9" r="1.1" fill="#e0e0e0" opacity="0.35"/><circle cx="463.3" cy="811.5" r="0.7" fill="#e0e0e0" opacity="0.30"/><circle cx="575.7" cy="794.3" r="0.7" fill="#e0e0e0" opacity="0.85"/><circle cx="571.1" cy="786.7" r="0.7" fill="#e0e0e0" opacity="0.76"/><circle cx="415.0" cy="779.9" r="0.8" fill="#e0e0e0" opacity="0.30"/><circle cx="507.0" cy="826.9" r="0.5" fill="#e0e0e0" opacity="0.74"/><circle cx="561.9" cy="820.5" r="0.5" fill="#e0e0e0" opacity="0.79"/><circle cx="506.0" cy="725.0" r="0.6" fill="#e0e0e0" opacity="0.34"/><circle cx="476.7" cy="690.3" r="0.5" fill="#e0e0e0" opacity="0.89"/><circle cx="408.7" cy="732.7" r="0.9" fill="#e0e0e0" opacity="0.47"/><circle cx="541.8" cy="821.6" r="1.0" fill="#e0e0e0" opacity="0.41"/><circle cx="415.1" cy="739.3" r="0.9" fill="#e0e0e0" opacity="0.84"/><circle cx="436.5" cy="807.5" r="0.6" fill="#e0e0e0" opacity="0.55"/><circle cx="428.2" cy="800.7" r="0.6" fill="#e0e0e0" opacity="0.88"/><circle cx="560.2" cy="758.8" r="0.8" fill="#e0e0e0" opacity="0.90"/><circle cx="575.1" cy="789.3" r="1.0" fill="#e0e0e0" opacity="0.93"/><circle cx="464.8" cy="803.9" r="1.0" fill="#e0e0e0" opacity="0.66"/><circle cx="415.4" cy="788.5" r="0.7" fill="#e0e0e0" opacity="0.88"/><circle cx="522.1" cy="813.0" r="0.7" fill="#e0e0e0" opacity="0.40"/><circle cx="548.5" cy="757.9" r="0.9" fill="#e0e0e0" opacity="0.93"/><circle cx="565.9" cy="818.3" r="0.8" fill="#e0e0e0" opacity="0.44"/><circle cx="409.2" cy="738.5" r="0.9" fill="#e0e0e0" opacity="0.82"/><circle cx="553.8" cy="817.8" r="0.7" fill="#e0e0e0" opacity="0.50"/><circle cx="409.3" cy="738.1" r="0.6" fill="#e0e0e0" opacity="0.67"/><circle cx="432.4" cy="791.3" r="0.9" fill="#e0e0e0" opacity="0.85"/><circle cx="417.2" cy="702.1" r="0.5" fill="#e0e0e0" opacity="0.46"/><circle cx="571.2" cy="783.5" r="0.8" fill="#e0e0e0" opacity="0.79"/><circle cx="422.2" cy="692.1" r="0.8" fill="#e0e0e0" opacity="0.48"/><circle cx="552.1" cy="755.7" r="0.6" fill="#e0e0e0" opacity="0.57"/><circle cx="471.3" cy="690.8" r="0.9" fill="#e0e0e0" opacity="0.57"/><circle cx="561.5" cy="818.5" r="0.7" fill="#e0e0e0" opacity="0.88"/><circle cx="544.6" cy="823.0" r="0.7" fill="#e0e0e0" opacity="0.62"/><circle cx="407.9" cy="747.4" r="1.0" fill="#e0e0e0" opacity="0.80"/><circle cx="411.8" cy="774.6" r="0.9" fill="#e0e0e0" opacity="0.94"/><circle cx="545.3" cy="768.4" r="0.6" fill="#e0e0e0" opacity="0.87"/><circle cx="536.9" cy="755.5" r="0.5" fill="#e0e0e0" opacity="0.76"/><circle cx="478.2" cy="810.2" r="0.7" fill="#e0e0e0" opacity="0.44"/><circle cx="414.8" cy="777.8" r="0.9" fill="#e0e0e0" opacity="0.67"/><circle cx="473.3" cy="738.3" r="2.3" fill="#fff"/><circle cx="463.9" cy="778.6" r="2.3" fill="#fff"/></g>
<g clip-path="url(#cp4)"><g filter="url(#bl4)" opacity="0.55"><ellipse cx="652" cy="762" rx="36" ry="28" fill="#4a4a4a" transform="rotate(30 652 762)"/></g><g filter="url(#bl1)"><path d="M627 742 C635 733 650 735 662 745 C670 752 676 762 677 771 C672 782 662 786 650 784 C638 783 630 775 628 762 C626 752 625 746 627 742 Z" fill="#202020" stroke="#b0b0b0" stroke-width="3"/></g><g filter="url(#bl1)"><path d="M677.4 771.0 L700.2 769.1 M677.4 771.0 L689.9 770.0 M677.4 771.0 L696.5 774.1 M677.4 771.0 L692.3 777.8 M677.4 771.0 L693.5 781.1 M677.4 771.0 L693.4 781.9 M677.4 771.0 L689.7 784.1 M677.4 771.0 L690.0 781.9 M677.4 771.0 L690.2 784.8 M677.4 771.0 L691.0 786.4 M677.4 771.0 L685.5 784.6 M677.4 771.0 L688.9 790.7 M677.4 771.0 L685.4 793.2 M677.4 771.0 L682.1 788.3 M677.4 771.0 L677.2 790.8 M677.4 771.0 L678.8 794.6 M677.4 771.0 L678.2 787.3 M677.4 771.0 L675.2 794.1 M677.4 771.0 L673.8 788.6 M677.4 771.0 L670.5 792.7 M677.4 771.0 L664.3 787.4 M677.4 771.0 L666.9 788.9 M677.4 771.0 L666.5 786.5 M677.4 771.0 L664.2 779.1 M677.4 771.0 L661.0 783.6 M677.4 771.0 L663.7 782.0 M677.4 771.0 L660.4 775.6 M677.4 771.0 L662.1 774.0 M677.4 771.0 L661.7 773.4 M677.4 771.0 L661.2 772.2 M677.4 771.0 L663.5 770.8 M677.4 771.0 L657.4 770.9 M677.4 771.0 L657.5 769.4 M677.4 771.0 L665.3 765.3 M677.4 771.0 L657.3 762.3 M677.4 771.0 L657.9 757.4 M677.4 771.0 L657.6 760.6 M677.4 771.0 L660.8 755.8 M677.4 771.0 L668.0 762.7 M677.4 771.0 L670.6 760.2 M677.4 771.0 L669.2 759.5 M677.4 771.0 L667.0 755.6 M677.4 771.0 L672.0 749.4 M677.4 771.0 L677.2 751.8 M677.4 771.0 L675.5 751.6 M677.4 771.0 L681.3 751.1 M677.4 771.0 L680.1 754.5 M677.4 771.0 L681.4 748.7 M677.4 771.0 L686.7 750.3 M677.4 771.0 L685.7 753.6 M677.4 771.0 L683.4 757.5 M677.4 771.0 L682.8 760.3 M677.4 771.0 L686.0 760.2 M677.4 771.0 L688.7 762.1 M677.4 771.0 L691.0 761.9 M677.4 771.0 L690.0 764.4 M677.4 771.0 L693.4 765.3 M677.4 771.0 L690.3 768.5 M677.4 771.0 L690.1 770.5 M677.4 771.0 L700.5 770.2" stroke="#c8c8c8" stroke-width="0.6" opacity="0.6"/><path d="M640.7 783.2 L653.6 783.5 M640.7 783.2 L654.9 786.1 M640.7 783.2 L660.7 788.5 M640.7 783.2 L661.4 789.6 M640.7 783.2 L650.4 790.2 M640.7 783.2 L650.7 790.7 M640.7 783.2 L651.5 792.8 M640.7 783.2 L650.5 792.6 M640.7 783.2 L648.4 797.5 M640.7 783.2 L646.0 800.5 M640.7 783.2 L645.9 794.7 M640.7 783.2 L641.6 796.6 M640.7 783.2 L641.5 797.8 M640.7 783.2 L638.0 800.7 M640.7 783.2 L636.3 795.6 M640.7 783.2 L634.2 797.4 M640.7 783.2 L635.8 796.8 M640.7 783.2 L634.2 794.9 M640.7 783.2 L629.0 795.5 M640.7 783.2 L631.0 791.8 M640.7 783.2 L626.4 789.8 M640.7 783.2 L626.1 793.7 M640.7 783.2 L622.9 792.2 M640.7 783.2 L622.6 789.4 M640.7 783.2 L624.5 788.2 M640.7 783.2 L627.9 782.7 M640.7 783.2 L624.6 782.8 M640.7 783.2 L627.8 780.4 M640.7 783.2 L623.6 772.3 M640.7 783.2 L624.4 771.6 M640.7 783.2 L626.5 772.9 M640.7 783.2 L627.6 768.7 M640.7 783.2 L627.6 768.8 M640.7 783.2 L632.3 765.5 M640.7 783.2 L632.6 768.8 M640.7 783.2 L634.9 767.8 M640.7 783.2 L640.8 766.6 M640.7 783.2 L641.0 770.3 M640.7 783.2 L641.7 767.5 M640.7 783.2 L641.7 772.1 M640.7 783.2 L642.3 769.7 M640.7 783.2 L648.3 771.9 M640.7 783.2 L648.1 774.6 M640.7 783.2 L652.9 770.7 M640.7 783.2 L651.6 772.4 M640.7 783.2 L656.7 775.3 M640.7 783.2 L660.9 774.9 M640.7 783.2 L655.0 777.9 M640.7 783.2 L661.5 777.3 M640.7 783.2 L658.9 784.2" stroke="#b8b8b8" stroke-width="0.6" opacity="0.55"/><path d="M640.0 738.0 L650.3 737.4 M640.0 738.0 L650.2 741.4 M640.0 738.0 L657.3 740.1 M640.0 738.0 L655.7 748.6 M640.0 738.0 L649.2 744.5 M640.0 738.0 L651.4 748.1 M640.0 738.0 L648.4 748.6 M640.0 738.0 L646.8 751.7 M640.0 738.0 L647.2 755.8 M640.0 738.0 L642.8 749.7 M640.0 738.0 L639.4 755.5 M640.0 738.0 L643.0 755.6 M640.0 738.0 L640.0 749.0 M640.0 738.0 L633.8 755.3 M640.0 738.0 L633.4 756.1 M640.0 738.0 L632.6 752.0 M640.0 738.0 L631.0 748.2 M640.0 738.0 L628.9 744.7 M640.0 738.0 L628.7 747.6 M640.0 738.0 L630.3 740.9 M640.0 738.0 L626.3 741.8 M640.0 738.0 L627.5 741.0 M640.0 738.0 L620.8 736.0 M640.0 738.0 L621.1 733.0 M640.0 738.0 L623.8 731.6 M640.0 738.0 L627.9 733.6 M640.0 738.0 L628.5 728.5 M640.0 738.0 L629.7 727.1 M640.0 738.0 L628.6 725.0 M640.0 738.0 L633.2 725.1 M640.0 738.0 L630.9 722.2 M640.0 738.0 L635.0 719.3 M640.0 738.0 L637.8 727.1 M640.0 738.0 L637.4 722.6 M640.0 738.0 L639.7 726.7 M640.0 738.0 L644.2 720.5 M640.0 738.0 L644.1 728.0 M640.0 738.0 L652.0 725.1 M640.0 738.0 L651.9 728.1 M640.0 738.0 L646.8 730.5 M640.0 738.0 L654.5 729.3 M640.0 738.0 L650.5 730.8 M640.0 738.0 L652.9 734.9 M640.0 738.0 L649.5 734.7" stroke="#a0a0a0" stroke-width="0.6" opacity="0.5"/><path d="M652.0 760.0 L679.9 759.8 M652.0 760.0 L674.3 765.3 M652.0 760.0 L675.4 768.0 M652.0 760.0 L665.4 769.2 M652.0 760.0 L663.8 776.0 M652.0 760.0 L668.9 780.6 M652.0 760.0 L655.8 785.2 M652.0 760.0 L653.3 782.9 M652.0 760.0 L647.9 778.3 M652.0 760.0 L648.0 780.2 M652.0 760.0 L643.5 775.2 M652.0 760.0 L636.4 772.5 M652.0 760.0 L629.6 773.3 M652.0 760.0 L632.9 766.2 M652.0 760.0 L629.5 761.8 M652.0 760.0 L628.3 756.2 M652.0 760.0 L630.2 758.7 M652.0 760.0 L627.0 744.7 M652.0 760.0 L639.2 748.8 M652.0 760.0 L639.6 741.2 M652.0 760.0 L641.8 731.8 M652.0 760.0 L646.5 733.2 M652.0 760.0 L644.8 734.8 M652.0 760.0 L652.7 737.3 M652.0 760.0 L658.0 744.2 M652.0 760.0 L658.8 740.5 M652.0 760.0 L669.6 742.9 M652.0 760.0 L675.9 746.1 M652.0 760.0 L669.2 753.4 M652.0 760.0 L671.5 756.0" stroke="#707070" stroke-width="0.5" opacity="0.4"/></g><g filter="url(#bl2)"><circle cx="677.4" cy="771" r="4" fill="#fff"/><circle cx="640.7" cy="783.2" r="3.5" fill="#eee"/><circle cx="645" cy="738" r="3" fill="#aaa"/></g></g>
<g clip-path="url(#cq1)"><g filter="url(#bl2)"><path d="M116 878 C130 870 150 872 170 878 C180 890 185 905 190 912 C175 915 168 925 160 935 C150 950 160 965 158 985 C150 1000 120 1010 100 1000 C95 985 105 965 112 950 C110 930 105 915 110 900 Z" fill="#0c2a0c"/><path d="M200 880 C215 870 225 880 228 900 L228 960 C215 965 205 950 200 930 Z" fill="#0a220a"/><path d="M70 1000 C90 995 130 1000 160 1010 L160 1026 L60 1026 Z" fill="#0a200a"/></g><g filter="url(#bl1)"><path d="M121 921 C128 925 134 933 139 942 C142 947 145 951 144 953 L136 953 C132 944 126 937 120 930 Z" fill="#40c840"/><path d="M126 925 L140 952 L133 952 L122 930 Z" fill="#60e060" opacity="0.6"/></g><g filter="url(#bl1)" fill="#1a22e8"><ellipse cx="141" cy="909" rx="19" ry="9" transform="rotate(8 141 909)"/><ellipse cx="131" cy="969" rx="18" ry="11" transform="rotate(-10 131 969)"/><circle cx="125" cy="903" r="6"/><circle cx="134" cy="905" r="7"/><circle cx="145" cy="907" r="7"/><circle cx="155" cy="910" r="6"/><circle cx="160" cy="912" r="4"/><circle cx="130" cy="914" r="5"/><circle cx="148" cy="915" r="6"/><circle cx="122" cy="910" r="4"/><circle cx="117" cy="968" r="7"/><circle cx="128" cy="963" r="6"/><circle cx="140" cy="960" r="7"/><circle cx="148" cy="966" r="6"/><circle cx="132" cy="975" r="7"/><circle cx="118" cy="977" r="5"/><circle cx="142" cy="972" r="5"/><circle cx="112" cy="972" r="4"/><ellipse cx="224" cy="910" rx="11" ry="26"/></g><path d="M95.3 936 h11 v-3.5 l8.3 6 l-8.3 6 v-3.5 h-11 Z" fill="#e8e030"/></g>
<g clip-path="url(#cq2)"><g filter="url(#bl1)" fill="#f0f0f0"><ellipse cx="316" cy="910" rx="19" ry="9" transform="rotate(10 316 910)"/><ellipse cx="307" cy="971" rx="18" ry="11" transform="rotate(-10 307 971)"/><circle cx="300" cy="905" r="6"/><circle cx="309" cy="901" r="6"/><circle cx="318" cy="906" r="7"/><circle cx="327" cy="908" r="6"/><circle cx="334" cy="915" r="5"/><circle cx="312" cy="914" r="6"/><circle cx="324" cy="916" r="5"/><circle cx="297" cy="912" r="4"/><circle cx="291" cy="972" r="7"/><circle cx="300" cy="964" r="6"/><circle cx="311" cy="960" r="7"/><circle cx="320" cy="965" r="6"/><circle cx="324" cy="973" r="5"/><circle cx="306" cy="978" r="6"/><circle cx="295" cy="980" r="4"/><circle cx="315" cy="979" r="4"/></g><path d="M308 928 C306 935 311 942 310 955" stroke="#d0d0d0" stroke-width="2.2" fill="none" filter="url(#bl1)"/><g filter="url(#bl1)"><ellipse cx="406" cy="909" rx="18" ry="28" fill="#a8a8a8"/><ellipse cx="343" cy="1030" rx="27" ry="25" fill="#a0a0a0"/></g><g fill="#505050" opacity="0.5"><circle cx="391.9" cy="919.8" r="0.8"/><circle cx="401.9" cy="903.5" r="0.6"/><circle cx="399.9" cy="892.0" r="1.1"/><circle cx="393.7" cy="926.3" r="1.0"/><circle cx="390.8" cy="926.2" r="0.6"/><circle cx="401.9" cy="901.2" r="1.2"/><circle cx="391.0" cy="905.3" r="1.1"/><circle cx="398.3" cy="919.8" r="1.2"/><circle cx="392.6" cy="922.2" r="0.9"/><circle cx="392.7" cy="914.9" r="1.1"/><circle cx="401.5" cy="893.4" r="0.9"/><circle cx="395.6" cy="914.8" r="1.0"/><circle cx="390.2" cy="907.7" r="0.8"/><circle cx="390.6" cy="911.1" r="1.2"/><circle cx="337.9" cy="1015.4" r="1.0"/><circle cx="326.7" cy="1016.7" r="0.7"/><circle cx="329.0" cy="1024.3" r="0.8"/><circle cx="347.6" cy="1008.2" r="0.7"/><circle cx="359.3" cy="1014.8" r="0.9"/><circle cx="322.7" cy="1010.6" r="1.2"/><circle cx="325.9" cy="1019.2" r="0.8"/><circle cx="347.3" cy="1008.1" r="1.0"/><circle cx="329.1" cy="1012.8" r="0.6"/><circle cx="340.4" cy="1015.2" r="0.8"/><circle cx="342.2" cy="1015.9" r="0.7"/><circle cx="361.7" cy="1021.0" r="1.0"/><circle cx="344.5" cy="1015.5" r="0.7"/><circle cx="330.4" cy="1022.3" r="0.8"/><circle cx="343.1" cy="1013.2" r="0.6"/><circle cx="339.2" cy="1020.4" r="0.8"/></g></g>
<g clip-path="url(#cq3)"><rect x="405" y="853" width="171" height="173" fill="#061006"/><g filter="url(#bl6)"><ellipse cx="505" cy="930" rx="55" ry="70" fill="#123c12" opacity="0.8"/><ellipse cx="545" cy="900" rx="30" ry="25" fill="#164a16" opacity="0.7"/><ellipse cx="560" cy="960" rx="25" ry="50" fill="#0e300e" opacity="0.7"/><ellipse cx="440" cy="980" rx="35" ry="40" fill="#0a220a"/></g><g filter="url(#bl1)"><ellipse cx="473.0" cy="878.0" rx="10.0" ry="17.0" transform="rotate(-10 473.0 878.0)" fill="#1a20b8" opacity="0.95"/><circle cx="478.7" cy="883.0" r="5.0" fill="#2838f0" opacity="0.85"/><circle cx="474.1" cy="878.6" r="5.5" fill="#2838f0" opacity="0.85"/><circle cx="472.4" cy="876.3" r="4.6" fill="#2838f0" opacity="0.85"/><circle cx="470.8" cy="884.6" r="3.4" fill="#2838f0" opacity="0.85"/><circle cx="470.2" cy="887.3" r="4.0" fill="#2838f0" opacity="0.85"/><circle cx="474.1" cy="879.3" r="3.0" fill="#2838f0" opacity="0.85"/><circle cx="476.4" cy="876.3" r="2.4" fill="#0a0a50" opacity="0.66"/><circle cx="473.6" cy="874.8" r="2.8" fill="#0a0a50" opacity="0.66"/><circle cx="473.5" cy="878.5" r="1.5" fill="#0a0a50" opacity="0.66"/><ellipse cx="467.0" cy="907.0" rx="14.0" ry="14.0" transform="rotate(20 467.0 907.0)" fill="#1a20b8" opacity="0.95"/><circle cx="462.2" cy="904.4" r="4.2" fill="#2838f0" opacity="0.85"/><circle cx="471.9" cy="907.7" r="5.3" fill="#2838f0" opacity="0.85"/><circle cx="467.2" cy="915.8" r="6.1" fill="#2838f0" opacity="0.85"/><circle cx="474.0" cy="907.7" r="6.4" fill="#2838f0" opacity="0.85"/><circle cx="465.2" cy="907.9" r="6.5" fill="#2838f0" opacity="0.85"/><circle cx="463.8" cy="910.4" r="7.6" fill="#2838f0" opacity="0.85"/><circle cx="466.9" cy="906.0" r="2.6" fill="#0a0a50" opacity="0.66"/><circle cx="463.0" cy="910.9" r="2.1" fill="#0a0a50" opacity="0.66"/><circle cx="466.8" cy="907.3" r="3.9" fill="#0a0a50" opacity="0.66"/><ellipse cx="532.0" cy="908.0" rx="12.0" ry="8.0" transform="rotate(-15 532.0 908.0)" fill="#1a20b8" opacity="0.95"/><circle cx="535.1" cy="905.0" r="3.2" fill="#2838f0" opacity="0.85"/><circle cx="530.5" cy="908.4" r="4.0" fill="#2838f0" opacity="0.85"/><circle cx="526.0" cy="911.6" r="4.4" fill="#2838f0" opacity="0.85"/><circle cx="533.2" cy="906.9" r="3.8" fill="#2838f0" opacity="0.85"/><circle cx="525.9" cy="909.6" r="2.9" fill="#2838f0" opacity="0.85"/><circle cx="528.3" cy="910.6" r="3.8" fill="#2838f0" opacity="0.85"/><circle cx="528.1" cy="907.3" r="2.4" fill="#0a0a50" opacity="0.66"/><circle cx="527.4" cy="907.3" r="1.5" fill="#0a0a50" opacity="0.66"/><circle cx="532.9" cy="907.2" r="2.4" fill="#0a0a50" opacity="0.66"/><ellipse cx="494.0" cy="928.0" rx="13.0" ry="9.0" transform="rotate(-20 494.0 928.0)" fill="#1a20b8" opacity="0.95"/><circle cx="490.7" cy="924.4" r="3.3" fill="#2838f0" opacity="0.85"/><circle cx="496.4" cy="926.4" r="2.9" fill="#2838f0" opacity="0.85"/><circle cx="496.8" cy="929.7" r="2.8" fill="#2838f0" opacity="0.85"/><circle cx="490.2" cy="929.0" r="3.7" fill="#2838f0" opacity="0.85"/><circle cx="493.5" cy="922.2" r="4.0" fill="#2838f0" opacity="0.85"/><circle cx="491.6" cy="927.5" r="3.7" fill="#2838f0" opacity="0.85"/><circle cx="493.3" cy="924.5" r="2.4" fill="#0a0a50" opacity="0.66"/><circle cx="492.0" cy="924.6" r="1.4" fill="#0a0a50" opacity="0.66"/><circle cx="496.0" cy="923.4" r="2.5" fill="#0a0a50" opacity="0.66"/><ellipse cx="527.0" cy="948.0" rx="11.0" ry="9.0" transform="rotate(0 527.0 948.0)" fill="#1a20b8" opacity="0.95"/><circle cx="528.2" cy="946.6" r="4.6" fill="#2838f0" opacity="0.85"/><circle cx="522.7" cy="944.4" r="3.9" fill="#2838f0" opacity="0.85"/><circle cx="522.2" cy="946.9" r="3.6" fill="#2838f0" opacity="0.85"/><circle cx="528.2" cy="949.2" r="4.9" fill="#2838f0" opacity="0.85"/><circle cx="531.3" cy="949.2" r="3.6" fill="#2838f0" opacity="0.85"/><circle cx="520.5" cy="949.4" r="3.4" fill="#2838f0" opacity="0.85"/><circle cx="530.9" cy="946.7" r="2.6" fill="#0a0a50" opacity="0.66"/><circle cx="527.8" cy="948.4" r="2.2" fill="#0a0a50" opacity="0.66"/><circle cx="529.0" cy="949.4" r="2.2" fill="#0a0a50" opacity="0.66"/><ellipse cx="473.0" cy="957.0" rx="8.0" ry="8.0" transform="rotate(0 473.0 957.0)" fill="#1a20b8" opacity="0.95"/><circle cx="473.5" cy="958.8" r="4.2" fill="#2838f0" opacity="0.85"/><circle cx="471.6" cy="957.2" r="3.5" fill="#2838f0" opacity="0.85"/><circle cx="475.1" cy="954.1" r="3.4" fill="#2838f0" opacity="0.85"/><circle cx="477.2" cy="954.7" r="3.3" fill="#2838f0" opacity="0.85"/><circle cx="471.6" cy="957.9" r="3.2" fill="#2838f0" opacity="0.85"/><circle cx="470.8" cy="954.4" r="2.5" fill="#2838f0" opacity="0.85"/><circle cx="471.9" cy="960.6" r="1.3" fill="#0a0a50" opacity="0.66"/><circle cx="472.0" cy="960.3" r="1.9" fill="#0a0a50" opacity="0.66"/><circle cx="472.7" cy="958.0" r="1.6" fill="#0a0a50" opacity="0.66"/><ellipse cx="495.0" cy="977.0" rx="12.0" ry="6.0" transform="rotate(10 495.0 977.0)" fill="#1a20b8" opacity="0.95"/><circle cx="499.9" cy="976.4" r="2.3" fill="#2838f0" opacity="0.85"/><circle cx="500.5" cy="975.7" r="3.2" fill="#2838f0" opacity="0.85"/><circle cx="495.5" cy="978.5" r="2.7" fill="#2838f0" opacity="0.85"/><circle cx="496.9" cy="979.5" r="3.0" fill="#2838f0" opacity="0.85"/><circle cx="490.3" cy="979.1" r="2.4" fill="#2838f0" opacity="0.85"/><circle cx="496.4" cy="979.6" r="2.9" fill="#2838f0" opacity="0.85"/><circle cx="500.1" cy="979.1" r="1.7" fill="#0a0a50" opacity="0.66"/><circle cx="492.3" cy="977.9" r="1.1" fill="#0a0a50" opacity="0.66"/><circle cx="495.2" cy="977.0" r="1.3" fill="#0a0a50" opacity="0.66"/><ellipse cx="529.0" cy="974.0" rx="11.0" ry="8.0" transform="rotate(0 529.0 974.0)" fill="#1a20b8" opacity="0.95"/><circle cx="524.3" cy="977.9" r="3.4" fill="#2838f0" opacity="0.85"/><circle cx="525.1" cy="975.5" r="2.5" fill="#2838f0" opacity="0.85"/><circle cx="527.1" cy="972.2" r="3.9" fill="#2838f0" opacity="0.85"/><circle cx="529.1" cy="971.8" r="4.4" fill="#2838f0" opacity="0.85"/><circle cx="532.5" cy="970.9" r="4.1" fill="#2838f0" opacity="0.85"/><circle cx="527.4" cy="973.0" r="3.6" fill="#2838f0" opacity="0.85"/><circle cx="527.5" cy="974.0" r="2.4" fill="#0a0a50" opacity="0.66"/><circle cx="533.5" cy="975.0" r="1.7" fill="#0a0a50" opacity="0.66"/><circle cx="529.0" cy="974.3" r="1.2" fill="#0a0a50" opacity="0.66"/><ellipse cx="413.0" cy="913.0" rx="9.0" ry="10.0" transform="rotate(0 413.0 913.0)" fill="#1a20b8" opacity="0.45"/><circle cx="410.4" cy="911.4" r="3.4" fill="#2838f0" opacity="0.41"/><circle cx="414.6" cy="917.7" r="4.3" fill="#2838f0" opacity="0.41"/><circle cx="410.1" cy="910.9" r="3.0" fill="#2838f0" opacity="0.41"/><circle cx="415.7" cy="914.0" r="4.7" fill="#2838f0" opacity="0.41"/><circle cx="412.5" cy="914.0" r="3.9" fill="#2838f0" opacity="0.41"/><circle cx="410.7" cy="911.2" r="3.9" fill="#2838f0" opacity="0.41"/><circle cx="412.5" cy="913.5" r="2.6" fill="#0a0a50" opacity="0.32"/><circle cx="412.6" cy="914.3" r="2.1" fill="#0a0a50" opacity="0.32"/><circle cx="413.3" cy="912.9" r="2.6" fill="#0a0a50" opacity="0.32"/><ellipse cx="419.0" cy="986.0" rx="6.0" ry="9.0" transform="rotate(0 419.0 986.0)" fill="#1a20b8" opacity="0.45"/><circle cx="416.2" cy="986.4" r="2.6" fill="#2838f0" opacity="0.41"/><circle cx="418.4" cy="986.2" r="3.1" fill="#2838f0" opacity="0.41"/><circle cx="416.9" cy="981.9" r="1.9" fill="#2838f0" opacity="0.41"/><circle cx="421.2" cy="988.1" r="1.8" fill="#2838f0" opacity="0.41"/><circle cx="422.1" cy="988.9" r="3.3" fill="#2838f0" opacity="0.41"/><circle cx="419.4" cy="985.0" r="3.2" fill="#2838f0" opacity="0.41"/><circle cx="419.2" cy="985.4" r="1.1" fill="#0a0a50" opacity="0.32"/><circle cx="418.9" cy="985.9" r="1.0" fill="#0a0a50" opacity="0.32"/><circle cx="418.8" cy="987.1" r="1.2" fill="#0a0a50" opacity="0.32"/></g><g filter="url(#bl1)" stroke="#38b038" stroke-width="1.1" opacity="0.6" fill="none"><path d="M489 857 C492 870 494 885 494 894"/><path d="M450 860 C440 900 430 950 415 975"/><path d="M455 945 C480 942 500 945 520 955"/><path d="M480 985 C500 988 520 990 540 985"/><path d="M470 940 C490 930 510 925 530 930"/><path d="M445 900 C455 930 470 950 500 965"/><path d="M520 890 C535 900 545 915 555 930"/></g><path d="M502.3 882 L520 873 L512 883 L520 889 Z" fill="#f0f0f0"/></g>
<g clip-path="url(#cq4)"><g filter="url(#bl1)"><path d="M654.6 869.6 L656.3 876.4 L658.1 883.0 L655.2 886.7 L650.9 888.7 L645.0 884.9 L639.8 880.1 L636.5 873.4 L637.6 868.2 L640.3 865.4 L644.1 864.7 L648.7 866.3Z" fill="#8a8a8a" fill-opacity="0.55" stroke="#f0f0f0" stroke-width="2.8" stroke-linejoin="round" opacity="0.9"/><circle cx="641.7" cy="883.2" r="1.7" fill="#e8e8e8" opacity="0.50"/><circle cx="650.8" cy="870.3" r="1.1" fill="#e8e8e8" opacity="0.68"/><circle cx="646.1" cy="868.7" r="1.7" fill="#e8e8e8" opacity="0.59"/><circle cx="647.8" cy="880.1" r="1.7" fill="#e8e8e8" opacity="0.85"/><circle cx="642.2" cy="873.3" r="0.9" fill="#e8e8e8" opacity="0.58"/><circle cx="645.4" cy="874.4" r="1.2" fill="#e8e8e8" opacity="0.65"/><circle cx="643.3" cy="883.3" r="0.9" fill="#e8e8e8" opacity="0.45"/><circle cx="648.4" cy="872.2" r="1.3" fill="#e8e8e8" opacity="0.53"/><circle cx="647.1" cy="875.2" r="1.6" fill="#e8e8e8" opacity="0.81"/><path d="M652.9 906.0 L654.0 914.1 L646.1 916.6 L640.0 920.0 L633.9 916.5 L629.2 912.2 L628.4 906.0 L628.5 899.3 L632.1 892.3 L640.0 892.9 L646.7 894.4 L653.8 898.0Z" fill="#8a8a8a" fill-opacity="0.55" stroke="#f0f0f0" stroke-width="2.8" stroke-linejoin="round" opacity="0.85"/><circle cx="646.5" cy="897.8" r="1.6" fill="#e8e8e8" opacity="0.57"/><circle cx="645.5" cy="897.6" r="1.5" fill="#e8e8e8" opacity="0.61"/><circle cx="638.7" cy="910.0" r="1.4" fill="#e8e8e8" opacity="0.75"/><circle cx="631.8" cy="905.0" r="1.5" fill="#e8e8e8" opacity="0.60"/><circle cx="643.1" cy="911.0" r="0.9" fill="#e8e8e8" opacity="0.73"/><circle cx="637.8" cy="904.5" r="0.9" fill="#e8e8e8" opacity="0.66"/><circle cx="643.2" cy="914.7" r="1.4" fill="#e8e8e8" opacity="0.74"/><circle cx="637.1" cy="914.6" r="1.5" fill="#e8e8e8" opacity="0.46"/><circle cx="647.2" cy="897.7" r="1.6" fill="#e8e8e8" opacity="0.54"/><path d="M717.9 904.4 L718.1 908.8 L712.0 912.3 L706.6 915.8 L700.2 915.4 L695.0 914.2 L692.8 911.1 L694.4 907.4 L696.0 903.2 L702.7 901.1 L709.9 898.7 L715.7 900.7Z" fill="#8a8a8a" fill-opacity="0.55" stroke="#f0f0f0" stroke-width="2.8" stroke-linejoin="round" opacity="0.9"/><circle cx="697.3" cy="907.4" r="1.2" fill="#e8e8e8" opacity="0.72"/><circle cx="701.8" cy="905.3" r="1.0" fill="#e8e8e8" opacity="0.45"/><circle cx="702.1" cy="905.3" r="1.1" fill="#e8e8e8" opacity="0.53"/><circle cx="705.1" cy="906.9" r="1.3" fill="#e8e8e8" opacity="0.72"/><circle cx="712.4" cy="906.0" r="1.1" fill="#e8e8e8" opacity="0.76"/><circle cx="702.5" cy="903.4" r="0.8" fill="#e8e8e8" opacity="0.68"/><circle cx="708.1" cy="911.5" r="1.3" fill="#e8e8e8" opacity="0.65"/><circle cx="702.0" cy="904.5" r="1.4" fill="#e8e8e8" opacity="0.89"/><circle cx="711.6" cy="910.1" r="1.7" fill="#e8e8e8" opacity="0.45"/><path d="M679.9 924.0 L677.1 929.2 L674.8 933.3 L670.2 936.9 L664.7 937.7 L658.4 938.7 L655.0 935.6 L654.3 931.0 L657.5 926.0 L663.8 923.1 L670.2 919.5 L675.8 921.1Z" fill="#8a8a8a" fill-opacity="0.55" stroke="#f0f0f0" stroke-width="2.8" stroke-linejoin="round" opacity="0.9"/><circle cx="666.4" cy="931.4" r="1.8" fill="#e8e8e8" opacity="0.49"/><circle cx="661.4" cy="932.1" r="1.3" fill="#e8e8e8" opacity="0.77"/><circle cx="672.6" cy="929.4" r="1.2" fill="#e8e8e8" opacity="0.60"/><circle cx="665.1" cy="933.1" r="1.5" fill="#e8e8e8" opacity="0.66"/><circle cx="668.4" cy="929.9" r="1.5" fill="#e8e8e8" opacity="0.48"/><circle cx="674.7" cy="925.1" r="0.9" fill="#e8e8e8" opacity="0.70"/><circle cx="671.1" cy="929.4" r="1.3" fill="#e8e8e8" opacity="0.64"/><circle cx="664.3" cy="929.7" r="1.6" fill="#e8e8e8" opacity="0.57"/><circle cx="661.9" cy="933.9" r="1.4" fill="#e8e8e8" opacity="0.79"/><path d="M709.3 948.5 L709.2 953.3 L704.2 955.2 L700.0 959.4 L695.6 955.4 L689.8 953.8 L688.9 948.5 L690.3 943.4 L695.5 941.4 L700.0 938.1 L704.6 941.2 L709.2 943.7Z" fill="#8a8a8a" fill-opacity="0.55" stroke="#f0f0f0" stroke-width="2.8" stroke-linejoin="round" opacity="0.9"/><circle cx="703.8" cy="945.4" r="1.6" fill="#e8e8e8" opacity="0.84"/><circle cx="704.0" cy="947.0" r="1.7" fill="#e8e8e8" opacity="0.53"/><circle cx="695.9" cy="947.7" r="1.6" fill="#e8e8e8" opacity="0.56"/><circle cx="697.2" cy="952.9" r="1.0" fill="#e8e8e8" opacity="0.56"/><circle cx="700.7" cy="946.9" r="1.6" fill="#e8e8e8" opacity="0.67"/><circle cx="697.8" cy="944.9" r="1.4" fill="#e8e8e8" opacity="0.51"/><circle cx="696.9" cy="946.7" r="1.3" fill="#e8e8e8" opacity="0.59"/><circle cx="701.5" cy="953.2" r="1.4" fill="#e8e8e8" opacity="0.54"/><circle cx="703.9" cy="943.0" r="1.3" fill="#e8e8e8" opacity="0.51"/><path d="M658.8 957.9 L654.6 961.1 L651.8 965.2 L646.5 964.7 L643.1 961.3 L638.8 958.9 L640.6 954.7 L640.4 950.2 L645.0 948.8 L649.6 947.2 L653.1 950.5 L658.3 952.8Z" fill="#8a8a8a" fill-opacity="0.55" stroke="#f0f0f0" stroke-width="2.8" stroke-linejoin="round" opacity="0.85"/><circle cx="649.6" cy="957.5" r="1.4" fill="#e8e8e8" opacity="0.84"/><circle cx="644.5" cy="954.5" r="1.1" fill="#e8e8e8" opacity="0.58"/><circle cx="643.6" cy="957.0" r="1.7" fill="#e8e8e8" opacity="0.48"/><circle cx="644.4" cy="953.1" r="1.0" fill="#e8e8e8" opacity="0.65"/><circle cx="644.6" cy="954.1" r="1.5" fill="#e8e8e8" opacity="0.55"/><circle cx="650.4" cy="953.1" r="1.4" fill="#e8e8e8" opacity="0.74"/><circle cx="647.2" cy="958.4" r="1.5" fill="#e8e8e8" opacity="0.70"/><circle cx="646.1" cy="956.4" r="1.1" fill="#e8e8e8" opacity="0.46"/><circle cx="642.8" cy="959.0" r="1.1" fill="#e8e8e8" opacity="0.58"/><path d="M677.3 980.0 L674.3 981.7 L672.0 984.6 L666.2 984.2 L660.7 981.8 L658.7 978.1 L659.4 975.2 L661.4 973.1 L664.4 971.0 L669.5 971.8 L673.7 974.1 L675.6 977.0Z" fill="#8a8a8a" fill-opacity="0.55" stroke="#f0f0f0" stroke-width="2.8" stroke-linejoin="round" opacity="0.85"/><circle cx="668.4" cy="976.4" r="1.1" fill="#e8e8e8" opacity="0.77"/><circle cx="666.1" cy="974.5" r="1.6" fill="#e8e8e8" opacity="0.80"/><circle cx="663.3" cy="979.5" r="1.2" fill="#e8e8e8" opacity="0.83"/><circle cx="666.6" cy="976.0" r="1.4" fill="#e8e8e8" opacity="0.64"/><circle cx="662.0" cy="976.4" r="1.8" fill="#e8e8e8" opacity="0.77"/><circle cx="670.2" cy="976.0" r="1.2" fill="#e8e8e8" opacity="0.76"/><circle cx="663.6" cy="978.9" r="1.8" fill="#e8e8e8" opacity="0.55"/><circle cx="670.5" cy="978.0" r="1.7" fill="#e8e8e8" opacity="0.57"/><circle cx="668.6" cy="979.1" r="1.4" fill="#e8e8e8" opacity="0.78"/><path d="M711.1 976.6 L708.8 979.4 L706.3 982.9 L700.9 981.0 L696.1 980.2 L694.0 976.8 L691.8 973.2 L694.2 970.0 L698.5 968.5 L703.5 966.7 L707.3 970.3 L712.3 972.7Z" fill="#8a8a8a" fill-opacity="0.55" stroke="#f0f0f0" stroke-width="2.8" stroke-linejoin="round" opacity="0.85"/><circle cx="705.3" cy="974.1" r="1.1" fill="#e8e8e8" opacity="0.62"/><circle cx="705.6" cy="975.5" r="1.3" fill="#e8e8e8" opacity="0.54"/><circle cx="697.6" cy="976.1" r="1.3" fill="#e8e8e8" opacity="0.73"/><circle cx="697.9" cy="975.8" r="1.6" fill="#e8e8e8" opacity="0.71"/><circle cx="702.9" cy="975.7" r="1.7" fill="#e8e8e8" opacity="0.58"/><circle cx="700.7" cy="976.9" r="1.7" fill="#e8e8e8" opacity="0.59"/><circle cx="697.0" cy="977.7" r="1.7" fill="#e8e8e8" opacity="0.46"/><circle cx="699.6" cy="975.9" r="1.5" fill="#e8e8e8" opacity="0.67"/><circle cx="697.5" cy="975.3" r="1.8" fill="#e8e8e8" opacity="0.48"/><path d="M696.6 1014.7 L693.6 1022.0 L685.3 1019.1 L677.5 1021.0 L674.1 1013.9 L669.5 1007.5 L673.8 1001.6 L678.1 996.8 L684.6 995.2 L691.2 997.3 L697.5 1001.3 L699.9 1008.4Z" fill="#8a8a8a" fill-opacity="0.55" stroke="#f0f0f0" stroke-width="2.8" stroke-linejoin="round" opacity="0.6"/><circle cx="676.2" cy="1010.5" r="0.9" fill="#e8e8e8" opacity="0.47"/><circle cx="678.2" cy="1009.8" r="0.9" fill="#e8e8e8" opacity="0.59"/><circle cx="680.8" cy="1007.1" r="0.9" fill="#e8e8e8" opacity="0.30"/><circle cx="678.6" cy="1002.2" r="1.5" fill="#e8e8e8" opacity="0.36"/><circle cx="676.9" cy="1013.3" r="1.3" fill="#e8e8e8" opacity="0.48"/><circle cx="684.4" cy="1011.3" r="1.7" fill="#e8e8e8" opacity="0.47"/><circle cx="685.7" cy="1011.1" r="0.8" fill="#e8e8e8" opacity="0.56"/><circle cx="685.6" cy="1001.4" r="1.7" fill="#e8e8e8" opacity="0.31"/><circle cx="683.1" cy="1002.0" r="1.4" fill="#e8e8e8" opacity="0.43"/><path d="M600.8 986.0 L600.6 992.1 L595.9 994.2 L592.0 995.5 L588.4 993.7 L584.3 991.5 L584.6 986.0 L586.1 981.9 L588.3 978.2 L592.0 976.9 L595.5 978.6 L600.3 980.2Z" fill="#8a8a8a" fill-opacity="0.55" stroke="#f0f0f0" stroke-width="2.8" stroke-linejoin="round" opacity="0.45"/><circle cx="589.7" cy="979.5" r="1.5" fill="#e8e8e8" opacity="0.32"/><circle cx="589.1" cy="985.8" r="0.9" fill="#e8e8e8" opacity="0.25"/><circle cx="587.9" cy="989.5" r="1.5" fill="#e8e8e8" opacity="0.26"/><circle cx="596.6" cy="981.5" r="1.8" fill="#e8e8e8" opacity="0.23"/><circle cx="594.6" cy="987.8" r="1.3" fill="#e8e8e8" opacity="0.30"/><circle cx="590.9" cy="985.5" r="1.0" fill="#e8e8e8" opacity="0.40"/><circle cx="590.7" cy="984.1" r="1.5" fill="#e8e8e8" opacity="0.41"/><circle cx="588.2" cy="985.2" r="1.7" fill="#e8e8e8" opacity="0.38"/><circle cx="587.3" cy="986.8" r="0.9" fill="#e8e8e8" opacity="0.36"/><path d="M614.8 876.0 L616.7 882.1 L611.4 883.3 L608.0 885.6 L603.7 885.2 L601.2 880.8 L601.1 876.0 L602.0 871.8 L603.7 866.8 L608.0 865.9 L611.8 867.9 L616.7 869.9Z" fill="#8a8a8a" fill-opacity="0.55" stroke="#f0f0f0" stroke-width="2.8" stroke-linejoin="round" opacity="0.3"/><circle cx="612.3" cy="878.8" r="1.1" fill="#e8e8e8" opacity="0.16"/><circle cx="611.9" cy="875.7" r="1.3" fill="#e8e8e8" opacity="0.26"/><circle cx="613.4" cy="872.6" r="1.1" fill="#e8e8e8" opacity="0.28"/><circle cx="602.9" cy="879.7" r="1.6" fill="#e8e8e8" opacity="0.26"/><circle cx="608.1" cy="870.5" r="1.3" fill="#e8e8e8" opacity="0.24"/><circle cx="607.0" cy="872.8" r="1.6" fill="#e8e8e8" opacity="0.23"/><circle cx="609.8" cy="882.0" r="1.1" fill="#e8e8e8" opacity="0.15"/><circle cx="611.4" cy="875.6" r="0.8" fill="#e8e8e8" opacity="0.21"/><circle cx="612.6" cy="881.8" r="1.4" fill="#e8e8e8" opacity="0.28"/></g></g>
<g stroke="#d8d8d8" stroke-width="1.2"><path d="M229 670.4 V846 M402.7 670.4 V846 M577.8 670.4 V846 M229.5 852 V1025.5"/></g>
<g font-size="24" font-weight="bold" lengthAdjust="spacingAndGlyphs">
<text x="84.8" y="839" fill="#e01a2a" textLength="95.7" lengthAdjust="spacingAndGlyphs">γ-tubulin</text><text x="186.7" y="839" fill="#20e020" textLength="98.3" lengthAdjust="spacingAndGlyphs">α-tubulin</text><text x="298.6" y="839" fill="#1a1ae8" textLength="57.2" lengthAdjust="spacingAndGlyphs">DAPI</text>
<text x="414.9" y="838" fill="#fff" textLength="95.7" lengthAdjust="spacingAndGlyphs">γ-tubulin</text><text x="587.8" y="838.6" fill="#fff" textLength="96.9" lengthAdjust="spacingAndGlyphs">α-tubulin</text>
<text x="59.4" y="1015.3" fill="#1a1ae8" textLength="55.2" lengthAdjust="spacingAndGlyphs">DAPI</text><text x="125.8" y="1015.3" fill="#20e020" textLength="97" lengthAdjust="spacingAndGlyphs">α-tubulin</text><text x="240.2" y="1015.3" fill="#fff" font-weight="normal" textLength="56" lengthAdjust="spacingAndGlyphs">DAPI</text>
<text x="411" y="1017.8" fill="#1a1ae8" textLength="54.9" lengthAdjust="spacingAndGlyphs">DAPI</text><text x="477" y="1017.8" fill="#20e020" textLength="97" lengthAdjust="spacingAndGlyphs">α-tubulin</text><text x="584" y="1017.8" fill="#fff" font-weight="normal" textLength="56" lengthAdjust="spacingAndGlyphs">DAPI</text>
</g>
<g font-size="17" font-weight="bold" fill="#fff"><text x="701" y="825" textLength="44.5" lengthAdjust="spacingAndGlyphs">10μm</text><text x="703.7" y="1001.8" textLength="46.7" lengthAdjust="spacingAndGlyphs">20μm</text></g>
<rect x="704.6" y="832" width="42.8" height="4.5" fill="#fff"/><rect x="728.2" y="1016.6" width="17.4" height="3.7" fill="#fff"/>
<defs>
<linearGradient id="mgrad" x1="0" y1="0" x2="0" y2="1"><stop offset="0" stop-color="#8c8c8c"/><stop offset="0.4" stop-color="#c4c4c4"/><stop offset="0.68" stop-color="#e6e6e6"/><stop offset="1" stop-color="#ececec"/></linearGradient>
<linearGradient id="cbar" x1="0" y1="1" x2="0" y2="0"><stop offset="0" stop-color="#5a10f0"/><stop offset="0.15" stop-color="#2030e8"/><stop offset="0.34" stop-color="#20d8f0"/><stop offset="0.54" stop-color="#30e040"/><stop offset="0.77" stop-color="#f0f020"/><stop offset="0.88" stop-color="#f08018"/><stop offset="1" stop-color="#e01818"/></linearGradient>
<radialGradient id="cyg"><stop offset="0" stop-color="#40e8f0"/><stop offset="0.35" stop-color="#20b0f0" stop-opacity="0.85"/><stop offset="1" stop-color="#2040f0" stop-opacity="0"/></radialGradient>
<filter id="mbl" x="-10%" y="-10%" width="120%" height="120%"><feGaussianBlur stdDeviation="1.6"/></filter>
<filter id="fur" x="-10%" y="-10%" width="120%" height="120%"><feGaussianBlur in="SourceGraphic" stdDeviation="1.6" result="b"/><feTurbulence type="fractalNoise" baseFrequency="0.09 0.14" numOctaves="3" seed="4" result="t"/><feColorMatrix in="t" type="matrix" values="0 0 0 0 0.55  0 0 0 0 0.55  0 0 0 0 0.55  -2.2 0 0 0 1.0" result="tm"/><feComposite in="tm" in2="b" operator="in" result="tc"/><feMerge><feMergeNode in="b"/><feMergeNode in="tc"/></feMerge></filter>
<filter id="streak" x="0" y="0" width="100%" height="100%"><feTurbulence type="fractalNoise" baseFrequency="0.25 0.004" numOctaves="2" seed="9"/><feColorMatrix type="matrix" values="0 0 0 0 0.9  0 0 0 0 0.9  0 0 0 0 0.9  1.6 0 0 0 -0.75"/></filter>
</defs>
<g>
<rect x="826.2" y="729.6" width="88.8" height="91.6" fill="#3c3c3c"/>
<rect x="826.2" y="729.6" width="88.8" height="91.6" filter="url(#streak)" opacity="0.22"/>
<g clip-path="url(#mt00)">
<clipPath id="mt00"><rect x="826.2" y="729.6" width="88.8" height="91.6"/></clipPath>
<path d="M863.6 737.8 C860.9 739.0 858.5 743.5 856.5 747.0 C854.4 750.5 852.8 754.6 851.3 758.9 C849.8 763.2 848.6 768.1 847.6 772.7 C846.6 777.2 847.4 782.7 845.3 786.4 C843.3 790.1 836.5 792.2 835.1 794.6 C833.8 797.1 837.8 796.2 837.2 801.0 C836.6 805.9 819.2 820.1 831.5 823.9 C843.9 827.8 898.6 827.8 911.4 823.9 C924.3 820.1 910.1 805.9 908.3 801.0 C906.6 796.2 904.1 797.1 900.9 794.6 C897.6 792.2 890.7 790.1 888.7 786.4 C886.6 782.7 889.3 777.2 888.4 772.7 C887.5 768.1 884.6 763.2 883.1 758.9 C881.7 754.6 881.3 750.2 879.5 747.0 C877.8 743.9 875.1 741.5 872.4 740.0 C869.8 738.5 866.2 736.6 863.6 737.8Z" fill="url(#mgrad)" filter="url(#fur)"/><rect x="866.7" y="729.6" width="2.6" height="38.5" fill="#c8c8c8" opacity="0.55" filter="url(#mbl)"/>
</g>
<path d="M867.8 758.0h15.5v3.1h-15.5zM864.7 761.1h3.1v3.1h-3.1zM883.3 761.1h6.2v3.1h-6.2zM861.6 764.2h3.1v3.1h-3.1zM886.4 764.2h3.1v3.1h-3.1zM858.5 767.3h3.1v3.1h-3.1zM889.5 767.3h3.1v3.1h-3.1zM858.5 770.4h3.1v3.1h-3.1zM889.5 770.4h3.1v3.1h-3.1zM858.5 773.5h3.1v3.1h-3.1zM889.5 773.5h3.1v3.1h-3.1zM858.5 776.6h3.1v3.1h-3.1zM889.5 776.6h3.1v3.1h-3.1zM858.5 779.7h6.2v3.1h-6.2zM889.5 779.7h3.1v3.1h-3.1zM861.6 782.8h3.1v3.1h-3.1zM886.4 782.8h3.1v3.1h-3.1zM864.7 785.9h6.2v3.1h-6.2zM883.3 785.9h3.1v3.1h-3.1zM867.8 789.0h15.5v3.1h-15.5z" fill="#5c12f0"/><path d="M867.8 761.1h15.5v3.1h-15.5zM864.7 764.2h21.7v3.1h-21.7zM861.6 767.3h27.9v3.1h-27.9zM861.6 770.4h27.9v3.1h-27.9zM861.6 773.5h27.9v3.1h-27.9zM861.6 776.6h27.9v3.1h-27.9zM864.7 779.7h24.8v3.1h-24.8zM864.7 782.8h21.7v3.1h-21.7zM870.9 785.9h12.4v3.1h-12.4z" fill="#2218f2"/><ellipse cx="880.0" cy="777.0" rx="10.8" ry="10.5" fill="url(#cyg)" opacity="0.57"/>
<rect x="916.8" y="729.6" width="89.2" height="91.6" fill="#3c3c3c"/>
<rect x="916.8" y="729.6" width="89.2" height="91.6" filter="url(#streak)" opacity="0.22"/>
<g clip-path="url(#mt01)">
<clipPath id="mt01"><rect x="916.8" y="729.6" width="89.2" height="91.6"/></clipPath>
<path d="M954.5 737.9 C951.9 739.5 949.6 743.5 947.4 747.0 C945.2 750.5 942.6 754.6 941.1 758.9 C939.6 763.2 938.9 768.1 938.5 772.7 C938.0 777.2 940.5 782.7 938.5 786.4 C936.4 790.1 927.8 792.2 926.0 794.6 C924.2 797.1 928.0 796.2 927.4 801.0 C926.8 805.9 909.6 820.1 922.2 823.9 C934.7 827.8 989.4 827.8 1002.4 823.9 C1015.4 820.1 1001.8 805.9 1000.1 801.0 C998.3 796.2 995.1 797.1 992.0 794.6 C988.9 792.2 983.3 790.1 981.2 786.4 C979.1 782.7 980.3 777.2 979.5 772.7 C978.7 768.1 977.9 763.2 976.4 758.9 C975.0 754.6 972.8 750.6 970.6 747.0 C968.4 743.4 966.1 739.0 963.5 737.5 C960.8 736.0 957.2 736.3 954.5 737.9Z" fill="url(#mgrad)" filter="url(#fur)"/><rect x="957.7" y="729.6" width="2.6" height="38.5" fill="#c8c8c8" opacity="0.55" filter="url(#mbl)"/>
</g>
<path d="M959.8 759.0h12.4v3.1h-12.4zM956.7 762.1h3.1v3.1h-3.1zM972.2 762.1h6.2v3.1h-6.2zM953.6 765.2h3.1v3.1h-3.1zM975.3 765.2h3.1v3.1h-3.1zM950.5 768.3h3.1v3.1h-3.1zM978.4 768.3h3.1v3.1h-3.1zM950.5 771.4h3.1v3.1h-3.1zM978.4 771.4h3.1v3.1h-3.1zM950.5 774.5h3.1v3.1h-3.1zM978.4 774.5h3.1v3.1h-3.1zM950.5 777.6h3.1v3.1h-3.1zM978.4 777.6h3.1v3.1h-3.1zM950.5 780.7h3.1v3.1h-3.1zM978.4 780.7h3.1v3.1h-3.1zM953.6 783.8h3.1v3.1h-3.1zM975.3 783.8h6.2v3.1h-6.2zM953.6 786.9h6.2v3.1h-6.2zM975.3 786.9h3.1v3.1h-3.1zM959.8 790.0h15.5v3.1h-15.5z" fill="#5c12f0"/><path d="M959.8 762.1h12.4v3.1h-12.4zM956.7 765.2h18.6v3.1h-18.6zM953.6 768.3h24.8v3.1h-24.8zM953.6 771.4h24.8v3.1h-24.8zM953.6 774.5h24.8v3.1h-24.8zM953.6 777.6h24.8v3.1h-24.8zM953.6 780.7h24.8v3.1h-24.8zM956.7 783.8h18.6v3.1h-18.6zM959.8 786.9h15.5v3.1h-15.5z" fill="#2218f2"/><ellipse cx="968.5" cy="776.5" rx="9.9" ry="10.8" fill="url(#cyg)" opacity="0.78"/>
<rect x="1007.6" y="729.6" width="89.4" height="91.6" fill="#3c3c3c"/>
<rect x="1007.6" y="729.6" width="89.4" height="91.6" filter="url(#streak)" opacity="0.22"/>
<g clip-path="url(#mt02)">
<clipPath id="mt02"><rect x="1007.6" y="729.6" width="89.4" height="91.6"/></clipPath>
<path d="M1047.0 739.3 C1044.3 740.6 1041.7 743.7 1039.9 747.0 C1038.0 750.3 1037.3 754.6 1035.8 758.9 C1034.3 763.2 1032.0 768.1 1030.9 772.7 C1029.8 777.2 1031.3 782.7 1029.2 786.4 C1027.1 790.1 1020.1 792.2 1018.4 794.6 C1016.7 797.1 1020.1 796.2 1019.2 801.0 C1018.3 805.9 1000.6 820.1 1013.0 823.9 C1025.3 827.8 1080.5 827.8 1093.4 823.9 C1106.3 820.1 1091.9 805.9 1090.5 801.0 C1089.0 796.2 1087.6 797.1 1084.6 794.6 C1081.5 792.2 1074.4 790.1 1072.3 786.4 C1070.2 782.7 1072.5 777.2 1072.1 772.7 C1071.6 768.1 1070.9 763.2 1069.4 758.9 C1067.9 754.6 1065.4 750.3 1063.1 747.0 C1060.9 743.7 1058.7 740.4 1056.0 739.1 C1053.3 737.8 1049.7 737.9 1047.0 739.3Z" fill="url(#mgrad)" filter="url(#fur)"/><rect x="1050.2" y="729.6" width="2.6" height="38.5" fill="#c8c8c8" opacity="0.55" filter="url(#mbl)"/>
</g>
<path d="M1047.3 767.0h12.4v3.1h-12.4zM1044.2 770.1h6.2v3.1h-6.2zM1056.6 770.1h6.2v3.1h-6.2zM1041.1 773.2h3.1v3.1h-3.1zM1062.8 773.2h3.1v3.1h-3.1zM1041.1 776.3h3.1v3.1h-3.1zM1062.8 776.3h3.1v3.1h-3.1zM1038.0 779.4h3.1v3.1h-3.1zM1065.9 779.4h3.1v3.1h-3.1zM1038.0 782.5h3.1v3.1h-3.1zM1065.9 782.5h3.1v3.1h-3.1zM1038.0 785.6h3.1v3.1h-3.1zM1065.9 785.6h3.1v3.1h-3.1zM1038.0 788.7h3.1v3.1h-3.1zM1065.9 788.7h3.1v3.1h-3.1zM1038.0 791.8h3.1v3.1h-3.1zM1065.9 791.8h3.1v3.1h-3.1zM1041.1 794.9h3.1v3.1h-3.1zM1062.8 794.9h3.1v3.1h-3.1zM1041.1 798.0h3.1v3.1h-3.1zM1062.8 798.0h3.1v3.1h-3.1zM1044.2 801.1h6.2v3.1h-6.2zM1056.6 801.1h6.2v3.1h-6.2zM1047.3 804.2h12.4v3.1h-12.4z" fill="#5c12f0"/><path d="M1050.4 770.1h6.2v3.1h-6.2zM1044.2 773.2h18.6v3.1h-18.6zM1044.2 776.3h18.6v3.1h-18.6zM1041.1 779.4h24.8v3.1h-24.8zM1041.1 782.5h24.8v3.1h-24.8zM1041.1 785.6h24.8v3.1h-24.8zM1041.1 788.7h24.8v3.1h-24.8zM1041.1 791.8h24.8v3.1h-24.8zM1044.2 794.9h18.6v3.1h-18.6zM1044.2 798.0h18.6v3.1h-18.6zM1050.4 801.1h6.2v3.1h-6.2z" fill="#2218f2"/><ellipse cx="1053.5" cy="787.0" rx="9.6" ry="12.4" fill="url(#cyg)" opacity="0.26"/>
<rect x="1110.5" y="729.6" width="90.1" height="91.6" fill="#3c3c3c"/>
<rect x="1110.5" y="729.6" width="90.1" height="91.6" filter="url(#streak)" opacity="0.22"/>
<g clip-path="url(#mt03)">
<clipPath id="mt03"><rect x="1110.5" y="729.6" width="90.1" height="91.6"/></clipPath>
<path d="M1143.5 738.0 C1140.8 739.1 1138.7 743.5 1136.3 747.0 C1133.9 750.5 1130.7 754.6 1129.2 758.9 C1127.7 763.2 1127.7 768.1 1127.3 772.7 C1126.9 777.2 1128.9 782.7 1126.8 786.4 C1124.7 790.1 1115.6 792.2 1114.7 794.6 C1113.7 797.1 1121.0 796.2 1121.2 801.0 C1121.4 805.9 1103.3 820.1 1115.9 823.9 C1128.5 827.8 1184.0 827.8 1197.0 823.9 C1210.0 820.1 1196.8 805.9 1194.2 801.0 C1191.6 796.2 1185.1 797.1 1181.3 794.6 C1177.6 792.2 1174.0 790.1 1171.9 786.4 C1169.8 782.7 1169.7 777.2 1168.7 772.7 C1167.7 768.1 1167.4 763.2 1165.9 758.9 C1164.4 754.6 1161.9 750.1 1159.7 747.0 C1157.5 743.9 1155.2 741.8 1152.5 740.3 C1149.8 738.8 1146.2 736.9 1143.5 738.0Z" fill="url(#mgrad)" filter="url(#fur)"/><rect x="1146.7" y="729.6" width="2.6" height="38.5" fill="#c8c8c8" opacity="0.55" filter="url(#mbl)"/>
</g>
<path d="M1151.8 762.5h15.5v3.1h-15.5zM1148.7 765.6h3.1v3.1h-3.1zM1167.3 765.6h3.1v3.1h-3.1zM1145.6 768.7h3.1v3.1h-3.1zM1170.4 768.7h3.1v3.1h-3.1zM1142.5 771.8h3.1v3.1h-3.1zM1170.4 771.8h3.1v3.1h-3.1zM1142.5 774.9h3.1v3.1h-3.1zM1173.5 774.9h3.1v3.1h-3.1zM1142.5 778.0h3.1v3.1h-3.1zM1173.5 778.0h3.1v3.1h-3.1zM1142.5 781.1h3.1v3.1h-3.1zM1170.4 781.1h3.1v3.1h-3.1zM1145.6 784.2h3.1v3.1h-3.1zM1170.4 784.2h3.1v3.1h-3.1zM1148.7 787.3h3.1v3.1h-3.1zM1167.3 787.3h3.1v3.1h-3.1zM1151.8 790.4h15.5v3.1h-15.5z" fill="#5c12f0"/><path d="M1151.8 765.6h15.5v3.1h-15.5zM1148.7 768.7h21.7v3.1h-21.7zM1145.6 771.8h24.8v3.1h-24.8zM1145.6 774.9h27.9v3.1h-27.9zM1145.6 778.0h27.9v3.1h-27.9zM1145.6 781.1h24.8v3.1h-24.8zM1148.7 784.2h21.7v3.1h-21.7zM1151.8 787.3h15.5v3.1h-15.5z" fill="#2218f2"/><ellipse cx="1161.0" cy="778.0" rx="10.2" ry="9.6" fill="url(#cyg)" opacity="0.57"/>
<rect x="1202.6" y="729.6" width="90.6" height="91.6" fill="#3c3c3c"/>
<rect x="1202.6" y="729.6" width="90.6" height="91.6" filter="url(#streak)" opacity="0.22"/>
<g clip-path="url(#mt04)">
<clipPath id="mt04"><rect x="1202.6" y="729.6" width="90.6" height="91.6"/></clipPath>
<path d="M1238.5 738.4 C1235.8 739.9 1233.2 743.6 1231.2 747.0 C1229.3 750.4 1228.4 754.6 1226.9 758.9 C1225.4 763.2 1223.3 768.1 1222.2 772.7 C1221.0 777.2 1222.3 782.7 1220.1 786.4 C1218.0 790.1 1210.3 792.2 1209.5 794.6 C1208.6 797.1 1215.3 796.2 1215.1 801.0 C1214.8 805.9 1195.6 820.1 1208.0 823.9 C1220.5 827.8 1276.4 827.8 1289.6 823.9 C1302.8 820.1 1289.5 805.9 1287.3 801.0 C1285.1 796.2 1280.4 797.1 1276.5 794.6 C1272.7 792.2 1266.3 790.1 1264.2 786.4 C1262.1 782.7 1264.7 777.2 1263.8 772.7 C1263.0 768.1 1260.4 763.2 1258.9 758.9 C1257.4 754.6 1256.7 750.5 1254.8 747.0 C1252.9 743.5 1250.2 739.2 1247.5 737.7 C1244.8 736.3 1241.2 736.8 1238.5 738.4Z" fill="url(#mgrad)" filter="url(#fur)"/><rect x="1241.7" y="729.6" width="2.6" height="38.5" fill="#c8c8c8" opacity="0.55" filter="url(#mbl)"/>
</g>
<path d="M1248.3 766.5h12.4v3.1h-12.4zM1242.1 769.6h6.2v3.1h-6.2zM1260.7 769.6h6.2v3.1h-6.2zM1242.1 772.7h3.1v3.1h-3.1zM1266.9 772.7h3.1v3.1h-3.1zM1239.0 775.8h3.1v3.1h-3.1zM1266.9 775.8h3.1v3.1h-3.1zM1239.0 778.9h3.1v3.1h-3.1zM1266.9 778.9h3.1v3.1h-3.1zM1239.0 782.0h3.1v3.1h-3.1zM1266.9 782.0h3.1v3.1h-3.1zM1239.0 785.1h3.1v3.1h-3.1zM1266.9 785.1h3.1v3.1h-3.1zM1242.1 788.2h3.1v3.1h-3.1zM1266.9 788.2h3.1v3.1h-3.1zM1242.1 791.3h6.2v3.1h-6.2zM1260.7 791.3h6.2v3.1h-6.2zM1248.3 794.4h12.4v3.1h-12.4z" fill="#5c12f0"/><path d="M1248.3 769.6h12.4v3.1h-12.4zM1245.2 772.7h21.7v3.1h-21.7zM1242.1 775.8h24.8v3.1h-24.8zM1242.1 778.9h24.8v3.1h-24.8zM1242.1 782.0h24.8v3.1h-24.8zM1242.1 785.1h24.8v3.1h-24.8zM1245.2 788.2h21.7v3.1h-21.7zM1248.3 791.3h12.4v3.1h-12.4z" fill="#2218f2"/><ellipse cx="1255.0" cy="782.0" rx="9.9" ry="9.6" fill="url(#cyg)" opacity="0.68"/>
<rect x="1295.2" y="729.6" width="92.0" height="91.6" fill="#3c3c3c"/>
<rect x="1295.2" y="729.6" width="92.0" height="91.6" filter="url(#streak)" opacity="0.22"/>
<g clip-path="url(#mt05)">
<clipPath id="mt05"><rect x="1295.2" y="729.6" width="92.0" height="91.6"/></clipPath>
<path d="M1329.4 740.5 C1326.6 741.8 1324.2 743.9 1322.0 747.0 C1319.9 750.1 1317.8 754.6 1316.3 758.9 C1314.8 763.2 1313.6 768.1 1312.8 772.7 C1312.0 777.2 1313.6 782.7 1311.5 786.4 C1309.3 790.1 1301.0 792.2 1300.0 794.6 C1299.0 797.1 1305.4 796.2 1305.5 801.0 C1305.6 805.9 1287.7 820.1 1300.7 823.9 C1313.7 827.8 1370.3 827.8 1383.5 823.9 C1396.7 820.1 1382.4 805.9 1379.9 801.0 C1377.3 796.2 1371.9 797.1 1368.0 794.6 C1364.2 792.2 1358.7 790.1 1356.6 786.4 C1354.4 782.7 1356.1 777.2 1355.2 772.7 C1354.2 768.1 1352.5 763.2 1350.9 758.9 C1349.4 754.6 1348.0 750.3 1346.0 747.0 C1343.9 743.7 1341.4 740.2 1338.6 739.1 C1335.8 738.0 1332.2 739.1 1329.4 740.5Z" fill="url(#mgrad)" filter="url(#fur)"/><rect x="1332.7" y="729.6" width="2.6" height="38.5" fill="#c8c8c8" opacity="0.55" filter="url(#mbl)"/>
</g>
<path d="M1333.8 766.5h15.5v3.1h-15.5zM1330.7 769.6h3.1v3.1h-3.1zM1349.3 769.6h6.2v3.1h-6.2zM1327.6 772.7h3.1v3.1h-3.1zM1352.4 772.7h3.1v3.1h-3.1zM1324.5 775.8h3.1v3.1h-3.1zM1355.5 775.8h3.1v3.1h-3.1zM1324.5 778.9h3.1v3.1h-3.1zM1355.5 778.9h3.1v3.1h-3.1zM1324.5 782.0h3.1v3.1h-3.1zM1355.5 782.0h3.1v3.1h-3.1zM1324.5 785.1h3.1v3.1h-3.1zM1355.5 785.1h3.1v3.1h-3.1zM1324.5 788.2h6.2v3.1h-6.2zM1355.5 788.2h3.1v3.1h-3.1zM1327.6 791.3h3.1v3.1h-3.1zM1352.4 791.3h3.1v3.1h-3.1zM1330.7 794.4h6.2v3.1h-6.2zM1346.2 794.4h6.2v3.1h-6.2zM1336.9 797.5h9.3v3.1h-9.3z" fill="#5c12f0"/><path d="M1333.8 769.6h15.5v3.1h-15.5zM1330.7 772.7h21.7v3.1h-21.7zM1327.6 775.8h27.9v3.1h-27.9zM1327.6 778.9h27.9v3.1h-27.9zM1327.6 782.0h27.9v3.1h-27.9zM1327.6 785.1h27.9v3.1h-27.9zM1330.7 788.2h24.8v3.1h-24.8zM1330.7 791.3h21.7v3.1h-21.7zM1336.9 794.4h9.3v3.1h-9.3z" fill="#2218f2"/><ellipse cx="1342.0" cy="783.0" rx="10.8" ry="10.2" fill="url(#cyg)" opacity="0.52"/>
<rect x="826.2" y="832.3" width="88.8" height="92.0" fill="#3c3c3c"/>
<rect x="826.2" y="832.3" width="88.8" height="92.0" filter="url(#streak)" opacity="0.22"/>
<g clip-path="url(#mt10)">
<clipPath id="mt10"><rect x="826.2" y="832.3" width="88.8" height="92.0"/></clipPath>
<rect x="826.2" y="832.3" width="88.8" height="9" fill="#5a5a5a"/><rect x="826.2" y="841.3" width="88.8" height="2" fill="#2a2a2a"/>
<path d="M866.1 841.8 C863.4 843.4 860.8 846.5 859.0 849.8 C857.1 853.1 856.5 857.4 855.1 861.7 C853.6 866.0 851.1 870.9 850.1 875.5 C849.1 880.1 851.0 885.7 848.9 889.3 C846.9 893.0 839.4 895.2 837.6 897.6 C835.9 900.1 839.4 899.2 838.4 904.1 C837.4 909.0 819.3 923.2 831.5 927.1 C843.7 930.9 898.5 930.9 911.4 927.1 C924.4 923.2 910.5 909.0 909.2 904.1 C907.8 899.2 905.8 900.1 903.4 897.6 C900.9 895.2 896.5 893.0 894.4 889.3 C892.4 885.7 892.0 880.1 890.9 875.5 C889.8 870.9 889.5 866.0 888.0 861.7 C886.5 857.4 884.2 853.4 882.0 849.8 C879.9 846.2 877.6 841.6 874.9 840.3 C872.3 838.9 868.7 840.2 866.1 841.8Z" fill="url(#mgrad)" filter="url(#fur)"/><rect x="869.2" y="832.3" width="2.6" height="38.6" fill="#c8c8c8" opacity="0.55" filter="url(#mbl)"/>
</g>
<path d="M866.4 869.0h12.4v3.1h-12.4zM860.2 872.1h3.1v3.1h-3.1zM878.8 872.1h6.2v3.1h-6.2zM857.1 875.2h3.1v3.1h-3.1zM885.0 878.3h3.1v3.1h-3.1zM854.0 881.4h3.1v3.1h-3.1zM854.0 884.5h3.1v3.1h-3.1zM888.1 884.5h3.1v3.1h-3.1zM854.0 887.6h3.1v3.1h-3.1zM888.1 887.6h3.1v3.1h-3.1zM854.0 890.7h3.1v3.1h-3.1zM854.0 893.8h3.1v3.1h-3.1zM885.0 893.8h3.1v3.1h-3.1zM857.1 896.9h3.1v3.1h-3.1zM885.0 896.9h3.1v3.1h-3.1zM860.2 900.0h3.1v3.1h-3.1zM881.9 900.0h3.1v3.1h-3.1zM863.3 903.1h6.2v3.1h-6.2zM872.6 903.1h9.3v3.1h-9.3z" fill="#5c12f0"/><path d="M863.3 872.1h15.5v3.1h-15.5zM860.2 875.2h24.8v3.1h-24.8zM857.1 878.3h27.9v3.1h-27.9zM857.1 881.4h31.0v3.1h-31.0zM857.1 884.5h31.0v3.1h-31.0zM857.1 887.6h31.0v3.1h-31.0zM857.1 890.7h31.0v3.1h-31.0zM857.1 893.8h27.9v3.1h-27.9zM860.2 896.9h24.8v3.1h-24.8zM863.3 900.0h18.6v3.1h-18.6zM869.5 903.1h3.1v3.1h-3.1z" fill="#2218f2"/><radialGradient id="bg872_888" cx="0.654" cy="0.500" fx="0.654" fy="0.500" r="0.5"><stop offset="0" stop-color="#f01810"/><stop offset="0.14" stop-color="#f01810"/><stop offset="0.30" stop-color="#f0f018"/><stop offset="0.48" stop-color="#30e050"/><stop offset="0.66" stop-color="#18c8f0"/><stop offset="0.84" stop-color="#2218f2"/><stop offset="1" stop-color="#2218f2"/></radialGradient><ellipse cx="872.0" cy="888.0" rx="16.2" ry="17.1" fill="url(#bg872_888)"/>
<rect x="916.8" y="832.3" width="89.2" height="92.0" fill="#3c3c3c"/>
<rect x="916.8" y="832.3" width="89.2" height="92.0" filter="url(#streak)" opacity="0.22"/>
<g clip-path="url(#mt11)">
<clipPath id="mt11"><rect x="916.8" y="832.3" width="89.2" height="92.0"/></clipPath>
<path d="M961.5 842.8 C958.9 844.2 956.2 846.6 954.4 849.8 C952.6 852.9 952.2 857.4 950.7 861.7 C949.2 866.0 946.4 870.9 945.5 875.5 C944.6 880.1 947.2 885.7 945.1 889.3 C943.1 893.0 935.9 895.2 933.0 897.6 C930.1 900.1 929.6 899.2 927.8 904.1 C925.9 909.0 909.7 923.2 922.2 927.1 C934.6 930.9 989.5 930.9 1002.4 927.1 C1015.3 923.2 1000.2 909.0 999.6 904.1 C999.1 899.2 1001.1 900.1 999.0 897.6 C996.9 895.2 989.4 893.0 987.3 889.3 C985.2 885.7 987.0 880.1 986.5 875.5 C986.0 870.9 985.6 866.0 984.1 861.7 C982.6 857.4 979.9 853.1 977.6 849.8 C975.3 846.5 973.1 842.9 970.5 841.8 C967.8 840.6 964.2 841.5 961.5 842.8Z" fill="url(#mgrad)" filter="url(#fur)"/><rect x="964.7" y="832.3" width="2.6" height="38.6" fill="#c8c8c8" opacity="0.55" filter="url(#mbl)"/>
</g>
<path d="M958.4 863.5h15.5v3.1h-15.5zM952.2 866.6h6.2v3.1h-6.2zM973.9 866.6h6.2v3.1h-6.2zM949.1 869.7h3.1v3.1h-3.1zM980.1 869.7h3.1v3.1h-3.1zM949.1 872.8h3.1v3.1h-3.1zM980.1 872.8h3.1v3.1h-3.1zM946.0 875.9h3.1v3.1h-3.1zM983.2 875.9h3.1v3.1h-3.1zM946.0 879.0h3.1v3.1h-3.1zM983.2 879.0h3.1v3.1h-3.1zM946.0 882.1h3.1v3.1h-3.1zM983.2 882.1h3.1v3.1h-3.1zM946.0 885.2h3.1v3.1h-3.1zM983.2 885.2h3.1v3.1h-3.1zM946.0 888.3h3.1v3.1h-3.1zM983.2 888.3h3.1v3.1h-3.1zM949.1 891.4h3.1v3.1h-3.1zM980.1 891.4h3.1v3.1h-3.1zM949.1 894.5h3.1v3.1h-3.1zM977.0 894.5h3.1v3.1h-3.1zM952.2 897.6h6.2v3.1h-6.2zM973.9 897.6h3.1v3.1h-3.1zM958.4 900.7h15.5v3.1h-15.5z" fill="#5c12f0"/><path d="M958.4 866.6h15.5v3.1h-15.5zM952.2 869.7h27.9v3.1h-27.9zM952.2 872.8h27.9v3.1h-27.9zM949.1 875.9h34.1v3.1h-34.1zM949.1 879.0h34.1v3.1h-34.1zM949.1 882.1h34.1v3.1h-34.1zM949.1 885.2h34.1v3.1h-34.1zM949.1 888.3h34.1v3.1h-34.1zM952.2 891.4h27.9v3.1h-27.9zM952.2 894.5h24.8v3.1h-24.8zM958.4 897.6h15.5v3.1h-15.5z" fill="#2218f2"/><radialGradient id="bg966_883" cx="0.500" cy="0.444" fx="0.500" fy="0.444" r="0.5"><stop offset="0" stop-color="#f01810"/><stop offset="0.18" stop-color="#f01810"/><stop offset="0.34" stop-color="#f0f018"/><stop offset="0.52" stop-color="#30e050"/><stop offset="0.70" stop-color="#18c8f0"/><stop offset="0.86" stop-color="#2218f2"/><stop offset="1" stop-color="#2218f2"/></radialGradient><ellipse cx="966.0" cy="883.5" rx="18.0" ry="18.0" fill="url(#bg966_883)"/>
<rect x="1007.6" y="832.3" width="89.4" height="92.0" fill="#3c3c3c"/>
<rect x="1007.6" y="832.3" width="89.4" height="92.0" filter="url(#streak)" opacity="0.22"/>
<g clip-path="url(#mt12)">
<clipPath id="mt12"><rect x="1007.6" y="832.3" width="89.4" height="92.0"/></clipPath>
<path d="M1052.0 840.7 C1049.3 842.3 1047.2 846.3 1044.9 849.8 C1042.5 853.3 1039.4 857.4 1038.0 861.7 C1036.5 866.0 1036.4 870.9 1035.9 875.5 C1035.5 880.1 1037.5 885.7 1035.4 889.3 C1033.3 893.0 1026.0 895.2 1023.4 897.6 C1020.9 900.1 1021.8 899.2 1020.1 904.1 C1018.3 909.0 1000.7 923.2 1013.0 927.1 C1025.2 930.9 1080.9 930.9 1093.4 927.1 C1106.0 923.2 1089.0 909.0 1088.4 904.1 C1087.7 899.2 1091.0 900.1 1089.6 897.6 C1088.2 895.2 1082.0 893.0 1079.9 889.3 C1077.8 885.7 1078.2 880.1 1077.1 875.5 C1075.9 870.9 1074.7 866.0 1073.2 861.7 C1071.7 857.4 1070.2 853.4 1068.1 849.8 C1066.1 846.2 1063.7 841.7 1061.0 840.2 C1058.3 838.7 1054.7 839.1 1052.0 840.7Z" fill="url(#mgrad)" filter="url(#fur)"/><rect x="1055.2" y="832.3" width="2.6" height="38.6" fill="#c8c8c8" opacity="0.55" filter="url(#mbl)"/>
</g>
<path d="M1049.3 866.5h15.5v3.1h-15.5zM1046.2 869.6h6.2v3.1h-6.2zM1064.8 869.6h6.2v3.1h-6.2zM1043.1 872.7h3.1v3.1h-3.1zM1071.0 872.7h3.1v3.1h-3.1zM1040.0 875.8h6.2v3.1h-6.2zM1071.0 875.8h6.2v3.1h-6.2zM1040.0 878.9h3.1v3.1h-3.1zM1074.1 878.9h3.1v3.1h-3.1zM1040.0 882.0h3.1v3.1h-3.1zM1074.1 882.0h3.1v3.1h-3.1zM1040.0 885.1h3.1v3.1h-3.1zM1074.1 885.1h3.1v3.1h-3.1zM1043.1 888.2h3.1v3.1h-3.1zM1071.0 888.2h3.1v3.1h-3.1zM1043.1 891.3h6.2v3.1h-6.2zM1067.9 891.3h6.2v3.1h-6.2zM1046.2 894.4h9.3v3.1h-9.3zM1061.7 894.4h9.3v3.1h-9.3zM1055.5 897.5h6.2v3.1h-6.2z" fill="#5c12f0"/><path d="M1052.4 869.6h12.4v3.1h-12.4zM1046.2 872.7h24.8v3.1h-24.8zM1046.2 875.8h24.8v3.1h-24.8zM1043.1 878.9h31.0v3.1h-31.0zM1043.1 882.0h31.0v3.1h-31.0zM1043.1 885.1h31.0v3.1h-31.0zM1046.2 888.2h24.8v3.1h-24.8zM1049.3 891.3h18.6v3.1h-18.6zM1055.5 894.4h6.2v3.1h-6.2z" fill="#2218f2"/><ellipse cx="1060.5" cy="883.0" rx="11.5" ry="10.2" fill="url(#cyg)" opacity="0.78"/>
<rect x="1110.5" y="832.3" width="90.1" height="92.0" fill="#3c3c3c"/>
<rect x="1110.5" y="832.3" width="90.1" height="92.0" filter="url(#streak)" opacity="0.22"/>
<g clip-path="url(#mt13)">
<clipPath id="mt13"><rect x="1110.5" y="832.3" width="90.1" height="92.0"/></clipPath>
<path d="M1155.0 840.7 C1152.3 842.2 1149.7 846.3 1147.8 849.8 C1145.8 853.3 1144.9 857.4 1143.3 861.7 C1141.8 866.0 1139.6 870.9 1138.8 875.5 C1137.9 880.1 1140.4 885.7 1138.3 889.3 C1136.2 893.0 1129.3 895.2 1126.2 897.6 C1123.1 900.1 1121.4 899.2 1119.7 904.1 C1118.0 909.0 1103.0 923.2 1115.9 927.1 C1128.8 930.9 1184.0 930.9 1197.0 927.1 C1210.0 923.2 1194.5 909.0 1193.8 904.1 C1193.1 899.2 1195.1 900.1 1192.8 897.6 C1190.6 895.2 1182.5 893.0 1180.4 889.3 C1178.3 885.7 1180.7 880.1 1180.2 875.5 C1179.7 870.9 1178.9 866.0 1177.4 861.7 C1175.9 857.4 1173.4 853.3 1171.2 849.8 C1169.0 846.3 1166.7 842.4 1164.0 840.9 C1161.3 839.4 1157.7 839.3 1155.0 840.7Z" fill="url(#mgrad)" filter="url(#fur)"/><rect x="1158.2" y="832.3" width="2.6" height="38.6" fill="#c8c8c8" opacity="0.55" filter="url(#mbl)"/>
</g>
<path d="M1153.3 872.0h15.5v3.1h-15.5zM1150.2 875.1h6.2v3.1h-6.2zM1168.8 875.1h3.1v3.1h-3.1zM1147.1 878.2h3.1v3.1h-3.1zM1171.9 878.2h3.1v3.1h-3.1zM1147.1 881.3h3.1v3.1h-3.1zM1175.0 881.3h3.1v3.1h-3.1zM1144.0 884.4h3.1v3.1h-3.1zM1175.0 884.4h3.1v3.1h-3.1zM1144.0 887.5h3.1v3.1h-3.1zM1175.0 887.5h3.1v3.1h-3.1zM1144.0 890.6h3.1v3.1h-3.1zM1175.0 890.6h3.1v3.1h-3.1zM1144.0 893.7h3.1v3.1h-3.1zM1175.0 893.7h3.1v3.1h-3.1zM1147.1 896.8h3.1v3.1h-3.1zM1175.0 896.8h3.1v3.1h-3.1zM1147.1 899.9h3.1v3.1h-3.1zM1171.9 899.9h3.1v3.1h-3.1zM1150.2 903.0h6.2v3.1h-6.2zM1165.7 903.0h6.2v3.1h-6.2zM1156.4 906.1h12.4v3.1h-12.4z" fill="#5c12f0"/><path d="M1156.4 875.1h12.4v3.1h-12.4zM1150.2 878.2h21.7v3.1h-21.7zM1150.2 881.3h24.8v3.1h-24.8zM1147.1 884.4h27.9v3.1h-27.9zM1147.1 887.5h27.9v3.1h-27.9zM1147.1 890.6h27.9v3.1h-27.9zM1147.1 893.7h27.9v3.1h-27.9zM1150.2 896.8h24.8v3.1h-24.8zM1150.2 899.9h21.7v3.1h-21.7zM1156.4 903.0h9.3v3.1h-9.3z" fill="#2218f2"/><ellipse cx="1164.5" cy="890.5" rx="10.8" ry="11.5" fill="url(#cyg)" opacity="0.78"/>
<rect x="1202.6" y="832.3" width="90.6" height="92.0" fill="#3c3c3c"/>
<rect x="1202.6" y="832.3" width="90.6" height="92.0" filter="url(#streak)" opacity="0.22"/>
<g clip-path="url(#mt14)">
<clipPath id="mt14"><rect x="1202.6" y="832.3" width="90.6" height="92.0"/></clipPath>
<path d="M1240.5 842.9 C1237.8 844.6 1235.0 846.6 1233.2 849.8 C1231.4 852.9 1231.0 857.4 1229.5 861.7 C1228.0 866.0 1225.4 870.9 1224.2 875.5 C1223.0 880.1 1224.5 885.7 1222.4 889.3 C1220.3 893.0 1212.7 895.2 1211.5 897.6 C1210.3 900.1 1215.9 899.2 1215.3 904.1 C1214.7 909.0 1195.7 923.2 1208.0 927.1 C1220.4 930.9 1276.7 930.9 1289.6 927.1 C1302.4 923.2 1287.1 909.0 1285.3 904.1 C1283.4 899.2 1281.7 900.1 1278.5 897.6 C1275.3 895.2 1268.2 893.0 1266.1 889.3 C1264.0 885.7 1266.4 880.1 1265.8 875.5 C1265.2 870.9 1264.1 866.0 1262.6 861.7 C1261.1 857.4 1259.0 853.4 1256.8 849.8 C1254.6 846.1 1252.2 840.9 1249.5 839.8 C1246.8 838.6 1243.2 841.2 1240.5 842.9Z" fill="url(#mgrad)" filter="url(#fur)"/><rect x="1243.7" y="832.3" width="2.6" height="38.6" fill="#c8c8c8" opacity="0.55" filter="url(#mbl)"/>
</g>
<path d="M1242.8 868.5h12.4v3.1h-12.4zM1236.6 871.6h6.2v3.1h-6.2zM1255.2 871.6h6.2v3.1h-6.2zM1236.6 874.7h3.1v3.1h-3.1zM1261.4 874.7h3.1v3.1h-3.1zM1233.5 877.8h3.1v3.1h-3.1zM1261.4 877.8h3.1v3.1h-3.1zM1233.5 880.9h3.1v3.1h-3.1zM1261.4 880.9h3.1v3.1h-3.1zM1233.5 884.0h3.1v3.1h-3.1zM1261.4 884.0h3.1v3.1h-3.1zM1233.5 887.1h3.1v3.1h-3.1zM1261.4 887.1h3.1v3.1h-3.1zM1236.6 890.2h3.1v3.1h-3.1zM1258.3 890.2h3.1v3.1h-3.1zM1239.7 893.3h6.2v3.1h-6.2zM1255.2 893.3h6.2v3.1h-6.2zM1245.9 896.4h9.3v3.1h-9.3z" fill="#5c12f0"/><path d="M1242.8 871.6h12.4v3.1h-12.4zM1239.7 874.7h21.7v3.1h-21.7zM1236.6 877.8h24.8v3.1h-24.8zM1236.6 880.9h24.8v3.1h-24.8zM1236.6 884.0h24.8v3.1h-24.8zM1236.6 887.1h24.8v3.1h-24.8zM1239.7 890.2h18.6v3.1h-18.6zM1245.9 893.3h9.3v3.1h-9.3z" fill="#2218f2"/><ellipse cx="1249.5" cy="883.5" rx="9.9" ry="9.3" fill="url(#cyg)" opacity="0.78"/>
<rect x="1295.2" y="832.3" width="92.0" height="92.0" fill="#3c3c3c"/>
<rect x="1295.2" y="832.3" width="92.0" height="92.0" filter="url(#streak)" opacity="0.22"/>
<g clip-path="url(#mt15)">
<clipPath id="mt15"><rect x="1295.2" y="832.3" width="92.0" height="92.0"/></clipPath>
<path d="M1334.4 840.4 C1331.6 841.5 1329.2 846.2 1327.0 849.8 C1324.8 853.3 1322.7 857.4 1321.2 861.7 C1319.6 866.0 1318.6 870.9 1317.8 875.5 C1317.0 880.1 1318.6 885.7 1316.4 889.3 C1314.3 893.0 1306.9 895.2 1305.0 897.6 C1303.1 900.1 1305.7 899.2 1305.0 904.1 C1304.3 909.0 1287.6 923.2 1300.7 927.1 C1313.8 930.9 1370.6 930.9 1383.5 927.1 C1396.4 923.2 1379.9 909.0 1378.2 904.1 C1376.4 899.2 1375.5 900.1 1373.0 897.6 C1370.6 895.2 1365.5 893.0 1363.4 889.3 C1361.2 885.7 1361.4 880.1 1360.2 875.5 C1358.9 870.9 1357.3 866.0 1355.8 861.7 C1354.3 857.4 1353.0 852.9 1351.0 849.8 C1348.9 846.7 1346.4 844.8 1343.6 843.2 C1340.8 841.6 1337.2 839.3 1334.4 840.4Z" fill="url(#mgrad)" filter="url(#fur)"/><rect x="1337.7" y="832.3" width="2.6" height="38.6" fill="#c8c8c8" opacity="0.55" filter="url(#mbl)"/>
</g>
<path d="M1342.8 860.5h9.3v3.1h-9.3zM1336.6 863.6h6.2v3.1h-6.2zM1352.1 863.6h6.2v3.1h-6.2zM1336.6 866.7h3.1v3.1h-3.1zM1355.2 866.7h3.1v3.1h-3.1zM1333.5 869.8h3.1v3.1h-3.1zM1358.3 869.8h3.1v3.1h-3.1zM1333.5 872.9h3.1v3.1h-3.1zM1358.3 872.9h3.1v3.1h-3.1zM1333.5 876.0h3.1v3.1h-3.1zM1358.3 876.0h3.1v3.1h-3.1zM1333.5 879.1h3.1v3.1h-3.1zM1358.3 879.1h3.1v3.1h-3.1zM1333.5 882.2h3.1v3.1h-3.1zM1358.3 882.2h3.1v3.1h-3.1zM1336.6 885.3h3.1v3.1h-3.1zM1355.2 885.3h3.1v3.1h-3.1zM1336.6 888.4h6.2v3.1h-6.2zM1352.1 888.4h6.2v3.1h-6.2zM1342.8 891.5h9.3v3.1h-9.3z" fill="#5c12f0"/><path d="M1342.8 863.6h9.3v3.1h-9.3zM1339.7 866.7h15.5v3.1h-15.5zM1336.6 869.8h21.7v3.1h-21.7zM1336.6 872.9h21.7v3.1h-21.7zM1336.6 876.0h21.7v3.1h-21.7zM1336.6 879.1h21.7v3.1h-21.7zM1336.6 882.2h21.7v3.1h-21.7zM1339.7 885.3h15.5v3.1h-15.5zM1342.8 888.4h9.3v3.1h-9.3z" fill="#2218f2"/><ellipse cx="1347.5" cy="874.5" rx="8.7" ry="10.5" fill="url(#cyg)" opacity="0.68"/>
<rect x="826.2" y="933.8" width="88.8" height="91.8" fill="#3c3c3c"/>
<rect x="826.2" y="933.8" width="88.8" height="91.8" filter="url(#streak)" opacity="0.22"/>
<g clip-path="url(#mt20)">
<clipPath id="mt20"><rect x="826.2" y="933.8" width="88.8" height="91.8"/></clipPath>
<path d="M868.6 944.4 C865.9 945.7 863.6 948.1 861.5 951.2 C859.3 954.4 857.2 958.9 855.7 963.2 C854.2 967.5 853.4 972.4 852.6 976.9 C851.7 981.5 852.7 987.0 850.7 990.7 C848.6 994.4 842.4 996.5 840.1 999.0 C837.9 1001.4 838.4 1000.5 836.9 1005.4 C835.5 1010.3 819.1 1024.5 831.5 1028.4 C843.9 1032.2 898.6 1032.2 911.4 1028.4 C924.3 1024.5 909.3 1010.3 908.4 1005.4 C907.5 1000.5 908.0 1001.4 905.9 999.0 C903.7 996.5 897.6 994.4 895.5 990.7 C893.5 987.0 894.3 981.5 893.4 976.9 C892.5 972.4 891.6 967.5 890.1 963.2 C888.6 958.9 886.7 954.5 884.5 951.2 C882.4 947.9 880.1 944.6 877.4 943.4 C874.8 942.3 871.2 943.1 868.6 944.4Z" fill="url(#mgrad)" filter="url(#fur)"/><rect x="871.7" y="933.8" width="2.6" height="38.6" fill="#c8c8c8" opacity="0.55" filter="url(#mbl)"/>
</g>
<path d="M865.0 960.0h15.5v3.1h-15.5zM858.8 963.1h6.2v3.1h-6.2zM880.5 963.1h6.2v3.1h-6.2zM855.7 966.2h3.1v3.1h-3.1zM886.7 966.2h3.1v3.1h-3.1zM852.6 969.3h3.1v3.1h-3.1zM889.8 969.3h3.1v3.1h-3.1zM852.6 972.4h3.1v3.1h-3.1zM849.5 975.5h3.1v3.1h-3.1zM892.9 975.5h3.1v3.1h-3.1zM849.5 978.6h3.1v3.1h-3.1zM892.9 978.6h3.1v3.1h-3.1zM849.5 981.7h3.1v3.1h-3.1zM892.9 981.7h3.1v3.1h-3.1zM849.5 984.8h3.1v3.1h-3.1zM892.9 984.8h3.1v3.1h-3.1zM849.5 987.9h3.1v3.1h-3.1zM892.9 987.9h3.1v3.1h-3.1zM849.5 991.0h3.1v3.1h-3.1zM892.9 991.0h3.1v3.1h-3.1zM852.6 994.1h3.1v3.1h-3.1zM852.6 997.2h3.1v3.1h-3.1zM889.8 997.2h3.1v3.1h-3.1zM855.7 1000.3h3.1v3.1h-3.1zM886.7 1000.3h3.1v3.1h-3.1zM858.8 1003.4h3.1v3.1h-3.1zM883.6 1003.4h3.1v3.1h-3.1zM865.0 1006.5h18.6v3.1h-18.6z" fill="#5c12f0"/><path d="M865.0 963.1h15.5v3.1h-15.5zM858.8 966.2h27.9v3.1h-27.9zM855.7 969.3h34.1v3.1h-34.1zM855.7 972.4h37.2v3.1h-37.2zM852.6 975.5h40.3v3.1h-40.3zM852.6 978.6h40.3v3.1h-40.3zM852.6 981.7h40.3v3.1h-40.3zM852.6 984.8h40.3v3.1h-40.3zM852.6 987.9h40.3v3.1h-40.3zM852.6 991.0h40.3v3.1h-40.3zM855.7 994.1h37.2v3.1h-37.2zM855.7 997.2h34.1v3.1h-34.1zM858.8 1000.3h27.9v3.1h-27.9zM861.9 1003.4h21.7v3.1h-21.7z" fill="#2218f2"/><radialGradient id="bg873_985" cx="0.571" cy="0.367" fx="0.571" fy="0.367" r="0.5"><stop offset="0" stop-color="#f01810"/><stop offset="0.45" stop-color="#f01810"/><stop offset="0.56" stop-color="#f0f018"/><stop offset="0.68" stop-color="#30e050"/><stop offset="0.78" stop-color="#18c8f0"/><stop offset="0.88" stop-color="#2218f2"/><stop offset="1" stop-color="#2218f2"/></radialGradient><ellipse cx="873.0" cy="985.0" rx="21.2" ry="22.5" fill="url(#bg873_985)"/>
<rect x="916.8" y="933.8" width="89.2" height="91.8" fill="#3c3c3c"/>
<rect x="916.8" y="933.8" width="89.2" height="91.8" filter="url(#streak)" opacity="0.22"/>
<g clip-path="url(#mt21)">
<clipPath id="mt21"><rect x="916.8" y="933.8" width="89.2" height="91.8"/></clipPath>
<path d="M956.5 944.6 C953.9 946.0 951.5 948.1 949.4 951.2 C947.3 954.3 945.6 958.9 944.1 963.2 C942.6 967.5 941.4 972.4 940.5 976.9 C939.5 981.5 940.5 987.0 938.5 990.7 C936.4 994.4 929.7 996.5 928.0 999.0 C926.3 1001.4 929.3 1000.5 928.3 1005.4 C927.3 1010.3 909.8 1024.5 922.2 1028.4 C934.5 1032.2 989.8 1032.2 1002.4 1028.4 C1015.1 1024.5 999.3 1010.3 997.9 1005.4 C996.5 1000.5 996.6 1001.4 994.0 999.0 C991.4 996.5 984.7 994.4 982.6 990.7 C980.5 987.0 982.0 981.5 981.5 976.9 C981.0 972.4 981.1 967.5 979.7 963.2 C978.2 958.9 975.0 954.6 972.6 951.2 C970.2 947.9 968.1 944.2 965.5 943.1 C962.8 942.0 959.2 943.2 956.5 944.6Z" fill="url(#mgrad)" filter="url(#fur)"/><rect x="959.7" y="933.8" width="2.6" height="38.6" fill="#c8c8c8" opacity="0.55" filter="url(#mbl)"/>
</g>
<path d="M951.0 960.0h15.5v3.1h-15.5zM944.8 963.1h3.1v3.1h-3.1zM969.6 963.1h3.1v3.1h-3.1zM941.7 966.2h3.1v3.1h-3.1zM972.7 966.2h3.1v3.1h-3.1zM938.6 969.3h3.1v3.1h-3.1zM975.8 969.3h3.1v3.1h-3.1zM978.9 972.4h3.1v3.1h-3.1zM935.5 975.5h3.1v3.1h-3.1zM978.9 975.5h3.1v3.1h-3.1zM935.5 978.6h3.1v3.1h-3.1zM978.9 978.6h3.1v3.1h-3.1zM935.5 981.7h3.1v3.1h-3.1zM978.9 981.7h3.1v3.1h-3.1zM935.5 984.8h3.1v3.1h-3.1zM978.9 984.8h3.1v3.1h-3.1zM935.5 987.9h3.1v3.1h-3.1zM978.9 987.9h3.1v3.1h-3.1zM978.9 991.0h3.1v3.1h-3.1zM938.6 994.1h3.1v3.1h-3.1zM975.8 994.1h3.1v3.1h-3.1zM941.7 997.2h3.1v3.1h-3.1zM972.7 997.2h3.1v3.1h-3.1zM944.8 1000.3h3.1v3.1h-3.1zM969.6 1000.3h3.1v3.1h-3.1zM947.9 1003.4h21.7v3.1h-21.7z" fill="#5c12f0"/><path d="M947.9 963.1h21.7v3.1h-21.7zM944.8 966.2h27.9v3.1h-27.9zM941.7 969.3h34.1v3.1h-34.1zM938.6 972.4h40.3v3.1h-40.3zM938.6 975.5h40.3v3.1h-40.3zM938.6 978.6h40.3v3.1h-40.3zM938.6 981.7h40.3v3.1h-40.3zM938.6 984.8h40.3v3.1h-40.3zM938.6 987.9h40.3v3.1h-40.3zM938.6 991.0h40.3v3.1h-40.3zM941.7 994.1h34.1v3.1h-34.1zM944.8 997.2h27.9v3.1h-27.9zM947.9 1000.3h21.7v3.1h-21.7z" fill="#2218f2"/><radialGradient id="bg959_983" cx="0.547" cy="0.429" fx="0.547" fy="0.429" r="0.5"><stop offset="0" stop-color="#f01810"/><stop offset="0.45" stop-color="#f01810"/><stop offset="0.56" stop-color="#f0f018"/><stop offset="0.68" stop-color="#30e050"/><stop offset="0.80" stop-color="#18c8f0"/><stop offset="0.90" stop-color="#2218f2"/><stop offset="1" stop-color="#2218f2"/></radialGradient><ellipse cx="959.0" cy="983.5" rx="21.2" ry="21.2" fill="url(#bg959_983)"/>
<rect x="1007.6" y="933.8" width="89.4" height="91.8" fill="#3c3c3c"/>
<rect x="1007.6" y="933.8" width="89.4" height="91.8" filter="url(#streak)" opacity="0.22"/>
<g clip-path="url(#mt22)">
<clipPath id="mt22"><rect x="1007.6" y="933.8" width="89.4" height="91.8"/></clipPath>
<path d="M1049.5 943.2 C1046.8 944.8 1044.8 947.9 1042.4 951.2 C1040.0 954.6 1036.8 958.9 1035.3 963.2 C1033.8 967.5 1034.1 972.4 1033.4 976.9 C1032.8 981.5 1033.4 987.0 1031.3 990.7 C1029.3 994.4 1023.0 996.5 1020.9 999.0 C1018.8 1001.4 1019.9 1000.5 1018.6 1005.4 C1017.3 1010.3 1000.5 1024.5 1013.0 1028.4 C1025.4 1032.2 1080.9 1032.2 1093.4 1028.4 C1106.0 1024.5 1089.2 1010.3 1088.1 1005.4 C1087.1 1000.5 1089.0 1001.4 1087.1 999.0 C1085.2 996.5 1078.9 994.4 1076.8 990.7 C1074.7 987.0 1075.4 981.5 1074.6 976.9 C1073.7 972.4 1072.9 967.5 1071.5 963.2 C1070.0 958.9 1067.8 954.9 1065.6 951.2 C1063.5 947.6 1061.2 942.7 1058.5 941.4 C1055.8 940.0 1052.2 941.5 1049.5 943.2Z" fill="url(#mgrad)" filter="url(#fur)"/><rect x="1052.7" y="933.8" width="2.6" height="38.6" fill="#c8c8c8" opacity="0.55" filter="url(#mbl)"/>
</g>
<path d="M1046.4 964.5h15.5v3.1h-15.5zM1043.3 967.6h3.1v3.1h-3.1zM1061.9 967.6h6.2v3.1h-6.2zM1040.2 970.7h3.1v3.1h-3.1zM1068.1 970.7h3.1v3.1h-3.1zM1037.1 973.8h3.1v3.1h-3.1zM1068.1 973.8h3.1v3.1h-3.1zM1034.0 976.9h3.1v3.1h-3.1zM1071.2 976.9h3.1v3.1h-3.1zM1034.0 980.0h3.1v3.1h-3.1zM1071.2 980.0h3.1v3.1h-3.1zM1034.0 983.1h3.1v3.1h-3.1zM1071.2 983.1h3.1v3.1h-3.1zM1034.0 986.2h3.1v3.1h-3.1zM1071.2 986.2h3.1v3.1h-3.1zM1034.0 989.3h3.1v3.1h-3.1zM1071.2 989.3h3.1v3.1h-3.1zM1034.0 992.4h3.1v3.1h-3.1zM1071.2 992.4h3.1v3.1h-3.1zM1037.1 995.5h3.1v3.1h-3.1zM1068.1 995.5h3.1v3.1h-3.1zM1037.1 998.6h3.1v3.1h-3.1zM1068.1 998.6h3.1v3.1h-3.1zM1040.2 1001.7h6.2v3.1h-6.2zM1065.0 1001.7h3.1v3.1h-3.1zM1046.4 1004.8h15.5v3.1h-15.5z" fill="#5c12f0"/><path d="M1046.4 967.6h15.5v3.1h-15.5zM1043.3 970.7h24.8v3.1h-24.8zM1040.2 973.8h27.9v3.1h-27.9zM1037.1 976.9h34.1v3.1h-34.1zM1037.1 980.0h34.1v3.1h-34.1zM1037.1 983.1h34.1v3.1h-34.1zM1037.1 986.2h34.1v3.1h-34.1zM1037.1 989.3h34.1v3.1h-34.1zM1037.1 992.4h34.1v3.1h-34.1zM1040.2 995.5h27.9v3.1h-27.9zM1040.2 998.6h27.9v3.1h-27.9zM1046.4 1001.7h18.6v3.1h-18.6z" fill="#2218f2"/><radialGradient id="bg1054_986" cx="0.608" cy="0.500" fx="0.608" fy="0.500" r="0.5"><stop offset="0" stop-color="#f01810"/><stop offset="0.28" stop-color="#f01810"/><stop offset="0.40" stop-color="#f0f018"/><stop offset="0.54" stop-color="#30e050"/><stop offset="0.68" stop-color="#18c8f0"/><stop offset="0.84" stop-color="#2218f2"/><stop offset="1" stop-color="#2218f2"/></radialGradient><ellipse cx="1054.5" cy="986.5" rx="18.4" ry="19.8" fill="url(#bg1054_986)"/>
<rect x="1110.5" y="933.8" width="90.1" height="91.8" fill="#3c3c3c"/>
<rect x="1110.5" y="933.8" width="90.1" height="91.8" filter="url(#streak)" opacity="0.22"/>
<g clip-path="url(#mt23)">
<clipPath id="mt23"><rect x="1110.5" y="933.8" width="90.1" height="91.8"/></clipPath>
<path d="M1152.5 943.4 C1149.8 945.1 1147.4 948.0 1145.3 951.2 C1143.2 954.5 1141.3 958.9 1139.8 963.2 C1138.3 967.5 1137.1 972.4 1136.3 976.9 C1135.5 981.5 1137.2 987.0 1135.1 990.7 C1133.0 994.4 1126.1 996.5 1123.7 999.0 C1121.3 1001.4 1122.1 1000.5 1120.8 1005.4 C1119.5 1010.3 1103.2 1024.5 1115.9 1028.4 C1128.6 1032.2 1184.0 1032.2 1197.0 1028.4 C1210.0 1024.5 1195.2 1010.3 1194.1 1005.4 C1193.0 1000.5 1192.6 1001.4 1190.3 999.0 C1188.0 996.5 1182.5 994.4 1180.4 990.7 C1178.3 987.0 1179.1 981.5 1177.7 976.9 C1176.4 972.4 1173.9 967.5 1172.4 963.2 C1170.9 958.9 1170.5 954.9 1168.7 951.2 C1166.9 947.6 1164.2 942.7 1161.5 941.4 C1158.8 940.1 1155.2 941.8 1152.5 943.4Z" fill="url(#mgrad)" filter="url(#fur)"/><rect x="1155.7" y="933.8" width="2.6" height="38.6" fill="#c8c8c8" opacity="0.55" filter="url(#mbl)"/>
</g>
<path d="M1154.3 971.5h15.5v3.1h-15.5zM1148.1 974.6h6.2v3.1h-6.2zM1169.8 974.6h3.1v3.1h-3.1zM1148.1 977.7h3.1v3.1h-3.1zM1172.9 977.7h3.1v3.1h-3.1zM1145.0 980.8h3.1v3.1h-3.1zM1172.9 980.8h3.1v3.1h-3.1zM1145.0 983.9h3.1v3.1h-3.1zM1176.0 983.9h3.1v3.1h-3.1zM1145.0 987.0h3.1v3.1h-3.1zM1176.0 987.0h3.1v3.1h-3.1zM1145.0 990.1h3.1v3.1h-3.1zM1172.9 990.1h3.1v3.1h-3.1zM1148.1 993.2h3.1v3.1h-3.1zM1169.8 993.2h6.2v3.1h-6.2zM1151.2 996.3h9.3v3.1h-9.3zM1163.6 996.3h6.2v3.1h-6.2z" fill="#5c12f0"/><path d="M1154.3 974.6h15.5v3.1h-15.5zM1151.2 977.7h21.7v3.1h-21.7zM1148.1 980.8h24.8v3.1h-24.8zM1148.1 983.9h27.9v3.1h-27.9zM1148.1 987.0h27.9v3.1h-27.9zM1148.1 990.1h24.8v3.1h-24.8zM1151.2 993.2h18.6v3.1h-18.6zM1160.5 996.3h3.1v3.1h-3.1z" fill="#2218f2"/><ellipse cx="1161.5" cy="986.0" rx="10.2" ry="9.0" fill="url(#cyg)" opacity="0.73"/>
<rect x="1202.6" y="933.8" width="90.6" height="91.8" fill="#3c3c3c"/>
<rect x="1202.6" y="933.8" width="90.6" height="91.8" filter="url(#streak)" opacity="0.22"/>
<g clip-path="url(#mt24)">
<clipPath id="mt24"><rect x="1202.6" y="933.8" width="90.6" height="91.8"/></clipPath>
<path d="M1240.5 943.6 C1237.8 945.1 1235.1 948.0 1233.2 951.2 C1231.4 954.5 1231.0 958.9 1229.5 963.2 C1228.0 967.5 1225.5 972.4 1224.2 976.9 C1222.8 981.5 1223.6 987.0 1221.4 990.7 C1219.3 994.4 1212.8 996.5 1211.5 999.0 C1210.1 1001.4 1213.9 1000.5 1213.3 1005.4 C1212.7 1010.3 1195.3 1024.5 1208.0 1028.4 C1220.7 1032.2 1276.5 1032.2 1289.6 1028.4 C1302.6 1024.5 1288.1 1010.3 1286.3 1005.4 C1284.4 1000.5 1281.7 1001.4 1278.5 999.0 C1275.3 996.5 1269.1 994.4 1267.0 990.7 C1264.9 987.0 1266.7 981.5 1265.8 976.9 C1265.0 972.4 1263.2 967.5 1261.7 963.2 C1260.2 958.9 1258.8 954.7 1256.8 951.2 C1254.7 947.8 1252.2 943.6 1249.5 942.3 C1246.8 941.0 1243.2 942.1 1240.5 943.6Z" fill="url(#mgrad)" filter="url(#fur)"/><rect x="1243.7" y="933.8" width="2.6" height="38.6" fill="#c8c8c8" opacity="0.55" filter="url(#mbl)"/>
</g>
<path d="M1242.8 975.5h12.4v3.1h-12.4zM1236.6 978.6h6.2v3.1h-6.2zM1255.2 978.6h6.2v3.1h-6.2zM1236.6 981.7h3.1v3.1h-3.1zM1258.3 981.7h3.1v3.1h-3.1zM1233.5 984.8h3.1v3.1h-3.1zM1261.4 984.8h3.1v3.1h-3.1zM1233.5 987.9h3.1v3.1h-3.1zM1261.4 987.9h3.1v3.1h-3.1zM1233.5 991.0h3.1v3.1h-3.1zM1261.4 991.0h3.1v3.1h-3.1zM1236.6 994.1h3.1v3.1h-3.1zM1258.3 994.1h3.1v3.1h-3.1zM1236.6 997.2h6.2v3.1h-6.2zM1255.2 997.2h6.2v3.1h-6.2zM1242.8 1000.3h12.4v3.1h-12.4z" fill="#5c12f0"/><path d="M1242.8 978.6h12.4v3.1h-12.4zM1239.7 981.7h18.6v3.1h-18.6zM1236.6 984.8h24.8v3.1h-24.8zM1236.6 987.9h24.8v3.1h-24.8zM1236.6 991.0h24.8v3.1h-24.8zM1239.7 994.1h18.6v3.1h-18.6zM1242.8 997.2h12.4v3.1h-12.4z" fill="#2218f2"/><ellipse cx="1249.0" cy="989.5" rx="9.6" ry="8.7" fill="url(#cyg)" opacity="0.78"/>
<rect x="1295.2" y="933.8" width="92.0" height="91.8" fill="#3c3c3c"/>
<rect x="1295.2" y="933.8" width="92.0" height="91.8" filter="url(#streak)" opacity="0.22"/>
<g clip-path="url(#mt25)">
<clipPath id="mt25"><rect x="1295.2" y="933.8" width="92.0" height="91.8"/></clipPath>
<path d="M1334.4 942.5 C1331.6 943.7 1329.1 947.8 1327.0 951.2 C1325.0 954.7 1323.4 958.9 1321.9 963.2 C1320.3 967.5 1318.9 972.4 1317.8 976.9 C1316.7 981.5 1317.4 987.0 1315.3 990.7 C1313.1 994.4 1306.5 996.5 1305.0 999.0 C1303.4 1001.4 1306.5 1000.5 1305.8 1005.4 C1305.1 1010.3 1287.8 1024.5 1300.7 1028.4 C1313.7 1032.2 1370.2 1032.2 1383.5 1028.4 C1396.9 1024.5 1382.6 1010.3 1380.8 1005.4 C1379.1 1000.5 1376.5 1001.4 1373.0 999.0 C1369.6 996.5 1362.4 994.4 1360.3 990.7 C1358.1 987.0 1360.7 981.5 1360.2 976.9 C1359.6 972.4 1358.3 967.5 1356.7 963.2 C1355.2 958.9 1353.1 954.5 1351.0 951.2 C1348.8 948.0 1346.4 945.3 1343.6 943.8 C1340.8 942.4 1337.2 941.3 1334.4 942.5Z" fill="url(#mgrad)" filter="url(#fur)"/><rect x="1337.7" y="933.8" width="2.6" height="38.6" fill="#c8c8c8" opacity="0.55" filter="url(#mbl)"/>
</g>
<path d="M1337.3 971.0h15.5v3.1h-15.5zM1331.1 974.1h6.2v3.1h-6.2zM1352.8 974.1h6.2v3.1h-6.2zM1331.1 977.2h3.1v3.1h-3.1zM1355.9 977.2h3.1v3.1h-3.1zM1328.0 980.3h3.1v3.1h-3.1zM1359.0 980.3h3.1v3.1h-3.1zM1328.0 983.4h3.1v3.1h-3.1zM1359.0 983.4h3.1v3.1h-3.1zM1328.0 986.5h3.1v3.1h-3.1zM1359.0 986.5h3.1v3.1h-3.1zM1331.1 989.6h3.1v3.1h-3.1zM1355.9 989.6h3.1v3.1h-3.1zM1334.2 992.7h3.1v3.1h-3.1zM1352.8 992.7h3.1v3.1h-3.1zM1340.4 995.8h9.3v3.1h-9.3z" fill="#5c12f0"/><path d="M1337.3 974.1h15.5v3.1h-15.5zM1334.2 977.2h21.7v3.1h-21.7zM1331.1 980.3h27.9v3.1h-27.9zM1331.1 983.4h27.9v3.1h-27.9zM1331.1 986.5h27.9v3.1h-27.9zM1334.2 989.6h21.7v3.1h-21.7zM1337.3 992.7h15.5v3.1h-15.5z" fill="#2218f2"/><ellipse cx="1345.0" cy="982.5" rx="10.5" ry="8.4" fill="url(#cyg)" opacity="0.62"/>
</g>
<g font-size="24" font-weight="bold" fill="#111" text-anchor="middle"><text x="979" y="708">Control</text><text x="1251" y="708.7" textLength="112" lengthAdjust="spacingAndGlyphs">MLN8237</text></g>
<rect x="830.7" y="717" width="264" height="3" fill="#111"/><rect x="1113" y="717" width="263.6" height="3" fill="#111"/>
<g font-size="24" fill="#111" text-anchor="middle">
<text x="793.6" y="776">Day</text><text x="795" y="800.8">10</text>
<text x="793.6" y="876.6">Day</text><text x="795" y="901.3">17</text>
<text x="793.6" y="974.3">Day</text><text x="795" y="999.1">24</text>
</g>
<rect x="1400.2" y="737" width="6.6" height="279.5" fill="url(#cbar)"/>
<g font-size="24" fill="#111"><text x="1414" y="834.9">4.0</text><text x="1414" y="927.3">2.0</text><text x="1414" y="1016.3">0.0</text></g>
<text x="1414" y="744.5" font-size="25" font-weight="bold" fill="#111">x10<tspan font-size="16" dy="-10.5">5</tspan></text>
<text transform="translate(1476,878.5) rotate(-90)" font-size="25.5" text-anchor="middle" fill="#111">Luminescence</text>
</svg></body></html>
